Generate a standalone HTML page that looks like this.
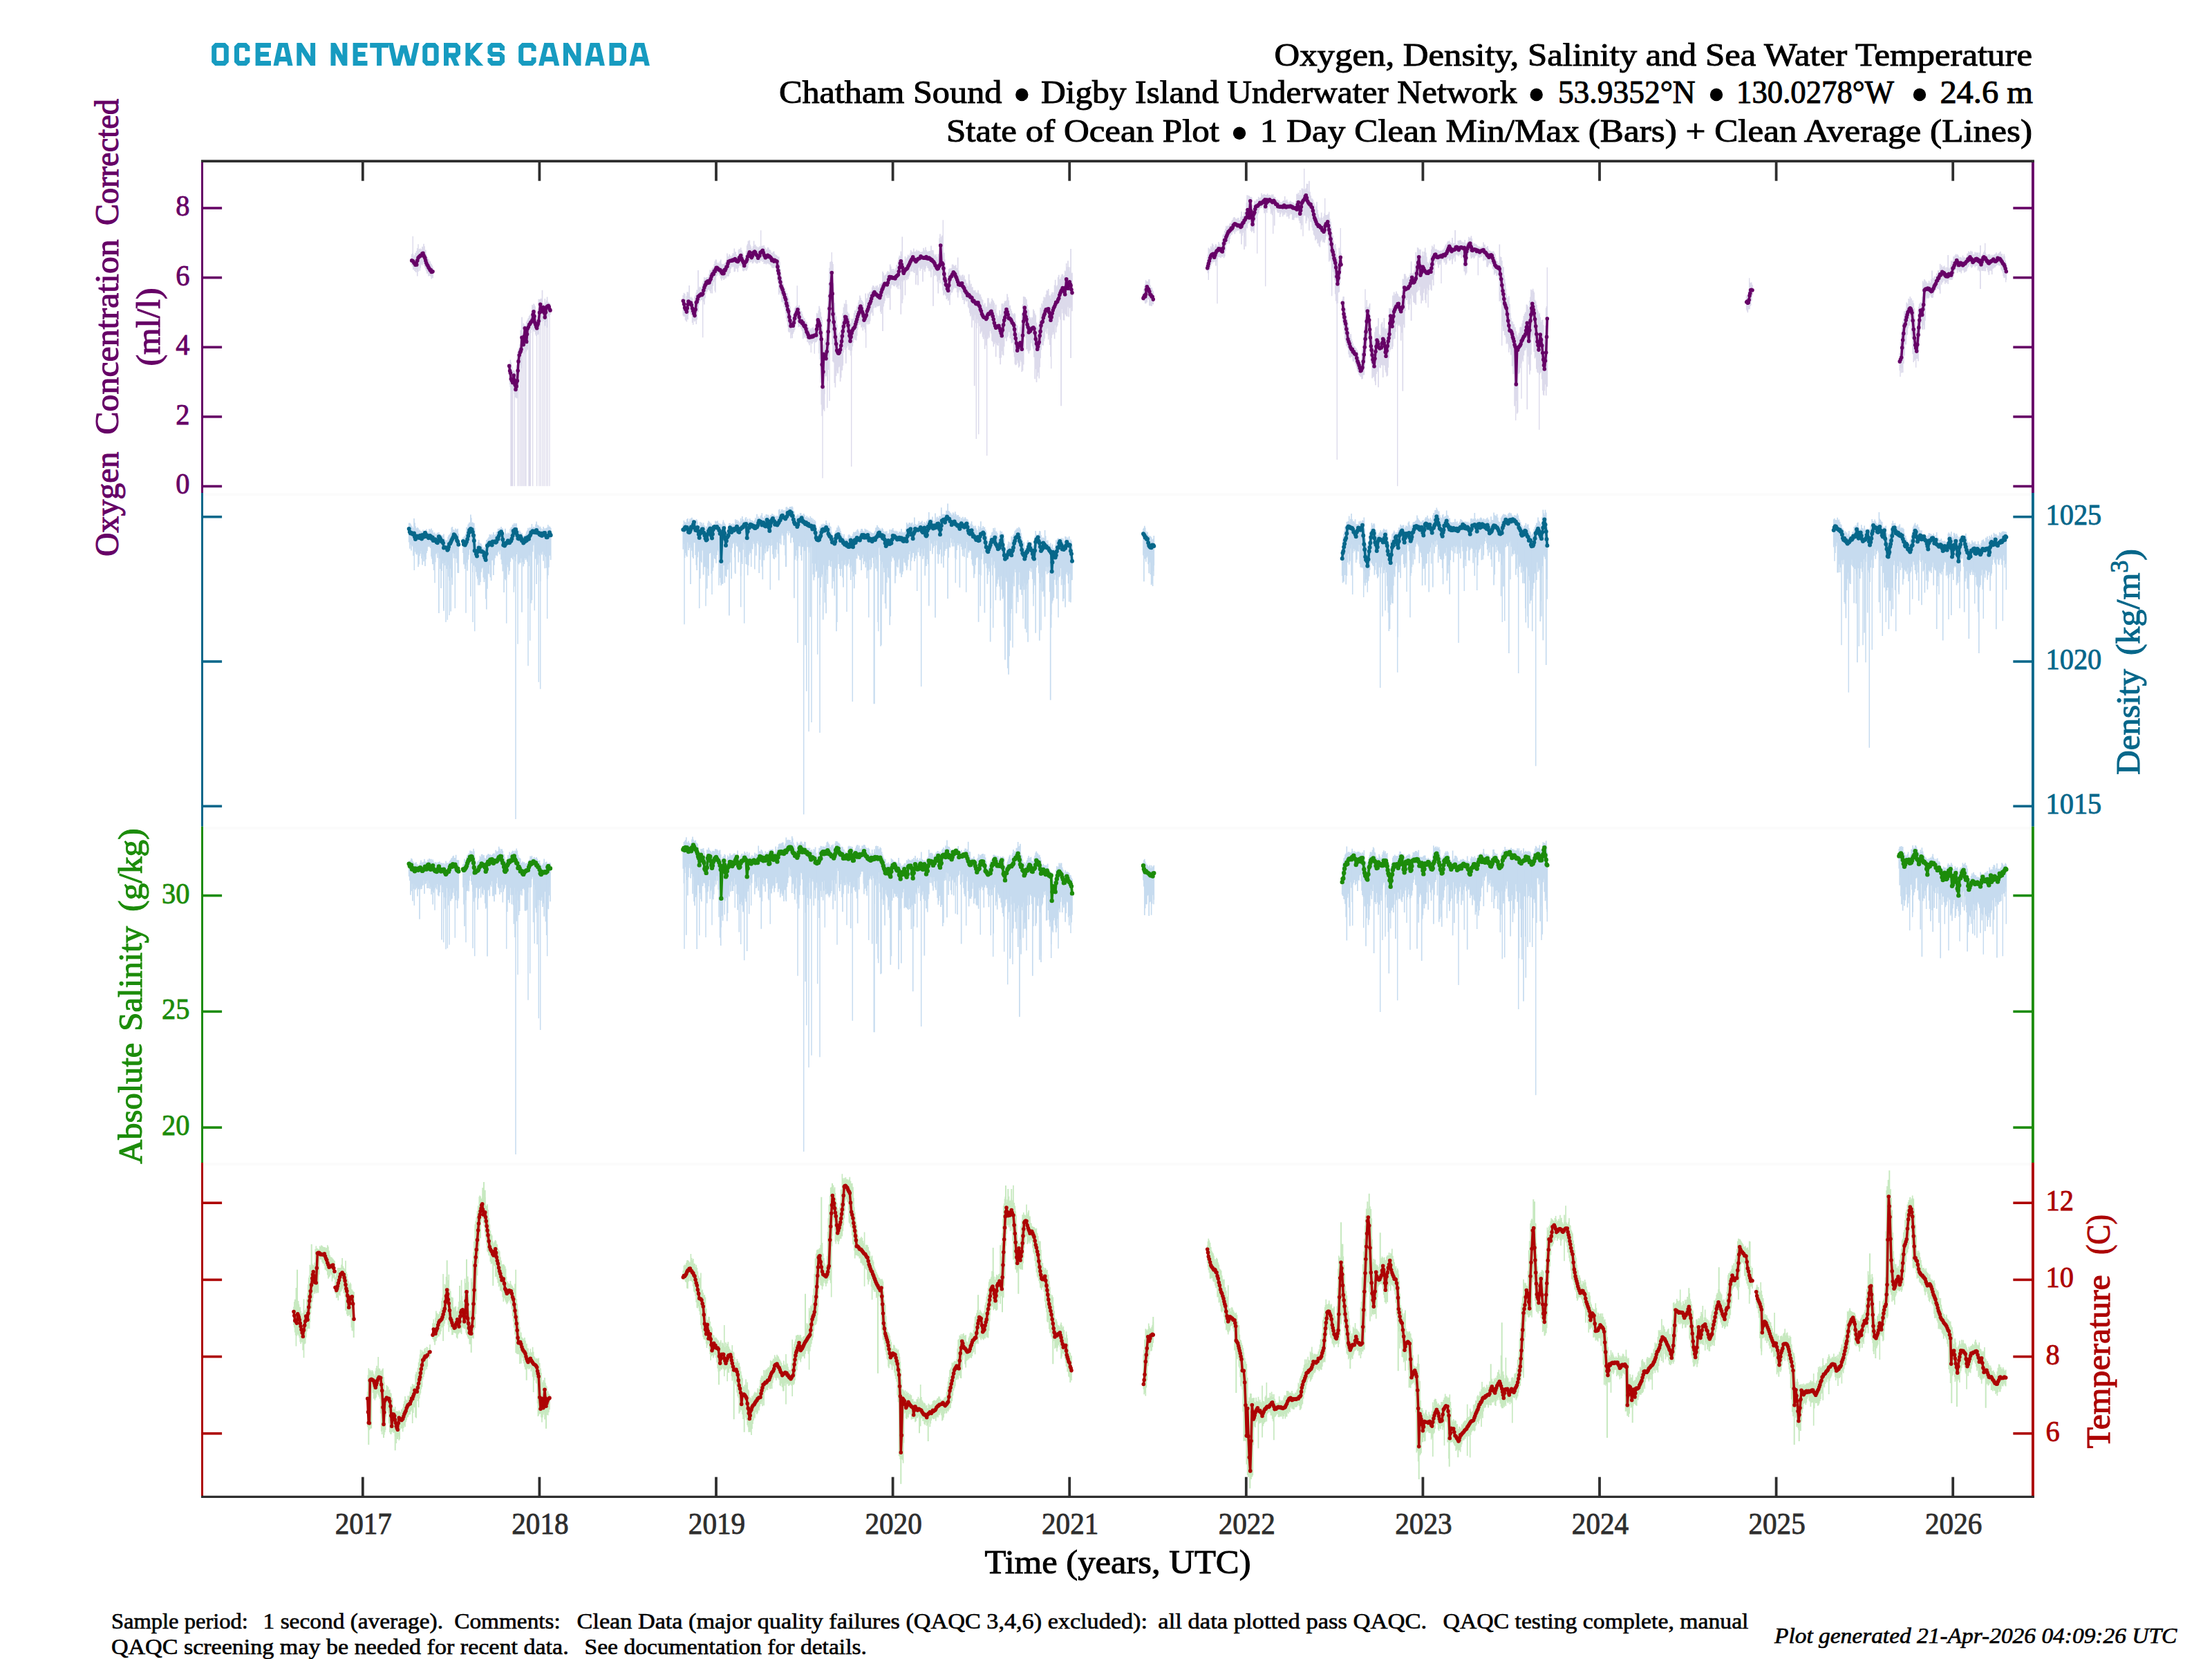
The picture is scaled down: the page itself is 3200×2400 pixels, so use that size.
<!DOCTYPE html><html><head><meta charset="utf-8"><title>plot</title><style>html,body{margin:0;padding:0;background:#fff}svg{display:block}text{font-family:"Liberation Serif",serif}</style></head><body>
<svg width="3200" height="2400" viewBox="0 0 3200 2400">
<rect width="3200" height="2400" fill="#fff"/>
<path d="M595.7 367.8v15.5m1.1-16.9v18.8m1-17.4v22.5m1.1-19.2v18.7m1.1-20.5v22.7m.9-26.2v26.6m.9-24.7v26.2m.9-31v27.6m1.1-31.5v40.4m1.2-36v29.5m1.2-32.8v24.5m1.1-24v31.2m.9-32.2v27.9m1-26.7v22m.9-21v19.3m.9-24.3v26.9m1-25.4v21.4m1-27v29.4m1-25.8v28.8m.9-22.6v24.7m.9-25.8v28m.9-21.5v24.4m1.1-20.5v23.9m1.1-21.9v21.7m1.1-20.4v24.3m1.1-21v20.5m1.1-21v21m1.1-17.6v18.6m.9-17.6v21.2m.9-19.5v16.4m.9-13.7v15.6" stroke="#dcdaeb" stroke-width="1.7" fill="none"/>
<path d="M736.7 527.0v18.9m.9-18.4v28.4m.8-35.3v39.3m.9-35.5v40.2m1.2-34.1v38m1.2-32.1v29.2m.8-29.2v26.3m.8-27.4v30.4m.9-28.6v32.9m.9-31.7v36.2m.9-30.5v31.1m1.2-46.9v48.1m1.1-61.8v61.6m.9-67.3v57.7m.8-61.4v51.9m1.2-54.6v38.2m1.1-42.5v30.2m.9-50.7v49.5m.8-49v44.4m1-63.8v74.1m1.2-51.5v29.6m1.1-43.4v37.8m1-35.9v34.9m1-33.3v41.4m1.2-41.8v38.7m1.2-43.3v42.2m.8-43.9v41.6m.8-43.7v43.6m1.1-45.8v34.5m1.2-37.3v25.5m1.1-27.4v26.9m1.1-25.5v25.2m1.1-31.2v26.3m1.1-36.1v32.6m1-30.5v33.2m1-36.7v40m1-39.1v37m1-34.5v37.2m.9-28.7v32.7m.9-24.4v26.6m.9-27.9v26.6m.9-28.6v27.7m.8-37.7v36.6m.9-50.2v51m1.2-50.9v43.8m1.2-43.7v38.7m.8-40v29.5m.8-28.8v33.4m1.2-46.1v42.2m1.2-22.9v24.9m.9-23.7v23.9m.8-23.8v21.9m.9-30.3v39.7m1.2-34v28.2m1.2-31.3v29.8m.9-34.7v44.5m.8-37.3v15.6m.9-15.1v18.8m.9-17.5v19.4m.9-19.8v17m.9-14.9v14.8" stroke="#dcdaeb" stroke-width="1.7" fill="none"/>
<path d="M988.3 426.9v29.5m1.2-32.6v34.3m1.2-33.2v32.9m.9-24.8v30.3m.8-25.6v26.1m.9-35.8v37.6m.9-43.3v39.2m.9-39.1v39.8m.9-37.6v30.3m1.1-41.8v38.9m1.1-22.6v22.9m1.1-20.5v23m1.1-25.4v26.8m1.2-24.8v35.6m1.1-30.7v29m1.1-26.2v23.9m1.2-34v36.2m1.2-38.5v37m1.1-40.5v45.7m.9-49.6v43.3m.9-42.2v26.5m.9-56v60.4m1.1-35.4v25.4m1.1-26.5v21.6m1.1-20.9v19.2m1.1-18.2v17.3m1.2-20.7v21.2m1.1-25.4v25.3m1.1-28v30.1m1.1-35.3v39.4m1.1-37.3v28.5m.9-29.3v22.9m.9-24.1v21.1m.9-20.2v20.2m1.1-20.9v18.3m1.1-19.1v18m1.1-22.2v23.2m1.1-29.1v30.9m1.1-29.5v32.5m1.1-33.6v27.5m1-29.9v36.2m1-37.6v26.8m1-26.5v21m1-26.2v24.4m1-28.5v42.9m1-45.4v29.8m1-29.7v24.1m1-19.7v18.6m1.1-16.5v13.7m1.1-16v15.4m1.1-13v16.3m1.1-21v21.4m1.1-23.3v27.6m1-21.6v24.3m1.1-23v20.3m1.1-21.2v20.1m1-19.7v22.7m1-23.9v22.7m1-23.2v19.2m1-21.6v24.5m1-27.3v24.5m1-33.4v28.3m1-24v29.1m1-28.2v27.8m1.1-31.8v28.2m1.1-26.1v25.1m1-23.8v18.2m1.1-18v13.6m1-16v17.8m1-20.5v18.5m1-17.8v19.4m1-26.7v33.7m1-28.7v28.2m1-28.5v23.2m1-19.4v20.7m1-19v18.8m1-18.3v23.3m1.1-32.1v26.1m1.1-27.5v24.5m1.1-23.6v22.9m1.1-25.6v26.5m1-22.9v23.6m1-20.9v23.2m1-21.8v25.7m1-22v22.7m1-20.2v19.3m1-19.4v18.4m1-21.6v21.1m1-27.1v29.2m1-36.9v34.8m.9-36.9v34.7m.9-39.2v34.5m.9-34.4v30.7m.9-31.8v30.2m1-23.7v25.6m1-23.5v22.7m1-18.5v17.7m1.1-18.7v21.8m1.1-24.9v24.6m1.1-32.5v30.6m1.1-24.2v22.3m1-23.3v25.9m1-23.7v24.4m1-23.7v24.7m1-19.8v19.9m1-23.9v22.5m1.1-21.5v20m1.1-22.3v23.9m1.1-23v19.3m1.1-20v21.3m1.1-21.9v20m1.1-20.6v23.8m1-22.7v21.2m1-22.9v27.3m1-24.5v22.2m1-20.6v22.4m1.1-19.8v20.8m1.1-22.2v20.2m1.1-22.7v23.6m1.1-23.1v22.6m1-20v21.6m1-21.3v21.1m1-19.7v21m1-18v19.2m1-19.2v21.6m1-21.1v21.5m1-23.7v24.2m1-24.5v23m1-19.3v20.3m1.1-19.2v18.2m1.1-17.9v24.2m1.1-22.8v27.9m.9-26.5v35.2m.9-34.7v37.6m.9-38.3v54.9m1.1-47.7v44.4m1.1-33.9v35.3m1.1-27.8v30.5m1.1-24.2v34.1m1.1-28.9v28.4m1.1-25.4v27.7m1.1-23.5v28.8m1.2-26.9v30.2m1.1-27v33.1m1-29v36.6m1-36.9v40.8m1-35.9v43.4m1-41v48.4m1.1-43.4v44.5m1.1-37.6v36.4m1.1-27.2v37m1.1-30v24.5m1.1-25.2v30.5m1.1-33.7v27.2m1.1-30.8v28.2m1.2-34.2v31.6m1.1-33.4v27.2m1.1-28.5v25.6m1.1-26.3v21.3m1.1-20.2v22.5m1.1-23.1v30.6m1.1-31.7v29.8m1.1-25.4v26.7m1.1-22.9v23.5m1.1-22.7v25.4m1.1-21.8v24.9m1.1-21.3v32.5m1.1-28.8v23.6m1-24.9v28.3m1.1-25v23.9m1.1-21v23.1m1-23.8v23.6m1-19v24.4m1-20.7v17.9m1-18.3v23.2m1-19.7v22.3m1-22.3v18m1-20.2v21.6m1-18.9v19.4m1.1-22.8v23.1m1.1-23.9v21.3m1-19v18.7m1.1-18.7v18.3m1.2-21.1v22.7m1.2-31.5v31m.9-42.4v41.2m.8-40.2v38.5m.9-35.4v31.6m.9-39.2v28.9m.9-35.4v68.6m.9-65.1v74.1m1.2-68.9v102.4m1.1-95.6v127.3m.9-122.6v138.8m.8-124.6v117.1m.8-94v83.7m.9-85.2v93.8m1.1-100.3v78m1.1-80.4v54.4m1.1-64.5v64.7m1.2-83v80.5m1.1-98.8v108m.9-123.4v107.4m.9-125.4v106.3m.9-128.5v108.8m1.1-117.4v98.2m1.1-98.8v93.7m1.1-94.4v103.6m.9-102.4v119.2m.8-116v141.1m1.2-113.7v115.2m1.1-86.6v115.9m1.1-102.7v109.3m1.2-103v86.5m1.1-74.5v66.8m.9-53.5v56.6m.8-47.9v48.7m.9-50.9v42m1.1-50.3v49.4m1.2-51.1v72.8m1.1-79.7v74.2m.9-79.7v69.1m.8-73.9v73.7m.9-82.5v75.8m1.1-84.6v65.6m1.2-71.2v63.9m1.1-62.6v65.9m1.1-72.1v91.8m1.1-85.8v63.5m1.1-52.4v46.8m1-44.5v47.7m1-47.7v52.8m1-46.4v45.5m1-38.2v40.4m1.1-40v46.9m1.1-53.4v46.2m1.1-45.6v39.6m1.1-40.4v35m1.2-42.9v38.4m1.1-42.4v39.8m1-38.4v41.7m1-44.5v44.9m1-49v42.3m1-43.8v34.9m1.1-39.4v32.6m1-35.8v32.5m1.1-39.1v42.2m1.1-39v34.7m1.1-31.6v39.9m1.1-38.9v37.4m1.1-35.6v41.6m.9-38.5v33.4m.8-27.7v27.4m1.1-24v27.7m1.1-52.2v57.2m1.1-49.2v36.5m1.1-37.8v35.1m1.2-41.6v44.8m1.1-43.6v40.3m1-43.4v46m1-46.7v42.5m1-42.8v32.7m1-33.6v31.6m1.1-37v36.3m1-38.7v43.7m1.1-43.2v32.6m1.1-30.5v26.5m1.1-25.4v28.2m1.1-31.4v31.6m1-30.4v27.5m1.1-29.5v30.8m1.1-27v26.5m1.2-27.8v27.5m1.1-31.9v31.3m1.1-30.6v39.5m1.1-41v43.9m1.1-45.2v40.1m1-56.1v86.3m1-84v48.6m1-44.8v40.2m1-40.4v37m1.1-38.4v29.3m1.1-29.6v30.7m1.1-33.7v37.3m1.1-39.2v33.6m1.2-32.4v37.8m1.1-36.8v32.9m1-44.7v65.8m1-62.7v32m1-27.1v22.1m1-23.5v23.2m1.1-20.2v20.3m1-23.2v24.7m1.1-20.8v21.3m1.1-24.1v22.3m1.1-24.4v22.9m1.1-27.9v32.6m1-32.4v30.6m1.1-36.5v40.9m1-45.8v40.4m1-43.1v36.9m1-35.6v47.3m1-54.9v91.3m1-87.2v39.3m1-64.5v96.4m1-63.2v32.2m1-29.7v27.3m1.1-25.4v25.3m1.1-34.3v56.2m1.1-52.4v27.7m1.1-29v31.8m1-33.7v29.1m1-32.2v35.3m1-33.8v30m1-30.2v28m1-31v26.5m1-31.5v27.8m1-26v29.1m1-27.7v27.8m1-28.4v22.3m1.1-27.3v34.3m1-29.7v30.9m1.1-30.7v27m1.1-27.6v48.2m1-50.3v36.7m1-33.4v33.2m1-35.4v49.9m1-49.7v24.4m1-23.9v20.9m1-19.1v26.6m1-27.2v23.2m1-23v24.2m1-24.9v22.3m1-22.5v43.7m1-48.7v26.8m1-24.2v29.1m1-27.2v29.9m1-35.6v31m1-26.8v23.3m1-21.3v19.2m1-19.3v23.7m1-23.6v24.5m1-25.1v29.1m1-29.4v26.8m1-26.9v30m1-37.2v45.6m1-39.3v28.2m1-28.4v26.9m1-26.3v80.5m1-75.6v26.3m1-24.1v29.9m1-29.7v27.2m1-29v30.3m1.1-26.7v28.3m1.1-24.5v32.3m1.1-40v56.9m.9-54.4v35.3m.9-60.7v56.9m.9-63v71.2m.7-62.8v52.1m1.3-56.6v52.6m1-54.5v71.1m1-44.8v53.5m.9-50.2v57.1m.9-61.7v57.7m.9-48v50.4m.9-40.6v42.3m.8-34.3v34.9m.9-29.6v34.7m1.2-30.4v28.9m1.2-37.6v41.3m1.1-46.2v45.1m1.2-45.8v53m.9-52.9v38.5m.9-38.7v32.1m.9-32.6v35.7m.9-40.8v40.5m.8-40.7v37.6m.9-36.6v34.5m1.1-33.2v30.8m1.2-31v32.5m1.1-33.8v32.8m1-28.6v29.6m1-29.1v35m1-50.5v58m1-39.1v32m1-25.8v22.6m1-22.5v22.3m1-20.7v22.8m1-21.2v24m1-26.7v32.9m1.1-33.8v36.9m1-33.2v33.1m1.1-35.6v41.6m1.1-36v30.4m.9-29.7v28.6m1-24v26.9m.9-26.2v25.3m.9-21.7v22.1m1-22.2v30.4m1-47.1v49.1m1.1-40.4v47.2m1.1-40.1v44.8m1-46.9v44.4m1.1-38.8v57.7m.9-58.5v43.8m1-39.3v43.8m.9-43.3v37.2m.9-37v137.7m1-138.5v35.9m1.1-32.3v44.2m1-44.4v51.8m1.1-50.8v37.8m1.1-42.2v47.8m1.1-43.3v39.6m1.1-37.4v45.7m1.1-46.4v57.1m1.1-53.2v51m1.1-48.2v46.3m1.1-44.6v53.5m1.1-46.8v49.8m1-46.3v39.7m1-45.5v66.5m1-59.4v43.7m1-45.9v56.3m1.1-55.9v45m1.1-57.6v59m1.1-59v54.4m1-48.2v51.2m1-48.9v39.2m1-39.7v33.3m1-36.3v46.2m1.1-50.6v61.4m1.1-59.1v60.5m1.1-59.2v66.1m1.1-63.2v59.8m1.2-51.2v48.5m1.1-54.6v75.5m1.1-63.4v43.7m1-40.7v43.4m1.1-38.9v39.9m1.1-43.4v39.2m1.1-47.4v69.4m1.1-61.6v70.8m1-72.7v62.8m1.1-78.1v68.6m1.1-69v74.3m1.2-72.5v73.6m1.1-76.1v63.3m1.1-66.3v54.3m1.1-53.4v52.3m1.1-53.8v58.9m1.1-68.2v62.7m1.1-58v56.5m1.1-51.9v45.8m1-37.5v37.5m1-38.6v47.6m1-42.4v38.2m1-35.8v47.2m1.1-43.9v43.3m1.2-41.8v40.3m1.1-39.6v55m.9-57v63.5m.8-62v72.3m.9-62.5v64m1.2-58.4v57.8m1.2-56.7v50.7m1.1-38.9v42.6m1-44.5v50.9m1.1-48.5v46.9m1.1-57.3v48.2m1.2-51.7v54.3m1.1-70.4v84.9m1.2-97.5v95.7m1.2-107.2v98.3m.8-98.5v78.7m.8-77.8v56.1m.9-56.2v49.8m.9-47.2v56.3m.9-55.4v72.3m1.1-64.8v64m1.1-57.2v60.8m1.1-59.9v63.2m1.1-53.2v49.4m1.1-48.5v47.5m1.1-44.8v34.6m1.1-37.6v33m1.1-32.4v41.6m1.1-53.7v56.9m1.1-54.6v67m1.2-63.2v94.6m1.1-92.1v77.9m1.2-67.3v86.3m1.2-79.4v71m.9-63.5v53m.8-63.7v68.6m.9-71.3v79.7m.9-84.9v68.8m.9-86.4v73.3m.9-70.5v58.5m1.1-67.3v60.2m1.1-58.1v58.6m1.1-64.7v64.8m1-70.2v63.9m1-61.6v57.9m1-59.8v49.9m1-53.8v49.7m1.1-55.5v62.5m1.2-62.3v54.5m1.1-56.8v73.1m1.1-63.9v57.7m1.1-57.6v71.5m1.1-67v84m1.1-90.5v63.7m1.1-66.4v61.9m1.1-57.9v54m1.1-57.8v60.8m1.2-71.3v77.9m1.1-85.5v65.8m1-57.4v67.8m1-66.1v58.3m1-60.7v58.4m1-70v65.3m1.1-68.5v60.9m1.1-54.3v53.6m1.1-54.6v59.1m1.1-62.2v187.1m1.1-190.4v50.1m1.1-50.5v56.7m1.1-53.5v63.5m1.2-64.8v65m1.1-71.9v61.8m1-60.1v61.9m1-74v76.1m1.1-71v71.5m1.2-80.5v67.1m1.2-58v72.3m1.1-66.4v53.5m.9-59.1v58.7m.9-85.3v158m.9-121.9v48m1-49.6v55.7" stroke="#dcdaeb" stroke-width="1.7" fill="none"/>
<path d="M1654.0 423.0v10.6m.9-15.6v17.6m.9-21.7v21.6m.9-24.6v28.1m.9-33.8v34.1m.8-32v27.2m.9-27.6v30.5m1.2-29.8v25.5m1.2-28.9v28.9m1.1-29v38m1.1-29.6v29.9m1.1-26.2v25.7m1.1-26v27.1m1.1-24.1v21.2m1.1-18.6v19.1" stroke="#dcdaeb" stroke-width="1.7" fill="none"/>
<path d="M1746.7 371.9v20.4m.8-23.7v26.6m.8-36.7v36.2m1.1-34.9v31.1m1.2-29.9v27.9m1.1-32.7v28.4m1.1-26.6v24.1m1.1-29.8v26.6m1.1-24.9v25.6m.8-21.5v20.9m.9-19.5v18.3m1.1-22.3v22.9m1.1-25.5v31.7m1.1-29.4v23.2m1-22.4v18.9m1-19.7v15.3m1-20.5v22.1m1-19.6v19.2m1-17.5v18m1.1-17.1v18.2m1.1-22.9v20.4m1.1-24.4v25.5m1.1-32.3v30.2m1.2-31.3v34.7m1.1-39.2v37m1.1-40.1v32.4m1-36.6v28m1.1-26.1v24.2m1.1-26.2v22.3m1-21.7v21.5m1-22.5v26.2m1-28.9v22.4m1-23.1v18.6m1.1-18.9v16.9m1.1-20.2v20.4m1-21.6v18.2m1.1-20.8v20.5m1-21.8v19.7m1-19.3v24m1-22.2v17m1-16.5v18.5m1.1-18.8v16.5m1.2-17.7v18.9m1.1-19.1v17.9m1.1-15.1v15.2m1-14.2v19.1m1.1-24.4v22.5m1.1-30v47.4m1-40.4v27.9m1-28.1v23.8m1-24.2v19.7m1-25.5v54.2m1.1-53.6v26.6m1.1-31v53.7m1.1-63.3v34.6m.9-45.7v48.1m.8-35.6v29m1.2-41v40.4m1.1-39.7v37.9m1.4-36.3v38.4m1-38.7v49.3m1-48.5v50.3m1.3-39.5v37.3m1-32.1v32.7m1-37.6v40.7m.9-46.7v37.6m.9-36.2v28.8m.9-30.2v25.6m1-28v21.6m1-21.6v23.4m1-23.2v21.3m1-25v23.3m1.1-21.5v17m1-17.3v15m1.1-15.6v15.4m1.1-21.5v21.1m1-18.8v16.8m1-16.4v15m1-15.9v21.8m1-22.4v27.9m1-26.8v26.2m.7-25.7v24.3m1-24.8v24.2m1-24v26m1-28.1v23.4m1-21v14.6m1-14.4v15m1-15.7v16.9m1-15.8v19m1-18.7v26.2m1-28.1v26.1m1-24.7v28.5m1-29.9v24.1m1-21.2v18.6m1-17.7v41.4m1-41.5v17.2m1-13.7v13.9m1-14v14.6m1-14.4v17.6m1-15.9v17.8m1-18.3v18.1m1-17.8v16.3m1-14v21.7m1-20.8v16.6m1-17.5v14.3m1-12.9v13.9m1-16.8v22.4m1-23.4v21.2m1-21.2v18.7m1-24.5v26.4m1-20.8v17.6m1-17v17.4m1-19.1v25m1-22.1v17.1m1-15.3v20m1-18.8v21.9m1-24.6v19.6m1-20.8v17.1m1-16.2v18.5m1-16.8v16.7m1-17.5v25.6m1-25.1v25m1-24.4v24.7m1.1-23.2v20m1-18.6v14.7m1.1-20.8v24.4m1.1-34.1v34.7m1.2-34.6v32.3m1.1-34.2v36.7m1.2-33.4v37.1m1.2-44.2v48m.9-40.5v39m.8-38.8v49.4m.9-59.6v53.4m1.1-53.3v40.2m1.2-39.1v30.7m1.1-29.2v36.8m.9-38.2v38.3m.8-36.6v31.7m.9-34.9v51m1.2-57.5v53.8m1.2-53.6v48m1.1-37.2v39.1m1.1-54.2v71.9m1.1-56.2v34.9m1.1-29.5v38.3m1.1-34.1v34.4m1.1-34.1v41.7m1.1-40.2v44.7m1.2-40.5v46.5m1.1-44v45.5m1.1-38.8v45.5m1.1-49.1v47.5m1.1-54.2v54.4m1.1-42.7v48.6m1.1-42v41.1m1.1-36.9v41.6m1.1-38.7v40.2m1.2-42.8v34.9m1.1-42.1v40m1.1-32.5v30.1m1.1-26.2v31.7m1.1-37.6v36.6m1.1-41.2v42.8m1.1-40.4v36m1.1-35.9v31m1.2-30.9v25.2m1.2-25.6v31.6m1-32.8v45.8m1-48.6v71.8m1.1-62v60.4m1.2-56.1v54.2m1.2-46.5v50m1.1-41.4v49.6m.9-45.6v46.4m.9-39.5v45.5m.9-38.8v47.2m.9-45.1v48.9m.9-52.5v72.4m.9-66.1v76.2m1.3-67v70.9m1-65.8v65.1m1.2-63.1v47.6m1.1-64.8v64m1-58.8v46.4m1-44.2v35.5m.7-34.8v26.2" stroke="#dcdaeb" stroke-width="1.7" fill="none"/>
<path d="M1942.3 432.7v32.5m.9-36.2v40.8m.8-40.7v45.6m.9-35.3v43.7m.9-34.6v42.3m.9-44.5v48.5m1.1-38.5v44.3m1.1-38.5v39.5m1.1-33.8v36.2m1.1-31.1v39.5m1.1-30.3v35m1.1-31.2v31.5m1-34.2v33.3m1-26v25.3m1-21.7v22.3m1-19.5v25.9m1.1-22.1v22.4m1.1-22.3v20m1.1-18.1v23.1m1.1-22v25.2m1.1-23v26.8m1.1-24.3v28.8m1.1-23.9v25.2m1.1-21.6v24.9m1.1-20.3v21.9m1.1-19v20.7m.9-22.2v21.1m.9-33.7v38.1m.9-43.6v43m1.2-54.1v48.9m1.1-62.4v62.1m.9-70v59.1m.9-72.4v62.5m.9-77.7v66m1.2-75.9v69.7m1.1-60v47.7m1.2-46.9v38.8m1.2-41.8v52.2m.9-54.8v69.1m.8-50.4v59.2m.9-47.2v54.3m.9-43.3v47.5m.9-38.3v57.5m.9-54v51.3m1-41.4v42.5m1-54.3v52.2m1-63.4v71.3m1-78.3v84m1-83.5v67.2m1-69.1v52.9m1-49.6v62.7m1-77.5v100m1-77.4v41.8m1.1-39.4v46.2m1.1-46.6v47.6m1.1-63.9v59.3m1.2-61.9v62.4m1.2-54.2v71.9m.9-72.9v54.3m.8-67.6v68.4m.9-53v53.8m.9-50v56.7m.8-60.6v63.6m1.2-59.9v65.7m1.1-69.5v68.5m.9-72.1v60.3m.9-76v62.7m.9-72.8v63.5m.8-63.5v60.9m.9-59v58m1.1-59.3v43.8m1.2-42.7v57.5m.9-77.3v74m.9-62.2v51.6m.9-68.5v60.4m1.1-55.5v62.6m1.1-65v55.3m1.1-58.9v48.1m1.1-45.1v42.2m1.1-41v42.8m1.1-39.9v42.8m1.1-42.1v40.5m1.2-39.7v42.5m1.1-42.8v63.1m.9-60.1v48.9m.8-61v48.8m.9-65.8v162.2m1.2-162v65.7m1.2-73.2v77.8m1.1-77.6v53.4m1.1-50.5v34.8m1.1-30.1v30m1.1-31.5v28.4m1.1-30.1v39m1-39v47.4m1.1-50.1v42.3m1.1-45.2v36.8m1.2-53.9v85.8m1.1-68.7v29.8m1.1-29.1v31.6m1.2-33v42.5m1.1-45.8v47.1m1.1-56.2v56.5m1.1-74v76.4m1.2-72v54.2m1.2-65.3v63.7m1-62.9v52.4m1-50.6v59.3m1.1-58.4v53.2m1.2-54v66.7m1.1-55.3v66.8m1.1-69.2v64.5m1.1-70.5v71.3m1.1-65.2v53.9m1.2-59.6v53.6m1.1-59.2v75.4m1.1-68.5v73.1m1-67v54.8m1.1-47.4v37.9m1.1-35.3v36.4m1-36.9v39m1-41.6v32.6m1-36.5v37.7m1-43.9v50.5m.9-58.1v59.9m.9-65.1v49.5m.9-47v46m1-46.8v55.7m1-59.5v44.3m1-37.9v24.1m1-22.9v18.5m1.1-19.3v18.2m1.1-17v16.2m1.1-15.5v20.1m1-20.5v25.9m1-23.9v17.7m1-18.6v20.2m1-20.6v18.7m1.1-17.8v14.4m1.1-15.5v13.4m1-14.3v13.2m1.1-13.8v15.9m1.1-17.7v20.8m1.1-23.5v20.7m1.1-23.3v29.4m1.1-28.7v26.9m1-30.4v23.8m1-25.9v25m1-23.6v19.6m1-21.4v29m1.1-26.8v26.2m1.1-25.3v23.7m1.1-23.4v19.2m1-27v38.4m1-29.1v22.1m1-23.5v20.9m1-20.7v18m1.1-36.9v45.3m1.1-25.4v15.4m1-14v13.1m1.1-13.4v15.4m1-21.5v20.9m1-20.4v22.3m1-23.1v19.8m1-20.2v21.5m1-21.3v19.4m1-17.5v23.9m1-21.6v17.4m1-19.3v18.1m1-15.9v33.7m1-34.9v42m.9-45.9v45.4m.8-40v42.1m.8-42.2v43.8m.9-44.7v43.2m1.1-44v33.4m1.2-36v22.2m.9-27.3v23m.9-21.3v20.2m.9-19.4v20.2m.9-22v27.7m.8-29.9v32.6m.9-28.6v27.9m1-22.7v21.2m1-19.3v19.6m1-18.7v20.8m1-22.3v20.8m1-18.8v16.5m1-17.2v16.6m1-15.4v15m1-13.9v13.4m1.1-11.7v13.5m1.1-14.3v15.9m1.1-15.1v16.2m1.1-15.3v12.7m1.1-13.4v14.7m1-15.3v13.5m1.1-13.1v11.7m1.1-18.2v26.9m1-23.3v17.9m1-18.4v22.9m1-19.2v19m1-17.1v16.9m1-19.2v28.9m1-29.8v30.3m1-26.7v24.1m1-20.9v18.2m1.1-18.9v18.1m1.1-17.4v19.4m1-18v17.3m1.1-17.8v19.2m1.1-18.9v24.7m1.2-25.6v26.7m1.1-24.4v31.9m1.1-30v28.2m1.1-22.5v21.9m1.1-17.7v21.9m1.1-21.2v20.5m1.1-17.7v15.9m1-14.6v21.7m1.1-50.4v82.7m1.2-64.8v63.4m1.2-62.6v66.1m1.1-61.2v95.1m1.2-84.6v78.3m.9-79.7v92.8m.9-80.7v77.7m.9-71.8v80.8m.9-75.4v68.7m.8-60.8v70.3m.9-62.6v72.3m1.2-67.1v65.4m1.2-61.3v63.6m1.1-69.8v81.6m1.2-70.1v62.9m.9-49.7v51.9m.9-44.8v53.4m.9-49.1v44.4m.9-42.3v63.4m.8-64.6v58.2m.9-53.2v71.1m.9-72.3v63.2m.9-56.7v112m.9-114.2v113.2m1.3-107.3v100.8m1.4-95.8v114.3m.9-110.7v109m.8-109.8v53.8m.9-59.3v59.2m.9-58.2v56.4m.9-65.4v59.1m.9-59.9v53.2m1.1-52.6v52.4m1.1-57.9v52.5m1.1-56.7v59.4m1.1-65.9v57.2m1.2-60.2v53.5m1.1-56.2v55.1m.9-54.4v51.1m.8-62.8v61.4m.9-60.7v151.1m1.2-149v72.5m1.2-68.7v80.4m1.1-92.5v106.9m1.2-112.2v106.7m.9-117.6v94.3m.9-89.1v65.6m.9-69.4v67.1m.9-69.4v61.7m.8-58.8v64.1m.9-61.9v86m1.2-75.2v84.9m1.2-82.5v80.5m1.1-75.6v92.8m1.2-86v90.7m1-88.2v89.2m1-84.6v76m1.2-77.9v88.9m1.1-83.1v80.7m1.2-73.9v73m1.2-75.5v85.4m1-85.9v102.4m1-95.1v101.2m.8-79.9v81.1m.8-81.3v74.2m1.2-94.2v85.3m1.2-110.7v126.7m.8-129.2v105.7m.8-105v115.6" stroke="#dcdaeb" stroke-width="1.7" fill="none"/>
<path d="M2526.7 426.9v21.3m.9-18.6v20.5m.8-20.9v21.6m.9-29.6v26.2m.9-29.3v28.5m.8-32.2v32.9m.8-38.6v34.3m.9-33.7v32.4m1.1-33.2v26.6m1.2-23v15.4" stroke="#dcdaeb" stroke-width="1.7" fill="none"/>
<path d="M2748.3 510.9v25.3m1.2-41.5v37.4m1.2-49.7v57m1-64.9v58.2m1-67.5v73.8m1.1-78.5v65.6m1.2-75.8v64.1m1.2-61.5v45.2m1.1-50.8v51.1m.9-61v47.6m.9-45.2v44.4m.9-45v36m1.1-43.2v38.6m1.1-37.3v38.3m1.1-42.6v36.5m.9-31.3v29.7m.9-32.3v52.6m.9-45.6v50.7m1.2-54.9v77.8m1.1-73.6v85.5m1.2-77.8v75.8m1.2-60.6v58.8m1-46.1v43.3m1-40.8v42.3m1.1-53.1v53m1.2-69.6v73.3m.8-78.8v64.2m.9-68.1v56.2m.8-57.3v47.6m.8-48.7v35.1m1.2-35.9v30.1m1.2-38v47.1m1-69.6v70.5m1-68.3v61.9m1.3-66.5v72.3m.9-71v58.5m.9-56.1v30.4m.9-31v24.7m1-22.7v20.6m1-18.6v20.3m1-22.3v22.5m1-25.7v24.5m1.1-21.6v18.3m1-18.4v18.3m1.1-23.1v25.9m1.1-38.3v39.5m1.1-29.2v28.5m1.1-27.4v23m1.1-26.3v23m1.1-22.5v20.4m1.1-21.2v20.6m1.1-24.3v21.9m1.1-22.3v21.6m1-25.6v26.7m1-26.7v20.9m1-20.4v27.6m1-37.7v43m1-36.1v17.6m1-22.6v28.2m1-26.1v23.1m1-21.6v21.4m1.1-23.1v20.3m1-21.4v21.5m1.1-19v23.8m1.1-20v17.4m1.1-21.5v22.7m1.1-22v19.1m1-37.3v41.8m1.1-22.4v15.9m1.1-17.1v17.1m1.2-21.1v21.4m1.1-27.5v27.6m1.1-27.2v27.3m1.2-27.7v25.4m1.1-31.7v27.7m1.1-27v24.1m1.1-26.4v21.8m1.2-23.6v23m1.2-21.3v17.9m.9-19.3v26.9m.8-25.8v21.7m.9-20.3v20.4m1-16.4v18.9m1-21.3v21.6m1-21.8v21.3m1-20.4v22.8m1.1-21.2v17.3m1.1-22v20.1m1.1-17.1v19m1.1-19.8v22.8m1.1-21.6v20.1m1-19.7v19.9m1.1-21.1v20m1.1-25.4v21.6m1-21.9v19.9m1-22.7v22.2m1-20.5v17.2m1-17.7v17.2m1-19.3v22.7m1-20.8v22.9m1-23.7v23m1-19.2v17.7m1.1-17.2v16.1m1.1-16.7v16.4m1-19.4v22.3m1.1-20.3v18.6m1.1-20.1v19.9m1.1-18.8v17.3m1.1-18.2v26m1.1-22.1v19.9m1.1-23.6v27.2m1.1-37.6v62.9m1.1-46.5v16.2m1-17.8v22m1-24.1v23.7m1-24.7v25.3m1-27.6v24.4m1.1-26.5v29.9m1.1-26.9v26.9m1.1-24.3v19.7m1-17v16.5m1-17.5v21.1m1-22.9v26m1-26v30m1.1-30.3v24.6m1.1-22.7v21.5m1.1-19.2v20.2m1.1-23.5v28.6m1.1-25.9v17.7m1-19.2v18.6m1.1-19.9v18.2m1.1-18.6v19.1m1-19.9v18.1m1-20v18.7m1-16.1v15.5m1-14.4v14.6m1-16.9v16m1-16.4v18.4m1-19.9v18.9m1-19.8v20.9m1.1-17.1v22.5m1.1-23.1v25.1m1.1-21.6v24m.9-21.3v26.3m.9-31.9v34.2m.9-31.3v31.5m1.2-25.2v23.7m1.1-20v24.3" stroke="#dcdaeb" stroke-width="1.7" fill="none"/>
<path d="M1016.7 426.7V488.3M1190.0 558.3V691.7M1192.7 516.7V595.0M1196.7 500.0V590.0M1200.0 500.0V580.0M1231.7 496.7V675.0M1203.3 365.0V400.0M1100.7 333.3V366.7M597.3 341.7V376.7M605.0 353.3V373.3M1002.7 453.3V470.0M1035.0 396.7V423.3M1153.3 413.3V453.3M1252.7 463.3V503.3M1173.3 486.7V510.0M1178.3 486.7V511.7M1412.3 440.0V635.0M1415.7 440.0V628.3M1427.7 463.3V659.3M1934.3 413.3V665.0M1761.0 366.7V439.3M1830.7 300.0V414.3M1818.7 300.0V366.7M1886.7 244.0V286.7M1364.3 318.3V380.0M1520.7 463.3V533.3M1252.7 463.3V503.3M1306.0 396.7V433.3M1748.3 388.3V405.0M1841.7 295.0V338.3M1885.0 295.0V341.7M1800.0 323.3V343.3M1926.7 360.0V428.3M1916.7 286.7V323.3M1934.3 413.3V665.0M2021.7 453.3V703.3M2192.7 556.0V608.3M2226.7 505.0V621.7M2238.3 386.7V460.0M2066.0 396.7V445.0M2085.0 373.3V410.0M1926.7 386.7V428.3M1939.3 330.0V373.3M2201.0 500.0V576.7M2172.7 406.7V500.0M1975.0 418.3V453.3M2120.0 383.3V398.3M2138.3 363.3V398.3M2528.3 440.0V452.3M2530.7 402.3V420.0M2749.0 521.7V545.0M2771.7 508.3V531.7M2871.7 351.7V373.3M2901.7 395.0V408.3" stroke="#dcdaeb" stroke-width="1.4" fill="none"/>
<path d="M739.0 544.8V703.3M740.3 550.2V703.3M741.7 555.0V703.3M744.3 550.8V703.3M749.0 538.0V703.3M751.0 515.7V703.3M753.3 507.0V703.3M755.3 488.6V703.3M757.3 500.0V703.3M759.3 476.7V703.3M761.0 489.8V703.3M765.0 470.8V703.3M766.3 468.8V703.3M767.3 467.3V703.3M770.7 458.7V703.3M776.7 475.0V703.3M780.0 458.0V703.3M782.3 445.7V703.3M785.0 447.4V703.3M787.3 452.3V703.3M790.0 448.3V703.3M792.3 444.0V703.3M795.0 446.0V703.3" stroke="#dcdaeb" stroke-width="1.3" fill="none"/>
<path d="M591.7 756.5v28.1m1.1-28.2v37.4m1.1-36.1v30.1m1.1-27.5v36.1m1-34.9v27.1m1-25v26.9m1-27v40.4m1-54v46.9m1-40.5v36.7m1-31.8v37.3m1-34.5v37.4m1-36.7v37.8m1-39.5v36.9m1-35.6v55.6m1-51.9v48.4m1-50.1v37.9m1-35.1v31.8m1-32.9v29.1m1-27.5v38.3m1-38.9v48.3m1-50.9v35.3m1-33v43.5m1-43.2v36.5m1-35.9v49.5m1-52v42.2m1-43.7v34.7m1-31.6v28.3m1-27.7v21.6m1-20.4v20.6m1-26.1v24.5m1-22.8v24.8m1-25.5v26.9m1-28.3v40.7m.9-35.6v38.7m.9-41.1v49m.9-45.7v45.4m1-43.9v53m1-54.8v34m1-31.7v40.6m1-40.4v28.7m1-29.3v28m1.1-29.7v36.8m1-36v28.3m1.1-29.5v117m1.1-114.6v35.5m1-35.2v50.2m1-48.9v76.8m1-75.9v51.1m1-51.6v40.7m1-40.3v36.4m1-38.8v111.2m1-104.4v34.8m1-33.1v36.9m1.1-36.8v29.7m1.1-28.3v40.6m1.1-41.8v36.3m.9-40.9v41m.9-43.3v59.9m.9-60.9v66.7m1.1-67.6v50.3m1.1-52.6v114.3m1.1-121.3v72.3m1.1-73.6v84m1.2-79.8v34.4m1.1-33.9v41m1.1-39.9v33.4m1.1-36.5v33.6m1.1-31.9v41.8m1.1-42.4v48.8m1.1-49.7v64m1.1-56.8v57" stroke="#c6dbef" stroke-width="1.7" fill="none"/>
<path d="M670.0 777.6v22.5m.9-22.5v39m.9-41.4v38.7m.9-36.7v45.7m1.1-50.9v46.4m1.2-55.6v51.2m1.2-51.3v63.1m1.1-67.1v50.8m.9-52v45.3m.9-47v39.3m.9-37.3v28m.9-41.2v118.1m.9-113.5v42.6m.9-35.9v58.9m1.1-59.2v72.4m1.2-71.3v61.7m.8-61.6v55.6m.9-48.7v53m1.1-43.7v47.2m1.1-34.1v41.3m1.1-37.4v44m.9-45v48.4m.9-53.4v62.6m.9-65.6v55.2m1.1-51.1v61.4m1.1-60.5v56.1m1.1-55.5v41.1m1.1-38.5v33.4m1.1-30.6v29m1.1-27.4v41.8m1.1-43.9v50.6m1.2-50.1v45.8m1.1-52.2v80.9m1.1-85.6v100.5m1.2-101v71.3m1.1-73v50.5m1.1-52.1v53.3m1.1-57.3v44.5m1.1-43.7v61.3m1.2-62.2v67m1.1-63.9v34.6m1.1-37.3v37.2m1.1-40.5v62m1.1-58.6v43.9m1.1-43.9v33.9m1.1-34.3v30.5m1.1-34v33.6m1.1-34.1v35.5m1.2-39.8v34.3m1.1-33.8v31.8m1.1-32.8v37.7m1.1-36.9v31.1m1.1-34.2v47.4m1.2-45.3v52.2m1.1-51.6v61.8m.9-54.9v45.2m.9-44.1v84.4m.9-77.9v39.4m.9-53.8v73.2m.9-66.8v68.4m.9-67.7v64.3m1.1-62.9v43.8m1.1-46.7v50.1m1.1-49.1v60.2m1.1-59.8v53.9m1.1-60.6v47.6m1.1-49.5v43.7m1.1-44.8v45.1m1.2-48.2v50.2m1.1-50.5v45.8m1.1-47.7v91.7m1.2-89.8v46.8m1.1-48.4v54.9m1.1-54.8v44.8m1.1-39v35.9m1.1-32.3v48.4m1.2-47v48.4m1.1-49v46.5m1.1-44.5v44.9m1.1-42.1v35.5m1.1-36.7v114.7m1.1-110.9v38.2m1.1-37.9v44.4m1.1-44.7v41.2m1.1-41.5v33.1m1.2-35.1v37.8m1.1-41.4v39.1m1.1-40.7v45.4m1.1-48.9v102m1.1-99.7v37.5m1.1-40.3v55.7m1.1-55.1v40.5m1.1-41.4v109.8m1.1-114.9v110.3m1.2-104.7v34.7m1.1-36.1v26.6m1.1-26.3v22.3m1.1-21.7v45.7m1.1-50.2v49.7m1.1-53.8v90.7m1.1-85.9v57.8m1.1-57.2v42.1m1.1-41.3v53.9m1.2-51.7v40.7m1.1-41.7v79.3m1.1-76.8v35.7m1.1-32v34.4m1.1-36.9v32.4m1.1-35.8v49.4m1.1-47.3v38.5m1.1-37.3v56.9m1.1-58.4v41.4m1.2-41.5v58m1.1-58.9v74.7m1.1-78.4v73m1.1-70.5v59m1.1-59.2v42.2m.8-41.2v36.5m.9-35.3v46.4" stroke="#c6dbef" stroke-width="1.7" fill="none"/>
<path d="M988.3 758.7v36m1.1-41.8v34m1.2-31.9v52m1.1-51.4v44.4m1.1-44v47.6m1-52.7v54.7m1.1-55.7v34.6m1.1-29.8v41.4m1-41.6v38.2m1-42.3v37.5m1-34.2v91.3m1-95.6v42.4m1-43.1v48m1-45.2v54.5m1-54.5v56.5m1-54.2v31.1m1.1-30.9v31.3m1.1-31v48.7m1.1-51.9v66.4m.9-65.6v73m.9-70.3v51.6m.9-46.4v38.8m.8-36.2v34.3m.9-35.7v33.7m1.1-39.7v81.9m1.2-76.3v51.1m.9-55.7v57.7m.9-55v37.7m.9-37.4v33.3m.9-36.1v75.2m.8-71.4v38.8m.9-38.2v59.7m1.2-54.9v54.4m1.2-58.2v59.5m1.1-59.1v89.6m1.2-95.2v66.1m1.1-69v79.4m1.1-78.2v46.3m1.1-43.3v42.3m.9-43.7v42.4m.9-40.6v71.9m.9-70.7v48.8m.9-48.5v66.3m.9-65.9v61m.9-62.5v44.8m1.1-44.9v49.5m1.1-54.3v55.4m1.1-54v59.7m1.1-60.8v49.2m1.1-49.8v42.7m1.1-39.4v41.2m1.1-40.6v56.2m1.2-55.9v78.6m1.1-78.1v84.8m.6-83.2v87.3m1.4-88.1v86.3m.9-89.6v89.1m.8-92.1v46.6m.9-43.7v62.7m.9-60.8v53.5m.9-52.1v74.6m.9-66.1v65.1m.9-62.7v65m.9-68.2v51.5m.9-54.3v60.4m1.1-62.9v55.1m1.1-59.3v133.6m1.1-133.7v56.9m1.1-55.2v40.9m1.1-41.3v79.2m1.1-77.7v33.1m1.1-35.7v29.7m1.2-28.3v26.9m1.1-27.1v48m1.1-55v78.8m1.1-75.8v31.3m1.1-33.6v38.2m1.1-34.6v35.6m1.1-37.9v60.2m1.1-56.3v39.8m1.1-42v44m1.2-49.1v83.6m1.1-80.2v59.5m1.1-65.7v69m1.1-64.9v44.1m1.1-41.6v30.9m1.1-31.5v33.6m1.1-36.8v56.1m1.1-58v68m1.4-63.2v64.4m1-66.5v81.7m1-77.9v63.5m1-63.6v48.1m1-52.1v46.9m1-44.9v47.8m1-45.8v46.4m1-48.3v40.8m1-39.6v40.9m1-40.3v29.2m1-28.4v31.7m1.1-34.2v71m1-74.5v41.4m1.1-39.1v52.4m1.1-59.9v42.3m1.1-36.2v33.2m1.1-35.8v40.7m1-38.9v79.9m1.1-79.1v59.9m1-63.5v44.8m1-45.8v39.7m1-42.7v77.4m1-71.8v90.4m1-88.9v53.9m1-52.2v59.3m1-64.1v47.3m1-44.1v50.9m1.1-56.3v45.4m1.2-45.3v53.9m1.1-52.3v51.7m.9-52.7v48.5m.8-46.3v41.9m.9-36.9v37m.9-40.7v37.8m.9-41v45m.9-44v33.4m1-36.6v46m1-44.1v56.9m1-57.3v63.3m1-62.3v63.7m1.1-62.5v48m1.1-46.6v58.6m1.1-60.7v49.2m1.1-48.4v37.8m1.2-38.3v55.1m1.1-63.8v102.1m1-103.2v49.6m1-46.6v40.2m1-37.9v46.1m1-50.7v37.6m1.1-37.9v34.9m1.1-32.8v36.1m1.1-36.9v50.7m1.1-46.4v38.1m1.1-42.4v65.3m1.1-69.8v86.3m1.1-86.6v38.1m1.2-36.3v32.8m1.1-32.1v38.7m1.1-40.1v33.9m1.1-35.3v38.3m1.1-38.4v52.6m.9-51v42.2m.9-44.3v45.7m.9-44.2v43.1m1.1-37.9v45.5m1.1-44.7v125.4m1.1-118.8v63.2m1.1-60.6v55.2m1.1-57.9v49.7m1.1-50.6v65.7m1.1-67.3v63.7m1.2-61v43.3m1.1-44.4v45m1-48.5v43m1-42.7v60.7m1-57.7v65.8m1-66.7v46.8m1.1-46.2v46.1m1-48v53.9m1.1-52v51.8m1.1-48.8v49m1.1-47.8v39.1m1.1-42v35.2m1-31.4v41.2m1.1-43.1v43.2m1-41.6v49.8m1-48.5v41.2m1-45.5v145.8m1-141.1v32m1-34.5v42m1-37.8v61.7m1-64.3v80.4m1-76v84.4m1.1-87.4v83m1.2-81.1v61.5m1.1-54.6v66.1m1.1-60v57.8m1.1-53.1v38.4m1.1-43.7v69.9m1.1-68.7v67.6m1.1-73.3v113.3m1.1-113.4v88.4m1.1-91.7v76.1m1.2-75.3v71.7m1.1-73.3v138.8m1.1-136.8v57.9m1.1-59.5v99.8m1.1-99.2v73.8m1.1-79.5v134.3m1.1-130.5v67.2m1.1-64.9v85.8m1.1-84.8v59m1.2-62.7v53.9m1.1-48.9v57.3m1.1-56.7v58.3m1.1-51v42.7m1.1-38.2v77.9m1.1-77.7v60.8m1.1-56.5v62.8m1.1-66.9v87.7m.9-91.9v52.7m.9-54.9v52.7m.9-53.4v146.3m.9-150v58.5m.9-56.1v50.8m.9-56.2v41.7m1.1-39.7v53.7m1.1-51.5v58.4m1.1-55.2v65.6m1-62v51.6m1-50.1v38.4m1-35.3v59.6m1-59.6v73.6m1-76.7v44.9m1-38.7v37.8m1-37.5v31m1-31.4v40.4m1.1-39.9v37.2m1.1-36.8v38.4m1.1-44v41.6m1.1-42.9v36.4m1.2-34.7v46.2m1.1-45.1v63.4m1.1-62.9v42.2m1.1-43.1v51.8m1.1-54.8v60.4m.9-63.3v64.7m.9-62.3v79.4m.9-81.1v58.6m1-59.6v62m1-61.8v38.6m1-41.1v41.5m1-42.7v35.3m1.1-33.1v35.6m1-33v34.1m1.1-33.3v38.5m1.1-41.9v42.4m1.1-45.2v60.1m1.1-60.2v42.5m1-39.8v35m1.1-33.9v47.6m1-47v43m1-47.6v47.6m1-46.4v55.2m1-55v47.8m1-43.5v66.3m1-69.9v58.6m1-56.9v53.6m1-52v54.1m1.1-55.7v41.3m1.1-39.8v54.1m1.1-53.8v50.3m1.1-49.6v36m1.1-35.6v35.6m1-35.4v43.3m1.1-44.7v31.8m1.1-34v37.8m1-42.4v59.1m1-59.5v46.4m1-49.7v66.7m1-64.4v39.4m1-38.4v29.8m1-27.8v25.9m1-26.4v38.4m1-37.2v45.4m1.1-44.9v49.9m1.1-52.4v49.4m1-47.8v94.7m1.1-91.8v53.2m1.1-51.2v57.9m1.2-59.6v104.5m1.1-103.6v111m1.1-112.1v74.6m1.1-71.1v50m1.1-49.6v62.8m1.1-63.9v65.3m1.1-70.4v138.2m1.1-132.2v49m1.1-54.8v46.3m1.2-46.6v38.8m1.1-40.6v43.3m1.1-39.9v38.5m1-38v42.8m1.1-41.1v74m1.1-76v65.6m1-64v50.4m1-51.2v45.2m1-42.8v50.1m1-50.1v38.6m1-40.6v38m1-37.9v60.6m1-59.2v56.5m1-61.9v70.1m1.1-64.3v60.3m1.1-61.6v57.3m1-55.2v36.5m1.1-37.8v43.3m1.1-44.3v45.3m1.2-49.9v53.5m1.1-62.2v66.8m1.1-64.5v61.1m1.2-60.3v50.7m1.1-53.5v45.6m1.1-45.9v41.4m1.1-39v67m1.1-68.7v55.1m1.2-56.1v50.8m1.1-45.8v39.2m1.1-41.1v41.1m1.1-51.3v63.5m1.1-54v50m1.1-48.8v44.5m1.1-44.6v29.8m1-29.3v34.1m1.1-36.4v41.6m1.1-45.2v38.7m1.2-35.8v47.9m1.1-48.9v48.8m1.1-49.5v45.6m1.1-47.1v40.8m1.1-36.6v51.1m1.2-50.6v46.1m1.1-49.3v38.3m.9-35.7v75.1m.9-75.3v57.9m.9-59.6v63.4m.9-65.6v55.6m.9-55.4v45.4m.9-48v65.1m1.1-75.1v135.3m1.1-125.8v30m1.1-29.2v45.7m1-46.4v34.8m1-33.9v35m1-39.1v54m1-48.5v39.5m1-37.9v35.4m1-36.3v28.9m1-40v150.8m1-141.7v37.4m1.1-40.7v33.8m1.1-34.8v54.2m1.1-51.4v65.3m.9-66.4v53.1m.9-55.9v55.5m.9-50.3v43.4m.9-48.2v46.9m.9-59.4v81m.9-71.2v61.2m1.1-61.3v40.6m1.1-41.1v77.9m1.1-77.2v59.7m1-60v53.2m1-53.3v50.2m1-55.1v45.3m1-45.1v54.9m1.1-65.4v137.4m1.1-127v67.8m1.1-66.9v51.3m1.1-49.5v50.7m1.2-49.7v35.9m1.1-33.9v40.7m1-39.7v44.8m1-49.1v38.7m1-37.3v47.9m1-44.7v39.3m1.1-44.9v67m1.1-63.5v65.4m1.1-62.7v49.4m1.1-50.6v40.7m1.1-41v44.1m1.1-41.7v39.3m1.1-39.1v102.4m1.2-97.4v34.1m1.1-37.8v42.2m1.1-39.7v43.9m1.1-47.6v56.9m1.1-53v43m1.1-44.7v55.8m1.1-57.6v45.1m1.1-43.1v38.2m1.1-36.7v32.3m1.2-32.7v55.8m1.1-53.5v43.1m.9-41.1v43.9m.8-39.9v31.8m.9-30.5v35.5m1.1-38.8v39.6m1.2-42.9v55.1m1.1-50.2v57.7m1.1-54.5v56.6m1.1-58.2v75.6m1.1-72.2v66.3m1.1-69.9v57.1m1.1-53.1v43.1m1.1-40.8v39.5m1.1-34.8v35m1.2-45.8v139.1m1.1-134.4v65.6m1.1-68.7v47.4m1.1-55.4v78.2m1.1-68v44.8m1.1-45.9v31.1m1.1-33.5v39.9m1.1-38.1v53.5m1.1-53.7v123.9m1.2-120.4v48.8m1.1-46.4v46.3m.9-39.7v46.6m.8-41.7v64.7m.9-61.6v48.8m1.1-48.9v39.5m1.2-43.2v47.7m1.1-51.9v153.5m1.1-154.5v44.1m1.1-47.9v36.2m1.1-37.1v63.1m1.1-68.5v53.3m1.1-50.1v45m1.1-48.8v58.4m1.1-53.3v99.8m1.2-99.5v79.9m1.1-77.6v73.4m1.1-67.9v61.9m1.1-58.5v54.8m1.1-61.9v75.5m1.1-80.6v101m1.1-98.2v62.9m1.1-64.7v83.9m1.2-80.9v94.5m1.2-94v91.2m1.1-85.3v87.2m1.2-75v164.1m1.1-156.7v38m1.1-40.8v46.6m1.1-51.3v40.5m.9-43.5v100m.9-103.9v192.4m.9-191.5v165m1.1-158.9v90.6m1.1-95.9v102.3m1.1-111.7v105.3m.9-99.4v76.6m.9-81.1v67.2m.9-70.6v60m1.1-61.3v75.8m1.1-79.9v55.1m1.1-56.6v61.3m1.1-62.6v121.8m1.2-123.6v100.5m1.1-99.1v105.8m1.1-108.4v83.5m1.1-82.5v64.6m1.1-62.3v87.1m1.1-81.6v81.7m1.1-75.7v83.4m1.1-79.3v66.9m1-63v52.7m1-53.7v68.9m1-61.3v51.8m.9-50.3v116.3m1-113.5v55.8m.9-62.7v56.7m.9-61.7v59.5m1.1-62.3v147.2m1.1-145.1v54.8m1.1-54.3v41.6m1.1-40.5v36.5m1.2-37.5v43.3m1.1-41.9v36.9m1.1-32.6v47.8m1.1-49v70.6m1.1-76v59.6m1.1-66.7v70.5m1.1-78.8v147.9m1.1-142.6v47.9m1.1-47.3v36.5m1.2-34.8v42.4m1.1-46v57.3m1.1-61.3v158.9m1.1-158.4v75.2m1.1-69.4v79.9m1.1-75.7v56.9m1.1-57.9v78.5m1.1-78.2v76.8m1.1-76.3v85.1m1.2-96.2v125.2m1.1-117.1v51.3m1-44.6v38.1m1-33.2v43.9m1-49.3v39.2m1-33.6v41.9m1-41.1v31.8m1-30.2v66.9m1-70.8v227.3m1-221.5v97.9m1-98.2v81.9m.8-85.3v82.5m.8-76.9v75.1m1.1-74v70.5m1.2-72v45.9m1.1-50.1v43.1m1.1-50.4v65m1.1-64v84m1.1-87.1v60.3m1.1-60.9v55.6m1.1-55.3v56.2m1.1-54.2v52.5m1.1-54.6v43.2m1.2-43.7v68.3m1.1-65.1v56.2m1.1-58.9v91.3m1.1-86.4v82.3m1.1-83.2v63.3m1.1-70.1v102.5m1.1-102.1v54m1.1-51v48.3m1.1-50.2v55m1.2-52.2v63.9m1.1-68.2v94.6m1.1-86.6v46.3m1.1-49.9v91.1m1.1-88.4v56.1m1-49.6v49.7" stroke="#c6dbef" stroke-width="1.7" fill="none"/>
<path d="M1654.0 764.8v38.7m.9-39.8v77.6m.9-80.5v40.1m.9-37.3v45m1.1-40.2v44.3m1.1-41.8v35.8m1.1-37.1v35.2m1.1-30.3v41.7m1.1-41v54.1m1.1-53.5v37.9m1.1-38.3v55.5m1.2-53.6v68.8m1.1-65.8v63.8m.9-63.8v67.6m.8-68.5v46.9m.9-51.3v42.9" stroke="#c6dbef" stroke-width="1.7" fill="none"/>
<path d="M1941.7 790.2v42.9m.8-51.9v62m.8-66.1v62.7m.9-67.9v69.5m.9-73.2v53m.9-59.5v70.2m1.2-72v85.7m1.1-90.7v78m1.1-78.3v59.2m1.2-59.7v46.8m1.1-54.3v70.2m1.1-61.1v56m1.1-60.9v42.8m1.1-50.5v89.5m1.1-81.4v36.5m1.1-33.3v45.7m1.1-46.4v40.2m1.1-38.1v42m1.2-46.6v44.4m1.1-37.7v56.1m1.1-55.3v50.9m1.1-51.6v38.9m1.1-38.5v39.6m1.1-43.7v33.6m1.1-31.5v59.4m1.1-62.3v67.3m.9-65.5v40.8m.9-40.9v66m.9-68.6v68.5m1.2-67.8v69.3m1.1-74v78.1m.9-62.3v78.8m.9-64.5v68.6m.9-60.6v51.6m1.2-49.8v54.5m1.1-54.1v46.4m1.2-52v57.3m1.2-65.5v58.6m.9-63.9v54.7m.8-56v44.7m.9-48.4v44.2m1.1-52.4v58.4m1.2-55v57.2m1.1-59v60.7m.9-61.9v61.6m.8-60v73.2m.9-65.9v58.6m1.2-57v46.5m1.2-40.6v57.4m1.1-55v60.8m1.2-62.5v60.1m1.1-63v49.7m1.1-51.2v47m1.1-49.6v62.3m1.1-60.2v51.3m1.2-50v43.7m1.1-47.4v40.9m1.1-42.9v64.4m1.1-63.2v58.4m1.1-58v39.5m.9-38.4v53.8m.9-55.3v61.9m.9-58.4v78.3m.9-71.6v93m.8-86.6v103.9m.9-101.2v127.7m1.2-120.6v117.5m1.2-129.3v83.4m1.1-82.9v79.5m1.2-88.1v99.8m.9-100.6v101.2m.9-102.6v77m.9-79.9v63.6m1.1-61.4v64.8m1.1-62v46.9m1.1-48.6v43.6m.9-44.3v39.6m.9-38.6v150.7m.9-154.6v56m1.1-60.2v65.2m1.2-63.9v53.4m1.1-58.8v77.4m1.1-75.8v43.2m1.1-42.7v40.5m1.1-42v42.5m1.2-42.4v56.6m1.1-49.7v55.2m1.1-58.7v57.6m1.2-60.2v54.7m1.1-54.1v38.6m1.1-37.6v26.2m1.1-32.1v33.1m1.1-34.8v43.2m1.2-38.1v51.2m1.1-45.2v67.9m.9-71.4v67.2m.8-68.6v59.8m.9-61.8v41.6m1.1-44.7v61.3m1.2-61.7v45.9m1.1-46.2v54.5m1.1-55.8v37.7m1.1-38.4v33.7m1.1-41v38.5m1.1-34.6v38.5m1.1-36.6v39.2m1.1-37.8v62.1m1.1-60.4v44m1.2-43.4v45.1m1.1-45.1v51.1m.9-52.9v93.8m.8-92.5v68.7m.9-70.6v66.7m1.2-64.6v68.1m1.2-72.6v96.3m1.1-98.4v67.4m1.1-66.2v65.7m1.1-69.1v55.5m1.1-51.4v51.1m1.1-50.3v105.8m1.1-102.2v44.2m1.1-49.4v43.2m1.2-40.9v64.1m1.1-61v31m1.1-40.3v104.3m1.1-107.4v45.6m1.1-45.4v58.2m1.1-62.4v44.9m1.1-45.1v53.1m1.1-56.4v47.1m1.1-44.5v50.7m1.2-48.4v74.4m1.1-74.5v55.9m1.1-50.1v59.5m1.1-56.2v60.6m1.1-56.9v55.2m.8-58.1v60.6m.9-64.6v76.7m.9-78.1v101.3m.8-97.3v60.9m.9-60.3v52.5m1.1-54.3v52.9m1.2-53.2v57.5m1.1-65.3v53.9m1.1-47.6v59.4m1.1-58.4v83.7m1.1-79v67.1m1.1-68.1v110.2m1.1-104.8v55.2m1.1-54.4v40.5m1.1-40.8v36m1.2-35.5v41.6m1.1-42.6v58.3m1.1-57.3v33.8m1.1-39v49.7m1.1-45.6v36.5m1-33.7v31.5m1-34.9v46.9m1-43.8v33.3m1-32.4v36.7m1-38.8v44.2m1-46v38m1-41.3v56.8m1-56.1v28.7m1.1-27.5v37.9m1.1-36.8v43.3m1-42.5v66.8m1.1-67.1v55.1m1.1-55.3v55.2m1.1-55v64.3m1.1-64v42.4m1.1-40.4v33.3m1-35.4v36.7m1-34.6v53.5m1-51.7v52.4m1-55.5v40m1.1-45.3v43.3m1.1-43.5v41.6m1.1-39.7v41.9m1.1-43.3v63.9m1.1-63.9v49.5m1.1-58v90.8m1.1-82.9v56.3m1.2-53.8v42.7m1.1-43.4v55m1.1-56.5v67.7m1.1-66.4v47.9m1.1-46.9v43m1.1-45.8v44m1.1-45.3v39.7m1.1-38.8v60.9m1-58.6v38m1-37.5v57.4m1-59.7v53.5m1-50v33.6m1.1-35.9v31.9m1.1-30v24.4m1.1-27.4v35.8m1.1-37v46.1m1.1-43.3v52.6m1-52.7v41.6m1.1-37.9v44.4m1.1-43.8v32.6m1-41.2v62.1m1-54.8v37.7m1-40.3v35.2m1-34.7v38.8m1.1-49.8v105m1.1-101.2v86m1.1-85.5v42m1.1-41.2v52.6m1.2-55.4v47.2m1.1-42.2v47m.9-42.2v43.7m.8-41.5v57m.9-57.6v44.7m1.1-41.1v42.6m1.2-52.4v113.7m1.1-115.5v70.5m1.1-72.3v58.6m1.2-60.3v104.9m1.1-103.6v62.5m1.1-63.3v47.7m1.1-46.5v46.1m1.1-45.3v40.7m1.2-39.2v42.7m1.1-46.8v46.2m1.1-47.5v202.8m1.2-203.6v43.4m1.1-42.3v40m1.1-39.9v48.5m1.1-45.8v59.4m1.1-57.9v54.4m1.2-53.6v54.7m1.1-57.2v51.4m1.1-49.5v54.3m1.1-55.9v86.4m1.1-85.2v76.1m1.1-80v59.8m1.1-56.9v89.4m1.1-84.7v66.6m1.1-64.4v67.6m1.2-64.8v59m1.1-55.3v69.4m1.1-68v59.1m1.1-56.3v80.6m1.1-79.7v62.5m1.1-66.1v83.4m1.1-83.8v79m1.1-82.4v143.8m1.1-138.9v58.4m1.2-61.3v63.4m1.1-63.6v150m1.1-144.4v69.4m1.1-65v71.3m1.1-70.3v99.5m.9-94.7v94.1m.9-91.6v68m.9-72.5v89.7m.9-86.6v76.6m.8-82.5v62.2m.9-66.2v77.7m1.2-80.6v67.1m1.2-69.7v60.3m1.1-63.9v82.5m1.1-82.5v57.1m1.1-64.9v78.6m1.2-73.9v69.2m1.1-67.7v70.1m.9-66.9v140.9m.9-138.2v109m.9-113.3v72.9m1.2-81.4v71.1m1.1-81.4v188.7m1-183.7v60.5m1-58.2v60.5m1.2-67.9v71.2m1.2-67.1v220.3m.8-207.3v69.5m.8-61.4v75.4" stroke="#c6dbef" stroke-width="1.7" fill="none"/>
<path d="M2652.7 751.3v40.2m1.1-41.5v38.5m1.1-36.4v47.9m1.1-47.7v38m1.1-38.1v32.8m1.1-36.3v79.7m1.1-76v75.9m1.1-76.9v65.2m1.2-61.9v73.4m1.1-69.8v62.8m1.1-62v51.7m1.1-47v46.4m1.1-45.5v51.8m1.1-49.5v42.7m1.1-39.6v101m1.1-102.9v105.3m1.1-103.2v123.9m1.2-124v83.7m1.1-79.2v62.8m1.1-65v56m1.1-60.6v71.5m1.1-63.9v68.3m1-69.4v70.6m1-68.9v41.1m1-42.2v34.5m1-40.4v49.8m1.1-48.8v50.8m1.1-58.8v110.5m1.1-110.4v60.9m.9-62.8v49.3m.9-48.3v64.3m.9-65.1v70.3m.9-74.2v201.6m.9-202.4v65.5m.9-59v59.6m1-57.4v69.9m1-69.1v71.6m1-70.4v55.9m1.1-63.2v53.8m1.1-49.2v63.8m1.1-63v56m1.1-53.7v42.2m1.1-48.6v155m1.1-148.8v39.9m1.1-41.3v47.5m1.2-46.6v34.5m1.1-36.1v121.9m1.1-120.2v58.9m1.1-60v63.4m1.1-59.6v73m1.2-82v61m1.1-61.6v49.3m.9-57.8v59.7m.9-56.6v43.2m.9-41.9v66.5m1.1-67.6v49.8m1.1-52.6v43m1.1-40.1v54.5m1.1-52v45m1.2-43.9v39.1m1.1-38.1v35.8m.9-38.5v43.2m.8-58.3v130.2m.9-120.7v60.6m1.1-59.3v56.4m1.2-54.1v64.9m1.1-64.1v52.8m1.1-45.2v57m1.1-57.4v66.5m1.1-66.3v87.5m1.2-88.5v81.2m1.1-82.1v94.9m1.2-84.8v83.5m1.2-75.1v71m.9-63.4v54.6m.8-68.1v137.1m.9-133.9v78.1m.9-82.4v97.3m.9-101.1v88m.9-93.2v128.6m1.2-134.7v93.5m1.1-96.8v127.7m1.2-124.4v60.7m1.2-59.9v53.5m.9-54.8v97.3m.8-92.6v54.2m.9-53.7v76.2m.9-75.7v66.8m.9-67.6v57.7m.9-57.3v51.3m1.2-53.1v99.8m1.1-101.5v54.3m1.1-47.9v60.2m1.2-61.9v51.3m1.1-49.9v57.2m1.1-58.1v82.3m1.2-80.4v72.5m.9-66.6v52.4m.9-46.5v47.5m.9-49.9v52.4m1.1-48.1v46.3m1.1-43.5v48.8m1.1-46.4v37.2m1.1-35.7v55.2m1.1-52.8v38.6m1.1-45.5v47.9m1.1-50.1v47.7m1.2-53.7v47m1.1-51.6v44.2m.9-49.9v49.9m.8-51.5v49.2m.9-51.6v58.5m1.2-60.8v68.7m1.2-65.2v70.6m1.1-69.8v78.8m1.2-81v57.9m.9-50.3v62.2m.9-65.8v106.4m.9-102.9v44.6m1.1-43.7v33.8m1.1-32v44.3m1.1-45.8v108.1m1.1-103v38.1m1.1-37.5v53.7m1.1-52.6v50.5m1.1-49.9v83m1.2-83v40.6m1.1-39.3v37.4m.9-37.7v55.4m.8-53.3v75.1m.9-78.8v67.5m1.2-70.4v54.2m1.2-53.9v55.7m1.1-54.9v52.8m1.1-52.3v56.2m1.1-54.6v46.2m1.1-46.6v39.9m1.1-42.1v75m1.1-71v46.3m1.1-47.7v50.2m1.2-46.2v47.2m1.1-55.5v139.9m1.1-132.1v70.1m1.1-69.8v56m1.1-53.7v42.7m1.1-41.8v47.1m1.1-47.3v48.1m1.1-50v52m1.2-48.6v44.3m1.2-44.2v143.8m.9-143.7v40.3m.8-39.1v33.2m.9-34.9v29.6m1.1-28.3v30.1m1.2-28.8v47.9m1.1-49v43.1m.9-47.8v53m.8-60v64.7m.9-66.6v64.7m1.2-62.8v58.6m1.2-57v54.2m1.1-58.9v121.1m1.2-114.5v54.5m.9-49.3v43m.9-46.3v61.4m.9-68.1v50.4m.9-49.7v47.5m.8-45.6v36.2m.9-33.4v44.4m1.2-48.5v74.5m1.2-71.9v65.6m.8-60v63.2m.8-60v50.8m.9-57.5v51.2m.8-50.5v64.6m1.1-65.8v50.1m1.1-51.2v33m1.1-32.6v32.4m1.1-32.7v27.2m1.2-26.5v43.7m1.1-44.8v110.6m1.1-111.2v66.9m1.1-69.5v65.1m1.1-59.2v48.6m1.1-42.9v68.2m1.1-66.6v67.3m1.1-64.4v136.1m1.1-139.4v45.1m1.2-42.3v44.6m1.1-44.8v40.3m1.1-45.7v42.7m1.1-39.8v47.2m1.1-47.3v42.9m1.1-41.4v46m1.1-48.7v45.1m1.1-41.2v47.5m1.1-47.5v59m1.2-58.8v61.2m1.1-65.5v102.3m1.1-98.3v157.8m1.1-156.4v61.3m1.1-60.3v56.9m1.1-60.8v47m1.1-50.9v42.8m1.1-43.5v71.8m1.1-72.6v61.7m1.2-58.9v47.6m1.1-46.2v51.3m1.1-57.9v46.7m1.1-45.9v47.1m1.1-49.7v62.7m1.2-58.8v52.3m1.1-51.7v47.3m.9-52.9v51.8m.9-49.7v77.7m.9-75.9v54.2m1.1-59.5v56.2m1.1-52.5v39.7m1.1-40.2v33.1m1.1-39.1v35.3m1.2-33.7v41.9m1.1-40.9v43.5m1.1-44.2v137.7m1.1-135.9v35.1m1.1-31.7v30.3m.9-33.3v41.5m.9-40.5v41.5m.9-47.3v40.3m1.1-39.4v36m1.1-35.7v37.5m1.1-39.2v47.7m1.1-48.4v44.4m1.1-44.7v34.7m1.1-33.5v41.4m1-42.3v52.4m1-51.4v46.1m1-46.4v44.3" stroke="#c6dbef" stroke-width="1.7" fill="none"/>
<path d="M746.0 769.2V1185.0M749.0 776.0V931.7M764.0 776.5V963.3M779.3 772.7V986.7M781.7 775.0V996.7M686.7 793.3V913.3M645.0 792.7V900.0M647.3 795.0V896.7M650.0 786.7V890.0M732.7 783.3V901.7M791.7 773.3V895.0M641.7 787.8V880.0M674.0 786.4V886.7M629.0 781.6V843.3M599.3 772.9V825.0M684.0 768.4V900.0M658.3 775.8V880.0M766.7 772.8V926.7M773.3 768.8V883.3M743.3 770.2V856.7M703.3 803.6V830.0M990.0 764.3V903.3M1076.7 761.3V901.7M1071.7 767.0V878.3M1011.7 778.3V880.0M1021.0 782.1V876.7M1114.3 762.3V853.3M1154.0 760.0V930.0M1162.7 754.5V1178.3M1170.0 759.2V1058.3M1174.0 763.6V1045.0M1186.0 777.7V1060.0M1233.3 788.3V1015.0M1265.0 778.1V1018.3M1275.0 774.5V933.3M1211.0 776.5V900.0M1225.0 791.0V885.0M1256.7 779.7V893.3M1193.3 768.0V871.7M1166.7 757.3V1000.0M1165.0 756.7V933.3M1182.7 779.7V946.7M1030.0 780.0V860.0M1040.0 766.3V846.7M1048.3 773.7V843.3M1063.3 764.7V828.3M1086.7 760.7V820.0M1136.7 750.3V820.0M1270.0 771.7V900.0M1264.3 777.9V1018.3M1256.7 779.7V893.3M1274.0 773.3V935.0M1270.7 771.9V913.3M1288.3 787.3V891.7M1332.7 765.8V993.3M1457.7 802.5V966.7M1465.0 792.7V936.7M1436.7 780.3V908.3M1418.3 775.0V876.7M1485.0 803.5V915.0M1506.0 795.0V911.7M1520.7 796.7V908.3M1531.0 790.2V893.3M1549.0 797.5V866.7M1397.7 759.0V856.7M1382.3 754.2V843.3M1452.7 802.4V906.7M1669.0 788.5V833.3M1311.7 783.3V825.0M1326.7 766.0V855.0M1480.0 799.3V895.0M1495.0 802.3V876.7M1433.3 787.0V880.0M1461.7 798.3V926.7M1956.7 763.7V860.0M1972.7 780.0V863.3M1942.7 801.3V833.3M1996.7 780.7V995.0M2021.7 785.2V972.7M2000.0 782.7V891.7M2040.0 777.7V893.3M2110.0 766.7V930.0M2196.7 760.7V974.0M2221.7 775.0V1108.3M2173.3 767.4V900.0M2176.7 755.0V898.3M2216.7 789.3V913.3M2230.0 778.3V891.7M2210.0 776.7V891.7M1956.7 763.7V860.0M1972.7 780.0V864.0M1978.3 814.0V856.7M2004.0 772.7V883.3M2011.7 815.0V875.0M2035.0 770.7V856.0M2093.3 756.7V840.0M2118.3 760.0V855.0M2136.7 770.0V854.0M2238.3 790.0V866.7M1942.3 803.7V833.3M2206.7 770.7V880.0M2213.3 783.7V873.3M2185.0 751.5V838.3M2158.3 764.4V820.0M2664.0 772.7V933.3M2674.3 785.0V1001.7M2689.3 778.1V935.0M2695.0 782.7V933.3M2699.0 777.0V958.3M2704.3 785.0V1081.7M2708.3 771.0V940.0M2723.3 775.7V920.0M2742.7 772.9V913.3M2728.3 786.7V900.0M2762.7 797.3V889.3M2819.0 786.5V896.0M2835.0 790.0V880.0M2869.3 792.7V895.0M2897.3 780.9V898.3M2856.7 795.8V873.3M2902.3 776.0V853.3M2654.0 765.3V811.7M2786.7 783.3V840.0M2805.0 788.3V860.0M2766.7 788.3V866.7M2746.7 771.2V856.7M2720.0 766.0V886.7M2685.0 772.1V873.3" stroke="#c6dbef" stroke-width="1.5" fill="none"/>
<path d="M591.7 1245.7v22.3m1.1-22.7v28.8m1.1-29.3v50m1.1-53.1v47.6m1-46.7v36.1m1-32.9v57.6m1-56.2v38.9m1-37.4v29.5m1-27.1v29.7m1-32.8v39m1-39.7v37.7m1-34.3v32m1-32.5v46.4m1-44.2v34.1m1-34.4v33.7m1-35.5v79.4m1-81.9v38.6m1-41.9v38.4m1-34.3v37.7m1-39.1v34m1-31.9v31.1m1-33.6v26.7m1-30.7v50.2m1-46.5v32.6m1-32.5v31.7m1-31.2v27.5m1-26.9v37.3m1-41.4v30m1-28.2v39.6m1-42.9v35.6m1-34.9v42.9m1-39v36.3m1-40.2v51.2m1.1-47.1v42.6m1.1-45.9v65m1.1-61.9v44.8m1.1-42.2v37.3m1.1-39.1v32.5m1.1-33.1v37.5m1.1-35.8v38.2m1.1-36.7v28.8m1-31.8v48.2m1.1-47.4v48.7m1.1-50.3v44.7m1-42.7v32.4m1-32.3v31.2m1-31.3v111.2m1-110.8v42.4m1-38.3v30.2m1-34.5v38.2m1-34.1v45.6m1-48.4v65m1-69.3v53.5m1-49.3v32.6m1-34.2v37m1-34.9v40.8m1-42.4v61.1m1-62.9v49.7m1-51.4v40.7m1-42.1v59.7m1-61.7v59.1m1-59.7v58.8m1.1-61.2v52.8m1.1-53.8v47.1m1.1-43.7v55m1.1-55.1v54.4m1.2-58.7v65.6m1.1-57.9v44.3m.9-44.6v70.2m.8-65.2v53.8m.9-58.7v55.6" stroke="#c6dbef" stroke-width="1.7" fill="none"/>
<path d="M670.0 1250.2v33.5m1-33.9v58.6m1-66v97.7m1-91.1v31.6m1-36.4v58m1.1-62.2v49.3m1.1-52v51.4m1.1-52.4v44.9m.9-46.7v55m.9-53.7v38.3m.9-43.6v34.1m.9-33.9v36.4m.9-35.5v43.4m.9-43.8v48.7m1.1-46.3v56.3m1.2-62.1v76.8m.8-73.4v57.9m.9-49.7v60m1.1-55.2v54.4m1.1-47.8v33.6m1.1-36.6v36.6m1.1-38.7v70.3m1.1-70.4v54.1m1.1-55.9v42.2m1.1-47.7v45.8m1.2-44.1v58.5m1.1-62.8v46.8m1.1-46.5v56.7m1.1-54.4v56.4m1.1-57.6v47.3m.9-43.5v46.6m.9-44.9v64.1m.9-64.7v72.7m1.1-76.9v75.2m1.2-76.1v146.7m1.1-148.4v52.9m1.1-52.6v51.1m1.1-49.6v59.3m1.1-60.2v44.1m1.2-42.6v45.2m1.1-45.9v37.9m1.1-39.3v60.9m1.1-61.9v61.5m1.1-61.4v69.6m1.1-68v57m1.1-63.5v64.5m1.1-62.6v46.3m1.1-45.9v37.7m1.2-38.8v52.6m1.1-58.7v60.4m1.1-57.8v66.7m1.1-63.1v54m1.1-56.8v62.7m1.2-62.7v51.9m1.1-49.3v74.7m.9-69.4v53.9m.9-54v50.4m.9-46.4v44.4m.9-38.3v32.6m.9-33.4v35m.9-36.8v34.9m1.1-34.6v75.3m1.1-82v64.9m1.1-61.8v61.2m1.1-68.9v73.8m1.1-69v47.2m1.1-50.5v60.7m1.1-62.5v76m1.2-77.7v64.2m1.1-63.8v78.3m1.1-75.8v50.9m1.2-53.7v125.4m1.1-124.6v62.9m1.1-66.7v105.1m1.1-102.2v59m1.1-52.8v66m1.2-62.3v83.6m1.1-83.1v77.1m1.1-76v52.5m1.1-45.7v40.1m1.1-41v47.6m1.1-49.2v39.8m1.1-38.1v37m1.1-38.1v40.3m1.1-38v68.3m1.2-68.7v69m1.1-69.2v68.3m1.1-68.7v67.4m1.1-68.6v44.3m1.1-46.2v38.9m1.1-40.4v36m1.1-41.2v45.5m1.1-44.1v43.6m1.1-45.3v33.7m1.2-29.7v26.7m1.1-27.6v93.1m1.1-94.5v40.1m1.1-38.6v45.7m1.1-45.1v71.5m1.1-73.5v80.4m1.1-78v124m1.1-121.1v56.5m1.1-56.5v64.7m1.2-65.2v57.2m1.1-52.6v46m1.1-43.8v51.4m1.1-50.7v45.6m1.1-47v61.1m1.1-63.3v58.3m1.1-64.5v83.3m1.1-76.3v40.7m1.2-43.1v86.3m1.2-86.7v106.4m.9-102v60.4m.8-61.9v65.1m.9-65.3v65.9m.9-64.1v44.4m.9-47.6v35.3m.9-34.9v56" stroke="#c6dbef" stroke-width="1.7" fill="none"/>
<path d="M988.3 1223.8v32.9m1.1-38.6v60m1.2-61.3v46.2m1.1-48v39.4m1.1-43.1v141.5m1-134.8v54.9m1.1-53.3v76m1.1-79v52.5m1-50.1v36.8m1-35.4v29.5m1-28.6v49.1m1-51.2v37.9m1-42.8v50m1-53.8v82.4m1-78.4v53.6m1-51.3v87.4m1.1-87.8v93.9m1.1-94.9v82.7m1.1-79.2v76.1m.9-75.2v153.1m.9-152.2v58.7m.9-53.9v55.2m.8-49.9v44.1m.9-42.3v59.6m1.1-58.9v58.8m1.2-64.2v72.8m.9-72.7v76.2m.9-73.6v39.2m.9-42.1v54.3m.9-55.1v48.4m.8-44.4v46.3m.9-43v43.5m1.2-38.8v45.6m1.2-47.5v54.3m1.1-62.2v77.7m1.2-77v60.1m1.1-63.6v56m1.1-53.1v43.8m1.1-41.1v68.6m.9-69.8v57.7m.9-55.3v52.8m.9-48.6v44.7m.9-51.3v69.2m.9-66.1v67.4m.9-70.4v62.9m1.1-61.7v50.6m1.1-54.7v45.9m1.1-45.1v51m1.1-51.1v38.7m1.1-37.3v44.3m1.1-40.3v53m1.1-56.5v56.2m1.2-57.3v127.2m1.1-120.7v132.2m.6-124.9v98.2m1.4-98v81.5m.9-85.4v92.6m.8-92.7v44.9m.9-45.5v63.4m.9-66.4v65.5m.9-64.5v66.7m.9-56.8v52.2m.9-52.9v46.9m.9-51.2v90.9m.9-95.2v83.6m1.1-81.3v54.7m1.1-55.4v58m1.1-62.6v46.4m1.1-43.1v52m1.1-52.8v38.3m1.1-37.9v51.6m1.1-53v53m1.2-54.4v47.5m1.1-47.5v36.1m1.1-35.2v43.5m1.1-41.9v42.8m1.1-41.6v55m1.1-62.7v85.9m1.1-78v55.9m1.1-55.1v109.2m1.1-107v66.6m1.2-70.6v57.8m1.1-59.9v69.4m1.1-70v75.1m1.1-71.6v81.2m1.1-84v82.7m1.1-86.4v65.6m1.1-63.6v66.4m1.1-63.3v67.6m1.4-72.2v143.7m1-139.7v53.5m1-48.9v45m1-52.3v88.8m1-82.5v41m1-40.8v31.6m1-32.4v37.2m1-39.3v40.3m1-38.8v26.6m1-26.8v26.2m1-25.9v25.5m1.1-30.7v60.3m1-56.9v38.5m1.1-40.6v50.1m1.1-49.1v46.6m1.1-47v34.4m1.1-46.2v65m1-56.7v37.2m1.1-38v67.3m1-65.6v65.2m1-69.1v114.9m1-113.6v73.7m1-71.6v47m1-43.4v34.1m1-35v47.2m1-45.3v36m1-41.6v58.6m1.1-55.7v36.8m1.2-38.2v38.2m1.1-37.8v45m.9-45.5v67.4m.8-69.8v71.9m.9-68.7v52.8m.9-57.3v53.6m.9-51.7v60.9m.9-62.8v63.6m1-64v56.9m1-56.8v52.7m1-49.9v49m1-47.8v57.7m1.1-57.3v51.8m1.1-60.5v44.7m1.1-37.7v46.5m1.1-49.1v48.2m1.2-52.1v65.7m1.1-69.4v64.7m1-65.5v64.6m1-64.7v77.9m1-77.3v71.9m1-73.1v69.8m1.1-70.8v77.2m1.1-77.5v74.9m1.1-70.4v81m1.1-78.9v62.4m1.1-67.2v65.2m1.1-74v92.7m1.1-88.4v67.2m1.2-68.1v62.8m1.1-62.9v55.1m1.1-54v38.6m1.1-39.5v52.6m1.1-49.8v39.9m.9-39.6v50.7m.9-59v82.3m.9-79.2v66.6m1.1-60.3v59.2m1.1-56.3v71.2m1.1-69.4v77.6m1.1-73.7v57.8m1.1-55.6v39.6m1.1-51.8v89.5m1.1-87.3v79.8m1.2-77.5v92.2m1.1-93.9v74.2m1-76v62.2m1-63.7v45.2m1-44.7v45.6m1-42.8v51.7m1.1-51.1v73.7m1-72.3v49.9m1.1-54.6v76.8m1.1-76.6v102.4m1.1-94.4v78.7m1.1-76.9v55.9m1-56.9v72.3m1.1-72.7v82.5m1-80.3v48.6m1-50.6v43.5m1-40.1v70.4m1-68.5v64.2m1-67v46.1m1-43v39.9m1-39.9v43.4m1-47.3v82m1.1-81v58.5m1.2-62.4v74.4m1.1-66v50.7m1.1-46.1v38.7m1.1-38.4v40.5m1.1-47.1v70.4m1.1-75.8v101.3m1.1-101.3v54.7m1.1-57.7v65.1m1.1-64.9v73.8m1.2-71.5v49.6m1.1-51.5v78.1m1.1-77v63m1.1-63.6v49.3m1.1-47.8v59.8m1.1-63.1v71.1m1.1-75.5v73.8m1.1-75v75.5m1.1-73.4v76.1m1.2-74.2v76.8m1.1-73.3v70.8m1.1-70v66.6m1.1-69.8v66.6m1.1-65.9v50.4m1.1-52.2v94.1m1.1-89.7v68.1m1.1-67.7v47m.9-53.1v83.2m.9-86.2v61.5m.9-60.8v48.9m.9-49.7v38.7m.9-37.1v37.4m.9-36.8v40.9m1.1-40.6v65.1m1.1-63.2v67.9m1.1-64.4v54.4m1-51.8v45.6m1-48.3v73.1m1-72.4v93.4m1-90.4v64.8m1-64.4v48.1m1-43.9v47.7m1-48.7v48.2m1-47.9v35.3m1.1-33.6v42.7m1.1-44.6v47.1m1.1-54.9v68.4m1.1-69.4v58.2m1.2-56.8v51.3m1.1-51.8v118.8m1.1-117.3v66.4m1.1-67.3v58.6m1.1-54.3v54.9m.9-52.4v51.3m.9-52.9v43.9m.9-44.5v58.6m1-61.1v63.3m1-65.9v62.1m1-64.1v77.3m1-77.4v113.4m1.1-109.4v43.8m1-46.8v63.5m1.1-58.3v39.9m1.1-40.8v37.4m1.1-37.6v33.5m1.1-37.3v37.1m1-36.6v37m1.1-38.6v56.1m.7-56.6v71.5m1.1-71v63.2m1.1-60.1v58.8m1.1-57.8v62.3m1-58.8v65.7m1-68.9v54m1-54.4v45m1-43.5v45m1.1-40v37.9m1.1-35.9v32.4m1.1-32.4v37.7m1.1-43.8v136.5m1.1-131v32.3m1-31.1v34.8m1.1-42v79.4m1.1-75.5v46.1m1-54.4v56.9m1-57.4v141.9m1-137.2v43.8m1-48.1v131.5m1.1-126.7v33.4m1.1-34.4v50.5m1.1-52.7v65.3m1.1-63.7v74.8m1.2-69.6v68.4m1.1-64.5v47.2m1.1-43.9v69.6m1.1-66.9v60.3m1.1-59.8v96m.8-96v50.5m.9-43.9v38.3m1.1-38.8v46.8m1.1-45.8v48.4m1.1-50.7v69m1.1-65.8v60.6m1.1-61.1v77.7m1.1-79.7v147.5m1.1-154v141.6m1.2-140.4v60.2m1.1-59v41.8m1.1-39.9v52.7m1-52.1v45.6m1.1-46.3v47.3m1.1-46v50.1m1-49.6v49.3m1-48.4v45m1-43v48.3m1-58v161.4m.9-153.5v84.2m.9-84.8v97.5m.9-96.3v65m1.1-61.9v141m1.2-140.8v46.9m1.1-47.4v38.7m1.1-39.6v34.7m1.1-36.7v64.5m1.1-65.4v63.4m1.2-60.6v61.9m1.1-68.9v67.2m1.1-66.1v69.5m1.2-72.4v73.7m1.1-72.4v55.8m1.1-55.2v71m1.1-70.2v67.1m1.1-67.7v99.6m1.2-101v66.3m1.1-65.8v190.7m1.1-193.4v99.3m1.1-95.5v62.1m1.1-68.8v69.7m1.1-64.7v48.6m1.1-47.5v49.6m1-52.8v40.6m1.1-37.3v40.5m1.1-39.5v47.1m1.2-50.7v39.9m1.1-37.6v59.3m1.1-70.6v64.2m1.1-53.9v51.9m1.1-50.8v45.6m1.2-44.1v55.3m1.1-56.2v138m.9-137.3v57.8m.9-57.3v44.4m.9-41.9v66m.9-71.9v62.4m.9-63.5v78.1m.9-79.9v60.9m1.1-71.1v64.5m1.1-59.1v42.6m1.1-43.6v35m1-34.9v43.8m1-43.9v35.6m1-34.3v46.4m1-42.9v49.9m1-48.6v29.3m1-32.9v38.8m1-37.9v47m1-50.5v53.9m1.1-54.3v41.3m1.1-43.4v67.8m1.1-67.6v77.4m.9-75v69.5m.9-67.7v60.5m.9-64v63m.9-59.6v76.7m.9-77.9v74.3m.9-79.2v79.6m1.1-80.9v112.1m1.1-114v108.8m1.1-105.1v44.4m1-46.3v42.7m1-47.4v50.3m1-48.5v36.9m1-46.4v111.7m1.1-103v39.2m1.1-38.4v69.8m1.1-69.7v49.7m1.1-47v40.3m1.2-39.4v59.1m1.1-56.9v63.2m1-64.1v43.4m1-44.3v42.2m1-41.9v66m1-65.9v47.2m1.1-48.8v48.4m1.1-47.6v52.8m1.1-52.6v40.4m1.1-42v95.8m1.1-99.1v42.9m1.1-37.2v35.7m1.1-32.3v26.7m1.2-28.4v48.3m1.1-49.9v135.6m1.1-130.9v42.1m1.1-42.3v30.6m1.1-32v51.8m1.1-54.6v63.4m1.1-66v69.3m1.1-69.3v63.3m1.1-61.1v45.1m1.2-46.1v39.8m1.1-50.8v71.4m.9-55.2v77.3m.8-79.1v60.8m.9-60.6v67.7m1.1-58.7v58.9m1.2-57.7v54.8m1.1-55.7v44.1m1.1-44.1v35.1m1.1-37.6v68.1m1.1-64.5v57.2m1.1-55.3v54.1m1.1-53.6v63.3m1.1-65.5v67.2m1.1-69.2v68.4m1.2-73.8v79.2m1.1-74.2v44.1m1.1-47.9v51.4m1.1-50.4v48m1.1-49.8v46.3m1.1-46.9v48.1m1.1-48.4v52.9m1.1-49v74.1m1.1-77.3v48.4m1.2-43.7v39.9m1.1-34.1v34.6m.9-29.6v33.2m.8-27.6v24.8m.9-26.1v38.5m1.1-40.8v59m1.2-63.2v47.3m1.1-50.6v41.4m1.1-43v41.5m1.1-42.2v51.5m1.1-53.8v45.6m1.1-50v113.8m1.1-114v47.4m1.1-46.6v42.8m1.1-42v71.9m1.2-72v66.5m1.1-64.8v76.1m1.1-77.6v53.6m1.1-49.3v52m1.1-52.2v57.2m1.1-60.3v59.4m1.1-58.6v65.7m1.1-65.4v72.5m1.2-73.9v82.1m1.2-81.3v86.3m1.1-83.9v70.7m1.2-59.9v57.9m1.1-57.2v47.8m1.1-50.7v49.8m1.1-53.6v60.1m.9-62.1v84.9m.9-87.4v63.3m.9-66.7v80.4m1.1-82.7v150.3m1.1-144.1v54.2m1.1-55.3v66.6m.9-71.7v112.7m.9-115.3v70.5m.9-75.6v114.2m1.1-109.3v72.5m1.1-75.2v87.9m1.1-87v101.6m1.1-107v116.8m1.2-117.1v87.8m1.1-96.2v152m1.1-145.6v85.3m1.1-85.9v247.2m1.1-250.2v138.5m1.1-122.9v144.2m1.1-143.1v74.5m1.1-68.5v73.6m1.2-68.7v57.3m1.2-58.5v96.6m1.1-92.5v83.6m1-86v94.6m1.1-96.9v99.2m1.1-101.9v66.1m1.1-69v54.3m1.1-57.2v91.9m1.1-88.8v67.8m1.1-68.4v53.4m1.2-54.2v56.1m1.1-50.7v62.5m1.1-62.3v166.3m1.1-165.1v70.6m1.1-76v55.7m1.1-59.1v60.4m1.1-64.6v105.9m1.1-108.1v104.4m1.1-102v75.9m1.2-74.7v75.7m1.1-73.2v61.9m1.1-62.6v151.8m1.1-148.6v80.2m1.1-75.9v147.6m1.1-140.4v58.4m1.1-59.2v56.7m1.1-57.6v48.6m1.1-46.3v37.8m1.2-38.3v43.2m1.1-42.3v36.5m1-37.4v80.2m1-77.1v76.3m1-81.4v47m1-40.6v61.1m1-57.7v71m1-71.2v81.3m1-79.1v72.4m1-70.9v103.3m1-102.7v81.6m.8-82.5v83.8m.8-73v75.4m1.1-74v56.6m1.2-61v57.6m1.1-62.6v73.4m1.1-80.2v90.2m1.1-95.7v89.7m1.1-87.7v74.2m1.1-75.9v63.3m1.1-68.2v65.7m1.1-63.3v68.9m1.1-71.3v56.3m1.2-56.2v49.4m1.1-43.2v65.3m1.1-62.2v51.9m1.1-48v51.1m1.1-47.7v43m1.1-49.5v75.1m1.1-72.1v59.6m1.1-60.3v43.2m1.1-43v44.2m1.2-43.4v64.8m1.1-63.6v75.6m1.1-72.9v59m1.1-58.6v62.3m1.1-58.9v64.9m1-63.1v51.9" stroke="#c6dbef" stroke-width="1.7" fill="none"/>
<path d="M1654.0 1247.2v26.4m.9-29.6v38.5m.9-39.7v81.3m.9-77.7v67.7m1.1-64.9v58.8m1.1-57.2v57.4m1.1-56.8v44.3m1.1-41.4v40.4m1.1-41.7v72.1m1.1-73.7v53.9m1.1-49.7v48.6m1.2-52.4v72m1.1-67.8v51.6m.9-54v41.2m.8-38.4v32.5m.9-37.1v49.9" stroke="#c6dbef" stroke-width="1.7" fill="none"/>
<path d="M1941.7 1259.6v34.4m.8-43.1v45.1m.8-48.7v48.8m.9-54.6v59.5m.9-60.6v56.3m.9-60.5v71.6m1.2-73.3v92.3m1.1-102.3v136m1.1-126.7v64.9m1.2-66.5v60.7m1.1-60.6v80.7m1.1-79.4v106.2m1.1-106.2v42.6m1.1-43.6v52m1.1-56.8v77.2m1.1-73.6v48m1.1-44.8v42.3m1.1-45.7v41.9m1.2-40.5v47.8m1.1-47.3v45.8m1.1-45.1v41.2m1.1-42.7v56.6m1.1-56.9v41.3m1.1-41v41.5m1.1-39.6v32m1.1-33v31.5m.9-29.7v40m.9-40.1v53.7m.9-55.7v62.2m1.2-60.3v62.5m1.1-67.3v67.6m.9-57.4v70.3m.9-61.2v62.1m.9-65.6v122.9m1.2-112v71.5m1.1-80.2v59.8m1.2-64.6v95.1m1.2-98.3v90.6m.9-94.2v74.3m.8-78v62.5m.9-63v54.3m1.1-53v67.3m1.2-71.3v59.4m1.1-63.3v54.1m.9-52.5v151.8m.8-146.2v54.2m.9-53.4v71.5m1.2-66.9v69.7m1.2-67.2v51.2m1.1-51.2v64.9m1.2-63.6v81.5m1.1-87.8v73.1m1.1-70.3v56.3m1.1-52.6v52.8m1.1-54.6v62.7m1.2-66.9v49.6m1.1-53.4v47.8m1.1-49.9v46.9m1.1-43.9v42.8m1.1-44.9v67.1m.9-62.9v58.9m.9-57.7v47.8m.9-50.5v79.3m.9-68.9v52.4m.8-50.1v101.7m.9-98.9v158.9m1.2-152v64.8m1.2-66.1v55.2m1.1-59.9v67.2m1.2-69.3v65.1m.9-72.5v72m.9-74.6v81.9m.9-81.5v70.1m1.1-72.3v56.9m1.1-55.3v120m1.1-119.3v63.6m.9-64.3v61.5m.9-59.1v43.3m.9-45.4v52.9m1.1-55.6v64.8m1.2-68.7v68.5m1.1-68.5v55m1.1-52v68m1.1-67.5v69.9m1.1-68.8v61.3m1.2-62.2v57.6m1.1-52.4v79.4m1.1-79.6v47.9m1.2-49.3v44.4m1.1-45.3v63.7m1.1-64.7v60.9m1.1-61.2v49.6m1.1-51.1v58.6m1.2-57.4v63.9m1.1-56.9v55.5m.9-58.2v54.9m.8-55.8v55.5m.9-57.9v51.1m1.1-55.7v44.2m1.2-43.7v39m1.1-40v34.2m1.1-35.6v48.9m1.1-48.8v49.6m1.1-48.5v140.2m1.1-138.9v74.2m1.1-78v105.1m1.1-95.9v58.9m1.1-58.1v52.8m1.2-53.1v55.4m1.1-54.9v150.2m.9-150.3v89.7m.8-87.2v81.4m.9-85.4v69.8m1.2-70.5v76.7m1.2-76.8v69.7m1.1-65.8v66.3m1.1-65.2v48.6m1.1-47.8v31.6m1.1-33.9v74.9m1.1-72v34.2m1.1-35.6v38m1.1-37.1v47.8m1.2-47.3v59.1m1.1-59v43.5m1.1-52.1v49.4m1.1-61.6v113.6m1.1-109.6v67.4m1.1-68.9v50.4m1.1-51.7v48.5m1.1-45.9v37.7m1.1-40v70.9m1.2-68.4v38.2m1.1-39.8v108.1m1.1-104.8v100.7m1.1-91v69.2m1.1-66.8v85.5m.8-85v99.3m.9-95.8v51.9m.9-57v62.5m.8-63.7v59.7m.9-61.5v51m1.1-54.1v48.8m1.2-51.1v40.3m1.1-38.1v48.1m1.1-50.5v43.6m1.1-41.8v46.8m1.1-42.3v70.4m1.1-69.1v78.8m1.1-74.1v60.5m1.1-57.8v41.4m1.1-42.7v54.7m1.2-69.3v122.9m1.1-109.7v32.6m1.1-34.3v93.4m1.1-97.5v55.6m1.1-55.5v44.5m1-43.7v46.5m1-44.4v66.5m1-62v49.5m1-49.1v56.2m1-55v42.8m1-44.5v38m1-39.8v33.8m1-33.8v65.9m1.1-65.5v50.2m1.1-51.5v60.4m1-60v44.7m1.1-43.4v31.5m1.1-30.9v37.6m1.1-37.2v33.9m1.1-33.2v43.4m1.1-50.9v135.3m1-127.2v38.5m1-38.9v41m1-39v36m1-36.8v52m1.1-57.5v52.4m1.1-55.2v56.8m1.1-53.4v67m1.1-69.5v54.5m1.1-52.3v59.4m1.1-63.1v64.8m1.1-62v82m1.2-82v77.7m1.1-77.1v62.4m1.1-67.2v73.5m1.1-72.7v86.9m1.1-88.9v81.2m1.1-80.5v67.2m1.1-69.4v63m1.1-60.9v48.2m1-47.9v45.1m1-48.3v35.7m1-41.2v83.1m1-76.7v39.7m1.1-38.2v32.7m1.1-31.7v30.6m1.1-32.2v27.9m1.1-25.5v53m1.1-54.4v39.5m1-38.6v43m1.1-41.2v38.7m1.1-38.2v33.5m1-31.5v40.9m1-41.2v31.9m1-35.8v40.5m1-48.8v53.7m1.1-54v85.2m1.1-80.9v67.8m1.1-66.4v54.4m1.1-53v60.4m1.2-61.1v52.8m1.1-49v75.8m.9-72.1v48.6m.8-47.3v46.7m.9-43.9v69.5m1.1-66.5v99m1.2-112.2v86.7m1.1-88.9v55.3m1.1-57.7v71.3m1.2-73.1v77m1.1-76.5v72.4m1.1-78.1v64.9m1.1-61.1v52.5m1.1-52.5v57.1m1.2-56.5v45.9m1.1-46.7v69m1.1-68.1v74.6m1.2-74v74.1m1.1-76.7v127.1m1.1-128v76.7m1.1-75v66.7m1.1-66.2v105.3m1.2-105.4v86.7m1.1-85.4v91.6m1.1-91.7v71m1.1-69.8v48.3m1.1-49.3v59.4m1.1-62.1v77.4m1.1-73.9v64.3m1.1-67.9v159.1m1.1-152.9v58.4m1.2-60.7v83.6m1.1-84.6v125.8m1.1-121v153.1m1.1-153.5v81.7m1.1-88.9v221.3m1.1-216v64.2m1.1-64.6v63.6m1.1-65v183.6m1.1-182.2v46.6m1.2-46.5v66.1m1.1-67.4v51.7m1.1-49.7v63.3m1.1-64.8v58.2m1.1-56.6v48.1m.9-44.5v61.6m.9-57.7v44.9m.9-43.9v39.7m.9-41.1v87.9m.8-94.1v67.3m.9-67.9v66.5m1.2-72.4v78.8m1.2-82.6v88.4m1.1-87.2v110.2m1.1-107.7v43.2m1.1-43.3v43.3m1.2-44.1v52.9m1.1-56.8v50.7m.9-44.9v104.4m.9-100.3v78.6m.9-82.5v59.1m1.2-64.3v128.3m1.1-133.4v58m1-56.8v51.9m1-52.1v70.9m1.2-69.5v82.6m1.2-87v82.5m.8-73.8v90.3m.8-82.4v86.1" stroke="#c6dbef" stroke-width="1.7" fill="none"/>
<path d="M2747.3 1228.1v28.5m.9-31.6v55.8m.9-56.4v45.1m.9-43.1v70m.9-72.3v84.1m.9-81.8v60.6m.9-62.1v92.7m1.1-84.5v68.6m1.2-68.8v77.7m1.1-73.8v65.8m1.1-63.5v44.2m1.1-46.1v56.8m1.1-58.6v77.3m1.2-80.3v74.3m1.1-66.8v58.5m1.1-59.2v55.9m1.1-58.9v43.9m1.1-51.3v50.7m1.1-50.9v58.5m1.1-64v96.5m1.1-92.9v68.6m1.2-69.1v64.6m1.2-67.7v62.6m.9-62.5v47.9m.8-46.1v41.8m.9-38.9v41.8m.9-40.9v59.5m.9-56.6v54.7m.9-52.5v67.1m1.1-67.5v69.6m1.1-73.8v115.2m1.1-112.8v46.8m1.1-52.3v157.8m1.2-152.6v72.2m1.1-67.9v63.4m1.1-60.8v61.8m1.1-60.2v48.6m1.1-48v55m1.2-53.1v41.6m1.1-41v37.7m1.2-37.5v34.9m1.2-36.6v61.2m1.1-59.4v71.4m1.1-74.1v92.1m1.1-90.4v38.7m1.1-42v78m1.1-81.4v112.5m1-107.7v49m1.1-46.6v70.8m1.1-68.2v46.5m1.2-49.5v42.1m1.1-38.5v68.8m1.1-73.2v50.8m1.1-44.3v34.8m1.1-37.1v48.1m1.1-46.7v53.9m1.1-49.2v134.4m1.1-131.9v37.8m1.2-36.1v53m1.2-52v39.8m.9-43.5v42.8m.8-40.4v49.4m.9-50.1v36.2m1.1-36.4v57.4m1.2-54.6v51.7m1.1-54.3v49.2m.9-53v47.3m.8-49.5v41m.9-38.9v47.3m1.2-47.5v50.4m1.2-49.7v72.8m1.1-76.3v73.5m1.2-71v81.6m.9-76v58m.9-57v50.8m.9-49.8v43.7m.9-44.9v44.9m.8-48.8v74.8m.9-71.9v68.9m1.2-69.2v59.1m1.2-60.4v56.8m.8-44.7v44.1m.8-47.3v54.6m.9-58.1v66.4m.8-68.9v64.1m1.1-66.5v68.4m1.1-67.3v49.2m1.1-51.2v36.8m1.1-42.6v63.6m1.2-61.2v38.7m1.1-39.4v67.2m1.1-69.2v48.8m1.1-45.2v57.7m1.1-57.1v67.9m1.1-63.6v120.1m1.1-110.3v82.1m1.1-78.4v68.3m1.1-67.2v53.3m1.2-54v56m1.1-59.4v69.6m1.1-73v54m1.1-51.3v84.4m1.1-88.7v46.2m1.1-43.2v65m1.1-63.4v42.8m1.1-43.3v50.8m1.1-47.9v42.2m1.2-42.9v37.9m1.1-36.8v35.6m1.1-36v39.3m1.1-37.8v43m1.1-52.1v88.3m1.1-85.6v57.4m1.1-54.4v64.5m1.1-63.6v55.2m1.1-55.4v45.4m1.2-49.2v48.5m1.1-50.1v84.7m1.1-85.2v61.1m1.1-61.1v63.5m1.1-65.5v80.7m1.2-77.5v67.9m1.1-67.3v57.3m.9-66.3v72.5m.9-67.2v80.7m.9-82.4v62.5m1.1-63.4v59.9m1.1-59.2v44.4m1.1-48.5v97.7m1.1-100.8v79.6m1.2-78.8v47.4m1.1-41v53.3m1.1-55.8v49.2m1.1-55.8v136.4m1.1-128.4v49.5m.9-50.1v52.3m.9-51v39.6m.9-40v47.8m1.1-49.2v47.9m1.1-49.6v49.4m1.1-55.4v45.9m1.1-44.6v40.1m1.1-37.9v41.1m1.1-40.3v39.6m1-41.7v46.8m1-48.8v34.8m1-32.7v39.6" stroke="#c6dbef" stroke-width="1.7" fill="none"/>
<path d="M746.0 1242.5V1670.0M749.0 1250.0V1410.0M764.0 1255.3V1446.7M779.3 1256.5V1473.3M781.7 1264.0V1490.0M686.7 1261.7V1383.3M645.0 1263.3V1373.3M647.3 1261.0V1371.7M650.0 1258.3V1366.7M732.7 1255.0V1372.7M791.7 1260.4V1383.3M641.7 1261.6V1363.3M674.0 1258.3V1363.3M629.0 1257.5V1316.7M599.3 1257.9V1310.0M684.0 1246.0V1371.7M658.3 1252.0V1356.7M766.7 1252.0V1408.3M773.3 1249.7V1365.0M743.3 1241.2V1336.7M703.3 1259.5V1283.3M990.0 1228.8V1372.7M1076.7 1244.7V1389.3M1071.7 1252.0V1366.0M1011.7 1250.0V1353.3M1021.0 1258.8V1356.0M1114.3 1246.0V1336.7M1154.0 1238.7V1411.7M1162.7 1231.5V1666.0M1170.0 1235.8V1544.3M1174.0 1240.3V1526.7M1186.0 1242.7V1529.3M1233.3 1243.7V1476.7M1265.0 1242.9V1493.3M1275.0 1243.8V1408.3M1211.0 1230.4V1366.7M1225.0 1240.2V1338.3M1256.7 1242.8V1360.0M1193.3 1233.2V1341.7M1166.7 1234.0V1483.3M1165.0 1233.3V1420.0M1182.7 1246.7V1423.3M1030.0 1260.0V1338.3M1040.0 1245.3V1326.7M1048.3 1254.4V1323.3M1063.3 1246.9V1313.3M1086.7 1246.7V1310.0M1136.7 1233.1V1301.7M1270.0 1240.0V1386.7M1264.3 1242.7V1493.3M1256.7 1242.8V1360.0M1274.0 1241.1V1409.3M1270.7 1239.9V1393.3M1288.3 1266.7V1374.0M1332.7 1253.7V1485.0M1457.7 1259.0V1424.3M1465.0 1249.8V1395.0M1436.7 1250.3V1384.0M1418.3 1250.0V1352.3M1485.0 1261.4V1375.0M1506.0 1261.7V1382.7M1520.7 1270.0V1386.0M1531.0 1263.7V1372.3M1549.0 1280.8V1350.0M1397.7 1239.0V1339.0M1382.3 1235.8V1321.7M1452.7 1264.1V1376.7M1669.0 1264.4V1308.3M1311.7 1271.7V1313.3M1326.7 1253.7V1341.7M1480.0 1261.7V1356.7M1495.0 1258.3V1340.0M1433.3 1258.3V1353.3M1461.7 1253.3V1385.0M1956.7 1241.7V1339.0M1972.7 1252.1V1342.3M1942.7 1270.4V1291.7M1996.7 1249.8V1464.0M2021.7 1254.2V1447.3M2000.0 1251.2V1360.0M2040.0 1258.1V1374.0M2110.0 1256.7V1425.0M2196.7 1242.8V1460.0M2221.7 1240.0V1584.3M2173.3 1251.2V1387.3M2176.7 1240.0V1385.0M2216.7 1250.0V1370.0M2230.0 1245.0V1360.0M2210.0 1241.3V1370.0M1956.7 1241.7V1339.0M1972.7 1252.1V1341.7M2004.0 1241.7V1355.0M2011.7 1280.7V1343.3M2035.0 1247.0V1335.0M2093.3 1242.5V1328.3M2118.3 1251.7V1345.0M2136.7 1256.7V1344.0M2238.3 1255.0V1333.3M1942.3 1272.3V1291.7M2206.7 1242.0V1355.0M2185.0 1236.5V1323.3M2213.3 1245.7V1363.3M2158.3 1248.8V1305.0M2762.7 1250.2V1346.0M2819.0 1262.7V1375.0M2835.0 1270.0V1361.7M2869.3 1274.5V1380.7M2897.3 1263.6V1383.3M2856.7 1276.7V1353.3M2902.3 1258.3V1336.7M2766.7 1241.7V1326.7M2786.7 1253.3V1315.0M2805.0 1260.0V1335.0M2813.3 1265.0V1336.7M2755.0 1251.7V1300.0M2860.0 1278.3V1356.7" stroke="#c6dbef" stroke-width="1.5" fill="none"/>
<path d="M425.0 1890.5v26.2m.8-33.5v37.4m.9-40.8v47.6m.9-41.1v45.4m.8-68.7v84.5m.9-57v42.3m1.4-49.6v47.5m.9-48.7v46.3m.8-41.5v46m.9-41v43.5m.9-44.5v50.5m.9-44.7v47.4m.9-43.7v40.9m1.2-35.6v36.5m1.1-43.1v41.9m1.2-61.6v84.9m1.2-68.9v49.3m1-47.3v46.2m1-50.7v42m1.1-55.2v46.6m1.2-55.4v51.5m.8-64.1v63.6m.9-73.3v73.4m.9-76.6v77m.8-92.6v82.9m.9-79.3v66.7m1.2-68.7v61.7m1.2-64.7v55.1m.8-53.5v48.1m.8-47.3v35.6m.9-35.8v38.5m.8-42.5v45.2m1.2-64.8v62.2m1.1-66.7v68.6m1-65.1v61.3m1-61.1v64.4m1.1-63.3v63.1m1.2-63.4v36.9m1.1-41.3v19.7m1.1-18.2v18m1.1-20.5v20.8m1.1-20v23.5m1.1-22.3v24.3m1.1-23.8v23.9m1.1-23.7v27m1.1-27v32.5m1.2-30.9v31.6m1.1-32.5v34.2m1.1-37.9v43.2m1.1-41v46.3m1.1-40.4v38.4m1.1-32v30.9m1.1-28.3v23.9m1.1-23.8v25.8m1.2-24.8v34.3m1.2-32.8v28.4m1.1-26.6v25.4m1.2-24.1v27.2" stroke="#c7e9c0" stroke-width="1.7" fill="none"/>
<path d="M485.0 1852.3v18.8m.8-23.6v24m.9-30.1v36.4m.9-37.7v37m.8-42.7v41.5m.9-41.8v47.2m1.2-47.2v39m1.2-39.2v40.6m1.1-40.4v34.8m1.2-39.5v38m1.1-47.3v44.3m1.1-32.8v30.7m1.1-28.2v37m.9-35.5v35.5m.9-34.6v39.7m.9-52.5v72.4m.9-55.9v51.2m.9-48.3v58.1m.9-51v53.5m1-50.5v50.5m1-46.1v44.8m1-43.4v42.7m1-46.2v49.8m.9-47.8v45m.8-37.3v55.2m.9-54.8v59.3m1.4-57.3v58m1.3-56.5v55.4" stroke="#c7e9c0" stroke-width="1.7" fill="none"/>
<path d="M531.7 2013.3v50.1m.8-74.2v75.8m.8-85.8v88.2m1-83.3v84.9m1-87.4v85.6m1-83.9v83.1m1-81.3v81.4m1-84.6v26m1.2-24.1v31.1m1.2-27.5v36.1m.9-33.4v29.9m.8-28.3v34m.9-42.2v39.4m.9-43.6v42.3m.9-45.9v40.8m.9-36v34.3m1.2-51.8v55m1.1-38.8v41.2m1.2-40.1v43.1m1.2-40.5v61.8m1-61.2v87.2m1-89.5v93.9m1.3-95.6v90.1m1-77.5v81m.8-73.6v76.3m.9-63.8v60.1m.9-60.9v57.5m.8-56.5v37.2m.9-45.6v37m1.1-35.9v32.8m1.2-31.3v38m1.1-33.5v48.3m1.1-49v61.8m1.2-56.9v59.4m.8-58.7v59.2m.9-52.6v49.8m.8-49.8v48.9m.8-36.4v36m1.2-32.7v34.9m1.2-35.2v34.1m.9-36.9v43m.8-36.4v36.7m.9-36.4v46.1m1-47.1v41.1m1-40.1v39.9m1-39.3v35.7m1-38.1v43.5m.9-41.6v39.8m.9-38.8v25.6m.9-25.4v18.4m.9-23v27.7m.9-27.2v27.1m.9-29.7v34.7m1.1-40.2v34.6m1.1-38.9v35.3m1.1-42.2v44.3m1.1-39.8v32.9m1.1-32.1v29.3m1.1-28.8v24.7m1-31.3v30.8m1-29.5v26.8m1-28.2v27.2m1-33.2v33.3m1.1-40.5v36.3m1.2-34.9v32.8m1.1-37.9v56.8m1.1-54.1v39.3m1.1-41v32.1m1.1-30.1v31.2m1.1-48v61.9m1.1-65.8v67.1m1.1-66.1v36.6m1.1-43.2v48.3m1.2-56.4v65.3m1.1-70.4v57.6m.9-63.6v58.2m.8-65.4v63m.9-57.5v51.8m1.2-56.4v53.2m1.2-51.1v40.3m1.1-40.2v36.4m1.1-40.2v36.6m1.1-38.2v32.7m1.1-28.4v22.9m1.1-28.9v32.7m1.1-32.2v28.2" stroke="#c7e9c0" stroke-width="1.7" fill="none"/>
<path d="M621.3 1950.0v15.4m.7-20.4v17.2" stroke="#c7e9c0" stroke-width="1.7" fill="none"/>
<path d="M626.0 1914.3v22.5m1.3-28.3v29.9m.9-24.2v27.3m.9-27.1v31.4m.9-39.5v34.3m.9-44.1v43.2m.9-39.9v36.2m.9-35.9v34.3m1.1-31.9v30.1m1.1-31.5v32.3m1.1-35.8v30.2m1-31.1v33.9m1-37.5v32.9m1-44.1v38.7m1-43.4v43.1m1.1-77.3v96.9m1.1-74.1v52.7m1.1-61.1v57.3m1.1-56v50.8m1.2-62.5v63m1.1-62.2v58.9m.9-54.8v55.5m.8-54.7v63.7m.9-72.7v83.1m1.2-62.4v55.4m1.2-52.1v53.9m1.1-45.4v48.1m1.1-47.5v54.4m1.1-53.9v53.8m1.1-39.9v36.5m1.1-35.8v36.4m1.1-38v38.2m1.1-38.8v39.4m1.2-31.9v37.9m1.1-38.8v40.1m1.1-45.7v39.9m1.2-47.5v45.7m.9-45.2v43.8m.9-46.1v45.4m.9-42.3v43.8m.9-76.4v78.2m.8-55.2v45.7m.9-38.2v36.4m1.2-32.8v35.3m1.2-52.5v53.9m.8-72.8v68.2m.8-62v66.5m.9-62.6v68.4m.8-70.5v72.8m.8-75v76.2m.9-85.2v88m.9-80v82.2m.8-63.7v62.4m.9-38.9v47.8m1.2-48.5v48.9m1.2-95.6v89.4m1.1-83.7v81m1.2-112.1v111m1-123.2v125m1-140.5v127.4m1.3-152.2v149.8m1-154.5v134.5m1-140v120.1m1.2-129.2v93.3m1.2-101.1v83.5m.8-83.1v70m.8-83.4v71.7m.9-73.3v57.6m.9-56.5v60.6m.9-57.4v33.6m.8-31.8v26.9m.9-30.2v29.8m.8-35v35m.8-35.5v42.4m1.2-43.4v48.4m1.2-42.1v51.2m.8-38.5v44.3m.8-44.7v49.3m.9-48.8v56.7m.9-59.3v68.4m.9-60.5v61.5m1.2-49.5v54.2m1.1-45v45.2m1.1-36.4v45.1m1.2-40v43.2m1.1-41.2v40.6m1.1-32.4v32.6m1.2-28.6v31.1m.9-33.1v28.1m.9-30v36.2m.9-37.8v53.2m.9-51.6v44.5m.8-40.2v47.1m.9-46.6v50.4m1.1-44.1v49.3m1.2-47.6v53.2m1.1-51.2v49.8m1.1-41.5v48.7m1.1-43.7v43.6m1.1-36.8v38.4m1.2-40v47.7m1.1-47.6v54.2m1.2-53.4v48.4m1.2-46.1v48.4m.9-45v47.3m.8-35.8v37.6m.9-28.4v30.6m1.1-33v31.2m1.2-28.6v26.5m1.1-25.3v21.4m.9-20.6v22.7m.8-28v31.7m.9-27.2v29.1m1.1-27.3v34.4m1.2-32.9v43.3m1.1-41.1v48.8m1.1-47.9v56.8m1.2-63.4v73.4m1.2-94v120.4m1.1-78.1v78.7m.9-71.8v73.1m.9-64.8v64.3m.9-55v55.7m.9-47.2v46.4m.9-38.5v53.1m.9-41.6v28.3m1.1-32.3v45.1m1.1-38.2v27.1m1.1-25.4v28m1-27.5v32.6m1-29.5v32.8m1-37.3v42.4m1-38v41.8m1-35.1v34.1m1-36.5v36.7m1-30.3v29.5m1-29.3v27.8m1.1-20.8v23.6m1.1-24.7v23.5m1.1-28.5v26.8m1.1-21.6v27.6m1.1-27.9v25m1.1-32.5v43.1m1.1-36.4v58.7m1-52.2v35.1m1-33.4v25.1m1-23.2v26.8m1-27v35.5m1-35.8v37.1m.9-36.4v64.5m.8-62.8v81.6m.9-84.6v83.3m1.4-76v73.9m1.3-66.1v65.7m1-59.3v64.7m1-34.3v41.2m1-58.1v51.2m1-54v49.8m1-46.6v43.8m1-50.6v60.4m1-52.9v47.3m1-43.4v45.8m.9-44.5v41.4m.9-29.5v25.5m.9-30.5v34.9m1.1-31.5v27.3m1.2-26v22" stroke="#c7e9c0" stroke-width="1.7" fill="none"/>
<path d="M988.3 1837.9v13.1m1.1-20.2v20.5m1.2-21.9v22.3m1.1-21.5v24.3m1.1-27.8v28.5m1.1-31.9v40.5m1.1-40.9v41.3m1.1-40.3v30.1m1.1-27.4v21.2m1.1-22.3v27.6m1.1-39.1v39.1m1.2-33.3v33.6m1.1-30.5v32.1m1.1-34.1v40.1m1.1-33.3v40.9m1.1-40.7v41.8m1.1-36.7v41.7m1.1-45v54.4m1.1-50v58m1.1-52.9v53.2m1.2-47v44.5m1.1-41.3v48.5m1.1-48.3v53.2m1.1-60.6v75.6m1.1-50.1v55.7m1.2-57.2v62.2m1.1-57.7v64.4m1-60.8v63.7m1-64v64.5m1.2-60.9v61.8m1.2-45.7v50.8m.8-35.2v41.4m.8-39.9v36.3m.9-36.1v33.8m.8-39.2v39.1m1.2-38.8v46.8m1.1-40.2v47.3m.9-40.3v49.3m.9-48.8v43.1m.9-40.8v39.6m.9-30.5v29.1m.9-26.8v31.5m.9-32.8v30.6m1.1-26.5v23.9m1.1-24.9v25.3m1.1-24.9v29.4m1.1-27.7v34.3m1.1-32.5v41m1.1-40.4v45.4m1.2-41.5v37.1m1.2-38.8v42.3m1.1-45v42.3m1.2-31.7v32.1m.9-39.1v37m.9-36v32.3m.9-29v34.3m1.1-63.9v73.9m1.1-42.1v33.8m1.1-40.7v39.2m1.1-34.1v32.5m1.1-35.6v54.4m1.1-57v44.2m1.1-37.4v37.8m1.2-35v28.9m1.1-26.5v26.8m.9-25.8v29.4m.8-28.8v35.9m.9-44.7v51.3m1.2-42.1v37m1.2-35.8v41.4m1.1-34.4v35.2m1.1-28.1v31m1.1-30.5v33.2m1.2-38.3v48.4m1.1-45.4v51.1m1-47.3v49.4m1-50.6v73.4m1.2-67.9v65.6m1.2-59v55.7m1-50v50.8m1.3-46.8v52.8m1.1-40.8v47.5m1.1-46.6v40.7m1.1-43.8v31.6m.9-27.1v32.7m.9-45.2v55.6m.9-46.8v50m1.2-54.4v62.1m1.1-51.6v54.4m1-53v51.3m1-41.5v38.6m.9-38.5v38.9m.8-35.3v42.8m1-45v53.1m1-56.3v47.4m1-44.7v37.6m1-41.6v36.7m1-39.2v34.1m1-36.3v38.2m1-36.8v28.2m1-28.6v28.6m1-28.3v31m1-37.7v35.9m1-32.8v26m1-28v31.2m1-35.8v30.1m1-38.7v34.9m1-38.2v38.4m1-41.1v37.7m1-37.6v44.1m1-41.8v32.8m1.1-43.4v51.4m1.1-44.3v26.1m1-32.6v30.6m1.1-31.8v28.9m1.1-29.5v30.6m1.1-32.1v31.8m1.1-33.3v29.9m1.1-29.2v26.1m1-28.9v33.8m1-41.3v40.8m1-39.9v36m1-34.9v38.9m1-41v32.8m1-35.4v30.4m1-29.9v26.9m1-32.5v29.2m1.1-26.8v31m1.1-29v32.3m1.1-37.3v33.8m1.1-32v31.2m1.1-30.1v31.5m1-28.6v30.5m1.1-29v37.1m1.1-34.8v35.9m1.2-33.6v29.9m1.1-26.4v32m1.1-31.2v36.5m1-43.8v43.8m1.1-38.3v30.6m1.1-29.7v25.8m1-41.7v72.3m1-56.1v24.3m1-27.1v29.9m1-24.8v23.4m1-19.7v23.8m1-22.6v21.7m1-21.9v20.7m1-21.5v19.7m1.1-29.2v32.6m1.1-66.9v82.4m1.1-64.5v47m.9-53.4v54.2m.9-59.3v57.6m.9-60.9v56.3m.9-59.5v52.8m.9-58.3v48.9m.9-49.2v50.7m1.1-51.6v42.9m1.1-42.9v36.7m1.1-34.7v31.9m1.2-33.9v37.1m1.1-36.8v39.2m1.1-35.4v30.5m1.2-28.3v25.1m1.1-28.3v28.4m1.1-29.7v29.2m1.1-29.2v32.5m1.1-37.7v31.3m1.1-36.8v32.5m1.1-40.3v36.3m1.1-33.5v37.4m1.1-39.6v44m1.2-66.6v89.4m1.1-84.9v58m1.1-65.9v60m1.1-58v53.1m1.1-57.1v52.3m1.1-65.6v61.3m1.1-70.9v61.3m1.1-82.5v74.7m1.2-97v96.6m1.2-103.4v101.9m1-107v102.9m1-103.7v94.8m.8-95.1v83.4m.8-81.7v62.7m.9-65.5v49.7m.8-50.5v46.2m1.2-50.6v58.2m1.1-53.4v54.2m1.2-62.2v67.5m1.2-51.9v47.3m1.1-40.7v35.7m1.1-28.3v25.8m1.1-20.1v23.9m.9-25.8v29.6m.9-31.4v27.1m.9-39.7v39.8m.9-74.7v70.9m.8-90.7v88m.9-107.8v106.3m1.4-119v122.3m1-134.1v138.4m1-139v159.3m.8-154.2v80.5m.8-78.7v63.8m1.2-73.5v50.6m1.2-45.3v47.9m.9-50.3v62.8m.8-54.2v70.3m.9-62.6v65.7m1.2-59.2v54.1m1.2-46.3v47.9m1.1-45v49.2m1.2-45.4v40.7m.9-48.9v45.7m.9-52.6v52m.9-70.9v71.3m.9-69.7v60.4m.8-84.5v90.2m.9-84v76.5m1-73.3v64.8m1-68.2v58.5m.9-55.3v44.3m.9-44.3v29.3m.9-30.6v21.3m.9-20.7v28m.9-29v33.6m.9-32.1v28.6m.9-26.3v40.7m.8-44v62.4m.9-65.8v67.1m1.2-61.3v65.8m1.2-62.5v64.4m1.1-64.6v75.6m1.2-70.1v83.1m.9-67.6v67.6m.9-54.1v63.1m.9-55.6v66.8m.9-58.9v54.2m.8-48.2v47.9m.9-44.2v45m1-36.6v36.6m1-28.1v29.3m1-20.1v19.9m1-24.2v27.5m1-29.8v29.1m1-26.8v34m1-37.8v37.5m1-35.7v37.3m1.1-33.4v35.7m1.1-32.2v32m1.1-48v78.6m1.1-56.4v30.9m1.1-34.9v35.1m1.1-35.1v36.5m1.1-35.9v49.6m1.1-47v54.3m1.1-49.3v45m1.1-43.3v39.9m1.1-33.3v33.6m1.1-31.2v41.8m1.1-45v63.8m1.1-57.4v40.1m1-37.7v40.7m1-33.7v36.6m1-33.9v33.7m1-31.3v31.8m1.1-29v37.6m1.1-35.1v33.1m1.1-30.9v35.3m1.1-31.9v27.3m1.1-27.2v26.8m1.1-25.2v32.5m.9-31.1v46.7m.8-41.9v55.5m.8-61.6v74.6m.9-72.5v77.8m.8-76v84.7m.8-70.4v70.2m1.2-57.8v64.2m1.2-57.3v65.6m.9-49.3v51.7m.8-42.1v46.8m.9-37.5v43m.9-39.1v41m.9-40v49.4m.9-48v50.3m1.2-47.1v41.2m1.1-35.6v35.1m1.1-31.4v33.2m1.2-24.1v31.2m1.1-30.9v23.5m1.1-29v31.1m1.1-30.2v39.4m1.1-36v40.7m1.1-37.7v42.2m1.1-44.1v48.2m1.1-45.6v65.2m1.2-66.4v76.3m1.2-70.7v148.5m.8-143.2v143.6m.8-136.8v141m1-129.8v130.6m1-116.3v115.5m1.4-101.2v102.5m.9-101.8v106.3m.8-104.1v74.9m.9-72.9v30.4m1.2-33.7v32.2m1.2-27.2v35.7m1.1-39.1v40.1m1.1-37.6v34.9m1.1-35.6v36m1.1-31.6v26.8m1.1-29.3v26.6m1.1-25.4v28.7m1.1-28v35.3m1.2-29.9v28.5m1.1-28.6v29.2m1-25.3v24.6m1.1-25v24.4m1.2-23.9v29.4m1.1-29v27.8m1.1-31.7v26.8m1.1-27.4v28.1m1.1-31.1v28.4m1.1-20.5v21.5m1.1-26.8v25.7m1.1-45.9v60.1m1.1-42.1v30.8m1.1-26.3v25.9m1.1-23.9v28.3m1.1-26v25.6m1.1-26.3v30.9m1.1-29.5v30.9m1.2-28v24.2m1.2-25v30m.9-25.8v24m.8-23.4v23.3m.9-30.4v27.9m1-26.4v22.9m1-20.2v29.6m1-31.9v27.1m1-26.6v22.1m1.1-24v21.3m1.1-25.3v24.9m1.1-25.8v26.9m1.1-27.5v27.4m1.1-26.8v24.6m1-24v29.1m1.1-30.4v25.2m1.1-27.4v25.3m1-25.9v28m1-30.3v26m1-25.9v26.9m1-23.7v21.1m1-20v17.1m1-16v21.7m1-22v30.2m1-30.6v29.1m1.1-29.8v26.5m1.1-29v23.5m1.1-24v19.9m1.1-20.8v24.4m1.1-31.4v31m1.1-38.4v34.7m1.1-42.3v43.6m1.1-50v47.4m1.2-57.5v55.4m1.1-57.1v57.1m1.1-59.1v51.9m1.1-58.8v55.7m1.1-55.3v47.4m1.2-48.4v41m1.1-43v39.6m1.1-39.5v36.6m1.1-35.8v26.5m1.1-30v30.2m1.1-45.6v42.7m1.1-55.3v57.4m1.1-58.6v53.2m1-58.3v58.1m1-56.9v60.4m1.2-63.5v64m1.2-60.1v47.5m1.1-51.3v37.2m1.1-38.4v31.9m1.1-28.8v28.7m1.1-28.3v41.1m1.1-42.4v47.6m1-38.2v28.4m1.1-27.5v26.8m1-24.2v20.9m1-29.3v31.3m1-33.6v31.8m1-36.2v33.7m1-35.2v36.9m1-36.1v36.7m1-36v33.3m1-32.1v27.4m1.1-33.3v31.9m1.1-41.3v36.4m1.1-46.2v54.3m1.1-55.8v41m1.1-44.9v44.1m1.2-48.4v46.7m.9-46.1v48.2m.9-46.3v37.8m.9-36.1v29.7m.9-34.4v39.5m.8-37.6v39.9m.9-39v41.1m1.2-39.3v36.3m1.2-35v36.7m1.1-37.5v38.6m1.2-41.7v39.9m1.1-48.4v48.3m1.1-52.4v47.6m1.1-55.9v58.9m1.1-63.9v64m1.2-71.5v72.3m1.1-81v70.6m.9-74.7v61m.8-58.4v49.4m.9-52.7v45.3m.9-48v39.9m.9-48.3v51.6m.9-46.7v42.7m1.2-46.2v55.1m1.1-48.4v46.8m.9-42.5v40m.8-37.9v40.8m.9-46.4v48.4m.9-52.1v51.5m.9-50.8v50m1.1-48.5v38.3m1.1-41.1v34.8m1.1-35.7v30.4m1.1-71.6v85.1m1.1-68.7v57.6m1.1-77v75.2m.9-89.7v87.8m.8-108.2v106.1m.8-125.1v133m.9-136.4v119m.8-125.7v111.9m.8-115.1v95.3m.9-91v67.2m.8-63.2v45.9m1.2-50v37.6m1.1-36.7v36.2m1.2-41.6v44.7m1.2-37.9v34.8m.9-35.7v44.3m.8-41.2v30.1m.9-36.1v35.3m.9-30.1v41.1m.9-43.8v58.8m.9-80.3v107.5m1.2-82.3v80.5m1.1-75.8v84.1m.9-76.4v84.1m.8-78.8v76.9m.8-63.1v70.2m.9-55.8v53.4m1.1-44.9v42.7m1.2-38.7v35.8m1-34.4v34.9m1-44v45.6m1.2-62.4v62.8m1.1-70.4v69.6m.9-78.5v79.6m.8-76.9v67.4m.8-73.3v65.3m.9-62.2v48.2m1.1-48v40.5m1.1-39.3v30.2m1.1-46.2v46.2m1.2-32.2v43.3m1.1-46.1v45m.9-47.9v45.4m.9-34.8v32.3m.9-34.4v39.7m.9-29.9v24.1m.9-23.9v24.4m.9-20.4v22.8m1.1-21.9v30.9m1.1-30v36.5m1.1-36.7v39.1m1.2-37.1v47.1m1.1-46.5v54.5m1.1-55.2v63.8m1.2-57v63m1.1-58.7v60.5m1.1-53.4v57.6m1.2-56.4v60.3m.9-61.2v67.4m.9-54.7v55.5m.9-42.7v45.1m.9-35.4v32.6m.8-36.2v35m.9-28.9v27.6m1.2-23.7v32.1m1.2-35.1v48.9m1.1-47.7v56.8m1.2-54.1v60.3m.9-61.3v74.9m.9-67.7v69m.9-69.3v65.3m1.1-55.9v69.6m1.1-61.1v66.7m1.1-56.1v54.8m1.1-50.1v56.8m1.1-60.3v62.9m1.1-60v66.2m.9-53.8v51.3m.9-43.5v42m.9-32.2v44.6m1-41.8v39.6m1-40.5v41.7m1-38.3v43.6m1-38.9v33.3m1.1-32.5v29m1.1-27.8v25.4m1.1-23v27.5m.9-32.4v36.9m.9-39.6v52.4m.9-48.5v45.7m1.2-42.2v37.4m1.1-39.3v39.5m1.1-34.1v35.7m1.2-24.7v30.5m1.1-29.8v35.5m.8-45.1v50.5m.8-45.7v46.3m.9-41.5v48.7m.9-40.3v40m.9-31.3v38.5m1.2-35.7v36.7m1.1-35.4v36.3m.9-32.1v32.5m.8-32.5v35.8" stroke="#c7e9c0" stroke-width="1.7" fill="none"/>
<path d="M1654.3 1959.2v50.3m.9-56.7v64.5m.8-79.5v77.4m1.3-92.9v97.3m1-96.4v84.3m1-82.7v72.3m1.4-74.4v53.5m1-61.7v51.6m1-47.7v41.5m1.1-38.4v27.7m1.2-27.1v32.6m1.1-35.2v34.5m1.1-37.3v32.1m1.1-36.2v30.2" stroke="#c7e9c0" stroke-width="1.7" fill="none"/>
<path d="M1746.7 1801.9v25.2m.8-31v36.3m.8-40.6v45.5m1.1-42.8v46.7m1.2-43.4v52m1.1-45.9v45.9m1.1-40.5v39.4m1.1-37.1v37.4m1.1-35.7v40.1m1-36.9v38.1m1-33.1v32.9m1-28.6v33.9m1-38.3v41.8m1-43.4v43.7m1.1-42.1v55.1m1.1-50.3v50.4m1.1-47v55m1.1-49.3v48.5m1.2-47.2v53m1.1-51.4v59m1.1-51.9v53.2m1.1-47.9v45.5m1.1-44.4v45.3m.9-46.2v54.4m.9-42.9v51.7m.9-51.8v53.5m1.1-48.4v57m1.2-48.5v46.8m.8-40v43.8m.9-67.2v71.4m.9-37.4v34m.8-33.6v31.6m.9-32.6v31.9m1.1-27.5v21.8m1.2-27.5v26.8m1.1-26.7v25.7m1.1-22.4v27.3m1.1-24.7v28.9m1.1-27v54.3m.8-53.6v53.7m.9-52.3v58.1m.6-60.7v58.8m1.2-55.3v63.9m1.2-54.8v50.9m.9-41.5v45.7m.8-49.5v60.3m.9-46.5v48.9m.9-41.6v54.2m.9-53.2v66.6m.9-63.1v57.8m1.3-54.6v64.5m1-60.1v92.1m1-85.8v128.3m1.4-120.3v119.8m1.3-114.8v115.5m1.3-112v145.5m1.4-125.3v141.1m1.3-107.1v109.8m1.3-115.3v112.8m1.4-118.7v122.2m1.3-122v124.2m1.3-117.1v113.7m1-114.4v112.2m1-111v67.1m.9-68.5v39.4m.9-33.3v35.6m.9-34.5v35.7m1.1-43.2v36m1.1-31.1v29.6m1.1-28.8v26m1.1-32.8v74.6m1.2-67.8v31.9m1.1-34.7v34m1.1-30.6v30.6m1.1-29.3v28.1m1.1-53.1v75.2m1.1-53.1v36.7m1.1-36.2v32.9m1.1-31.2v29.3m1-37.3v36.6m1-38.5v30.7m1-49.5v56.5m1-33.1v22.1m1-23.2v21.9m1-22.2v20.8m1-21.1v18.9m1-25.5v28.5m1.1-23.6v27.6m1.2-34.1v34.2m1.1-30.6v35.7m1.1-31.7v35.2m1.1-39.4v66.3m1.1-59.7v26.7m1.1-23.4v22.4m1.1-19.4v17.7m1-17.2v15.4m1.1-16.7v16.8m1.1-16.7v20.9m1.2-29.9v30.1m1.1-25.1v23.8m1.1-21.1v21.4m1-22.7v23m1.1-24.1v22.1m1.1-20v25.3m1.1-31.3v27.5m1.1-30.5v27.2m1.1-27.1v33.9m1.1-33.4v30.5m1.2-37.7v37.5m1.1-37.1v31.2m1.1-31.2v32.8m1.1-30.8v27.1m1.1-25.8v27.3m1-28.3v21.7m1-20.1v17.5m1-21.6v26.2m1-23v21.5m1-19.1v21.3m1-22.7v22.6m1-21.1v16m1-19.2v21.4m1.1-21.2v20.7m1.1-24.2v24m1-26.4v24m1.1-32.3v29.8m1.1-27.4v30.9m1.2-40v46.2m1.1-49.2v47.9m.8-48.8v47.3m.8-50.3v45.9m1.1-49v47.2m1.2-52.3v44.6m1.1-49.2v43.2m1.1-50.9v48.1m1.1-41.7v36.9m1.1-43.4v37.3m1.1-31.8v27.9m1.1-37.1v33.1m1.1-28.3v26.5m1.1-26.1v24.7m1.2-37.3v43.5m1.1-41.5v39.1m1.1-47.8v46.1m1.1-37.5v34.6m1.1-30.7v27.3m1-29.4v26.6m1-27.4v28m1-27.2v25.3m1-24.4v20.8m1.1-21.8v20.5m1.1-20.9v23.4m1.1-26.8v25.1m1.1-28.1v31.4m1.1-38.2v34.2m1.1-42.3v44m1.1-44v44.5m1.1-52.9v48.2m1.1-67.6v62m1.1-66.2v65m.8-70.5v68.9m.9-77.6v79.6m.8-82.7v74m.8-82.1v69m.9-62v50.4m.8-50.4v43.6m.9-40.8v32m.9-35.8v30.5m.9-34.8v43.1m1.1-38.2v44.5m1.2-42.3v46.6m1.2-48.7v50.1m1.1-43.7v50.6m.9-51v51.7m.9-45v47.4m.9-56.3v58.9m1.1-45.5v39.5m1.1-32.8v34.9m1.1-33.2v32.2m.9-54.9v54.2m.9-80.5v79.2m.9-106.8v113.5m.8-132.6v127.8m.9-125.3v120.3m1-119.7v112.6m1.3-115.9v99.2m.8-103.6v83.5m.9-95.8v103.3m.8-103.1v102.4m.8-84.5v89.9m.9-77.6v86.3m.9-73.2v82.9m.9-66v78.4m1.2-70.9v82m1.1-75.5v84.3m1.2-68.2v70.1m1.2-63.2v69.5m.9-59.3v57.8m.8-48.1v45.5m.9-36.7v38.5m1.1-31.1v34.2m1.2-38.3v35.2m1.1-31.8v33.7m.9-46.6v41.5m.8-39.5v37m.9-36v32.8m1.2-41.3v40.2m1.2-31.8v30.4m1.1-30.3v29.4m1.2-27.4v30m1.1-28.5v28m1.1-26.5v33.6m1.1-31.2v26m1.1-64.2v73.5m1.2-82v76.1m1.1-111.6v107.3m1-126v126.3m1-144.6v142m1.1-160.9v160.7m1.2-179.6v154.6m.8-168.9v146.1m.9-156.1v128.1m.8-127.1v113.3m.8-111.4v85.3m1-88.5v107.4m1.4-103.2v116.9m1.3-124v166.2m1.3-162.6v139.8m.9-126.3v142m.8-111.3v108.4m1.2-75.4v74.7m1.1-79.9v81m1-74v73.1m1-78.8v78.8m1.4-72v78.8m1-77v60.6m1-61.1v46.5m1.1-44.3v28.8m1.1-23.2v21m1.1-30.7v29.7m1.2-35.4v34.5m1.1-37.3v37m1.2-39.1v41.2m1.2-39.5v45.1m1-40.9v49.4m1-54.2v58.8m.8-55.2v61.5m.8-56.9v49.7m.9-53.9v63.3m.8-68.5v64.8m1.2-66.5v68.1m1.1-68.2v52.8m1.2-56.6v48.3m1.2-44.4v39.5m1-42.8v54.5m1-53.4v44m1.1-51.3v52.4m1.1-42.1v43.3m1.1-38.7v40.1m1.1-35.6v41.3m1.1-32.7v38.2m1.1-40.9v53m1.2-46.9v64.8m1.2-67.7v76.6m.8-74.2v81.5m.8-75.3v82.6m.9-72.9v69.9m.9-52v79.6m.9-63v45m1.2-41v51.5m1.1-49.3v69.1m1.2-62.9v63.6m1.2-58.2v65.2m1.3-71.3v69.2m1-73.2v87.4m1-60.8v44.5m.9-38.2v40m.9-42.7v31.8m.9-30.1v26.7m.9-23.7v51.6m.8-56v81.6m.9-81.4v80.7m1.4-77.9v79m1.3-72.8v68.1m1-65.9v64.4m1-41.3v40.7m.9-26.7v25.3m.9-23.2v21.4m.9-21.4v27m.9-25.8v41.6m.8-41.8v65.6m.9-66.3v124.5m1.4-129.1v127m1-139.8v154.7m1-141.3v131.4m1.3-106.5v107.7m1-79.4v77.8m1-66.8v65m1.2-65v49.3m1.1-46.5v46m1.2-41.5v35.4m1.2-33.5v39m1.1-42.1v41.6m1.1-45v32.6m1.1-27.1v21.6m1.1-18.9v23.1m1.1-21.8v21.7m1-28.6v30.5m1.1-26.4v26.8m1.1-25.1v25.1m1.2-27.5v36.6m1.1-41.2v38.9m1.1-51.5v78.7m1.1-73.3v40.4m1.1-49.5v47.8m1.1-49.3v43.6m1.1-42.9v35.6m1.1-32.2v27.3m1.2-23.6v29.6m1.2-30.7v37.8m.9-36v38.1m.8-37.8v34.4m.9-29.8v26m.9-29.6v34.4m.9-39.6v35m.9-34.5v34.2m1.2-34.6v40.3m1.1-43.3v39.9m1.2-43.3v69.5m1.2-74.6v39.9m1.1-36.4v35.6m1.1-35.8v37.5m1.1-34.9v64.1m1-65.1v64.3m1-63.7v88.2m1.3-93v70.1m1-59.5v57.8m1-48.6v49.7m1.1-32.4v31.5m1.2-29.2v28.9m1.1-32.6v34.9m1.1-31.1v33.8m1.2-35.8v37.1m1.2-36.5v43.5m1.1-37.7v36.2m.9-37.3v35.6m.9-27.8v25.7m.9-26.6v25.8m.9-29v34.4m.9-34.2v33.5m.9-31.4v34.5m1-33.7v26.3m1-33v29.2m1-27.4v22.4m1-26.1v24.6m1-26.1v26.9m1-28.4v26.4m1-26.7v26.7m1-26.7v23.6m1-26.9v26m1-46.3v74.6m1-56v24.8m1-24.9v28m1-28.9v23.8m1-35v70.7m1-66.4v33.6m1-33.1v29.5m1-28.7v26.7m1-29.2v28.6m1-37.6v37.3m1.1-36v37.4m1-39.6v38.6m1.1-43.5v36.9m1.1-37.1v35.1m1-41v37.1m1-38.9v38.4m1-36.1v39.1m1-40.2v35.8m1-42.3v39.7m1-37.6v33.7m1-39v54.2m1-65v47.5m1-39.7v44.9m1-43.5v33.8m1-36v30.6m1-26.8v27.1m1-29.4v28.5m1-25.3v21.7m1-29v28.8m1-24.4v24.4m1-25.8v30.1m1-33v29.2m1-34.2v30m1.1-30.2v34.9m1.1-33.9v33.8m1.1-38.6v33.6m1.1-29.3v30.5m1.1-30.7v29.8m1.1-34.1v32.1m1.1-30.4v36.8m1-39.7v41.1m1-39.7v32.8m1-37.1v33.4m1-38.6v40.7m.9-36.9v30.7m.8-37.9v39.9m.9-33.8v37.8m1.1-34.6v39.8m1.2-69.9v74.3m1.1-43.1v45.4m.9-52.3v51m.8-52.3v53.6m.9-48.5v44.3m1-35.1v37.5m1-41.8v38.3m1.1-68v70m1.2-44.3v36.2m1.1-33.5v36m.9-34.5v36.2m.8-31v27.7m.9-24.9v25.9m1.1-29.2v33m1.2-29.7v25.9m1.1-34.5v36.5m1.1-37.6v66.2m1.1-65.1v27.9m1.1-23.9v24.6m1.1-34.7v35.6m1.1-36v33.7m1.1-34.4v39.3m1.1-46.5v44.2m1.2-56.2v53.4m1.1-57.2v51.6m.9-60.3v54.3m.8-71.1v66.1m.9-76.9v77.9m.9-91.1v83.6m.8-106.8v99.4m.8-104.7v100.5m.9-110.2v98.5m1.3-123.2v142.5m1-137.6v95.6m1-93.9v77.4m1.2-78.9v56.1m1.1-52.3v41.7m1.2-40.4v40.9m1.2-63.2v66.7m1-96.6v97.3m1-110.8v109.5m1.3-135v133.2m1-137.4v134.5m1-136.9v142.6m1.3-141v90.2m1.4-88.2v83.9m1.3-84.4v98.2m.8-95.5v113.1m.9-111.9v119.5m.8-91.2v97.8m.8-81.6v83.5m.9-66.3v62.8m.9-45.3v50.9m.9-56.3v53m1-55.7v51.5m1-49v53.1m1.3-57.1v67.3m1.4-70.1v75.8m1-74.7v89m1-87.8v84.7m.8-60.7v62.2m.8-63.4v70.5m.9-82.4v81.2m.8-101.1v97.4m.8-116.9v118.1m.9-139.8v132.3m.8-145.6v128m.8-121v105.5m.9-108.6v90.8m.8-96.3v75.1m1.2-77.4v60.4m1.1-65.5v49m.9-53.5v40.9m.9-39.6v39.8m.9-39.1v37.7m1.2-36.2v33.7m1.1-32.2v24.5m1.1-29.7v32.5m1.2-35.6v32.2m1.1-26.9v25.3m1.1-21.4v27m1-29.1v26.5m1.1-29.2v28.1m1.1-25.1v21.4m1-29.9v36.1m1-30.4v38.6m1-40.3v33m1-26.7v22.2m1-20.3v22.9m1-21.1v18.4m1-32.6v66.7m1-56.8v22.4m1.1-45.7v51.5m1.1-27.1v29.4m1.1-27.3v33.1m.9-32.9v41.2m.9-44.4v42.2m.9-47.6v57.4m.9-47.7v52.9m.9-52v54.9m.9-48.9v59.3m1.1-56.6v69m1.2-66.4v66.7m1.2-56.4v59.6m1.1-54.2v59.2m.9-50.8v56.9m.9-49.1v50.2m.9-46.9v49.3m.9-39.1v48.4m.9-40.7v44.4m.9-44.2v42.2m1.1-34.8v32.1m1.1-32.3v31.9m1.1-28.1v28.7m1-24.7v23.2m1-17.9v21.3m1-19.9v21.7m1-28v32.1m.9-29.4v33.9m.9-33.6v34.6m.9-39.2v42.5m1.1-38.8v58.5m1.1-52.4v41.3m1.1-36.6v38.4m1.1-35.5v45.3m1.1-41.3v55m1.1-58.4v52.5m.9-47.3v48.7m.8-39.1v37.3m1.2-34.7v33.7m1.1-29.1v26.9m.9-25.3v30.7m.9-30v41.3m.9-40.5v39.1m1.2-39.5v40.8m1.1-49.6v54.4m1.1-47.4v45.5m1.2-34.5v36m1.1-40.5v42.1m1.1-40.6v35.7m1.1-31.9v31.2m1.1-34.8v36m1.1-36.3v47m1.1-42.4v30.1m1.1-34.9v55.1m1.2-50v69.3m1.2-64.4v93.4m1-94.7v84.6m1-80.2v91.4m1.3-86.6v84.2m1-67.8v67.3m1-52.9v50.8m1.2-34.8v35.5m1.1-39.5v39.4m1.1-36.7v35.8m1.1-45.8v61.5m1.1-55.2v26.2m1.1-29.2v25.1m1-22.3v28.6m1-25.8v23.6m1-21.8v17.6m1-17.3v17.6m1.1-19.7v18.6m1.1-16.5v26.8m1.1-27v25m1.1-32v31.4m1.1-28v30.5m1.1-27v31.4m1.1-33.9v28.3m1.2-26.1v30.2m1.1-32.3v28.9m1-32.2v27.5m1-26.6v27.3m1-24.6v26.1m1-21.6v22.2m.9-26.2v79.6m.8-89.4v88.8m.9-78.8v76.5m1-73.8v76.6m.9-75.8v81.8m.8-83.3v85.3m1.2-55.6v50.9m1.1-57.2v45.6m1.2-40.9v43.9m1.2-43.9v42.9m1-46.8v47.4m1-38.8v36.3m1.1-35.8v33.2m1.2-34.8v32.4m.8-29.4v32.2m.9-39.2v40.6m1-39.6v40.4m1-43.6v34.7m1-39.3v40m1-42.1v37.3m1.1-33.4v29.4m1-39.1v40.2m1.1-38v37.9m1.1-49.8v47.6m1.1-49.5v49.3m1.1-45.7v43.8m1.1-41.8v34.5m1-35.5v38.4m1-34.1v24.5m1-24.8v20.7m1-29.8v27.9m1-30.4v28.2m1-25.4v29.8m1-31.7v34.6m1-34v29.9m1-29.6v30.9m1-33.9v27.3m1-31.8v38.5m1-38.4v53.2m1-52.2v29.2m1-35.6v30.8m1-32.4v32.3m1-40.5v44m1-41.4v34.9m1-36v38.7m1-39.3v38.9m1.1-47.9v51.3m1.1-61.1v52m1.1-50.4v42.4m1.1-44.4v38.2m1.1-35.2v36.9m1.1-55.6v60.7m1.1-42.3v27.5m1.1-36.9v54m1.1-51.9v32.6m1.1-29.2v36m1.1-31.9v39.8m1.1-39.8v33.9m1.1-34.6v37.1m1.1-39.9v38.8m1.1-40.1v46.2m1.1-38.4v44m1.1-43.9v44m1.2-38.6v36.9m1.1-52.1v52.9m1.2-63.8v60.7m1.2-85.1v88m1-88.7v86m1-83.3v74.5m1.3-75.2v66.1m.9-67.5v55.5m.9-61.3v48.3m.9-45.7v26.4m1-25.8v30.8m1-28.9v31.5m1-34.3v28.9m1-44.6v50.3m1.1-31.7v29.3m1.1-23.7v25.1m1.1-26.8v33.8m.9-39.5v33.7m.9-29.4v29.7m.9-30.3v28.7m1.1-34.5v40.5m1.1-37.1v37m1.1-40.7v35.8m1.1-39.8v41.4m1.1-39v36.7m1.1-41.2v42.5m.9-45.2v65.5m.9-57.3v59.4m.9-56.3v66.3m1.2-61.6v73.9m1.1-66.3v69.8m.9-68v74.7m.8-61.2v67m.9-58.1v57.7m.9-48.1v46.9m.9-56.5v51.3m1.1-61.4v60.2m1.2-60.6v69.4m1.2-66.9v61.8m1.1-66v61m.9-56.2v47.6m.9-51.6v36m.9-39.6v40.6m1.1-46.4v45m1.1-41.8v43.2m1.1-55.5v56.1m1.1-35.1v36m1.2-40.3v31.1m1.1-42.2v59.2m1.1-47.7v35.9m1.1-33.5v36.3m1.1-36.3v43.7m1.1-39.2v35.6m1.1-38.7v44.7m1.1-40.1v40.4m1.1-41.8v34.9m1.2-46.3v45.7m1.1-50.5v47.5m1.1-49.4v51.2m1.1-57.9v53.7m1.1-60.8v65.9m1.1-65.9v57.5m1.1-60.1v48.5m1.1-54.1v49.4m.9-51.9v45m.9-40.2v32.9m.9-42.9v36.2m1.2-36.6v39m1.1-35.3v39.4m1.1-37.2v42.5m1.2-40.8v43.7m1.1-35.9v40.7m1.1-39v37m1.1-39.2v38.3m1.1-34.4v38.9m1.2-37.6v35m1.1-42.3v38.8m.9-47.6v49.5m.9-56.8v57.3m.9-74.3v69.3m1-72.2v65m1-65.1v66.1m1.3-68.5v63.3m.9-63v53m.9-56.4v49.2m.9-54.8v36.2m1.1-31.9v29.4m1.1-36.6v34.5m1.1-26.5v25.4m1.1-39.4v39.6m1.2-45.5v43.3m1.1-52.3v57.1m1.1-68.4v71.1m1.2-74.7v88.1m.8-86.9v69m.9-69.5v56m.9-55.3v45.8m.8-43.9v33.8m.9-32.5v31.3m1.1-29.6v27.8m1.2-25.8v26.6m1.1-23.1v25.1m1.1-25v42m1.1-43.2v43.5m1.1-39.7v45.9m1.2-46.9v51.7m1.1-52.6v55.7m1.2-52v56.6m1.2-69.2v90.5m1-89.9v76.6m1-41.1v29.8m1.1-24.5v24m1.2-26.8v30.1" stroke="#c7e9c0" stroke-width="1.7" fill="none"/>
<path d="M2540.7 1862.8v23.5m1-27.7v33.6m1-30.7v31.4m1.1-30.8v37.7m1.1-31.9v38.7m1.1-37.2v66.5m1.2-80.8v95.7m1.1-83.8v93.4m1-87.3v62.9m1.4-57.9v58.1m1-51v49.6m1-33.3v33.1m1.1-33.6v38.4m1.1-36.5v32.4m1.1-32.7v40.3m1.1-36.7v33.5m1.1-31.5v32.3m1.1-31.1v37m1.1-34.5v39.1m1.2-37.9v36.8m1.1-32v39.1m1.1-35.6v33.7m1.1-28.3v28.4m1.1-26.4v34.5m1.1-64.2v63.2m1.1-32.8v32.7m1.1-32.4v43m1.2-43.4v58.8m1.2-55.5v52.8m1.1-53.5v53.5m1.2-47.2v45.4m.9-39.4v38.8m.9-50v51.7m.9-52.2v49.9m1.1-50.2v43.1m1.1-41.2v33.7m1.1-38.3v36.2m1.1-37.8v32.8m1.1-38.6v46.5m1.1-36.9v27.8m1.1-31.1v33.4m1.2-34.4v40.5m1.1-36v38m.9-34.2v38.1m.8-34.6v41.5m.9-48.6v55.5m1.2-53.8v74.4m1.2-63.5v79.7m1.1-72v90.3m1.2-86.6v92.7m1.3-91.5v85.3m.7-80.9v84.5m1-75.6v72.9m1-44.9v52.4m1-48.9v62m1-69.5v67.2m1-63v66.5m1-56v59m1-65.2v60.2m1-60.3v66.6m1-67.2v67.4m1-64.6v51.2m1.1-54.2v41.6m1.1-39.2v33.7m1.1-36.9v29.4m1-26.5v24.7m1-26.4v27.2m1-26.7v29m1-30.9v28m1-27.3v22.1m1-23.3v20.7m1-19.5v17m1-18.7v25.8m1-26.9v28.2m1.1-30.6v38.2m1.1-35.3v29.8m1.1-31.5v31m1.1-29.3v29.3m1-42.1v75.7m1-62.6v37.4m1-33.1v23.4m1-26.8v29.2m1-32.1v31.7m1-33.2v33.2m1-44.5v48.6m1-56.2v55.3m1.1-51.7v49.2m1-53.9v50.4m1.1-48v45.1m1.1-45.8v38m1.1-40v39.3m1.1-50.7v60.9m1.1-50.7v30.4m1.1-29.8v31.6m1.1-33.3v28m1.1-30v25.3m1.1-24.8v27.4m1-33.8v29.6m1-32.3v30.5m1-34.6v57.7m1-55v35.8m1-32.4v28.9m1-28.3v26.7m1-28v25.6m1-27.4v23.8m1.1-22.8v19.4m1.1-24.9v26.5m1.1-21v22.8m.9-23.9v29.5m.9-29.4v34.1m.9-35.4v30.2m1.1-26.9v29.2m1.1-34.6v45.6m1.1-39.4v28.1m1.1-38.3v38.3m1.1-36.7v35.2m1.1-42.1v38.3m1.1-43.6v56.8m1.2-53.6v36.3m1.1-46.2v48.3m1.1-51.7v45.8m1.1-49.2v43.9m1.1-54.1v53.3m.9-58.3v52m.9-58.4v51.9m.9-64.6v63.6m1.1-62.6v60.1m1.2-62.3v56.9m1.1-60.1v49.2m1.1-45.8v35.3m1.1-34.2v27.5m1.2-26.8v25.3m1.2-24.9v26.9m.9-25.5v31.3m.8-32.2v38.7m.9-37.6v45.4m.9-42.8v44.1m.9-39.4v40.5m.9-39.6v37.8m1-34.8v35.5m1-36.6v35.7m1-34v37.3m1-32.8v39.1m.9-44.2v39.5m.9-42.4v35.5m.9-37.5v31.6m1.1-35.3v47.4m1.2-48v39.4m1.2-40.7v43.7m1.1-46.3v36.9m.9-40v32.7m.9-42.6v43.6m.9-53.8v45.2m.8-54.8v55.6m.9-61v60.2m.8-80.9v89.7m.8-84.5v68.5m.9-63.5v62.4m.8-64.1v52m.8-55.7v55.6m.9-49.2v65.3m.8-64.5v82.5m.8-90.4v95.2m.9-90.5v95.3m.8-82.2v94.1m.8-81.7v85.6m.9-68.7v58.9m1.1-41.4v46.7m1.2-39v33.8m.9-36.5v37.8m.9-46.8v43.7m.9-44v41.9m.9-44.7v39.2m.8-36.9v33.9m.9-54.9v85m1.2-66.9v32.3m1.2-37.1v35.3m1.1-40.8v43.9m1.2-51.1v57.8m.9-59.7v58.1m.9-60.5v47.2m.9-63v54.2m.8-68.8v65.1m.8-131.6v123.1m.9-182.3v181m.8-187v191m1-186.4v183.7m1.3-186.1v166m.9-162.6v144.1m.8-142.9v122.5m1-125.2v149.2m1-136.2v140m1.2-122.7v132.6m1.1-100.1v91.8m.9-64.9v71.1m.8-61.5v62.1m.9-49.2v55m.9-59v47.6m.9-47.2v45.2m1.1-40.3v37.3m1.1-36.3v31.7m1.1-34.9v34.7m1.2-29.7v31.7m1.1-45.7v45m1.2-54v52.5m1.2-59.6v62.7m1-74.9v72.5m1-74.5v69.3m1.1-78.7v77.3m1.2-81.1v69.3m1.1-83.5v75.6m1.1-86.7v71.9m1.1-75.7v64.5m1.2-71.8v69.3m1.2-73v67.8m.9-70.8v64.2m.8-62.6v51m.9-55.4v39.5m.9-35.9v32.2m.8-33.2v46.4m.8-48.3v66.5m.9-70.9v94.5m.8-90.5v100.9m.8-100v100.5m.9-86.5v83.6m.8-76v77.5m1.1-62v64.2m1.1-48.7v55.1m1.1-32.6v40.3m1.1-36.9v35.8m1.2-39.4v39.8m1.1-36.9v42.4m1.1-35.8v37.4m1.1-33v33.7m1.1-27v29.8m1-25.3v23.5m1-22.8v24.7m1-25.8v28.5m1-26.3v32.3m1.1-30.2v35.6m1.1-39.1v34.2m1-29.3v27.6m1.1-26.2v30.7m1.1-29.5v34.8m1.1-29.4v34.3m1.1-38.4v40.2m1.1-34.5v30.3m1.1-27.6v27m1.1-27.8v35m1.1-33v34.2m1-32.7v34.3m1-36.6v48.5m1-44.2v50.4m1-43.5v42.9m1.1-41.4v41.7m1.1-39.6v43.4m1.1-44v46.9m1-44.3v53.4m1-44.9v43.3m1-38.7v40.9m1-45.2v44.6m1.1-34.9v36.3m1.1-30.7v34.8m1.1-29v31m1.1-29.2v36m1.1-35.5v30.4m1-26.8v28.2m1.1-25.5v27.6m1.1-33.4v36.2m1.1-30.5v36.8m1.1-35.7v39.7m1.1-38.3v71.1m1.2-69.3v74.6m1.2-74.8v89.4m1-83.4v69m1.3-66.7v70.9m.9-64.5v62.9m.9-42.5v36.7m.9-39.5v40m.9-47.4v55.4m.8-55.6v62.7m.9-57.1v52.8m1.2-45.9v48.6m1.2-46.3v46.8m1.1-50.5v47.3m1.2-49.5v51.4m.9-57v60.3m.9-55.8v42.5m.9-40.6v37.5m1.1-45.3v41m1.1-35.9v30.5m1.1-35.2v36.2m1.1-31.5v30.9m1.1-30.8v34.8m1.1-34.5v41.9m.9-39.4v41.3m.9-38.5v60.7m.9-57.4v30.3m1.2-25.3v33.5m1.1-42.5v37.1m1.1-35.3v34.5m1.2-37v38.6m1.1-39.2v33.2m1.1-34.1v28.1m1-30.1v25.7m1.1-24.2v22.5m1.1-22.3v18.8m1-23.8v30.2m1-32.9v35m1-31v35.1m1-32.3v38m1.1-36.2v32.6m1.1-33.7v46.3m1.1-49.9v47.9m1.1-38.9v43m1.2-42.3v44.4m1.1-41.7v47.4m1.1-45.1v38.8m1.1-41.1v38.6m1.1-36.9v38.5m1-45.5v43.2m1-27.5v26.8m1-25.3v37.3m1-31.1v29.1m1.1-32.6v33.4m1.1-30.4v32.4m1.1-29.6v28.6m1.1-24.1v21.8m1.1-25.7v26.1m1.1-23.1v32.5m1.1-27.6v27.7m1.1-27.6v29m1-30v26.5m1.1-23.9v26.7m1.1-24.3v24.7m1.1-21.1v25.7m1.1-27.2v25.4m1.1-31v35.3m1.1-40.5v35.5m1.2-40.7v36.2m1.1-35.7v39.6m1-36v36m1-36.2v32m1-29.4v21.8m1-20.4v23.9m1-27.4v27.6m1-24.9v21.9m1-19.8v18.3m1-18.1v21.5m1-22.9v24" stroke="#c7e9c0" stroke-width="1.7" fill="none"/>
<path d="M700.0 1710.0V1743.3M698.3 1718.3V1743.3M701.7 1721.7V1756.7M450.7 1800.0V1846.7M646.7 1823.3V1866.7M675.0 1821.7V1868.3M438.3 1931.7V1953.3M511.7 1908.3V1935.0M533.3 2058.3V2090.0M571.7 2063.3V2098.3M681.7 1928.3V1956.7M790.0 2035.0V2066.7M761.7 1960.0V1996.7M1076.7 2018.3V2071.7M1083.3 2053.3V2071.7M1040.0 1953.3V2003.3M430.0 1836.7V1900.0M555.0 2060.0V2080.0M713.3 1816.7V1860.0M665.0 1860.0V1916.7M1188.3 1731.7V1833.3M1204.0 1711.7V1730.0M1223.3 1703.3V1716.7M1455.0 1715.0V1746.7M1458.3 1720.0V1760.0M1463.3 1720.0V1750.0M1436.7 1805.0V1860.0M1415.0 1873.3V1906.7M1165.0 1871.7V1941.7M1270.0 1866.7V1986.7M1303.3 2100.0V2146.7M1342.7 2045.0V2085.0M1330.0 2040.0V2073.3M1473.3 1806.7V1871.7M1450.0 1863.3V1898.3M1523.3 1915.0V1973.3M1548.3 1976.7V2000.0M1076.7 2016.7V2071.7M1085.0 2053.3V2071.7M1061.7 1981.7V2053.3M1655.0 2001.7V2010.0M1668.3 1905.0V1929.3M1940.0 1768.3V1825.0M1980.7 1726.7V1760.0M1978.3 1738.3V1766.7M2218.3 1735.0V1776.7M2220.0 1738.3V1806.7M2172.7 1913.3V2008.3M2156.7 1973.3V2006.7M1996.7 1783.3V1851.7M1788.3 1940.0V2015.0M1808.3 2126.7V2153.3M2052.7 2093.3V2140.0M2096.7 2080.0V2121.7M2109.3 2085.0V2108.3M2325.0 1990.0V2080.0M2361.7 2025.0V2058.3M2354.3 2031.7V2048.3M1953.3 1953.3V1980.0M2022.7 1893.3V1983.3M2235.0 1913.3V1931.7M2733.3 1693.3V1731.7M2731.7 1706.7V1731.7M2763.3 1731.7V1745.0M2705.0 1813.3V1860.0M2486.7 1833.3V1883.3M2516.7 1796.7V1803.3M2443.3 1863.3V1890.0M2595.7 2033.3V2090.0M2602.7 2055.0V2085.0M2713.3 1936.7V1965.0M2823.3 1973.3V2030.0M2831.0 1985.0V2035.0M2872.7 1981.7V2036.7M2548.3 1926.7V1955.0M2573.3 1975.0V1991.7M2452.7 1961.7V1973.3M2416.7 1953.3V1975.0" stroke="#c7e9c0" stroke-width="2" fill="none"/>
<path d="M595.7 376.9l1.1 .3l1 .9l1.1 2.2l1.1 .6l.9 2.3l.9-.5l.9 .2l1.1-6l1.2-3.8l1.2-1.6l1.1-.8l.9-1.1l1 .1l.9-.3l.9-2.7l1-.5l1 3.4l1 2l.9 1.8l.9 3.7l.9 3.2l1.1 2.4l1.1 1.9l1.1 2.3l1.1 1.7l1.1 2.2l1.1-.3l.9 3l.9-.3l.9-.5M736.7 529.4l.9 7.1l.8 3.1l.9 8.6l1.2 2.5l1.2 2.8l.8-4.1l.8-6.3l.9 7.1l.9 6.6l.9 6.6l1.2-4.5l1.1-8l.9-14.7l.8-13.3l1.2-9.2l1.1-3.7l.9-1.8l.8-2.8l1-17l1.2 6.5l1.1 3.7l1-11.8l1-12l1.2 10.9l1.2 8.7l.8-10.9l.8-8.3l1.1-2.1l1.2-3.3l1.1-1.3l1.1-2.1l1.1-1.2l1.1-1.8l1-8.2l1-4.3l1 6.6l1 9.7l.9 2.5l.9 3.1l.9 2l.9-4.3l.8-2.2l.9-3.7l1.2-12.4l1.2-11.9l.8 6.5l.8 3.8l1.2-2.6l1.2-3.5l.9 2.9l.8 5l.9 6.7l1.2-7.4l1.2-7.4l.9-1l.8-.4l.9-.5l.9 1.4l.9 3.5l.9 1.6M988.3 435.2l1.2 4.6l1.2 5.4l.9 2l.8 .3l.9 3.6l.9-5.1l.9-5.4l.9-4.5l1.1 1.5l1.1 1l1.1-.6l1.1 3.2l1.2 4.9l1.1 3.7l1.1 3.8l1.2 3l1.2-8.8l1.1-10.3l.9-1.1l.9-3.6l.9-3.7l1.1-.6l1.1-1.4l1.1-.5l1.1-1.4l1.2 1.4l1.1-1.5l1.1-5l1.1-4.2l1.1-3l.9-1.5l.9-3.2l.9-.1l1.1-1.2l1.1 2.3l1.1-.4l1.1-3.3l1.1-2.1l1.1-3.7l1-2.3l1-1.7l1 .7l1-4.2l1 .5l1-3.1l1-2.3l1-.1l1.1 1.2l1.1 1.7l1.1 .5l1.1-.2l1.1 1.5l1 2l1.1 1.6l1.1 .3l1-.3l1-4.9l1 .6l1-2.4l1-2.8l1-.5l1-4.3l1-2.8l1.1-.4l1.1-.8l1-.2l1.1 .3l1-.9l1 .4l1-1.1l1 .2l1-1.4l1 1.3l1 1.8l1 .5l1 .3l1.1-1.5l1.1-3.9l1.1-1.4l1.1-2.1l1 4.2l1 2.6l1 1.9l1 2.2l1 4.1l1-4.3l1-1.1l1-1l1-2.5l.9-4.3l.9-1l.9-3l.9-2.5l1 4.7l1 1.4l1 1.7l1.1-2.1l1.1-4.7l1.1-.8l1.1-.9l1 1.2l1 2.8l1 1l1 1l1 3.1l1.1-2.6l1.1-.5l1.1-4.7l1.1-.9l1.1-.7l1.1-1.6l1 3.4l1 3.1l1 1.9l1 2.2l1.1-2.1l1.1 0l1.1-1.4l1.1 2.2l1-1l1 1.1l1 .7l1 1.6l1 2.8l1-.3l1-.3l1 1.8l1-1.5l1.1 .8l1.1 .3l1.1 .7l.9 7.7l.9 5.6l.9 4.1l1.1 6.8l1.1 5.7l1.1 5.9l1.1 2.6l1.1 2.7l1.1 4l1.1 2.8l1.2 4.1l1.1 3l1 5.7l1 3.7l1 5.4l1 2.6l1.1 8l1.1 5.3l1.1 7.7l1.1-1.9l1.1 .2l1.1 1.3l1.1-4.2l1.2-6.4l1.1-4.6l1.1-1.9l1.1-2.7l1.1-3.6l1.1 4.9l1.1 6.1l1.1 6l1.1 .6l1.1-.8l1.1 3.1l1.1-.7l1.1 3.7l1 1.6l1.1-1.2l1.1 4.8l1 4.2l1 1.4l1 2.6l1 3.6l1 .4l1-.3l1-.9l1 .5l1.1-1.3l1.1 .9l1-1l1.1-.9l1.2-.3l1.2 .2l.9-8.7l.8-4.9l.9-8.5l.9 2.4l.9 2.7l.9 3.1l1.2 10.3l1.1 9.4l.9 36.6l.8 32.2l.8-21.7l.9-25.5l1.1 1.8l1.1 3.3l1.1 1.2l1.2-10.1l1.1-11.3l.9-17.5l.9-16.2l.9-17l1.1-18.3l1.1-17.6l1.1-16.2l.9 30.4l.8 29.5l1.2 11.5l1.1 9.8l1.1 11.8l1.2 10.1l1.1 9.5l.9 1.9l.8 1.7l.9 .6l1.1-1.6l1.2-3.8l1.1-5.9l.9-6.2l.8-7.6l.9-7l1.1-6.9l1.2-5.3l1.1-8.8l1.1 .5l1.1 3.9l1.1 3.4l1 4.8l1 8.3l1 6.7l1 7.6l1.1-6l1.1-5.6l1.1-4l1.1-2.2l1.2-1.2l1.1-1.6l1-3.8l1-3.4l1-3.6l1-3.9l1.1-3.4l1-2.7l1.1-5.9l1.1-3l1.1 3.1l1.1 4.6l1.1 2.7l.9 3.6l.8 6l1.1-2.3l1.1-2.8l1.1-2l1.1-6l1.2-2.7l1.1-3.4l1-4.1l1-1.2l1-2.9l1-3.7l1.1-3.9l1-.7l1.1-3.2l1.1-1.6l1.1 2l1.1 .6l1 1.6l1.1 .3l1.1 1.9l1.2 0l1.1 1.8l1.1-3.6l1.1-4.4l1.1-3.6l1-2l1-2.6l1-2.3l1-2.1l1.1 .6l1.1-.1l1.1 1.3l1.1-3l1.2-4.5l1.1-4l1 .1l1 1.3l1-1.2l1 1.3l1.1 .2l1-.4l1.1 .6l1.1 .6l1.1-2.7l1.1-.9l1-1l1.1-.8l1-4.8l1-5.6l1-6.2l1-3.3l1 5.1l1 3.8l1 5.8l1 2.9l1.1-2.8l1.1-1.8l1.1-1.6l1.1-.2l1-.9l1-2.5l1-1.8l1-2l1-2.5l1-1.8l1-1.9l1-1.1l1-2.5l1.1 3.2l1 .3l1.1 1.6l1.1 1.4l1-1.4l1-1l1-1.5l1-.4l1-.1l1-1l1-2.3l1 1.5l1 0l1 .6l1 .3l1-.3l1 .4l1-.9l1-.8l1 2.3l1-.7l1 1.1l1-1.2l1 .8l1 .8l1 1.7l1-.5l1 1.6l1 .9l1 .9l1 1.8l1 2.8l1 1.1l1.1 2.6l1.1 1.5l1.1-.7l.9-3.6l.9 .1l.9-2l.7-27.7l1.3 26.2l1-.8l1 1.7l.9 6.1l.9 8.1l.9 7l.9 2.8l.8 5.6l.9 1l1.2 5l1.2 2.7l1.1-7.8l1.2-8.8l.9-2.8l.9-.8l.9-.9l.9-2.1l.8-1l.9-2.4l1.1 1.4l1.2 1.5l1.1 3.2l1 1.9l1 2.8l1 3.1l1 3.6l1-.6l1 1.4l1-2l1 1.1l1-1.5l1.1 4.4l1 1.2l1.1 1.9l1.1 3.5l.9 .5l1 2.3l.9 .5l.9 3.4l1 .1l1-1l1.1 1.7l1.1 1.6l1 .2l1.1 .7l.9 4l1 1.1l.9-.8l.9 1.6l1 .5l1.1 2.3l1 .2l1.1-1.8l1.1-.2l1.1 3.9l1.1 1.6l1.1 4.3l1.1 2.6l1.1 4.2l1.1 2.2l1.1 2l1 .8l1-.1l1 .1l1 2.1l1.1-1.7l1.1-4.2l1.1-1.6l1 .4l1-1l1-1.9l1-1.2l1.1 3.6l1.1 3.8l1.1 4.4l1.1 5.3l1.2 4l1.1 3l1.1-1.3l1-1.3l1.1 .4l1.1-.8l1.1 3.4l1.1 3.7l1 3.7l1.1 3.7l1.1-8.2l1.2-7.5l1.1-6.7l1.1-4.1l1.1-7.3l1.1-4.5l1.1 3.8l1.1 3.9l1.1 5.4l1-.4l1 1l1 1.1l1 1.9l1.1 2.7l1.2 1.1l1.1 2.4l.9 6l.8 7.5l.9 5.7l1.2 6.9l1.2 10.6l1.1-4.1l1-2.4l1.1-.7l1.1-4l1.2 3.7l1.1 5.7l1.2-20l1.2-20.2l.8-10.6l.8-9.5l.9 6.2l.9 7.3l.9 3.5l1.1 7.6l1.1 3.7l1.1 7.4l1.1-1.7l1.1-.1l1.1-2.1l1.1-1.8l1.1-.4l1.1-.9l1.1 1.8l1.2 6l1.1 8.9l1.2 6.9l1.2 8l.9-3.9l.8-4.4l.9-2l.9-9.3l.9-6.3l.9-8.3l1.1-4.5l1.1-1.2l1.1-5.6l1-3.5l1-2.3l1-3.8l1-2.5l1.1 1.3l1.2-2l1.1-.3l1.1 5l1.1 6.3l1.1 5.2l1.1-4.3l1.1-5.6l1.1-4.5l1.1-3.2l1.2-2.3l1.1-2.8l1-3.2l1-.1l1-1l1-2.7l1.1-1.9l1.1-4.9l1.1-2.9l1.1-2.8l1.1-1.6l1.1-2.8l1.1 3.3l1.2 2.2l1.1 3.9l1-10.1l1-12l1.1 7.8l1.2 5.6l1.2-3.4l1.1-6.2l.9 3.3l.9 2l.9 6l1 4.6M1654.0 431.4l.9-1.9l.9-2l.9 1.4l.9-3.2l.8-6.7l.9-4.1l1.2 2.4l1.2 1.6l1.1 3l1.1 4.2l1.1 .8l1.1 2.1l1.1 .3l1.1 3.8M1746.7 387.7l.8-2.9l.8-3.4l1.1-3.9l1.2-4.3l1.1-2.9l1.1-1.8l1.1-.6l1.1-.6l.8 2.9l.9 2.1l1.1-3l1.1-3.5l1.1-2.5l1-1l1-.2l1-2.2l1 1.2l1-1.1l1.1 1.2l1.1 2l1.1 .7l1.1-4.6l1.2-7.1l1.1-4.9l1.1 .1l1-4.3l1.1-2.5l1.1-2.8l1-2.6l1-.3l1-1.7l1-.4l1.1-2.7l1.1 .7l1-1.7l1.1-3l1-1.4l1-.9l1 .3l1 .9l1.1 .4l1.2 1l1.1-.3l1.1-.1l1 1.2l1.1 1.2l1.1-.8l1-3.4l1-1.8l1-.7l1-2.6l1.1-1.1l1.1-2.9l1.1-.4l.9-6.2l.8-5l1.2 6.9l1.1 4.5l1.4-24.2l1 14.6l1 8.9l1.3 10.4l1-8.1l1-7.2l.9-2.1l.9-4.7l.9-3.4l1-1.1l1 .1l1-.4l1-1.4l1.1-.8l1-2.1l1.1 1.3l1.1-.8l1-1.1l1-.1l1-1.8l1 0l1-2.2l.7 10.1l1-4.7l1-5.1l1 3l1-1.7l1-.1l1-1.4l1 1.4l1 .8l1-.1l1 1.7l1-1l1-1.3l1 1.4l1 1.9l1 1.9l1-.2l1 .4l1 3l1 0l1 .2l1 .4l1-.4l1 .4l1-.4l1 .8l1-.4l1-2.2l1 2.1l1 .2l1 .4l1-1.3l1 .4l1-.3l1 .3l1-.5l1-.4l1 .3l1 1.1l1 0l1 1.6l1-.1l1.1 .3l1 .2l1.1-.8l1.1 2.3l1.2-6.8l1.1-3.6l1.2 8.2l1.2 8.6l.9-4.9l.8-5.2l.9-5.5l1.1-1.8l1.2-2.1l1.1-.7l.9-2l.8-3l.9-1.6l1.2 3.8l1.2 4.7l1.1 2.3l1.1 1.4l1.1 1.4l1.1-.5l1.1 3.7l1.1 .9l1.1 4.7l1.2 5.5l1.1 4.9l1.1 2.6l1.1 2.9l1.1 3.2l1.1 .9l1.1 2.4l1.1-1.1l1.1 1.7l1.2 1.6l1.1-.3l1.1 3.7l1.1 .6l1.1 1.8l1.1-2.6l1.1-6l1.1-2.8l1.2 .1l1.2-3.1l1 5.5l1 6l1.1 5l1.2 8.4l1.2 7.5l1.1 8.9l.9 2.3l.9 4.3l.9 5l.9 2.7l.9 3.7l.9 6.8l1.3 13.1l1 10.6l1.2-8.4l1.1-8.4l1-10.4l1-11.3l.7 10.6M1942.3 438.3l.9 9.2l.8 6.8l.9 4.6l.9 5.8l.9 3.6l1.1 7.8l1.1 5.6l1.1 9l1.1 3.5l1.1 3l1.1 4.3l1 2.3l1 1.6l1 0l1 3.6l1.1-.1l1.1 2.5l1.1 1.2l1.1-.2l1.1 5.7l1.1 4.5l1.1 2.6l1.1 3.2l1.1 4l1.1 4.3l.9-.6l.9-2.5l.9-1.9l1.2-8.6l1.1-10.1l.9-10.7l.9-11.9l.9-10.5l1.2-15l1.1-14.9l1.2 7.6l1.2 5.4l.9 13.7l.8 11.7l.9 12.3l.9 5.7l.9 7.1l.9 6.7l1 3.6l1 6.2l1-11.2l1-10.3l1-7.2l1-9.3l1 2.5l1 3.8l1 4.8l1.1 .9l1.1-1l1.1-.1l1.2-6.7l1.2-6l.9 1.9l.8 4.1l.9 4.4l.9 8.9l.8 5.8l1.2-7.8l1.1-6.9l.9-6.9l.9-4.4l.9-5.7l.8-15.7l.9-10.8l1.1 7l1.2 8.1l.9-6.9l.9-7.7l.9-6.8l1.1-2.8l1.1-2.7l1.1-2.3l1.1 0l1.1-3.5l1.1-.1l1.1 5.1l1.2 3.2l1.1 3l.9-4l.8-1.9l.9-.9l1.2-14.5l1.2-13.4l1.1 3l1.1-.7l1.1-.9l1.1-.3l1.1-.4l1-2.1l1.1-.8l1.1-3.6l1.2-4l1.1-4.9l1.1 5.2l1.2 2.5l1.1-1l1.1-2.9l1.1-2.3l1.2-7.2l1.2-9.1l1-6.6l1-8.2l1.1 13.1l1.2 13.3l1.1-3.3l1.1-2.6l1.1-6.1l1.1 2l1.2 2.6l1.1 2.1l1.1 1l1 1.1l1.1-1.6l1.1 1.9l1-1.8l1-1.3l1 .9l1 .3l.9-5.2l.9-5.9l.9-7.4l1-2.1l1-1.6l1-2.5l1-.5l1.1 2.4l1.1 1.6l1.1 .4l1-1.3l1 .2l1-.8l1-.3l1.1-.5l1.1 1.6l1-2.1l1.1-.8l1.1 .3l1.1 .8l1.1-2.4l1.1-.8l1-2.5l1-2.5l1-2.7l1-2.4l1.1 2.2l1.1 3.2l1.1 1.9l1-2.6l1 .3l1 .3l1-.3l1.1-.9l1.1-2.8l1-.2l1.1 .5l1 2l1 1.5l1-2.6l1-.1l1-.9l1 0l1 .7l1 .1l1 .9l1-1.3l.9 12.4l.8 11.5l.8-9.1l.9-9.3l1.1-3.8l1.2-2.9l.9-2.3l.9-2l.9-.7l.9 4.1l.8 1.6l.9 4.2l1 .6l1-1l1-.8l1 0l1 .3l1 .4l1 2l1-1.3l1.1 .8l1.1 .7l1.1 1.2l1.1-1.8l1.1 .1l1-.9l1.1 .2l1.1-.9l1 2.3l1 1.1l1 .5l1 1.2l1 1.8l1 1.3l1-.7l1 3.3l1.1-1.7l1.1-1.6l1-.1l1.1 .9l1.1 3.8l1.2 3.7l1.1 2.4l1.1 3.8l1.1 1.4l1.1 1.6l1.1-.3l1.1 1.5l1-.9l1.1 2.2l1.2 7.6l1.2 7.1l1.1 8.9l1.2 8.2l.9 4.7l.9 7.1l.9 6.3l.9 2.3l.8 3l.9 1.8l1.2 8.6l1.2 9.4l1.1 7l1.2 7.2l.9 0l.9 .6l.9 1.7l.9 2.9l.8 4.3l.9 2.6l.9 3.4l.9 5l.9 2.9l1.3 54.3l1.4-50.4l.9 .7l.8-2.7l.9-1.4l.9-1.4l.9-1l.9-2l1.1-4.3l1.1-1.5l1.1-2.7l1.1-2.3l1.2-1.1l1.1-2.3l.9-5.2l.8-5l.9-6.1l1.2 13.6l1.2 12.6l1.1-15.7l1.2-13.8l.9-8.5l.9-9.3l.9-6.8l.9 4.5l.8 4.6l.9 4.8l1.2 8.6l1.2 10.3l1.1 11.1l1.2 11.1l1 5.2l1 6.6l1.2-10.4l1.1-11.7l1.2 7.4l1.2 8.5l1 10.6l1 9.7l.8 8.4l.8 5.4l1.2-11.9l1.2-12.1l.8-22.6l.8-26.3M2526.7 437.0l.9-.9l.8 2.1l.9-.4l.9-3.8l.8-6.3l.8-3.2l.9-4.9l1.1-.2l1.2 .3M2748.3 522.9l1.2-2.8l1.2-2.9l1-14.1l1-11.1l1.1-9.6l1.2-10.8l1.2-2.6l1.1-5.9l.9-4.2l.9-3.6l.9-3.5l1.1-1.6l1.1-3.2l1.1-1.1l.9 1l.9 2.5l.9 3.1l1.2 11.2l1.1 12.8l1.2 12.5l1.2 10.2l1 4.2l1 4.7l1.1-9.7l1.2-14l.8-10.5l.9-10.6l.8-6.8l.8-7.4l1.2 3.3l1.2 3l1-7.9l1-6.7l1.3-20.7l.9-1.3l.9-.8l.9 .1l1-.2l1-.8l1 1.5l1-1l1.1 1.4l1 1.5l1.1 1.1l1.1-.5l1.1-2.4l1.1-1.8l1.1-3l1.1-1.9l1.1-1.7l1.1-3.7l1.1-.9l1-3.5l1 .3l1-3l1-2.8l1 1l1-1.1l1-3.2l1 .9l1.1 .2l1 1l1.1 2.8l1.1 1.3l1.1-1.8l1.1 2.1l1-.5l1.1-3.1l1.1 .8l1.2 .9l1.1 0l1.1-3.4l1.2-6.3l1.1-1.4l1.1-2.9l1.1-3.2l1.2-1l1.2-3.2l.9 2.1l.8 2.4l.9 2.3l1 0l1-2.7l1-.3l1 .5l1.1 1.2l1.1 1.7l1.1-1l1.1-1.7l1.1 .2l1-1.5l1.1-1.6l1.1-.6l1-2.9l1 1.2l1-2.5l1-1.5l1 3.4l1-.7l1 2.2l1 2.7l1.1-1.2l1.1-1.9l1 0l1.1-1.8l1.1-.3l1.1 .4l1.1 2.6l1.1-1.1l1.1 2.8l1.1 .6l1.1 3.2l1-3.8l1-3.3l1-2.6l1-1.2l1.1 1.7l1.1-.2l1.1 2.1l1 2.3l1-.2l1 2.6l1 .8l1.1-1.3l1.1-.7l1.1-1.5l1.1-.1l1.1-1.2l1-1.1l1.1 2.1l1.1 .7l1 .3l1-1l1-.7l1-3.2l1 1.1l1 0l1-.2l1 1.4l1.1 1.7l1.1 1.5l1.1 2.2l.9 .7l.9 1.2l.9 2.2l1.2 3.5l1.1 4.1" stroke="#660066" stroke-width="3.5" fill="none" stroke-linejoin="round" stroke-linecap="round"/>
<path d="M595.7 376.9h0m1.1 .3h0m1 .9h0m1.1 2.2h0m1.1 .6h0m.9 2.3h0m.9-.5h0m.9 .2h0m1.1-6h0m1.2-3.8h0m1.2-1.6h0m1.1-.8h0m.9-1.1h0m1 .1h0m.9-.3h0m.9-2.7h0m1-.5h0m1 3.4h0m1 2h0m.9 1.8h0m.9 3.7h0m.9 3.2h0m1.1 2.4h0m1.1 1.9h0m1.1 2.3h0m1.1 1.7h0m1.1 2.2h0m1.1-.3h0m.9 3h0m.9-.3h0m.9-.5h0M736.7 529.4h0m.9 7.1h0m.8 3.1h0m.9 8.6h0m1.2 2.5h0m1.2 2.8h0m.8-4.1h0m.8-6.3h0m.9 7.1h0m.9 6.6h0m.9 6.6h0m1.2-4.5h0m1.1-8h0m.9-14.7h0m.8-13.3h0m1.2-9.2h0m1.1-3.7h0m.9-1.8h0m.8-2.8h0m1-17h0m1.2 6.5h0m1.1 3.7h0m1-11.8h0m1-12h0m1.2 10.9h0m1.2 8.7h0m.8-10.9h0m.8-8.3h0m1.1-2.1h0m1.2-3.3h0m1.1-1.3h0m1.1-2.1h0m1.1-1.2h0m1.1-1.8h0m1-8.2h0m1-4.3h0m1 6.6h0m1 9.7h0m.9 2.5h0m.9 3.1h0m.9 2h0m.9-4.3h0m.8-2.2h0m.9-3.7h0m1.2-12.4h0m1.2-11.9h0m.8 6.5h0m.8 3.8h0m1.2-2.6h0m1.2-3.5h0m.9 2.9h0m.8 5h0m.9 6.7h0m1.2-7.4h0m1.2-7.4h0m.9-1h0m.8-.4h0m.9-.5h0m.9 1.4h0m.9 3.5h0m.9 1.6h0M988.3 435.2h0m1.2 4.6h0m1.2 5.4h0m.9 2h0m.8 .3h0m.9 3.6h0m.9-5.1h0m.9-5.4h0m.9-4.5h0m1.1 1.5h0m1.1 1h0m1.1-.6h0m1.1 3.2h0m1.2 4.9h0m1.1 3.7h0m1.1 3.8h0m1.2 3h0m1.2-8.8h0m1.1-10.3h0m.9-1.1h0m.9-3.6h0m.9-3.7h0m1.1-.6h0m1.1-1.4h0m1.1-.5h0m1.1-1.4h0m1.2 1.4h0m1.1-1.5h0m1.1-5h0m1.1-4.2h0m1.1-3h0m.9-1.5h0m.9-3.2h0m.9-.1h0m1.1-1.2h0m1.1 2.3h0m1.1-.4h0m1.1-3.3h0m1.1-2.1h0m1.1-3.7h0m1-2.3h0m1-1.7h0m1 .7h0m1-4.2h0m1 .5h0m1-3.1h0m1-2.3h0m1-.1h0m1.1 1.2h0m1.1 1.7h0m1.1 .5h0m1.1-.2h0m1.1 1.5h0m1 2h0m1.1 1.6h0m1.1 .3h0m1-.3h0m1-4.9h0m1 .6h0m1-2.4h0m1-2.8h0m1-.5h0m1-4.3h0m1-2.8h0m1.1-.4h0m1.1-.8h0m1-.2h0m1.1 .3h0m1-.9h0m1 .4h0m1-1.1h0m1 .2h0m1-1.4h0m1 1.3h0m1 1.8h0m1 .5h0m1 .3h0m1.1-1.5h0m1.1-3.9h0m1.1-1.4h0m1.1-2.1h0m1 4.2h0m1 2.6h0m1 1.9h0m1 2.2h0m1 4.1h0m1-4.3h0m1-1.1h0m1-1h0m1-2.5h0m.9-4.3h0m.9-1h0m.9-3h0m.9-2.5h0m1 4.7h0m1 1.4h0m1 1.7h0m1.1-2.1h0m1.1-4.7h0m1.1-.8h0m1.1-.9h0m1 1.2h0m1 2.8h0m1 1h0m1 1h0m1 3.1h0m1.1-2.6h0m1.1-.5h0m1.1-4.7h0m1.1-.9h0m1.1-.7h0m1.1-1.6h0m1 3.4h0m1 3.1h0m1 1.9h0m1 2.2h0m1.1-2.1h0m1.1 0h0m1.1-1.4h0m1.1 2.2h0m1-1h0m1 1.1h0m1 .7h0m1 1.6h0m1 2.8h0m1-.3h0m1-.3h0m1 1.8h0m1-1.5h0m1.1 .8h0m1.1 .3h0m1.1 .7h0m.9 7.7h0m.9 5.6h0m.9 4.1h0m1.1 6.8h0m1.1 5.7h0m1.1 5.9h0m1.1 2.6h0m1.1 2.7h0m1.1 4h0m1.1 2.8h0m1.2 4.1h0m1.1 3h0m1 5.7h0m1 3.7h0m1 5.4h0m1 2.6h0m1.1 8h0m1.1 5.3h0m1.1 7.7h0m1.1-1.9h0m1.1 .2h0m1.1 1.3h0m1.1-4.2h0m1.2-6.4h0m1.1-4.6h0m1.1-1.9h0m1.1-2.7h0m1.1-3.6h0m1.1 4.9h0m1.1 6.1h0m1.1 6h0m1.1 .6h0m1.1-.8h0m1.1 3.1h0m1.1-.7h0m1.1 3.7h0m1 1.6h0m1.1-1.2h0m1.1 4.8h0m1 4.2h0m1 1.4h0m1 2.6h0m1 3.6h0m1 .4h0m1-.3h0m1-.9h0m1 .5h0m1.1-1.3h0m1.1 .9h0m1-1h0m1.1-.9h0m1.2-.3h0m1.2 .2h0m.9-8.7h0m.8-4.9h0m.9-8.5h0m.9 2.4h0m.9 2.7h0m.9 3.1h0m1.2 10.3h0m1.1 9.4h0m.9 36.6h0m.8 32.2h0m.8-21.7h0m.9-25.5h0m1.1 1.8h0m1.1 3.3h0m1.1 1.2h0m1.2-10.1h0m1.1-11.3h0m.9-17.5h0m.9-16.2h0m.9-17h0m1.1-18.3h0m1.1-17.6h0m1.1-16.2h0m.9 30.4h0m.8 29.5h0m1.2 11.5h0m1.1 9.8h0m1.1 11.8h0m1.2 10.1h0m1.1 9.5h0m.9 1.9h0m.8 1.7h0m.9 .6h0m1.1-1.6h0m1.2-3.8h0m1.1-5.9h0m.9-6.2h0m.8-7.6h0m.9-7h0m1.1-6.9h0m1.2-5.3h0m1.1-8.8h0m1.1 .5h0m1.1 3.9h0m1.1 3.4h0m1 4.8h0m1 8.3h0m1 6.7h0m1 7.6h0m1.1-6h0m1.1-5.6h0m1.1-4h0m1.1-2.2h0m1.2-1.2h0m1.1-1.6h0m1-3.8h0m1-3.4h0m1-3.6h0m1-3.9h0m1.1-3.4h0m1-2.7h0m1.1-5.9h0m1.1-3h0m1.1 3.1h0m1.1 4.6h0m1.1 2.7h0m.9 3.6h0m.8 6h0m1.1-2.3h0m1.1-2.8h0m1.1-2h0m1.1-6h0m1.2-2.7h0m1.1-3.4h0m1-4.1h0m1-1.2h0m1-2.9h0m1-3.7h0m1.1-3.9h0m1-.7h0m1.1-3.2h0m1.1-1.6h0m1.1 2h0m1.1 .6h0m1 1.6h0m1.1 .3h0m1.1 1.9h0m1.2 0h0m1.1 1.8h0m1.1-3.6h0m1.1-4.4h0m1.1-3.6h0m1-2h0m1-2.6h0m1-2.3h0m1-2.1h0m1.1 .6h0m1.1-.1h0m1.1 1.3h0m1.1-3h0m1.2-4.5h0m1.1-4h0m1 .1h0m1 1.3h0m1-1.2h0m1 1.3h0m1.1 .2h0m1-.4h0m1.1 .6h0m1.1 .6h0m1.1-2.7h0m1.1-.9h0m1-1h0m1.1-.8h0m1-4.8h0m1-5.6h0m1-6.2h0m1-3.3h0m1 5.1h0m1 3.8h0m1 5.8h0m1 2.9h0m1.1-2.8h0m1.1-1.8h0m1.1-1.6h0m1.1-.2h0m1-.9h0m1-2.5h0m1-1.8h0m1-2h0m1-2.5h0m1-1.8h0m1-1.9h0m1-1.1h0m1-2.5h0m1.1 3.2h0m1 .3h0m1.1 1.6h0m1.1 1.4h0m1-1.4h0m1-1h0m1-1.5h0m1-.4h0m1-.1h0m1-1h0m1-2.3h0m1 1.5h0m1 0h0m1 .6h0m1 .3h0m1-.3h0m1 .4h0m1-.9h0m1-.8h0m1 2.3h0m1-.7h0m1 1.1h0m1-1.2h0m1 .8h0m1 .8h0m1 1.7h0m1-.5h0m1 1.6h0m1 .9h0m1 .9h0m1 1.8h0m1 2.8h0m1 1.1h0m1.1 2.6h0m1.1 1.5h0m1.1-.7h0m.9-3.6h0m.9 .1h0m.9-2h0m.7-27.7h0m1.3 26.2h0m1-.8h0m1 1.7h0m.9 6.1h0m.9 8.1h0m.9 7h0m.9 2.8h0m.8 5.6h0m.9 1h0m1.2 5h0m1.2 2.7h0m1.1-7.8h0m1.2-8.8h0m.9-2.8h0m.9-.8h0m.9-.9h0m.9-2.1h0m.8-1h0m.9-2.4h0m1.1 1.4h0m1.2 1.5h0m1.1 3.2h0m1 1.9h0m1 2.8h0m1 3.1h0m1 3.6h0m1-.6h0m1 1.4h0m1-2h0m1 1.1h0m1-1.5h0m1.1 4.4h0m1 1.2h0m1.1 1.9h0m1.1 3.5h0m.9 .5h0m1 2.3h0m.9 .5h0m.9 3.4h0m1 .1h0m1-1h0m1.1 1.7h0m1.1 1.6h0m1 .2h0m1.1 .7h0m.9 4h0m1 1.1h0m.9-.8h0m.9 1.6h0m1 .5h0m1.1 2.3h0m1 .2h0m1.1-1.8h0m1.1-.2h0m1.1 3.9h0m1.1 1.6h0m1.1 4.3h0m1.1 2.6h0m1.1 4.2h0m1.1 2.2h0m1.1 2h0m1 .8h0m1-.1h0m1 .1h0m1 2.1h0m1.1-1.7h0m1.1-4.2h0m1.1-1.6h0m1 .4h0m1-1h0m1-1.9h0m1-1.2h0m1.1 3.6h0m1.1 3.8h0m1.1 4.4h0m1.1 5.3h0m1.2 4h0m1.1 3h0m1.1-1.3h0m1-1.3h0m1.1 .4h0m1.1-.8h0m1.1 3.4h0m1.1 3.7h0m1 3.7h0m1.1 3.7h0m1.1-8.2h0m1.2-7.5h0m1.1-6.7h0m1.1-4.1h0m1.1-7.3h0m1.1-4.5h0m1.1 3.8h0m1.1 3.9h0m1.1 5.4h0m1-.4h0m1 1h0m1 1.1h0m1 1.9h0m1.1 2.7h0m1.2 1.1h0m1.1 2.4h0m.9 6h0m.8 7.5h0m.9 5.7h0m1.2 6.9h0m1.2 10.6h0m1.1-4.1h0m1-2.4h0m1.1-.7h0m1.1-4h0m1.2 3.7h0m1.1 5.7h0m1.2-20h0m1.2-20.2h0m.8-10.6h0m.8-9.5h0m.9 6.2h0m.9 7.3h0m.9 3.5h0m1.1 7.6h0m1.1 3.7h0m1.1 7.4h0m1.1-1.7h0m1.1-.1h0m1.1-2.1h0m1.1-1.8h0m1.1-.4h0m1.1-.9h0m1.1 1.8h0m1.2 6h0m1.1 8.9h0m1.2 6.9h0m1.2 8h0m.9-3.9h0m.8-4.4h0m.9-2h0m.9-9.3h0m.9-6.3h0m.9-8.3h0m1.1-4.5h0m1.1-1.2h0m1.1-5.6h0m1-3.5h0m1-2.3h0m1-3.8h0m1-2.5h0m1.1 1.3h0m1.2-2h0m1.1-.3h0m1.1 5h0m1.1 6.3h0m1.1 5.2h0m1.1-4.3h0m1.1-5.6h0m1.1-4.5h0m1.1-3.2h0m1.2-2.3h0m1.1-2.8h0m1-3.2h0m1-.1h0m1-1h0m1-2.7h0m1.1-1.9h0m1.1-4.9h0m1.1-2.9h0m1.1-2.8h0m1.1-1.6h0m1.1-2.8h0m1.1 3.3h0m1.2 2.2h0m1.1 3.9h0m1-10.1h0m1-12h0m1.1 7.8h0m1.2 5.6h0m1.2-3.4h0m1.1-6.2h0m.9 3.3h0m.9 2h0m.9 6h0m1 4.6h0M1654.0 431.4h0m.9-1.9h0m.9-2h0m.9 1.4h0m.9-3.2h0m.8-6.7h0m.9-4.1h0m1.2 2.4h0m1.2 1.6h0m1.1 3h0m1.1 4.2h0m1.1 .8h0m1.1 2.1h0m1.1 .3h0m1.1 3.8h0M1746.7 387.7h0m.8-2.9h0m.8-3.4h0m1.1-3.9h0m1.2-4.3h0m1.1-2.9h0m1.1-1.8h0m1.1-.6h0m1.1-.6h0m.8 2.9h0m.9 2.1h0m1.1-3h0m1.1-3.5h0m1.1-2.5h0m1-1h0m1-.2h0m1-2.2h0m1 1.2h0m1-1.1h0m1.1 1.2h0m1.1 2h0m1.1 .7h0m1.1-4.6h0m1.2-7.1h0m1.1-4.9h0m1.1 .1h0m1-4.3h0m1.1-2.5h0m1.1-2.8h0m1-2.6h0m1-.3h0m1-1.7h0m1-.4h0m1.1-2.7h0m1.1 .7h0m1-1.7h0m1.1-3h0m1-1.4h0m1-.9h0m1 .3h0m1 .9h0m1.1 .4h0m1.2 1h0m1.1-.3h0m1.1-.1h0m1 1.2h0m1.1 1.2h0m1.1-.8h0m1-3.4h0m1-1.8h0m1-.7h0m1-2.6h0m1.1-1.1h0m1.1-2.9h0m1.1-.4h0m.9-6.2h0m.8-5h0m1.2 6.9h0m1.1 4.5h0m1.4-24.2h0m1 14.6h0m1 8.9h0m1.3 10.4h0m1-8.1h0m1-7.2h0m.9-2.1h0m.9-4.7h0m.9-3.4h0m1-1.1h0m1 .1h0m1-.4h0m1-1.4h0m1.1-.8h0m1-2.1h0m1.1 1.3h0m1.1-.8h0m1-1.1h0m1-.1h0m1-1.8h0m1 0h0m1-2.2h0m.7 10.1h0m1-4.7h0m1-5.1h0m1 3h0m1-1.7h0m1-.1h0m1-1.4h0m1 1.4h0m1 .8h0m1-.1h0m1 1.7h0m1-1h0m1-1.3h0m1 1.4h0m1 1.9h0m1 1.9h0m1-.2h0m1 .4h0m1 3h0m1 0h0m1 .2h0m1 .4h0m1-.4h0m1 .4h0m1-.4h0m1 .8h0m1-.4h0m1-2.2h0m1 2.1h0m1 .2h0m1 .4h0m1-1.3h0m1 .4h0m1-.3h0m1 .3h0m1-.5h0m1-.4h0m1 .3h0m1 1.1h0m1 0h0m1 1.6h0m1-.1h0m1.1 .3h0m1 .2h0m1.1-.8h0m1.1 2.3h0m1.2-6.8h0m1.1-3.6h0m1.2 8.2h0m1.2 8.6h0m.9-4.9h0m.8-5.2h0m.9-5.5h0m1.1-1.8h0m1.2-2.1h0m1.1-.7h0m.9-2h0m.8-3h0m.9-1.6h0m1.2 3.8h0m1.2 4.7h0m1.1 2.3h0m1.1 1.4h0m1.1 1.4h0m1.1-.5h0m1.1 3.7h0m1.1 .9h0m1.1 4.7h0m1.2 5.5h0m1.1 4.9h0m1.1 2.6h0m1.1 2.9h0m1.1 3.2h0m1.1 .9h0m1.1 2.4h0m1.1-1.1h0m1.1 1.7h0m1.2 1.6h0m1.1-.3h0m1.1 3.7h0m1.1 .6h0m1.1 1.8h0m1.1-2.6h0m1.1-6h0m1.1-2.8h0m1.2 .1h0m1.2-3.1h0m1 5.5h0m1 6h0m1.1 5h0m1.2 8.4h0m1.2 7.5h0m1.1 8.9h0m.9 2.3h0m.9 4.3h0m.9 5h0m.9 2.7h0m.9 3.7h0m.9 6.8h0m1.3 13.1h0m1 10.6h0m1.2-8.4h0m1.1-8.4h0m1-10.4h0m1-11.3h0m.7 10.6h0M1942.3 438.3h0m.9 9.2h0m.8 6.8h0m.9 4.6h0m.9 5.8h0m.9 3.6h0m1.1 7.8h0m1.1 5.6h0m1.1 9h0m1.1 3.5h0m1.1 3h0m1.1 4.3h0m1 2.3h0m1 1.6h0m1 0h0m1 3.6h0m1.1-.1h0m1.1 2.5h0m1.1 1.2h0m1.1-.2h0m1.1 5.7h0m1.1 4.5h0m1.1 2.6h0m1.1 3.2h0m1.1 4h0m1.1 4.3h0m.9-.6h0m.9-2.5h0m.9-1.9h0m1.2-8.6h0m1.1-10.1h0m.9-10.7h0m.9-11.9h0m.9-10.5h0m1.2-15h0m1.1-14.9h0m1.2 7.6h0m1.2 5.4h0m.9 13.7h0m.8 11.7h0m.9 12.3h0m.9 5.7h0m.9 7.1h0m.9 6.7h0m1 3.6h0m1 6.2h0m1-11.2h0m1-10.3h0m1-7.2h0m1-9.3h0m1 2.5h0m1 3.8h0m1 4.8h0m1.1 .9h0m1.1-1h0m1.1-.1h0m1.2-6.7h0m1.2-6h0m.9 1.9h0m.8 4.1h0m.9 4.4h0m.9 8.9h0m.8 5.8h0m1.2-7.8h0m1.1-6.9h0m.9-6.9h0m.9-4.4h0m.9-5.7h0m.8-15.7h0m.9-10.8h0m1.1 7h0m1.2 8.1h0m.9-6.9h0m.9-7.7h0m.9-6.8h0m1.1-2.8h0m1.1-2.7h0m1.1-2.3h0m1.1 0h0m1.1-3.5h0m1.1-.1h0m1.1 5.1h0m1.2 3.2h0m1.1 3h0m.9-4h0m.8-1.9h0m.9-.9h0m1.2-14.5h0m1.2-13.4h0m1.1 3h0m1.1-.7h0m1.1-.9h0m1.1-.3h0m1.1-.4h0m1-2.1h0m1.1-.8h0m1.1-3.6h0m1.2-4h0m1.1-4.9h0m1.1 5.2h0m1.2 2.5h0m1.1-1h0m1.1-2.9h0m1.1-2.3h0m1.2-7.2h0m1.2-9.1h0m1-6.6h0m1-8.2h0m1.1 13.1h0m1.2 13.3h0m1.1-3.3h0m1.1-2.6h0m1.1-6.1h0m1.1 2h0m1.2 2.6h0m1.1 2.1h0m1.1 1h0m1 1.1h0m1.1-1.6h0m1.1 1.9h0m1-1.8h0m1-1.3h0m1 .9h0m1 .3h0m.9-5.2h0m.9-5.9h0m.9-7.4h0m1-2.1h0m1-1.6h0m1-2.5h0m1-.5h0m1.1 2.4h0m1.1 1.6h0m1.1 .4h0m1-1.3h0m1 .2h0m1-.8h0m1-.3h0m1.1-.5h0m1.1 1.6h0m1-2.1h0m1.1-.8h0m1.1 .3h0m1.1 .8h0m1.1-2.4h0m1.1-.8h0m1-2.5h0m1-2.5h0m1-2.7h0m1-2.4h0m1.1 2.2h0m1.1 3.2h0m1.1 1.9h0m1-2.6h0m1 .3h0m1 .3h0m1-.3h0m1.1-.9h0m1.1-2.8h0m1-.2h0m1.1 .5h0m1 2h0m1 1.5h0m1-2.6h0m1-.1h0m1-.9h0m1 0h0m1 .7h0m1 .1h0m1 .9h0m1-1.3h0m.9 12.4h0m.8 11.5h0m.8-9.1h0m.9-9.3h0m1.1-3.8h0m1.2-2.9h0m.9-2.3h0m.9-2h0m.9-.7h0m.9 4.1h0m.8 1.6h0m.9 4.2h0m1 .6h0m1-1h0m1-.8h0m1 0h0m1 .3h0m1 .4h0m1 2h0m1-1.3h0m1.1 .8h0m1.1 .7h0m1.1 1.2h0m1.1-1.8h0m1.1 .1h0m1-.9h0m1.1 .2h0m1.1-.9h0m1 2.3h0m1 1.1h0m1 .5h0m1 1.2h0m1 1.8h0m1 1.3h0m1-.7h0m1 3.3h0m1.1-1.7h0m1.1-1.6h0m1-.1h0m1.1 .9h0m1.1 3.8h0m1.2 3.7h0m1.1 2.4h0m1.1 3.8h0m1.1 1.4h0m1.1 1.6h0m1.1-.3h0m1.1 1.5h0m1-.9h0m1.1 2.2h0m1.2 7.6h0m1.2 7.1h0m1.1 8.9h0m1.2 8.2h0m.9 4.7h0m.9 7.1h0m.9 6.3h0m.9 2.3h0m.8 3h0m.9 1.8h0m1.2 8.6h0m1.2 9.4h0m1.1 7h0m1.2 7.2h0m.9 0h0m.9 .6h0m.9 1.7h0m.9 2.9h0m.8 4.3h0m.9 2.6h0m.9 3.4h0m.9 5h0m.9 2.9h0m1.3 54.3h0m1.4-50.4h0m.9 .7h0m.8-2.7h0m.9-1.4h0m.9-1.4h0m.9-1h0m.9-2h0m1.1-4.3h0m1.1-1.5h0m1.1-2.7h0m1.1-2.3h0m1.2-1.1h0m1.1-2.3h0m.9-5.2h0m.8-5h0m.9-6.1h0m1.2 13.6h0m1.2 12.6h0m1.1-15.7h0m1.2-13.8h0m.9-8.5h0m.9-9.3h0m.9-6.8h0m.9 4.5h0m.8 4.6h0m.9 4.8h0m1.2 8.6h0m1.2 10.3h0m1.1 11.1h0m1.2 11.1h0m1 5.2h0m1 6.6h0m1.2-10.4h0m1.1-11.7h0m1.2 7.4h0m1.2 8.5h0m1 10.6h0m1 9.7h0m.8 8.4h0m.8 5.4h0m1.2-11.9h0m1.2-12.1h0m.8-22.6h0m.8-26.3h0M2526.7 437.0h0m.9-.9h0m.8 2.1h0m.9-.4h0m.9-3.8h0m.8-6.3h0m.8-3.2h0m.9-4.9h0m1.1-.2h0m1.2 .3h0M2748.3 522.9h0m1.2-2.8h0m1.2-2.9h0m1-14.1h0m1-11.1h0m1.1-9.6h0m1.2-10.8h0m1.2-2.6h0m1.1-5.9h0m.9-4.2h0m.9-3.6h0m.9-3.5h0m1.1-1.6h0m1.1-3.2h0m1.1-1.1h0m.9 1h0m.9 2.5h0m.9 3.1h0m1.2 11.2h0m1.1 12.8h0m1.2 12.5h0m1.2 10.2h0m1 4.2h0m1 4.7h0m1.1-9.7h0m1.2-14h0m.8-10.5h0m.9-10.6h0m.8-6.8h0m.8-7.4h0m1.2 3.3h0m1.2 3h0m1-7.9h0m1-6.7h0m1.3-20.7h0m.9-1.3h0m.9-.8h0m.9 .1h0m1-.2h0m1-.8h0m1 1.5h0m1-1h0m1.1 1.4h0m1 1.5h0m1.1 1.1h0m1.1-.5h0m1.1-2.4h0m1.1-1.8h0m1.1-3h0m1.1-1.9h0m1.1-1.7h0m1.1-3.7h0m1.1-.9h0m1-3.5h0m1 .3h0m1-3h0m1-2.8h0m1 1h0m1-1.1h0m1-3.2h0m1 .9h0m1.1 .2h0m1 1h0m1.1 2.8h0m1.1 1.3h0m1.1-1.8h0m1.1 2.1h0m1-.5h0m1.1-3.1h0m1.1 .8h0m1.2 .9h0m1.1 0h0m1.1-3.4h0m1.2-6.3h0m1.1-1.4h0m1.1-2.9h0m1.1-3.2h0m1.2-1h0m1.2-3.2h0m.9 2.1h0m.8 2.4h0m.9 2.3h0m1 0h0m1-2.7h0m1-.3h0m1 .5h0m1.1 1.2h0m1.1 1.7h0m1.1-1h0m1.1-1.7h0m1.1 .2h0m1-1.5h0m1.1-1.6h0m1.1-.6h0m1-2.9h0m1 1.2h0m1-2.5h0m1-1.5h0m1 3.4h0m1-.7h0m1 2.2h0m1 2.7h0m1.1-1.2h0m1.1-1.9h0m1 0h0m1.1-1.8h0m1.1-.3h0m1.1 .4h0m1.1 2.6h0m1.1-1.1h0m1.1 2.8h0m1.1 .6h0m1.1 3.2h0m1-3.8h0m1-3.3h0m1-2.6h0m1-1.2h0m1.1 1.7h0m1.1-.2h0m1.1 2.1h0m1 2.3h0m1-.2h0m1 2.6h0m1 .8h0m1.1-1.3h0m1.1-.7h0m1.1-1.5h0m1.1-.1h0m1.1-1.2h0m1-1.1h0m1.1 2.1h0m1.1 .7h0m1 .3h0m1-1h0m1-.7h0m1-3.2h0m1 1.1h0m1 0h0m1-.2h0m1 1.4h0m1.1 1.7h0m1.1 1.5h0m1.1 2.2h0m.9 .7h0m.9 1.2h0m.9 2.2h0m1.2 3.5h0m1.1 4.1h0" stroke="#660066" stroke-width="5.6" fill="none" stroke-linecap="round"/>
<path d="M591.7 765.1l1.1 4.5l1.1 2l1.1-.8l1 1l1 1l1 .4l1-1.8l1 5.4l1 3.3l1-3.5l1-1l1 1.4l1 .5l1 .5l1-2.8l1-.4l1 .6l1 4.2l1-5.6l1 .6l1 2.1l1-2.6l1-3.4l1 5.2l1-1.8l1 1.7l1-.1l1 2.5l1-2.9l1-.3l1 1.1l1 1.9l.9 1.4l.9-1.9l.9 4.5l1-.1l1 .2l1-1.9l1 1.2l1 3.2l1.1 .6l1-3.1l1.1-5.9l1.1 1.4l1 1.9l1 3.2l1 .7l1-.9l1 2.9l1 7.2l1-.6l1 0l1.1 .4l1.1 .7l1.1 2.6l.9-1.3l.9-3.3l.9-4.2l1.1-.3l1.1-2.4l1.1-2.8l1.1-1.8l1.2-2.6l1.1-3.8l1.1 1l1.1 2l1.1 1.6l1.1 4l1.1 1.6l1.1 4.4M670.0 783.0l.9 4.6l.9-.2l.9 1l1.1-2.2l1.2-2.5l1.2-3.7l1.1-4.7l.9-4.5l.9-3.7l.9-.9l.9-1.2l.9 1.7l.9-.6l1.1 3.6l1.2 4.8l.8 7.8l.9 14.4l1.1 .6l1.1 4.3l1.1 2.8l.9-6.2l.9-1.9l.9-3.7l1.1 .3l1.1 4.7l1.1 .5l1.1-.7l1.1 1l1.1 .6l1.1 4.8l1.2 3.2l1.1 2.9l1.1-8.9l1.2-11.4l1.1-.9l1.1-1.8l1.1-1.6l1.1 0l1.2 1.5l1.1 1.8l1.1-5l1.1 .4l1.1-.5l1.1-.3l1.1 1.6l1.1-1.1l1.1-5.3l1.2 1.3l1.1-4.5l1.1-4.2l1.1 0l1.1-1.8l1.2 2.6l1.1 8.7l.9 7.9l.9 .4l.9 .8l.9-1.9l.9-2.3l.9 .5l1.1-.5l1.1-3.2l1.1 1.5l1.1 1.6l1.1-1.7l1.1-1l1.1-3.1l1.2-4.6l1.1-6.8l1.1 2.9l1.2-5l1.1-.1l1.1 4.1l1.1 4.6l1.1 4.5l1.2 .5l1.1-.6l1.1-3.3l1.1 2.8l1.1 3.8l1.1-1l1.1 4.2l1.1-1.9l1.1 0l1.2-5.2l1.1 3.5l1.1-3.7l1.1-1.2l1.1 2.7l1.1-4.1l1.1-1.5l1.1-3.8l1.1 .2l1.2-2.2l1.1 .2l1.1 .9l1.1 .8l1.1-2.2l1.1-1.1l1.1 3.8l1.1-.1l1.1 .5l1.2 2.2l1.1 .8l1.1-2.3l1.1 3.2l1.1-1.1l1.1-1.6l1.1-1.3l1.1 .1l1.1 3.4l1.2 2.7l1.1 .1l1.1-2.2l1.1-.5l1.1-4.3l.8 2.4l.9 1.6M988.3 766.3l1.1 .3l1.2-2.8l1.1-1.2l1.1 1.9l1-1.4l1.1 2.4l1.1 4.2l1 .5l1-1l1-2.7l1-4.3l1 1.1l1-1.8l1-2.7l1-3.5l1.1 8.4l1.1 3.3l1.1-.2l.9 .8l.9-4.6l.9 5.4l.8 4.7l.9 4.9l1.1-6l1.2-3.5l.9-.9l.9-2.2l.9 .2l.9 5.1l.8 0l.9 3.9l1.2 4.5l1.2 2.3l1.1-1l1.2-8l1.1-4.1l1.1-2.1l1.1-1.6l.9 4.6l.9 5.7l.9 3.7l.9-5.9l.9-6.8l.9-3.2l1.1-.6l1.1 1l1.1-.6l1.1-.4l1.1 1.9l1.1 .7l1.1 2.6l1.2 4.7l1.1-1l.6 40.9l1.4-35.3l.9-4.7l.8-4l.9-4l.9 7.5l.9 8.3l.9 9.2l.9-6.4l.9-5l.9-1.1l1.1-2l1.1-6l1.1-5.2l1.1 3.9l1.1 2.9l1.1-2.8l1.1-1.9l1.2 2.1l1.1-1.8l1.1-1.1l1.1 1.2l1.1-3.9l1.1 5l1.1 2.5l1.1 .6l1.1-4.9l1.2 .2l1.1-1.3l1.1-1.1l1.1 0l1.1-2.2l1.1-2l1.1 .3l1.1-.9l1.4 20.2l1-9.3l1-5.1l1-.1l1-3.5l1-1.4l1 .9l1-.1l1 2.1l1 .6l1-1.4l1.1 3.2l1-.1l1.1-2.1l1.1 .5l1.1-2.2l1.1-3.7l1-3l1.1 1.9l1-.7l1 1.7l1 3.2l1-1.5l1-2.2l1 1.8l1 2.8l1 .9l1.1-.4l1.2-8.9l1.1 1.7l.9 7.3l.8 2.1l.9 4.9l.9-7l.9-4.7l.9-2.8l1-1.8l1-1.8l1 3.4l1 .7l1.1 4.7l1.1-2.4l1.1 1.8l1.1 1.2l1.2-1.9l1.1-1.7l1-2.5l1-.9l1-3.1l1-2.7l1.1-.9l1.1 2.9l1.1-.1l1.1 .8l1.1 1.3l1.1-2.3l1.1-1.4l1.2-4.9l1.1-.5l1.1 1.9l1.1-3.3l1.1 1.4l.9 .2l.9 4.3l.9 .2l1.1 5.2l1.1 4.1l1.1 2.4l1.1 .3l1.1 0l1.1 3.8l1.1-3l1.2-6.6l1.1 1.4l1-2l1 1.1l1-3.6l1 3.3l1.1 2.5l1-.4l1.1 1.8l1.1 1.4l1.1-1.8l1.1 1.6l1 1.9l1.1-1.6l1 2.7l1 .3l1 0l1-.4l1 1.8l1 3.1l1-1.1l1-2.8l1.1 3.8l1.2 5.4l1.1 7.2l1.1 2.6l1.1 .6l1.1 .4l1.1-.9l1.1-3.7l1.1-1.9l1.1-5l1.2-3.5l1.1-.8l1.1 1.9l1.1-.3l1.1-.9l1.1-3.6l1.1 3.3l1.1 0l1.1 6.1l1.2 2.3l1.1 1.6l1.1 .5l1.1 3.2l1.1 4.6l1.1-.1l1.1 .7l1.1 1.4l.9-2.7l.9-5l.9-4l.9-.8l.9 .2l.9-1.3l1.1 3.4l1.1 1.7l1.1 3.9l1-.7l1 0l1 1.6l1 2.8l1 .3l1 1.8l1-.6l1-1.8l1.1 4.1l1.1-.8l1.1 2.4l1.1 .1l1.2-3.8l1.1-5.9l1.1 3.5l1.1 5.8l1.1 .6l.9-4.8l.9-4l.9-1.3l1 3.8l1-2.9l1-4.2l1 1.6l1.1-.2l1 1.6l1.1 .7l1.1-3.4l1.1-1.6l1.1-2.5l1 .7l1.1-.7l1 3.7l1-2.9l1 2l1 .5l1-.9l1-2.5l1 4l1 3.8l1.1-1l1.1-1l1.1 2.1l1.1 1.3l1.1-2.4l1-1.5l1.1 .1l1.1 1.5l1-2.9l1-1l1-1l1-2.1l1-2.6l1-.7l1 2.7l1 2.3l1.1-.5l1.1-.8l1 4.5l1.1-3.3l1.1 4.7l1.2 5.5l1.1 4.2l1.1-1.8l1.1-5.8l1.1-.3l1.1 2.2l1.1 2.7l1.1-.6l1.1-.6l1.2-5.3l1.1-5.4l1.1 .8l1-.3l1.1 1.9l1.1 0l1 1.3l1 1.9l1-.8l1-.1l1-1.9l1 2.5l1-1.5l1-.5l1.1 1.1l1.1 2.9l1 .8l1.1-3.5l1.1 2.7l1.2 0l1.1 .7l1.1-7.4l1.2-8l1.1 2.1l1.1-2.4l1.1-2.1l1.1 8.2l1.2-.9l1.1 6.7l1.1-7.2l1.1-2.5l1.1-4.4l1.1 1.1l1.1 .5l1-.5l1.1 .5l1.1-.8l1.2-.5l1.1-2.5l1.1 1.4l1.1 4.5l1.1 1.5l1.2-2.4l1.1-4.4l.9 5.8l.9 4.9l.9 1.4l.9-1.7l.9-6.7l.9-5.5l1.1 2.5l1.1-6.2l1.1-3l1 4.5l1 .5l1 2.6l1 1.9l1-2.8l1-1.4l1 3.1l1-.5l1.1-2.9l1.1-2.2l1.1-.2l.9 5.3l.9 2.4l.9 7.9l.9-7.4l.9-5.4l.9-7.1l1.1-.4l1.1-1.1l1.1 0l1 4l1-4l1-1.7l1-2.7l1.1 2l1.1 .9l1.1 .4l1.1 3.3l1.2 .7l1.1 4.5l1-2.9l1 1.5l1-1.7l1-1.5l1.1 2.3l1.1 1.9l1.1 .5l1.1 1.4l1.1-.9l1.1 2.5l1.1 2.6l1.2-5.4l1.1-2.3l1.1 1.9l1.1 2.1l1.1 .8l1.1 .7l1.1-2.8l1.1-1.2l1.1-1.3l1.2 5l1.1 5.2l.9 3.4l.8-1.5l.9 3l1.1-4.7l1.2-.6l1.1 5l1.1 4l1.1-.7l1.1 1.5l1.1 1.5l1.1 2.6l1.1-1.2l1.1-2.8l1.2 5.2l1.1-.5l1.1-5.9l1.1-3.4l1.1-.3l1.1 .3l1.1-1.9l1.1 1.7l1.1 6l1.2 6.4l1.1 6.8l.9 .6l.8 5l.9 1.2l1.1-3.6l1.2-3.3l1.1-2.9l1.1-4l1.1-3.6l1.1 0l1.1 2.6l1.1-3.3l1.1-2.6l1.1 9.1l1.2 1.8l1.1 2.3l1.1 3.4l1.1-1l1.1-1l1.1-6l1.1-4.4l1.1-5.8l1.2 12.2l1.2 6.2l1.1 8.8l1.2 5.6l1.1-1.9l1.1-.2l1.1-3.8l.9-1.5l.9-3l.9-.8l1.1-1.1l1.1 4.6l1.1 2.2l.9-5.6l.9-1.5l.9-4l1.1-6.2l1.1-3.6l1.1-4.3l1.1-1l1.2-.6l1.1-3.2l1.1 4.3l1.1 4.6l1.1 2.1l1.1 4l1.1 7.3l1.1 4.6l1 2.1l1 .9l1 5.3l.9-3.7l1-4.1l.9-2.5l.9 .5l1.1-3.6l1.1-4l1.1-3.7l1.1 5.5l1.2 3.2l1.1 .2l1.1 5l1.1 5.4l1.1 1.9l1.1-12.1l1.1-12.6l1.1-3.3l1.1-1.1l1.2-2.3l1.1 5.5l1.1 2.7l1.1 5.6l1.1 5.9l1.1-1.7l1.1-1.7l1.1-8.1l1.1 1.8l1.2 1.6l1.1 3l1-1.2l1 1.9l1 .3l1 .5l1 2.3l1 1.5l1 1l1 1.9l1 26.8l.8-13.4l.8-14.7l1.1 1.5l1.2 1.2l1.1 5.2l1.1-3.3l1.1-5.7l1.1-5.7l1.1 .6l1.1-6.7l1.1-2.7l1.1 3.3l1.2 2.3l1.1 5.7l1.1-3l1.1 3.5l1.1-1.3l1.1-.7l1.1-3.6l1.1-5.3l1.1 2.9l1.2 2.3l1.1-1.2l1.1 .6l1.1 8.5l1.1 4.1l1 10.6M1654.0 772.2l.9 1.2l.9 1.6l.9 2.7l1.1-.3l1.1 2.7l1.1-.4l1.1 5.5l1.1 4.1l1.1 1.6l1.1 1.1l1.2 .2l1.1-3.6l.9 1.7l.8-1.6l.9 1.3M1941.7 808.1l.8-8.1l.8-2.6l.9-6.2l.9-4.4l.9-5.5l1.2-2.7l1.1-6.8l1.1-8.2l1.2-2.1l1.1 .4l1.1 .6l1.1 1.6l1.1-.5l1.1 .3l1.1 2.2l1.1 3.7l1.1-.1l1.2 3.2l1.1 3.3l1.1-6.5l1.1-2.2l1.1-4l1.1 1.4l1.1-.3l1.1 2.2l.9-3l.9-.8l.9-3.2l1.2 14.9l1.1 12.6l.9 7.6l.9 10.5l.9 4.3l1.2 1.7l1.1 7.3l1.2-9.5l1.2-11.6l.9-5.7l.8-6.4l.9-8.3l1.1-5.2l1.2-1.7l1.1-2.6l.9 3.7l.8 7l.9 6.3l1.2 3.4l1.2 8.9l1.1-5.6l1.2-9.5l1.1-2.3l1.1 .7l1.1 .3l1.1 .7l1.2 .5l1.1 2.7l1.1-2.7l1.1-3.5l1.1-4.7l.9 5.6l.9 6.4l.9 3.8l.9 7.9l.8 4.9l.9 .2l1.2 6.9l1.2 5l1.1-11.9l1.2-10.7l.9-4.4l.9 2l.9-5.9l1.1 .9l1.1-6.7l1.1-1.5l.9 7.3l.9 4.6l.9 4.6l1.1-9.6l1.2-8.9l1.1-2.6l1.1-2.4l1.1-1.5l1.1 3.1l1.2 9.2l1.1 4.9l1.1-6.9l1.2-6l1.1 3l1.1-1.8l1.1-1.7l1.1-.3l1.2 6.9l1.1 4.7l.9-2.8l.8-3.2l.9-6l1.1-1l1.2-3.8l1.1-4.1l1.1 .4l1.1-1.1l1.1 .5l1.1 2.2l1.1-1.5l1.1 3.1l1.1 1l1.2-3.4l1.1-.2l.9 3.5l.8 4.4l.9 3.8l1.2-8.1l1.2-7.6l1.1-1.2l1.1 .6l1.1 2.8l1.1 2.8l1.1-2.9l1.1-2l1.1 4.9l1.2 2.5l1.1 4.5l1.1-6.2l1.1-.8l1.1-3.2l1.1-2.1l1.1-6.2l1.1-5.1l1.1 4.1l1.2 5.1l1.1 3.5l1.1 4.6l1.1 1.1l1.1 .9l.8 6.6l.9 2.7l.9-5.6l.8-3.4l.9-6.3l1.1-.1l1.2-3.6l1.1-3.3l1.1 5.2l1.1 1.7l1.1 2.6l1.1 2.9l1.1-2.6l1.1 3.8l1.1-1.6l1.2 1.4l1.1-2.8l1.1 2l1.1-.4l1.1 1.4l1-2.3l1 .4l1 3l1-1.7l1-2.2l1-.1l1-1.7l1 .9l1.1 .3l1.1-5l1 1.6l1.1 .3l1.1 3.7l1.1-1.5l1.1 2l1.1-2.4l1 1.1l1 2.6l1 1.9l1 4.8l1.1-5.7l1.1-2.1l1.1-4.8l1.1 .1l1.1-.2l1.1-1.2l1.1 1.4l1.2 2.9l1.1 5.6l1.1-5.9l1.1-4.6l1.1-.2l1.1 5.4l1.1-3.3l1.1 2l1-3.9l1 2.5l1-1.2l1 1.1l1.1 2.2l1.1-.5l1.1 2.5l1.1-5.5l1.1 3.4l1 4.2l1.1 4.5l1.1-2.2l1 .4l1-1.5l1-2.9l1-3l1.1-2.1l1.1 .2l1.1 .6l1.1 2.1l1.2-.1l1.1 1.7l.9 2.1l.8 1.7l.9 3.4l1.1 .5l1.2-1.2l1.1-.1l1.1-7.5l1.2-3.7l1.1-3.6l1.1-.7l1.1-3.8l1.1 1.9l1.2 2.8l1.1 1l1.1-2.2l1.2-3.1l1.1-.3l1.1 2.5l1.1-2.2l1.1-.9l1.2 1.6l1.1-.5l1.1 2.1l1.1 .2l1.1 2.8l1.1 .4l1.1 .9l1.1 4.5l1.1 1.8l1.2 2.3l1.1 5.3l1.1 2.1l1.1-2.6l1.1 1.2l1.1-4.1l1.1-1.6l1.1 1.1l1.1 4.2l1.2 2.7l1.1 1.3l1.1 5l1.1-1.1l1.1 .8l.9 6.5l.9 2.1l.9-.3l.9-.3l.8-1.6l.9-3.3l1.2-5.8l1.2-7.6l1.1-1.3l1.1-2.5l1.1-2.8l1.2 3l1.1 4.7l.9 1.5l.9 2.6l.9 2.7l1.2-9.3l1.1-6.4l1-6.9l1-5.3l1.2 7.6l1.2 10.1l.8 10.8l.8 9.3M2652.7 767.1l1.1-4l1.1-1.8l1.1 .5l1.1 2l1.1 1.4l1.1 .2l1.1 1.6l1.2-.5l1.1 2.6l1.1 0l1.1 4.1l1.1 5.3l1.1 2.6l1.1-2.3l1.1 3.8l1.1-1.1l1.2 3.3l1.1 1.8l1.1-1.3l1.1-.9l1.1-1.7l1-1.8l1-1.9l1 1.7l1-1.7l1.1-3.6l1.1 .3l1.1 .8l.9-1.4l.9-1.9l.9-7.5l.9 3.7l.9 2.7l.9 6.6l1-5.4l1-.1l1-2.8l1.1 4.5l1.1 5.4l1.1 2.6l1.1-1l1.1-.6l1.1-.5l1.1-2l1.2-4.8l1.1-4.9l1.1 8.5l1.1 5.8l1.1 5.1l1.2-4.2l1.1-5.2l.9-7l.9-3.6l.9-8.5l1.1 2.1l1.1 .4l1.1 1.6l1.1-.5l1.2 5.5l1.1 1l.9-4.9l.8-1.1l.9-2l1.1 5.2l1.2 2.2l1.1 4.9l1.1 2.1l1.1-4.9l1.1-4.4l1.2 12.1l1.1 8l1.2 7l1.2 10.5l.9 .7l.8-4l.9-2.8l.9-8l.9-3.7l.9-5l1.2-6.8l1.1-9.3l1.2-2.3l1.2-.4l.9 4.1l.8 3.9l.9-.9l.9-.2l.9 2.7l.9-2l1.2 3.5l1.1 .6l1.1-1.7l1.2 2.8l1.1-1.2l1.1 5l1.2 3.6l.9 .7l.9 5.1l.9 1.2l1.1-3.6l1.1 1.8l1.1 5.8l1.1-.6l1.1 2.9l1.1 1.8l1.1-3.4l1.2-5.1l1.1-1.3l.9-6l.8-6.2l.9-4.3l1.2-4.5l1.2 1.8l1.1 7.2l1.2 6.8l.9-2.6l.9-1.4l.9-2.6l1.1-2.5l1.1 1.1l1.1 4.7l1.1-1.5l1.1-1.5l1.1-1.3l1.1 4.5l1.2 1.5l1.1 .4l.9 4.1l.8 3.8l.9 4.3l1.2-9l1.2-3.8l1.1 .2l1.1-1.2l1.1-2.1l1.1-.3l1.1 2.8l1.1 5l1.1-2.6l1.2-2.6l1.1 6.7l1.1 .7l1.1 1l1.1 1.5l1.1-1.4l1.1-1.4l1.1 1.1l1.2 3.8l1.2 4l.9-.7l.8-1.6l.9-4.7l1.1 3.3l1.2 1.1l1.1 1.5l.9-3.9l.8-2.8l.9-3.2l1.2-6.4l1.2 3.7l1.1 9.9l1.2 12.4l.9-4.3l.9-6.3l.9-6.3l.9 .9l.8-1.8l.9-4.9l1.2 9.5l1.2 9.7l.8 1.7l.8 8.3l.9-11.7l.8-9.4l1.1-3.2l1.1-5.6l1.1-1.5l1.1-3.1l1.2 .2l1.1 4.1l1.1 5.4l1.1 4.1l1.1 4.4l1.1 3.5l1.1 .9l1.1 7.1l1.1-3.4l1.2 1.2l1.1-8.6l1.1 .7l1.1-1.6l1.1-1.6l1.1-.5l1.1 6.8l1.1 .8l1.1-4.1l1.2-3l1.1 1.4l1.1 4.8l1.1-2.6l1.1 4.8l1.1-2.5l1.1-3.6l1.1-2.1l1.1 1.9l1.2-1l1.1 .9l1.1-1.8l1.1 .5l1.1-1.2l1.2 .3l1.1 9l.9-3.7l.9-7.4l.9-5.8l1.1-1.9l1.1 2.4l1.1 1.9l1.1-2.1l1.2-1.2l1.1-4.5l1.1 7.4l1.1 0l1.1 1.5l.9-3l.9-.8l.9-.7l1.1 .2l1.1-2.4l1.1 1.7l1.1-1.8l1.1-1.5l1.1-3.6l1 3.7l1-5.1l1 1" stroke="#06678a" stroke-width="3.6" fill="none" stroke-linejoin="round" stroke-linecap="round"/>
<path d="M591.7 765.1h0m1.1 4.5h0m1.1 2h0m1.1-.8h0m1 1h0m1 1h0m1 .4h0m1-1.8h0m1 5.4h0m1 3.3h0m1-3.5h0m1-1h0m1 1.4h0m1 .5h0m1 .5h0m1-2.8h0m1-.4h0m1 .6h0m1 4.2h0m1-5.6h0m1 .6h0m1 2.1h0m1-2.6h0m1-3.4h0m1 5.2h0m1-1.8h0m1 1.7h0m1-.1h0m1 2.5h0m1-2.9h0m1-.3h0m1 1.1h0m1 1.9h0m.9 1.4h0m.9-1.9h0m.9 4.5h0m1-.1h0m1 .2h0m1-1.9h0m1 1.2h0m1 3.2h0m1.1 .6h0m1-3.1h0m1.1-5.9h0m1.1 1.4h0m1 1.9h0m1 3.2h0m1 .7h0m1-.9h0m1 2.9h0m1 7.2h0m1-.6h0m1 0h0m1.1 .4h0m1.1 .7h0m1.1 2.6h0m.9-1.3h0m.9-3.3h0m.9-4.2h0m1.1-.3h0m1.1-2.4h0m1.1-2.8h0m1.1-1.8h0m1.2-2.6h0m1.1-3.8h0m1.1 1h0m1.1 2h0m1.1 1.6h0m1.1 4h0m1.1 1.6h0m1.1 4.4h0M670.0 783.0h0m.9 4.6h0m.9-.2h0m.9 1h0m1.1-2.2h0m1.2-2.5h0m1.2-3.7h0m1.1-4.7h0m.9-4.5h0m.9-3.7h0m.9-.9h0m.9-1.2h0m.9 1.7h0m.9-.6h0m1.1 3.6h0m1.2 4.8h0m.8 7.8h0m.9 14.4h0m1.1 .6h0m1.1 4.3h0m1.1 2.8h0m.9-6.2h0m.9-1.9h0m.9-3.7h0m1.1 .3h0m1.1 4.7h0m1.1 .5h0m1.1-.7h0m1.1 1h0m1.1 .6h0m1.1 4.8h0m1.2 3.2h0m1.1 2.9h0m1.1-8.9h0m1.2-11.4h0m1.1-.9h0m1.1-1.8h0m1.1-1.6h0m1.1 0h0m1.2 1.5h0m1.1 1.8h0m1.1-5h0m1.1 .4h0m1.1-.5h0m1.1-.3h0m1.1 1.6h0m1.1-1.1h0m1.1-5.3h0m1.2 1.3h0m1.1-4.5h0m1.1-4.2h0m1.1 0h0m1.1-1.8h0m1.2 2.6h0m1.1 8.7h0m.9 7.9h0m.9 .4h0m.9 .8h0m.9-1.9h0m.9-2.3h0m.9 .5h0m1.1-.5h0m1.1-3.2h0m1.1 1.5h0m1.1 1.6h0m1.1-1.7h0m1.1-1h0m1.1-3.1h0m1.2-4.6h0m1.1-6.8h0m1.1 2.9h0m1.2-5h0m1.1-.1h0m1.1 4.1h0m1.1 4.6h0m1.1 4.5h0m1.2 .5h0m1.1-.6h0m1.1-3.3h0m1.1 2.8h0m1.1 3.8h0m1.1-1h0m1.1 4.2h0m1.1-1.9h0m1.1 0h0m1.2-5.2h0m1.1 3.5h0m1.1-3.7h0m1.1-1.2h0m1.1 2.7h0m1.1-4.1h0m1.1-1.5h0m1.1-3.8h0m1.1 .2h0m1.2-2.2h0m1.1 .2h0m1.1 .9h0m1.1 .8h0m1.1-2.2h0m1.1-1.1h0m1.1 3.8h0m1.1-.1h0m1.1 .5h0m1.2 2.2h0m1.1 .8h0m1.1-2.3h0m1.1 3.2h0m1.1-1.1h0m1.1-1.6h0m1.1-1.3h0m1.1 .1h0m1.1 3.4h0m1.2 2.7h0m1.1 .1h0m1.1-2.2h0m1.1-.5h0m1.1-4.3h0m.8 2.4h0m.9 1.6h0M988.3 766.3h0m1.1 .3h0m1.2-2.8h0m1.1-1.2h0m1.1 1.9h0m1-1.4h0m1.1 2.4h0m1.1 4.2h0m1 .5h0m1-1h0m1-2.7h0m1-4.3h0m1 1.1h0m1-1.8h0m1-2.7h0m1-3.5h0m1.1 8.4h0m1.1 3.3h0m1.1-.2h0m.9 .8h0m.9-4.6h0m.9 5.4h0m.8 4.7h0m.9 4.9h0m1.1-6h0m1.2-3.5h0m.9-.9h0m.9-2.2h0m.9 .2h0m.9 5.1h0m.8 0h0m.9 3.9h0m1.2 4.5h0m1.2 2.3h0m1.1-1h0m1.2-8h0m1.1-4.1h0m1.1-2.1h0m1.1-1.6h0m.9 4.6h0m.9 5.7h0m.9 3.7h0m.9-5.9h0m.9-6.8h0m.9-3.2h0m1.1-.6h0m1.1 1h0m1.1-.6h0m1.1-.4h0m1.1 1.9h0m1.1 .7h0m1.1 2.6h0m1.2 4.7h0m1.1-1h0m.6 40.9h0m1.4-35.3h0m.9-4.7h0m.8-4h0m.9-4h0m.9 7.5h0m.9 8.3h0m.9 9.2h0m.9-6.4h0m.9-5h0m.9-1.1h0m1.1-2h0m1.1-6h0m1.1-5.2h0m1.1 3.9h0m1.1 2.9h0m1.1-2.8h0m1.1-1.9h0m1.2 2.1h0m1.1-1.8h0m1.1-1.1h0m1.1 1.2h0m1.1-3.9h0m1.1 5h0m1.1 2.5h0m1.1 .6h0m1.1-4.9h0m1.2 .2h0m1.1-1.3h0m1.1-1.1h0m1.1 0h0m1.1-2.2h0m1.1-2h0m1.1 .3h0m1.1-.9h0m1.4 20.2h0m1-9.3h0m1-5.1h0m1-.1h0m1-3.5h0m1-1.4h0m1 .9h0m1-.1h0m1 2.1h0m1 .6h0m1-1.4h0m1.1 3.2h0m1-.1h0m1.1-2.1h0m1.1 .5h0m1.1-2.2h0m1.1-3.7h0m1-3h0m1.1 1.9h0m1-.7h0m1 1.7h0m1 3.2h0m1-1.5h0m1-2.2h0m1 1.8h0m1 2.8h0m1 .9h0m1.1-.4h0m1.2-8.9h0m1.1 1.7h0m.9 7.3h0m.8 2.1h0m.9 4.9h0m.9-7h0m.9-4.7h0m.9-2.8h0m1-1.8h0m1-1.8h0m1 3.4h0m1 .7h0m1.1 4.7h0m1.1-2.4h0m1.1 1.8h0m1.1 1.2h0m1.2-1.9h0m1.1-1.7h0m1-2.5h0m1-.9h0m1-3.1h0m1-2.7h0m1.1-.9h0m1.1 2.9h0m1.1-.1h0m1.1 .8h0m1.1 1.3h0m1.1-2.3h0m1.1-1.4h0m1.2-4.9h0m1.1-.5h0m1.1 1.9h0m1.1-3.3h0m1.1 1.4h0m.9 .2h0m.9 4.3h0m.9 .2h0m1.1 5.2h0m1.1 4.1h0m1.1 2.4h0m1.1 .3h0m1.1 0h0m1.1 3.8h0m1.1-3h0m1.2-6.6h0m1.1 1.4h0m1-2h0m1 1.1h0m1-3.6h0m1 3.3h0m1.1 2.5h0m1-.4h0m1.1 1.8h0m1.1 1.4h0m1.1-1.8h0m1.1 1.6h0m1 1.9h0m1.1-1.6h0m1 2.7h0m1 .3h0m1 0h0m1-.4h0m1 1.8h0m1 3.1h0m1-1.1h0m1-2.8h0m1.1 3.8h0m1.2 5.4h0m1.1 7.2h0m1.1 2.6h0m1.1 .6h0m1.1 .4h0m1.1-.9h0m1.1-3.7h0m1.1-1.9h0m1.1-5h0m1.2-3.5h0m1.1-.8h0m1.1 1.9h0m1.1-.3h0m1.1-.9h0m1.1-3.6h0m1.1 3.3h0m1.1 0h0m1.1 6.1h0m1.2 2.3h0m1.1 1.6h0m1.1 .5h0m1.1 3.2h0m1.1 4.6h0m1.1-.1h0m1.1 .7h0m1.1 1.4h0m.9-2.7h0m.9-5h0m.9-4h0m.9-.8h0m.9 .2h0m.9-1.3h0m1.1 3.4h0m1.1 1.7h0m1.1 3.9h0m1-.7h0m1 0h0m1 1.6h0m1 2.8h0m1 .3h0m1 1.8h0m1-.6h0m1-1.8h0m1.1 4.1h0m1.1-.8h0m1.1 2.4h0m1.1 .1h0m1.2-3.8h0m1.1-5.9h0m1.1 3.5h0m1.1 5.8h0m1.1 .6h0m.9-4.8h0m.9-4h0m.9-1.3h0m1 3.8h0m1-2.9h0m1-4.2h0m1 1.6h0m1.1-.2h0m1 1.6h0m1.1 .7h0m1.1-3.4h0m1.1-1.6h0m1.1-2.5h0m1 .7h0m1.1-.7h0m1 3.7h0m1-2.9h0m1 2h0m1 .5h0m1-.9h0m1-2.5h0m1 4h0m1 3.8h0m1.1-1h0m1.1-1h0m1.1 2.1h0m1.1 1.3h0m1.1-2.4h0m1-1.5h0m1.1 .1h0m1.1 1.5h0m1-2.9h0m1-1h0m1-1h0m1-2.1h0m1-2.6h0m1-.7h0m1 2.7h0m1 2.3h0m1.1-.5h0m1.1-.8h0m1 4.5h0m1.1-3.3h0m1.1 4.7h0m1.2 5.5h0m1.1 4.2h0m1.1-1.8h0m1.1-5.8h0m1.1-.3h0m1.1 2.2h0m1.1 2.7h0m1.1-.6h0m1.1-.6h0m1.2-5.3h0m1.1-5.4h0m1.1 .8h0m1-.3h0m1.1 1.9h0m1.1 0h0m1 1.3h0m1 1.9h0m1-.8h0m1-.1h0m1-1.9h0m1 2.5h0m1-1.5h0m1-.5h0m1.1 1.1h0m1.1 2.9h0m1 .8h0m1.1-3.5h0m1.1 2.7h0m1.2 0h0m1.1 .7h0m1.1-7.4h0m1.2-8h0m1.1 2.1h0m1.1-2.4h0m1.1-2.1h0m1.1 8.2h0m1.2-.9h0m1.1 6.7h0m1.1-7.2h0m1.1-2.5h0m1.1-4.4h0m1.1 1.1h0m1.1 .5h0m1-.5h0m1.1 .5h0m1.1-.8h0m1.2-.5h0m1.1-2.5h0m1.1 1.4h0m1.1 4.5h0m1.1 1.5h0m1.2-2.4h0m1.1-4.4h0m.9 5.8h0m.9 4.9h0m.9 1.4h0m.9-1.7h0m.9-6.7h0m.9-5.5h0m1.1 2.5h0m1.1-6.2h0m1.1-3h0m1 4.5h0m1 .5h0m1 2.6h0m1 1.9h0m1-2.8h0m1-1.4h0m1 3.1h0m1-.5h0m1.1-2.9h0m1.1-2.2h0m1.1-.2h0m.9 5.3h0m.9 2.4h0m.9 7.9h0m.9-7.4h0m.9-5.4h0m.9-7.1h0m1.1-.4h0m1.1-1.1h0m1.1 0h0m1 4h0m1-4h0m1-1.7h0m1-2.7h0m1.1 2h0m1.1 .9h0m1.1 .4h0m1.1 3.3h0m1.2 .7h0m1.1 4.5h0m1-2.9h0m1 1.5h0m1-1.7h0m1-1.5h0m1.1 2.3h0m1.1 1.9h0m1.1 .5h0m1.1 1.4h0m1.1-.9h0m1.1 2.5h0m1.1 2.6h0m1.2-5.4h0m1.1-2.3h0m1.1 1.9h0m1.1 2.1h0m1.1 .8h0m1.1 .7h0m1.1-2.8h0m1.1-1.2h0m1.1-1.3h0m1.2 5h0m1.1 5.2h0m.9 3.4h0m.8-1.5h0m.9 3h0m1.1-4.7h0m1.2-.6h0m1.1 5h0m1.1 4h0m1.1-.7h0m1.1 1.5h0m1.1 1.5h0m1.1 2.6h0m1.1-1.2h0m1.1-2.8h0m1.2 5.2h0m1.1-.5h0m1.1-5.9h0m1.1-3.4h0m1.1-.3h0m1.1 .3h0m1.1-1.9h0m1.1 1.7h0m1.1 6h0m1.2 6.4h0m1.1 6.8h0m.9 .6h0m.8 5h0m.9 1.2h0m1.1-3.6h0m1.2-3.3h0m1.1-2.9h0m1.1-4h0m1.1-3.6h0m1.1 0h0m1.1 2.6h0m1.1-3.3h0m1.1-2.6h0m1.1 9.1h0m1.2 1.8h0m1.1 2.3h0m1.1 3.4h0m1.1-1h0m1.1-1h0m1.1-6h0m1.1-4.4h0m1.1-5.8h0m1.2 12.2h0m1.2 6.2h0m1.1 8.8h0m1.2 5.6h0m1.1-1.9h0m1.1-.2h0m1.1-3.8h0m.9-1.5h0m.9-3h0m.9-.8h0m1.1-1.1h0m1.1 4.6h0m1.1 2.2h0m.9-5.6h0m.9-1.5h0m.9-4h0m1.1-6.2h0m1.1-3.6h0m1.1-4.3h0m1.1-1h0m1.2-.6h0m1.1-3.2h0m1.1 4.3h0m1.1 4.6h0m1.1 2.1h0m1.1 4h0m1.1 7.3h0m1.1 4.6h0m1 2.1h0m1 .9h0m1 5.3h0m.9-3.7h0m1-4.1h0m.9-2.5h0m.9 .5h0m1.1-3.6h0m1.1-4h0m1.1-3.7h0m1.1 5.5h0m1.2 3.2h0m1.1 .2h0m1.1 5h0m1.1 5.4h0m1.1 1.9h0m1.1-12.1h0m1.1-12.6h0m1.1-3.3h0m1.1-1.1h0m1.2-2.3h0m1.1 5.5h0m1.1 2.7h0m1.1 5.6h0m1.1 5.9h0m1.1-1.7h0m1.1-1.7h0m1.1-8.1h0m1.1 1.8h0m1.2 1.6h0m1.1 3h0m1-1.2h0m1 1.9h0m1 .3h0m1 .5h0m1 2.3h0m1 1.5h0m1 1h0m1 1.9h0m1 26.8h0m.8-13.4h0m.8-14.7h0m1.1 1.5h0m1.2 1.2h0m1.1 5.2h0m1.1-3.3h0m1.1-5.7h0m1.1-5.7h0m1.1 .6h0m1.1-6.7h0m1.1-2.7h0m1.1 3.3h0m1.2 2.3h0m1.1 5.7h0m1.1-3h0m1.1 3.5h0m1.1-1.3h0m1.1-.7h0m1.1-3.6h0m1.1-5.3h0m1.1 2.9h0m1.2 2.3h0m1.1-1.2h0m1.1 .6h0m1.1 8.5h0m1.1 4.1h0m1 10.6h0M1654.0 772.2h0m.9 1.2h0m.9 1.6h0m.9 2.7h0m1.1-.3h0m1.1 2.7h0m1.1-.4h0m1.1 5.5h0m1.1 4.1h0m1.1 1.6h0m1.1 1.1h0m1.2 .2h0m1.1-3.6h0m.9 1.7h0m.8-1.6h0m.9 1.3h0M1941.7 808.1h0m.8-8.1h0m.8-2.6h0m.9-6.2h0m.9-4.4h0m.9-5.5h0m1.2-2.7h0m1.1-6.8h0m1.1-8.2h0m1.2-2.1h0m1.1 .4h0m1.1 .6h0m1.1 1.6h0m1.1-.5h0m1.1 .3h0m1.1 2.2h0m1.1 3.7h0m1.1-.1h0m1.2 3.2h0m1.1 3.3h0m1.1-6.5h0m1.1-2.2h0m1.1-4h0m1.1 1.4h0m1.1-.3h0m1.1 2.2h0m.9-3h0m.9-.8h0m.9-3.2h0m1.2 14.9h0m1.1 12.6h0m.9 7.6h0m.9 10.5h0m.9 4.3h0m1.2 1.7h0m1.1 7.3h0m1.2-9.5h0m1.2-11.6h0m.9-5.7h0m.8-6.4h0m.9-8.3h0m1.1-5.2h0m1.2-1.7h0m1.1-2.6h0m.9 3.7h0m.8 7h0m.9 6.3h0m1.2 3.4h0m1.2 8.9h0m1.1-5.6h0m1.2-9.5h0m1.1-2.3h0m1.1 .7h0m1.1 .3h0m1.1 .7h0m1.2 .5h0m1.1 2.7h0m1.1-2.7h0m1.1-3.5h0m1.1-4.7h0m.9 5.6h0m.9 6.4h0m.9 3.8h0m.9 7.9h0m.8 4.9h0m.9 .2h0m1.2 6.9h0m1.2 5h0m1.1-11.9h0m1.2-10.7h0m.9-4.4h0m.9 2h0m.9-5.9h0m1.1 .9h0m1.1-6.7h0m1.1-1.5h0m.9 7.3h0m.9 4.6h0m.9 4.6h0m1.1-9.6h0m1.2-8.9h0m1.1-2.6h0m1.1-2.4h0m1.1-1.5h0m1.1 3.1h0m1.2 9.2h0m1.1 4.9h0m1.1-6.9h0m1.2-6h0m1.1 3h0m1.1-1.8h0m1.1-1.7h0m1.1-.3h0m1.2 6.9h0m1.1 4.7h0m.9-2.8h0m.8-3.2h0m.9-6h0m1.1-1h0m1.2-3.8h0m1.1-4.1h0m1.1 .4h0m1.1-1.1h0m1.1 .5h0m1.1 2.2h0m1.1-1.5h0m1.1 3.1h0m1.1 1h0m1.2-3.4h0m1.1-.2h0m.9 3.5h0m.8 4.4h0m.9 3.8h0m1.2-8.1h0m1.2-7.6h0m1.1-1.2h0m1.1 .6h0m1.1 2.8h0m1.1 2.8h0m1.1-2.9h0m1.1-2h0m1.1 4.9h0m1.2 2.5h0m1.1 4.5h0m1.1-6.2h0m1.1-.8h0m1.1-3.2h0m1.1-2.1h0m1.1-6.2h0m1.1-5.1h0m1.1 4.1h0m1.2 5.1h0m1.1 3.5h0m1.1 4.6h0m1.1 1.1h0m1.1 .9h0m.8 6.6h0m.9 2.7h0m.9-5.6h0m.8-3.4h0m.9-6.3h0m1.1-.1h0m1.2-3.6h0m1.1-3.3h0m1.1 5.2h0m1.1 1.7h0m1.1 2.6h0m1.1 2.9h0m1.1-2.6h0m1.1 3.8h0m1.1-1.6h0m1.2 1.4h0m1.1-2.8h0m1.1 2h0m1.1-.4h0m1.1 1.4h0m1-2.3h0m1 .4h0m1 3h0m1-1.7h0m1-2.2h0m1-.1h0m1-1.7h0m1 .9h0m1.1 .3h0m1.1-5h0m1 1.6h0m1.1 .3h0m1.1 3.7h0m1.1-1.5h0m1.1 2h0m1.1-2.4h0m1 1.1h0m1 2.6h0m1 1.9h0m1 4.8h0m1.1-5.7h0m1.1-2.1h0m1.1-4.8h0m1.1 .1h0m1.1-.2h0m1.1-1.2h0m1.1 1.4h0m1.2 2.9h0m1.1 5.6h0m1.1-5.9h0m1.1-4.6h0m1.1-.2h0m1.1 5.4h0m1.1-3.3h0m1.1 2h0m1-3.9h0m1 2.5h0m1-1.2h0m1 1.1h0m1.1 2.2h0m1.1-.5h0m1.1 2.5h0m1.1-5.5h0m1.1 3.4h0m1 4.2h0m1.1 4.5h0m1.1-2.2h0m1 .4h0m1-1.5h0m1-2.9h0m1-3h0m1.1-2.1h0m1.1 .2h0m1.1 .6h0m1.1 2.1h0m1.2-.1h0m1.1 1.7h0m.9 2.1h0m.8 1.7h0m.9 3.4h0m1.1 .5h0m1.2-1.2h0m1.1-.1h0m1.1-7.5h0m1.2-3.7h0m1.1-3.6h0m1.1-.7h0m1.1-3.8h0m1.1 1.9h0m1.2 2.8h0m1.1 1h0m1.1-2.2h0m1.2-3.1h0m1.1-.3h0m1.1 2.5h0m1.1-2.2h0m1.1-.9h0m1.2 1.6h0m1.1-.5h0m1.1 2.1h0m1.1 .2h0m1.1 2.8h0m1.1 .4h0m1.1 .9h0m1.1 4.5h0m1.1 1.8h0m1.2 2.3h0m1.1 5.3h0m1.1 2.1h0m1.1-2.6h0m1.1 1.2h0m1.1-4.1h0m1.1-1.6h0m1.1 1.1h0m1.1 4.2h0m1.2 2.7h0m1.1 1.3h0m1.1 5h0m1.1-1.1h0m1.1 .8h0m.9 6.5h0m.9 2.1h0m.9-.3h0m.9-.3h0m.8-1.6h0m.9-3.3h0m1.2-5.8h0m1.2-7.6h0m1.1-1.3h0m1.1-2.5h0m1.1-2.8h0m1.2 3h0m1.1 4.7h0m.9 1.5h0m.9 2.6h0m.9 2.7h0m1.2-9.3h0m1.1-6.4h0m1-6.9h0m1-5.3h0m1.2 7.6h0m1.2 10.1h0m.8 10.8h0m.8 9.3h0M2652.7 767.1h0m1.1-4h0m1.1-1.8h0m1.1 .5h0m1.1 2h0m1.1 1.4h0m1.1 .2h0m1.1 1.6h0m1.2-.5h0m1.1 2.6h0m1.1 0h0m1.1 4.1h0m1.1 5.3h0m1.1 2.6h0m1.1-2.3h0m1.1 3.8h0m1.1-1.1h0m1.2 3.3h0m1.1 1.8h0m1.1-1.3h0m1.1-.9h0m1.1-1.7h0m1-1.8h0m1-1.9h0m1 1.7h0m1-1.7h0m1.1-3.6h0m1.1 .3h0m1.1 .8h0m.9-1.4h0m.9-1.9h0m.9-7.5h0m.9 3.7h0m.9 2.7h0m.9 6.6h0m1-5.4h0m1-.1h0m1-2.8h0m1.1 4.5h0m1.1 5.4h0m1.1 2.6h0m1.1-1h0m1.1-.6h0m1.1-.5h0m1.1-2h0m1.2-4.8h0m1.1-4.9h0m1.1 8.5h0m1.1 5.8h0m1.1 5.1h0m1.2-4.2h0m1.1-5.2h0m.9-7h0m.9-3.6h0m.9-8.5h0m1.1 2.1h0m1.1 .4h0m1.1 1.6h0m1.1-.5h0m1.2 5.5h0m1.1 1h0m.9-4.9h0m.8-1.1h0m.9-2h0m1.1 5.2h0m1.2 2.2h0m1.1 4.9h0m1.1 2.1h0m1.1-4.9h0m1.1-4.4h0m1.2 12.1h0m1.1 8h0m1.2 7h0m1.2 10.5h0m.9 .7h0m.8-4h0m.9-2.8h0m.9-8h0m.9-3.7h0m.9-5h0m1.2-6.8h0m1.1-9.3h0m1.2-2.3h0m1.2-.4h0m.9 4.1h0m.8 3.9h0m.9-.9h0m.9-.2h0m.9 2.7h0m.9-2h0m1.2 3.5h0m1.1 .6h0m1.1-1.7h0m1.2 2.8h0m1.1-1.2h0m1.1 5h0m1.2 3.6h0m.9 .7h0m.9 5.1h0m.9 1.2h0m1.1-3.6h0m1.1 1.8h0m1.1 5.8h0m1.1-.6h0m1.1 2.9h0m1.1 1.8h0m1.1-3.4h0m1.2-5.1h0m1.1-1.3h0m.9-6h0m.8-6.2h0m.9-4.3h0m1.2-4.5h0m1.2 1.8h0m1.1 7.2h0m1.2 6.8h0m.9-2.6h0m.9-1.4h0m.9-2.6h0m1.1-2.5h0m1.1 1.1h0m1.1 4.7h0m1.1-1.5h0m1.1-1.5h0m1.1-1.3h0m1.1 4.5h0m1.2 1.5h0m1.1 .4h0m.9 4.1h0m.8 3.8h0m.9 4.3h0m1.2-9h0m1.2-3.8h0m1.1 .2h0m1.1-1.2h0m1.1-2.1h0m1.1-.3h0m1.1 2.8h0m1.1 5h0m1.1-2.6h0m1.2-2.6h0m1.1 6.7h0m1.1 .7h0m1.1 1h0m1.1 1.5h0m1.1-1.4h0m1.1-1.4h0m1.1 1.1h0m1.2 3.8h0m1.2 4h0m.9-.7h0m.8-1.6h0m.9-4.7h0m1.1 3.3h0m1.2 1.1h0m1.1 1.5h0m.9-3.9h0m.8-2.8h0m.9-3.2h0m1.2-6.4h0m1.2 3.7h0m1.1 9.9h0m1.2 12.4h0m.9-4.3h0m.9-6.3h0m.9-6.3h0m.9 .9h0m.8-1.8h0m.9-4.9h0m1.2 9.5h0m1.2 9.7h0m.8 1.7h0m.8 8.3h0m.9-11.7h0m.8-9.4h0m1.1-3.2h0m1.1-5.6h0m1.1-1.5h0m1.1-3.1h0m1.2 .2h0m1.1 4.1h0m1.1 5.4h0m1.1 4.1h0m1.1 4.4h0m1.1 3.5h0m1.1 .9h0m1.1 7.1h0m1.1-3.4h0m1.2 1.2h0m1.1-8.6h0m1.1 .7h0m1.1-1.6h0m1.1-1.6h0m1.1-.5h0m1.1 6.8h0m1.1 .8h0m1.1-4.1h0m1.2-3h0m1.1 1.4h0m1.1 4.8h0m1.1-2.6h0m1.1 4.8h0m1.1-2.5h0m1.1-3.6h0m1.1-2.1h0m1.1 1.9h0m1.2-1h0m1.1 .9h0m1.1-1.8h0m1.1 .5h0m1.1-1.2h0m1.2 .3h0m1.1 9h0m.9-3.7h0m.9-7.4h0m.9-5.8h0m1.1-1.9h0m1.1 2.4h0m1.1 1.9h0m1.1-2.1h0m1.2-1.2h0m1.1-4.5h0m1.1 7.4h0m1.1 0h0m1.1 1.5h0m.9-3h0m.9-.8h0m.9-.7h0m1.1 .2h0m1.1-2.4h0m1.1 1.7h0m1.1-1.8h0m1.1-1.5h0m1.1-3.6h0m1 3.7h0m1-5.1h0m1 1h0" stroke="#06678a" stroke-width="6.0" fill="none" stroke-linecap="round"/>
<path d="M591.7 1249.6l1.1 3.1l1.1 1l1.1-2.2l1 6.1l1 .2l1-1.6l1 2.4l1 1.6l1-3.7l1 1.4l1-.4l1 .6l1 .7l1-2.5l1 .7l1-1.7l1 1.4l1 1.3l1 1.9l1-1.2l1-.8l1-1.3l1-3l1 .7l1 3.3l1-1.7l1-4.5l1-.8l1 2.3l1 2.9l1 2l1-1.8l1.1-1.1l1.1-2.6l1.1 5l1.1 1.1l1.1 1.5l1.1 .6l1.1 .6l1.1-1.5l1-2.7l1.1-3.4l1.1 3.8l1 1.3l1 2l1-2.5l1 1.3l1-1.2l1-.5l1 3l1 2l1 2.1l1-1.6l1-2.5l1-.3l1 .5l1-3l1-3.7l1-1.9l1 .7l1 .7l1.1-3.4l1.1 1.9l1.1-1.2l1.1-.2l1.2 3.1l1.1 3.8l.9 1.6l.8-2.7l.9 4M670.0 1257.5l1 1.4l1-.9l1-1.6l1-1.4l1.1-2.3l1.1-4l1.1-2.9l.9-2.1l.9 .2l.9-4.1l.9 .2l.9-1.1l.9 .6l1.1 3.5l1.2 5.2l.8 6.7l.9 7.5l1.1-.4l1.1-1.4l1.1-.5l1.1-.7l1.1-1.5l1.1-3.1l1.1-1.3l1.2-1.1l1.1-3l1.1 1.1l1.1 .8l1.1-.2l.9 2.4l.9 1.5l.9 5.7l1.1-3.3l1.2-8l1.1-2.7l1.1 3.1l1.1-1.9l1.1-4.3l1.2 1.6l1.1-2.1l1.1 2.9l1.1 2.8l1.1-3.5l1.1-.2l1.1 .9l1.1 .2l1.1-1.2l1.2-2.3l1.1-2.6l1.1 .4l1.1-1.8l1.1 .2l1.2 5.7l1.1 3.8l.9 .6l.9 4.9l.9 5.8l.9 1.4l.9-2.2l.9-.5l1.1-6.4l1.1-2l1.1-4.2l1.1 1.5l1.1-1.3l1.1-1.6l1.1 .5l1.2-5.6l1.1-.2l1.1-.7l1.2 4.7l1.1 2.2l1.1 3.2l1.1 .5l1.1 6.8l1.2-1.9l1.1 2.3l1.1 4.3l1.1-.7l1.1 .7l1.1 3.3l1.1 1.1l1.1-2.5l1.1-2l1.2-.2l1.1-1.1l1.1 0l1.1-.4l1.1-4.2l1.1-2.5l1.1-3.8l1.1 1.7l1.1-1.8l1.2 .7l1.1-2.7l1.1 1l1.1 .8l1.1 .2l1.1 3.6l1.1 .1l1.1 2.5l1.1 .4l1.2 3.4l1.1 5.4l1.1 1.5l1.1-3.7l1.1 .6l1.1 .7l1.1-.4l1.1-.9l1.2 1.1l1.2-1.2l.9-.5l.8-6.2l.9-1.5l.9 3.6l.9-.1l.9-.3M988.3 1229.0l1.1-2.1l1.2 3.1l1.1-4.1l1.1 3.5l1-3.1l1.1 2.5l1.1 3.3l1-3.8l1 2.7l1-1.3l1 1.6l1-5.1l1 1.1l1-4.8l1 2.5l1.1 2.5l1.1 1.6l1.1-.5l.9 3.7l.9 2.4l.9 4.2l.8 2.3l.9 10.4l1.1-6.9l1.2-7.9l.9 6l.9-2.2l.9-.2l.9 5.5l.8 2.2l.9 8.8l1.2 2.1l1.2 3.9l1.1-7.8l1.2-13.7l1.1-3.3l1.1 .3l1.1 .8l.9 6.5l.9 5.7l.9 4.3l.9-3.4l.9-5.2l.9-2.1l1.1-2.2l1.1-1.7l1.1-1.2l1.1 2.4l1.1 1.6l1.1 1.2l1.1 2.6l1.2 4.2l1.1 6l.6 41.9l1.4-40.7l.9-4.6l.8-1.6l.9-7.8l.9 6.1l.9 10.5l.9 6.7l.9-1.7l.9-6.4l.9-5l1.1-1.3l1.1-2.6l1.1-4.5l1.1 2.7l1.1-2.1l1.1 5.5l1.1-2.3l1.2-1l1.1-.7l1.1-4.2l1.1-2.4l1.1-2.6l1.1 7.8l1.1 5.2l1.1 2.4l1.1-1l1.2-5.4l1.1-3.2l1.1 .1l1.1-1.1l1.1-1l1.1-3l1.1 2.2l1.1 1.4l1.4 24.1l1-12l1-9.6l1 .6l1-2l1 .7l1 3.6l1-2.1l1-1.8l1-.3l1-.9l1.1 2.5l1 1.2l1.1-.8l1.1-1.6l1.1 2.2l1.1-4.7l1-1.1l1.1-3.3l1 .6l1 4.3l1-1.9l1-1.3l1 4.6l1-2.7l1 1.3l1 .9l1.1-4.3l1.2-1.7l1.1 1.1l.9 4.9l.8 5l.9-.4l.9-6.7l.9-6.1l.9-2.8l1 4.3l1 3.8l1 2l1-4l1.1-1.4l1.1 1.6l1.1 4.1l1.1 2.4l1.2-6.3l1.1-4.8l1-2.9l1 1.6l1-2l1 0l1.1 2.3l1.1 0l1.1 .7l1.1-3.1l1.1-1.3l1.1 2l1.1-2.6l1.2-1.2l1.1-2.3l1.1-.8l1.1 0l1.1 0l.9 1.1l.9 2.4l.9 3.3l1.1 1.6l1.1 .2l1.1 3.6l1.1 .5l1.1-1.3l1.1 3.5l1.1-3l1.2-4.4l1.1-6.2l1-1.4l1 3.3l1-.6l1 4.4l1.1-2.1l1 1.4l1.1-2.5l1.1 3.4l1.1-.3l1.1 .1l1 2.8l1.1-.9l1 2l1-1.3l1 4.7l1 3.5l1-2l1-1.4l1 .8l1 .7l1.1 .4l1.2 5.6l1.1 0l1.1 1.3l1.1-2.2l1.1 1.1l1.1-2.7l1.1-3.4l1.1 .1l1.1-7.3l1.2-1.5l1.1-1l1.1 3.3l1.1-3.2l1.1 1.5l1.1 1.1l1.1-1.7l1.1-2.9l1.1 2.2l1.2 3.1l1.1 0l1.1 1.3l1.1 2l1.1-.5l1.1 1.1l1.1 2.2l1.1-3.2l.9-3l.9-5.4l.9-1.4l.9-2l.9 .8l.9 .2l1.1 5.2l1.1 1.6l1.1 1.8l1-.4l1-.1l1 1.9l1 4.1l1-2.9l1 1.8l1 .9l1-.8l1.1-3.6l1.1 1.8l1.1 3.7l1.1-3.5l1.2-7l1.1-1.2l1.1 6.5l1.1 4.7l1.1 2.9l.9-.2l.9-6.5l.9-2.8l1-1.2l1 1.2l1 4.1l1-2l1.1-1l1 3.1l1.1-3.8l1.1 1.1l1.1 .1l1.1-.9l1-1.1l1.1-1l.7-2.8l1.1 4.2l1.1 2.3l1.1 1.1l1 .3l1 2.7l1 .1l1 1.5l1.1 .6l1.1 .7l1.1-3.8l1.1 2.5l1.1-2l1 0l1.1 1.2l1.1-2.7l1 1.3l1-.5l1-.5l1 2.2l1.1-.4l1.1-1l1.1-.5l1.1 3l1.2 2.7l1.1 1.9l1.1 4.3l1.1 3.7l1.1 2.5l.8 4l.9 .7l1.1-2l1.1-1.5l1.1-2.6l1.1 2.7l1.1 5.6l1.1 2.7l1.1-7.6l1.2-5.8l1.1-3.3l1.1 2.2l1-3.5l1.1 2.4l1.1 3.1l1 2.4l1 1.4l1-2.8l1 2.4l.9 6.3l.9 1.3l.9 4.7l1.1-5.8l1.2-3.9l1.1 3l1.1-3.8l1.1-3.7l1.1 3.7l1.2 5.2l1.1 2.6l1.1-4.1l1.2-10.8l1.1-1.3l1.1 0l1.1-.2l1.1 3l1.2 8.3l1.1 6.8l1.1-7.7l1.1-6.1l1.1-6.5l1.1 5.1l1.1 1.1l1 1.2l1.1-.4l1.1-2.9l1.2-3l1.1-1.8l1.1 1.9l1.1 5.7l1.1 .7l1.2-2.4l1.1-5.2l.9 5.7l.9 1.4l.9 7.3l.9-3.9l.9-.8l.9-7.2l1.1-7.5l1.1 1.9l1.1 1.1l1-2.3l1 1.8l1-1.1l1 5.3l1-2.5l1-.6l1-3.1l1-3.5l1.1 2.8l1.1-2.6l1.1-4.5l.9 6.9l.9 7.3l.9 2.9l.9-5l.9-1.4l.9-8.8l1.1-2.3l1.1-.8l1.1 .4l1 1.3l1 1.6l1-4.7l1-3.6l1.1 4.9l1.1 0l1.1 3.6l1.1-2.6l1.2 2.3l1.1 3.3l1-3.1l1-7.5l1 3.2l1-1.3l1.1-1.4l1.1-2.4l1.1 3.1l1.1 .1l1.1-.2l1.1 6.4l1.1-2.1l1.2 .5l1.1-.4l1.1 .9l1.1-1.9l1.1-.8l1.1 .4l1.1 1.4l1.1-2.7l1.1 3.6l1.2 3.1l1.1 3.6l.9 1l.8 3.2l.9 1.3l1.1-.2l1.2-3.4l1.1-.9l1.1 1.4l1.1-1.3l1.1 1.5l1.1 4.6l1.1 3.9l1.1 4.9l1.1-3.3l1.2-.8l1.1-1.1l1.1-5.2l1.1-4.4l1.1-.6l1.1-.2l1.1 .4l1.1 4.6l1.1 1.4l1.2 7.4l1.1 1.1l.9 1.2l.8 1.6l.9 1.5l1.1-1.3l1.2-.3l1.1-.4l1.1-4.9l1.1-5.8l1.1-2.8l1.1 .4l1.1-6l1.1-1.4l1.1 3.5l1.2 3.8l1.1 2.5l1.1-.2l1.1 .1l1.1 .3l1.1-2.4l1.1-3.8l1.1-2.1l1.2 10.2l1.2 9.5l1.1 2l1.2 7.2l1.1-10.6l1.1 .3l1.1-4.8l.9-1.5l.9-1.2l.9-2.1l1.1-.3l1.1-.1l1.1 .1l.9-1.6l.9-.8l.9-1.6l1.1-5.6l1.1-.5l1.1-2.2l1.1 .1l1.2-3.2l1.1-3.2l1.1 5.2l1.1 4.1l1.1 6.7l1.1 3.3l1.1-1.8l1.1 6.7l1.2 1.2l1.2 6.4l1.1-2.4l1-3.5l1.1-2.2l1.1 1.3l1.1-1.8l1.1-3.6l1.1-3l1.1 1l1.2 3.3l1.1 4.9l1.1 .6l1.1-3.7l1.1-.2l1.1-1.5l1.1-4.5l1.1-6.3l1.1 1.6l1.2 1l1.1 .3l1.1 4l1.1 5.6l1.1 6.5l1.1-.6l1.1-2.4l1.1-2.8l1.1 3.3l1.2 .8l1.1 3l1-4.4l1-1.2l1 2.9l1 3.1l1 1.2l1-1.6l1 3l1-1.7l1 36.7l.8-12.9l.8-8l1.1 2.1l1.2 1.1l1.1 4.9l1.1-13l1.1-5.8l1.1-5.1l1.1-4.2l1.1-1.5l1.1 1.6l1.1 1.4l1.2 1.4l1.1 4l1.1 2.8l1.1 5.3l1.1-.3l1.1-3.4l1.1 .4l1.1-6.3l1.1 3.2l1.2 3.5l1.1 1.8l1.1 .4l1.1 2.7l1.1 2.9l1 10.3M1654.0 1252.3l.9 5l.9 2.1l.9 2.2l1.1-1.3l1.1 1.4l1.1 .9l1.1 .5l1.1 .9l1.1 1.3l1.1 1.1l1.2 .3l1.1-.6l.9 1.4l.8-4.1l.9-.3M1941.7 1276.1l.8-4.7l.8-.7l.9-7.7l.9-6.2l.9-5.7l1.2 0l1.1-3.3l1.1 1.9l1.2-5.6l1.1-1.7l1.1-.2l1.1 .5l1.1 .7l1.1-3.4l1.1-.3l1.1-2l1.1 4l1.2 1.1l1.1 8.2l1.1-3.1l1.1-1.6l1.1-.6l1.1-2.5l1.1 .1l1.1 2.9l.9-4.7l.9 .2l.9-.6l1.2 7.5l1.1 8.9l.9 5.3l.9 3.9l.9 1.3l1.2 2.9l1.1 1.7l1.2-7.8l1.2-10.2l.9-1.7l.8-4.6l.9-3.6l1.1-1.4l1.2 .9l1.1-2.8l.9 4.1l.8-.2l.9 1.1l1.2 6.1l1.2 3.5l1.1-.5l1.2-8l1.1 3l1.1 .3l1.1-.9l1.1 2l1.2 .4l1.1-.2l1.1-7.2l1.1 3l1.1-2.9l.9 .2l.9 4.3l.9 3.8l.9 5.5l.8 4.6l.9 2.6l1.2 7.5l1.2 9.2l1.1-8.6l1.2-9.1l.9-6.6l.9-3.1l.9-4.7l1.1 0l1.1 .9l1.1 .1l.9-1.4l.9 3.5l.9 2.1l1.1-4.1l1.2-4.9l1.1-3l1.1-4.6l1.1 1.1l1.1 9.9l1.2 7.6l1.1 4.5l1.1-4.7l1.2-10.8l1.1 2.1l1.1-2.5l1.1-1.3l1.1 2.4l1.2 8.8l1.1 3.4l.9-1.3l.8-5.4l.9-7.8l1.1-.2l1.2-1.4l1.1 1.7l1.1-1.9l1.1 0l1.1-.5l1.1 .6l1.1 3l1.1 6.1l1.1-1.3l1.2-2.6l1.1-.3l.9 5.6l.8 5.2l.9 5.2l1.2-7.2l1.2-8l1.1 1.7l1.1-1.7l1.1 1.3l1.1-3.5l1.1 1.1l1.1 2.3l1.1 3.7l1.2 3.1l1.1 .5l1.1-1.6l1.1-7.4l1.1-2.5l1.1-6l1.1-4.6l1.1-1l1.1 3.7l1.2 4.5l1.1 5l1.1 3.9l1.1 6l1.1 1.7l.8 4.1l.9-.8l.9-5.2l.8-6.3l.9-5.6l1.1-1.3l1.2 2.4l1.1-5l1.1-.4l1.1 4.9l1.1 4.9l1.1-1.5l1.1 4.4l1.1 3.7l1.1-2.3l1.2-2l1.1-1.2l1.1 0l1.1-1.4l1.1 3.7l1 .6l1 3.7l1-1.8l1 .2l1-3.6l1 .2l1-1.1l1 3.7l1.1-3.1l1.1-2.4l1-1.2l1.1 1.4l1.1 .2l1.1 2l1.1-1.7l1.1 .2l1 5.4l1 1.1l1 5.4l1 1.4l1.1-4.7l1.1-4.6l1.1-.6l1.1-1.9l1.1-3.1l1.1 0l1.1 3.9l1.2 .9l1.1 1.8l1.1-5.4l1.1-4.2l1.1-3.8l1.1 .9l1.1-5l1.1 2.2l1 5.4l1-1.5l1-1.8l1 1.4l1.1 2.8l1.1-4.7l1.1-.5l1.1-.8l1.1 4.1l1 2.8l1.1-1.1l1.1 5.2l1 .8l1-2.5l1-2.3l1-4.5l1.1 .8l1.1-3.5l1.1-.5l1.1 3l1.2 1.7l1.1 .9l.9 4.6l.8 2.6l.9 1.8l1.1-2.4l1.2 .5l1.1-2.5l1.1-6.9l1.2-4.2l1.1 .3l1.1-2l1.1-3.9l1.1-.3l1.2 1.4l1.1-.4l1.1-.2l1.2-2.4l1.1 3.6l1.1 .7l1.1 4.1l1.1-2.3l1.2 .4l1.1-1.8l1.1 1.7l1.1 1.6l1.1 1.4l1.1-1l1.1 .5l1.1 1.5l1.1 4.4l1.2-.7l1.1 2.3l1.1-3l1.1-.1l1.1-.7l1.1-1.2l1.1 .3l1.1-4.9l1.1 .3l1.2 2.6l1.1-2l1.1 4.1l1.1 2.8l1.1-.8l.9 .4l.9 3.9l.9-1.4l.9 .1l.8-2.4l.9-1.6l1.2-4l1.2-4l1.1 2.9l1.1-.9l1.1-4.1l1.2 2.2l1.1 4.6l.9 2.4l.9-.7l.9 .7l1.2-5.4l1.1-3.2l1-6.4l1-3.3l1.2 11l1.2 6.4l.8 6.9l.8 1M2747.3 1238.4l.9-2.3l.9-.1l.9-1.6l.9 1.8l.9 3.2l.9 4.5l1.1 5.7l1.2 4.1l1.1-3l1.1-4.8l1.1-1.6l1.1 2.6l1.2-1.9l1.1-1.3l1.1 5.1l1.1-.3l1.1-.8l1.1-2.6l1.1-4l1.1-2.5l1.2-1.8l1.2-5.5l.9 4l.8 .6l.9 7.1l.9 .2l.9 1.9l.9 4.9l1.1-4.4l1.1-3l1.1-3.4l1.1 1l1.2 4.8l1.1 2.4l1.1-.6l1.1 1.6l1.1 1.1l1.2 7.5l1.1 8.3l1.2-10.5l1.2-3.9l1.1 2.3l1.1-2.4l1.1-2.9l1.1 2.1l1.1-.4l1-.8l1.1 1.8l1.1 .5l1.2 4.1l1.1 .6l1.1 3.2l1.1-1.9l1.1-1.9l1.1 3.2l1.1 1l1.1 3.5l1.2 6.4l1.2 3.7l.9-5.2l.8-4.2l.9-.8l1.1 4.3l1.2 4.8l1.1-1l.9-2.8l.8-5.8l.9-2.8l1.2 .7l1.2-3l1.1 9.9l1.2 14.6l.9-1.8l.9-3.8l.9-5l.9-4.6l.8 2.2l.9-5.8l1.2 13l1.2 9.5l.8 2.5l.8 7.7l.9-14.9l.8-10l1.1-.2l1.1-3.4l1.1-4.4l1.1-2.4l1.2-1.5l1.1 4.5l1.1 6l1.1 3.5l1.1-3.6l1.1 3.3l1.1 9.1l1.1 5.5l1.1-3l1.2-3.6l1.1-3.3l1.1-.1l1.1-2.3l1.1 .9l1.1 1.8l1.1 1.5l1.1-.6l1.1-.3l1.2-1.6l1.1 2.3l1.1-1.2l1.1 1l1.1 4l1.1-5.3l1.1-4l1.1-4.8l1.1 3.5l1.2 .4l1.1 2.5l1.1-.5l1.1-1.3l1.1-1.2l1.2 5.5l1.1 3.2l.9-6.7l.9-2l.9-5.5l1.1 9.4l1.1-3.2l1.1 .4l1.1-4.3l1.2-1l1.1 2.1l1.1-.2l1.1 3.3l1.1 2.7l.9-3.4l.9-2.9l.9-5.6l1.1 3.6l1.1-2.2l1.1 1.2l1.1-4.7l1.1 1.5l1.1-2.9l1-1.4l1-2.2l1 1.2" stroke="#1c8c0a" stroke-width="3.8" fill="none" stroke-linejoin="round" stroke-linecap="round"/>
<path d="M591.7 1249.6h0m1.1 3.1h0m1.1 1h0m1.1-2.2h0m1 6.1h0m1 .2h0m1-1.6h0m1 2.4h0m1 1.6h0m1-3.7h0m1 1.4h0m1-.4h0m1 .6h0m1 .7h0m1-2.5h0m1 .7h0m1-1.7h0m1 1.4h0m1 1.3h0m1 1.9h0m1-1.2h0m1-.8h0m1-1.3h0m1-3h0m1 .7h0m1 3.3h0m1-1.7h0m1-4.5h0m1-.8h0m1 2.3h0m1 2.9h0m1 2h0m1-1.8h0m1.1-1.1h0m1.1-2.6h0m1.1 5h0m1.1 1.1h0m1.1 1.5h0m1.1 .6h0m1.1 .6h0m1.1-1.5h0m1-2.7h0m1.1-3.4h0m1.1 3.8h0m1 1.3h0m1 2h0m1-2.5h0m1 1.3h0m1-1.2h0m1-.5h0m1 3h0m1 2h0m1 2.1h0m1-1.6h0m1-2.5h0m1-.3h0m1 .5h0m1-3h0m1-3.7h0m1-1.9h0m1 .7h0m1 .7h0m1.1-3.4h0m1.1 1.9h0m1.1-1.2h0m1.1-.2h0m1.2 3.1h0m1.1 3.8h0m.9 1.6h0m.8-2.7h0m.9 4h0M670.0 1257.5h0m1 1.4h0m1-.9h0m1-1.6h0m1-1.4h0m1.1-2.3h0m1.1-4h0m1.1-2.9h0m.9-2.1h0m.9 .2h0m.9-4.1h0m.9 .2h0m.9-1.1h0m.9 .6h0m1.1 3.5h0m1.2 5.2h0m.8 6.7h0m.9 7.5h0m1.1-.4h0m1.1-1.4h0m1.1-.5h0m1.1-.7h0m1.1-1.5h0m1.1-3.1h0m1.1-1.3h0m1.2-1.1h0m1.1-3h0m1.1 1.1h0m1.1 .8h0m1.1-.2h0m.9 2.4h0m.9 1.5h0m.9 5.7h0m1.1-3.3h0m1.2-8h0m1.1-2.7h0m1.1 3.1h0m1.1-1.9h0m1.1-4.3h0m1.2 1.6h0m1.1-2.1h0m1.1 2.9h0m1.1 2.8h0m1.1-3.5h0m1.1-.2h0m1.1 .9h0m1.1 .2h0m1.1-1.2h0m1.2-2.3h0m1.1-2.6h0m1.1 .4h0m1.1-1.8h0m1.1 .2h0m1.2 5.7h0m1.1 3.8h0m.9 .6h0m.9 4.9h0m.9 5.8h0m.9 1.4h0m.9-2.2h0m.9-.5h0m1.1-6.4h0m1.1-2h0m1.1-4.2h0m1.1 1.5h0m1.1-1.3h0m1.1-1.6h0m1.1 .5h0m1.2-5.6h0m1.1-.2h0m1.1-.7h0m1.2 4.7h0m1.1 2.2h0m1.1 3.2h0m1.1 .5h0m1.1 6.8h0m1.2-1.9h0m1.1 2.3h0m1.1 4.3h0m1.1-.7h0m1.1 .7h0m1.1 3.3h0m1.1 1.1h0m1.1-2.5h0m1.1-2h0m1.2-.2h0m1.1-1.1h0m1.1 0h0m1.1-.4h0m1.1-4.2h0m1.1-2.5h0m1.1-3.8h0m1.1 1.7h0m1.1-1.8h0m1.2 .7h0m1.1-2.7h0m1.1 1h0m1.1 .8h0m1.1 .2h0m1.1 3.6h0m1.1 .1h0m1.1 2.5h0m1.1 .4h0m1.2 3.4h0m1.1 5.4h0m1.1 1.5h0m1.1-3.7h0m1.1 .6h0m1.1 .7h0m1.1-.4h0m1.1-.9h0m1.2 1.1h0m1.2-1.2h0m.9-.5h0m.8-6.2h0m.9-1.5h0m.9 3.6h0m.9-.1h0m.9-.3h0M988.3 1229.0h0m1.1-2.1h0m1.2 3.1h0m1.1-4.1h0m1.1 3.5h0m1-3.1h0m1.1 2.5h0m1.1 3.3h0m1-3.8h0m1 2.7h0m1-1.3h0m1 1.6h0m1-5.1h0m1 1.1h0m1-4.8h0m1 2.5h0m1.1 2.5h0m1.1 1.6h0m1.1-.5h0m.9 3.7h0m.9 2.4h0m.9 4.2h0m.8 2.3h0m.9 10.4h0m1.1-6.9h0m1.2-7.9h0m.9 6h0m.9-2.2h0m.9-.2h0m.9 5.5h0m.8 2.2h0m.9 8.8h0m1.2 2.1h0m1.2 3.9h0m1.1-7.8h0m1.2-13.7h0m1.1-3.3h0m1.1 .3h0m1.1 .8h0m.9 6.5h0m.9 5.7h0m.9 4.3h0m.9-3.4h0m.9-5.2h0m.9-2.1h0m1.1-2.2h0m1.1-1.7h0m1.1-1.2h0m1.1 2.4h0m1.1 1.6h0m1.1 1.2h0m1.1 2.6h0m1.2 4.2h0m1.1 6h0m.6 41.9h0m1.4-40.7h0m.9-4.6h0m.8-1.6h0m.9-7.8h0m.9 6.1h0m.9 10.5h0m.9 6.7h0m.9-1.7h0m.9-6.4h0m.9-5h0m1.1-1.3h0m1.1-2.6h0m1.1-4.5h0m1.1 2.7h0m1.1-2.1h0m1.1 5.5h0m1.1-2.3h0m1.2-1h0m1.1-.7h0m1.1-4.2h0m1.1-2.4h0m1.1-2.6h0m1.1 7.8h0m1.1 5.2h0m1.1 2.4h0m1.1-1h0m1.2-5.4h0m1.1-3.2h0m1.1 .1h0m1.1-1.1h0m1.1-1h0m1.1-3h0m1.1 2.2h0m1.1 1.4h0m1.4 24.1h0m1-12h0m1-9.6h0m1 .6h0m1-2h0m1 .7h0m1 3.6h0m1-2.1h0m1-1.8h0m1-.3h0m1-.9h0m1.1 2.5h0m1 1.2h0m1.1-.8h0m1.1-1.6h0m1.1 2.2h0m1.1-4.7h0m1-1.1h0m1.1-3.3h0m1 .6h0m1 4.3h0m1-1.9h0m1-1.3h0m1 4.6h0m1-2.7h0m1 1.3h0m1 .9h0m1.1-4.3h0m1.2-1.7h0m1.1 1.1h0m.9 4.9h0m.8 5h0m.9-.4h0m.9-6.7h0m.9-6.1h0m.9-2.8h0m1 4.3h0m1 3.8h0m1 2h0m1-4h0m1.1-1.4h0m1.1 1.6h0m1.1 4.1h0m1.1 2.4h0m1.2-6.3h0m1.1-4.8h0m1-2.9h0m1 1.6h0m1-2h0m1 0h0m1.1 2.3h0m1.1 0h0m1.1 .7h0m1.1-3.1h0m1.1-1.3h0m1.1 2h0m1.1-2.6h0m1.2-1.2h0m1.1-2.3h0m1.1-.8h0m1.1 0h0m1.1 0h0m.9 1.1h0m.9 2.4h0m.9 3.3h0m1.1 1.6h0m1.1 .2h0m1.1 3.6h0m1.1 .5h0m1.1-1.3h0m1.1 3.5h0m1.1-3h0m1.2-4.4h0m1.1-6.2h0m1-1.4h0m1 3.3h0m1-.6h0m1 4.4h0m1.1-2.1h0m1 1.4h0m1.1-2.5h0m1.1 3.4h0m1.1-.3h0m1.1 .1h0m1 2.8h0m1.1-.9h0m1 2h0m1-1.3h0m1 4.7h0m1 3.5h0m1-2h0m1-1.4h0m1 .8h0m1 .7h0m1.1 .4h0m1.2 5.6h0m1.1 0h0m1.1 1.3h0m1.1-2.2h0m1.1 1.1h0m1.1-2.7h0m1.1-3.4h0m1.1 .1h0m1.1-7.3h0m1.2-1.5h0m1.1-1h0m1.1 3.3h0m1.1-3.2h0m1.1 1.5h0m1.1 1.1h0m1.1-1.7h0m1.1-2.9h0m1.1 2.2h0m1.2 3.1h0m1.1 0h0m1.1 1.3h0m1.1 2h0m1.1-.5h0m1.1 1.1h0m1.1 2.2h0m1.1-3.2h0m.9-3h0m.9-5.4h0m.9-1.4h0m.9-2h0m.9 .8h0m.9 .2h0m1.1 5.2h0m1.1 1.6h0m1.1 1.8h0m1-.4h0m1-.1h0m1 1.9h0m1 4.1h0m1-2.9h0m1 1.8h0m1 .9h0m1-.8h0m1.1-3.6h0m1.1 1.8h0m1.1 3.7h0m1.1-3.5h0m1.2-7h0m1.1-1.2h0m1.1 6.5h0m1.1 4.7h0m1.1 2.9h0m.9-.2h0m.9-6.5h0m.9-2.8h0m1-1.2h0m1 1.2h0m1 4.1h0m1-2h0m1.1-1h0m1 3.1h0m1.1-3.8h0m1.1 1.1h0m1.1 .1h0m1.1-.9h0m1-1.1h0m1.1-1h0m.7-2.8h0m1.1 4.2h0m1.1 2.3h0m1.1 1.1h0m1 .3h0m1 2.7h0m1 .1h0m1 1.5h0m1.1 .6h0m1.1 .7h0m1.1-3.8h0m1.1 2.5h0m1.1-2h0m1 0h0m1.1 1.2h0m1.1-2.7h0m1 1.3h0m1-.5h0m1-.5h0m1 2.2h0m1.1-.4h0m1.1-1h0m1.1-.5h0m1.1 3h0m1.2 2.7h0m1.1 1.9h0m1.1 4.3h0m1.1 3.7h0m1.1 2.5h0m.8 4h0m.9 .7h0m1.1-2h0m1.1-1.5h0m1.1-2.6h0m1.1 2.7h0m1.1 5.6h0m1.1 2.7h0m1.1-7.6h0m1.2-5.8h0m1.1-3.3h0m1.1 2.2h0m1-3.5h0m1.1 2.4h0m1.1 3.1h0m1 2.4h0m1 1.4h0m1-2.8h0m1 2.4h0m.9 6.3h0m.9 1.3h0m.9 4.7h0m1.1-5.8h0m1.2-3.9h0m1.1 3h0m1.1-3.8h0m1.1-3.7h0m1.1 3.7h0m1.2 5.2h0m1.1 2.6h0m1.1-4.1h0m1.2-10.8h0m1.1-1.3h0m1.1 0h0m1.1-.2h0m1.1 3h0m1.2 8.3h0m1.1 6.8h0m1.1-7.7h0m1.1-6.1h0m1.1-6.5h0m1.1 5.1h0m1.1 1.1h0m1 1.2h0m1.1-.4h0m1.1-2.9h0m1.2-3h0m1.1-1.8h0m1.1 1.9h0m1.1 5.7h0m1.1 .7h0m1.2-2.4h0m1.1-5.2h0m.9 5.7h0m.9 1.4h0m.9 7.3h0m.9-3.9h0m.9-.8h0m.9-7.2h0m1.1-7.5h0m1.1 1.9h0m1.1 1.1h0m1-2.3h0m1 1.8h0m1-1.1h0m1 5.3h0m1-2.5h0m1-.6h0m1-3.1h0m1-3.5h0m1.1 2.8h0m1.1-2.6h0m1.1-4.5h0m.9 6.9h0m.9 7.3h0m.9 2.9h0m.9-5h0m.9-1.4h0m.9-8.8h0m1.1-2.3h0m1.1-.8h0m1.1 .4h0m1 1.3h0m1 1.6h0m1-4.7h0m1-3.6h0m1.1 4.9h0m1.1 0h0m1.1 3.6h0m1.1-2.6h0m1.2 2.3h0m1.1 3.3h0m1-3.1h0m1-7.5h0m1 3.2h0m1-1.3h0m1.1-1.4h0m1.1-2.4h0m1.1 3.1h0m1.1 .1h0m1.1-.2h0m1.1 6.4h0m1.1-2.1h0m1.2 .5h0m1.1-.4h0m1.1 .9h0m1.1-1.9h0m1.1-.8h0m1.1 .4h0m1.1 1.4h0m1.1-2.7h0m1.1 3.6h0m1.2 3.1h0m1.1 3.6h0m.9 1h0m.8 3.2h0m.9 1.3h0m1.1-.2h0m1.2-3.4h0m1.1-.9h0m1.1 1.4h0m1.1-1.3h0m1.1 1.5h0m1.1 4.6h0m1.1 3.9h0m1.1 4.9h0m1.1-3.3h0m1.2-.8h0m1.1-1.1h0m1.1-5.2h0m1.1-4.4h0m1.1-.6h0m1.1-.2h0m1.1 .4h0m1.1 4.6h0m1.1 1.4h0m1.2 7.4h0m1.1 1.1h0m.9 1.2h0m.8 1.6h0m.9 1.5h0m1.1-1.3h0m1.2-.3h0m1.1-.4h0m1.1-4.9h0m1.1-5.8h0m1.1-2.8h0m1.1 .4h0m1.1-6h0m1.1-1.4h0m1.1 3.5h0m1.2 3.8h0m1.1 2.5h0m1.1-.2h0m1.1 .1h0m1.1 .3h0m1.1-2.4h0m1.1-3.8h0m1.1-2.1h0m1.2 10.2h0m1.2 9.5h0m1.1 2h0m1.2 7.2h0m1.1-10.6h0m1.1 .3h0m1.1-4.8h0m.9-1.5h0m.9-1.2h0m.9-2.1h0m1.1-.3h0m1.1-.1h0m1.1 .1h0m.9-1.6h0m.9-.8h0m.9-1.6h0m1.1-5.6h0m1.1-.5h0m1.1-2.2h0m1.1 .1h0m1.2-3.2h0m1.1-3.2h0m1.1 5.2h0m1.1 4.1h0m1.1 6.7h0m1.1 3.3h0m1.1-1.8h0m1.1 6.7h0m1.2 1.2h0m1.2 6.4h0m1.1-2.4h0m1-3.5h0m1.1-2.2h0m1.1 1.3h0m1.1-1.8h0m1.1-3.6h0m1.1-3h0m1.1 1h0m1.2 3.3h0m1.1 4.9h0m1.1 .6h0m1.1-3.7h0m1.1-.2h0m1.1-1.5h0m1.1-4.5h0m1.1-6.3h0m1.1 1.6h0m1.2 1h0m1.1 .3h0m1.1 4h0m1.1 5.6h0m1.1 6.5h0m1.1-.6h0m1.1-2.4h0m1.1-2.8h0m1.1 3.3h0m1.2 .8h0m1.1 3h0m1-4.4h0m1-1.2h0m1 2.9h0m1 3.1h0m1 1.2h0m1-1.6h0m1 3h0m1-1.7h0m1 36.7h0m.8-12.9h0m.8-8h0m1.1 2.1h0m1.2 1.1h0m1.1 4.9h0m1.1-13h0m1.1-5.8h0m1.1-5.1h0m1.1-4.2h0m1.1-1.5h0m1.1 1.6h0m1.1 1.4h0m1.2 1.4h0m1.1 4h0m1.1 2.8h0m1.1 5.3h0m1.1-.3h0m1.1-3.4h0m1.1 .4h0m1.1-6.3h0m1.1 3.2h0m1.2 3.5h0m1.1 1.8h0m1.1 .4h0m1.1 2.7h0m1.1 2.9h0m1 10.3h0M1654.0 1252.3h0m.9 5h0m.9 2.1h0m.9 2.2h0m1.1-1.3h0m1.1 1.4h0m1.1 .9h0m1.1 .5h0m1.1 .9h0m1.1 1.3h0m1.1 1.1h0m1.2 .3h0m1.1-.6h0m.9 1.4h0m.8-4.1h0m.9-.3h0M1941.7 1276.1h0m.8-4.7h0m.8-.7h0m.9-7.7h0m.9-6.2h0m.9-5.7h0m1.2 0h0m1.1-3.3h0m1.1 1.9h0m1.2-5.6h0m1.1-1.7h0m1.1-.2h0m1.1 .5h0m1.1 .7h0m1.1-3.4h0m1.1-.3h0m1.1-2h0m1.1 4h0m1.2 1.1h0m1.1 8.2h0m1.1-3.1h0m1.1-1.6h0m1.1-.6h0m1.1-2.5h0m1.1 .1h0m1.1 2.9h0m.9-4.7h0m.9 .2h0m.9-.6h0m1.2 7.5h0m1.1 8.9h0m.9 5.3h0m.9 3.9h0m.9 1.3h0m1.2 2.9h0m1.1 1.7h0m1.2-7.8h0m1.2-10.2h0m.9-1.7h0m.8-4.6h0m.9-3.6h0m1.1-1.4h0m1.2 .9h0m1.1-2.8h0m.9 4.1h0m.8-.2h0m.9 1.1h0m1.2 6.1h0m1.2 3.5h0m1.1-.5h0m1.2-8h0m1.1 3h0m1.1 .3h0m1.1-.9h0m1.1 2h0m1.2 .4h0m1.1-.2h0m1.1-7.2h0m1.1 3h0m1.1-2.9h0m.9 .2h0m.9 4.3h0m.9 3.8h0m.9 5.5h0m.8 4.6h0m.9 2.6h0m1.2 7.5h0m1.2 9.2h0m1.1-8.6h0m1.2-9.1h0m.9-6.6h0m.9-3.1h0m.9-4.7h0m1.1 0h0m1.1 .9h0m1.1 .1h0m.9-1.4h0m.9 3.5h0m.9 2.1h0m1.1-4.1h0m1.2-4.9h0m1.1-3h0m1.1-4.6h0m1.1 1.1h0m1.1 9.9h0m1.2 7.6h0m1.1 4.5h0m1.1-4.7h0m1.2-10.8h0m1.1 2.1h0m1.1-2.5h0m1.1-1.3h0m1.1 2.4h0m1.2 8.8h0m1.1 3.4h0m.9-1.3h0m.8-5.4h0m.9-7.8h0m1.1-.2h0m1.2-1.4h0m1.1 1.7h0m1.1-1.9h0m1.1 0h0m1.1-.5h0m1.1 .6h0m1.1 3h0m1.1 6.1h0m1.1-1.3h0m1.2-2.6h0m1.1-.3h0m.9 5.6h0m.8 5.2h0m.9 5.2h0m1.2-7.2h0m1.2-8h0m1.1 1.7h0m1.1-1.7h0m1.1 1.3h0m1.1-3.5h0m1.1 1.1h0m1.1 2.3h0m1.1 3.7h0m1.2 3.1h0m1.1 .5h0m1.1-1.6h0m1.1-7.4h0m1.1-2.5h0m1.1-6h0m1.1-4.6h0m1.1-1h0m1.1 3.7h0m1.2 4.5h0m1.1 5h0m1.1 3.9h0m1.1 6h0m1.1 1.7h0m.8 4.1h0m.9-.8h0m.9-5.2h0m.8-6.3h0m.9-5.6h0m1.1-1.3h0m1.2 2.4h0m1.1-5h0m1.1-.4h0m1.1 4.9h0m1.1 4.9h0m1.1-1.5h0m1.1 4.4h0m1.1 3.7h0m1.1-2.3h0m1.2-2h0m1.1-1.2h0m1.1 0h0m1.1-1.4h0m1.1 3.7h0m1 .6h0m1 3.7h0m1-1.8h0m1 .2h0m1-3.6h0m1 .2h0m1-1.1h0m1 3.7h0m1.1-3.1h0m1.1-2.4h0m1-1.2h0m1.1 1.4h0m1.1 .2h0m1.1 2h0m1.1-1.7h0m1.1 .2h0m1 5.4h0m1 1.1h0m1 5.4h0m1 1.4h0m1.1-4.7h0m1.1-4.6h0m1.1-.6h0m1.1-1.9h0m1.1-3.1h0m1.1 0h0m1.1 3.9h0m1.2 .9h0m1.1 1.8h0m1.1-5.4h0m1.1-4.2h0m1.1-3.8h0m1.1 .9h0m1.1-5h0m1.1 2.2h0m1 5.4h0m1-1.5h0m1-1.8h0m1 1.4h0m1.1 2.8h0m1.1-4.7h0m1.1-.5h0m1.1-.8h0m1.1 4.1h0m1 2.8h0m1.1-1.1h0m1.1 5.2h0m1 .8h0m1-2.5h0m1-2.3h0m1-4.5h0m1.1 .8h0m1.1-3.5h0m1.1-.5h0m1.1 3h0m1.2 1.7h0m1.1 .9h0m.9 4.6h0m.8 2.6h0m.9 1.8h0m1.1-2.4h0m1.2 .5h0m1.1-2.5h0m1.1-6.9h0m1.2-4.2h0m1.1 .3h0m1.1-2h0m1.1-3.9h0m1.1-.3h0m1.2 1.4h0m1.1-.4h0m1.1-.2h0m1.2-2.4h0m1.1 3.6h0m1.1 .7h0m1.1 4.1h0m1.1-2.3h0m1.2 .4h0m1.1-1.8h0m1.1 1.7h0m1.1 1.6h0m1.1 1.4h0m1.1-1h0m1.1 .5h0m1.1 1.5h0m1.1 4.4h0m1.2-.7h0m1.1 2.3h0m1.1-3h0m1.1-.1h0m1.1-.7h0m1.1-1.2h0m1.1 .3h0m1.1-4.9h0m1.1 .3h0m1.2 2.6h0m1.1-2h0m1.1 4.1h0m1.1 2.8h0m1.1-.8h0m.9 .4h0m.9 3.9h0m.9-1.4h0m.9 .1h0m.8-2.4h0m.9-1.6h0m1.2-4h0m1.2-4h0m1.1 2.9h0m1.1-.9h0m1.1-4.1h0m1.2 2.2h0m1.1 4.6h0m.9 2.4h0m.9-.7h0m.9 .7h0m1.2-5.4h0m1.1-3.2h0m1-6.4h0m1-3.3h0m1.2 11h0m1.2 6.4h0m.8 6.9h0m.8 1h0M2747.3 1238.4h0m.9-2.3h0m.9-.1h0m.9-1.6h0m.9 1.8h0m.9 3.2h0m.9 4.5h0m1.1 5.7h0m1.2 4.1h0m1.1-3h0m1.1-4.8h0m1.1-1.6h0m1.1 2.6h0m1.2-1.9h0m1.1-1.3h0m1.1 5.1h0m1.1-.3h0m1.1-.8h0m1.1-2.6h0m1.1-4h0m1.1-2.5h0m1.2-1.8h0m1.2-5.5h0m.9 4h0m.8 .6h0m.9 7.1h0m.9 .2h0m.9 1.9h0m.9 4.9h0m1.1-4.4h0m1.1-3h0m1.1-3.4h0m1.1 1h0m1.2 4.8h0m1.1 2.4h0m1.1-.6h0m1.1 1.6h0m1.1 1.1h0m1.2 7.5h0m1.1 8.3h0m1.2-10.5h0m1.2-3.9h0m1.1 2.3h0m1.1-2.4h0m1.1-2.9h0m1.1 2.1h0m1.1-.4h0m1-.8h0m1.1 1.8h0m1.1 .5h0m1.2 4.1h0m1.1 .6h0m1.1 3.2h0m1.1-1.9h0m1.1-1.9h0m1.1 3.2h0m1.1 1h0m1.1 3.5h0m1.2 6.4h0m1.2 3.7h0m.9-5.2h0m.8-4.2h0m.9-.8h0m1.1 4.3h0m1.2 4.8h0m1.1-1h0m.9-2.8h0m.8-5.8h0m.9-2.8h0m1.2 .7h0m1.2-3h0m1.1 9.9h0m1.2 14.6h0m.9-1.8h0m.9-3.8h0m.9-5h0m.9-4.6h0m.8 2.2h0m.9-5.8h0m1.2 13h0m1.2 9.5h0m.8 2.5h0m.8 7.7h0m.9-14.9h0m.8-10h0m1.1-.2h0m1.1-3.4h0m1.1-4.4h0m1.1-2.4h0m1.2-1.5h0m1.1 4.5h0m1.1 6h0m1.1 3.5h0m1.1-3.6h0m1.1 3.3h0m1.1 9.1h0m1.1 5.5h0m1.1-3h0m1.2-3.6h0m1.1-3.3h0m1.1-.1h0m1.1-2.3h0m1.1 .9h0m1.1 1.8h0m1.1 1.5h0m1.1-.6h0m1.1-.3h0m1.2-1.6h0m1.1 2.3h0m1.1-1.2h0m1.1 1h0m1.1 4h0m1.1-5.3h0m1.1-4h0m1.1-4.8h0m1.1 3.5h0m1.2 .4h0m1.1 2.5h0m1.1-.5h0m1.1-1.3h0m1.1-1.2h0m1.2 5.5h0m1.1 3.2h0m.9-6.7h0m.9-2h0m.9-5.5h0m1.1 9.4h0m1.1-3.2h0m1.1 .4h0m1.1-4.3h0m1.2-1h0m1.1 2.1h0m1.1-.2h0m1.1 3.3h0m1.1 2.7h0m.9-3.4h0m.9-2.9h0m.9-5.6h0m1.1 3.6h0m1.1-2.2h0m1.1 1.2h0m1.1-4.7h0m1.1 1.5h0m1.1-2.9h0m1-1.4h0m1-2.2h0m1 1.2h0" stroke="#1c8c0a" stroke-width="6.4" fill="none" stroke-linecap="round"/>
<path d="M425.0 1897.5l.8 5.8l.9 7.2l.9 .8l.8 .9l.9 1.9l1.4-13.2l.9 2.4l.8 2.6l.9 3.3l.9 5l.9 4.6l.9 4.8l1.2 4.5l1.1 5.4l1.2-9.3l1.2-7l1-5.7l1-7.4l1.1 3.2l1.2 1.9l.8-9.1l.9-9l.9-9.1l.8-6.1l.9-8.2l1.2-8.8l1.2-9.6l.8-5.4l.8-4.2l.9 6.1l.8 8.9l1.2 .6l1.1 .4l1-21.3l1-21.4l1.1-.8l1.2 .1l1.1 1.6l1.1 .8l1.1-.4l1.1 .7l1.1 0l1.1-.1l1.1-1l1.1 3.4l1.2 3.3l1.1 2.1l1.1 4l1.1 3l1.1 3.4l1.1-.4l1.1-.6l1.1-.1l1.2-1.4l1.2-.5l1.1 4.4l1.2 4.8M485.0 1862.6l.8 1l.9 3l.9-2.6l.8-3.5l.9-4.2l1.2-4.2l1.2-4.9l1.1-4l1.2-.7l1.1-1.4l1.1 2.5l1.1 .3l.9 4.5l.9 4.4l.9 5.8l.9 5.6l.9 3.5l.9 6.5l1 8.2l1 9.1l1-6.1l1-8.3l.9-.3l.8-.4l.9-.5l1.4 10.3l1.3 22M531.7 2023.2l.8 19.5l.8 15.6l1 .5l1-61.7l1-1.3l1-.6l1 .5l1.2 .9l1.2 1.3l.9 3.1l.8 3.5l.9 2.8l.9-3.8l.9-2.8l.9-3.7l1.2-2.7l1.1-1.9l1.2 .4l1.2 .4l1 9.8l1 8.8l1.3 24.1l1 24.5l.8-17.1l.9-17.1l.9-1.7l.8-.6l.9-1.9l1.1 .7l1.2 1l1.1-.4l1.1 3.8l1.2 7.1l.8 13.9l.9 15.2l.8-8.8l.8-8.7l1.2 .3l1.2 2.2l.9 5.7l.8 4.6l.9 4.7l1 3l1 1.9l1-9.4l1-7.8l.9 1.6l.9 0l.9 1.2l.9 .6l.9-.8l.9-1l1.1-3.4l1.1-3.4l1.1-2.5l1.1-2.3l1.1-4l1.1-2.5l1-2l1-.5l1-1.1l1-.2l1.1-3.6l1.2-4.1l1.1 .4l1.1-3.5l1.1-3.1l1.1-5.5l1.1 .7l1.1 .7l1.1 .6l1.1-5.9l1.2-5.9l1.1-5.7l.9-3.5l.8-5.9l.9-5.9l1.2-5.7l1.2-7.2l1.1-.7l1.1-2.3l1.1-2.6l1.1 .8l1.1-1.1l1.1-1.5M621.3 1956.0l.7-.3M626.0 1931.2l1.3-8.2l.9 .4l.9 3.4l.9 2.5l.9-3.7l.9-2.5l.9-1.6l1.1-4.7l1.1-3.8l1.1-2.2l1-.4l1-1.2l1-1l1-2.6l1.1-4l1.1-4.5l1.1-3.7l1.1-10.1l1.2-8.4l1.1-8.8l.9 6l.8 8l.9 5.4l1.2 10.3l1.2 11.7l1.1 2.3l1.1 3.8l1.1 3.9l1.1 .8l1.1 2.8l1.1-.5l1.1-4.6l1.2-2.8l1.1-4.3l1.1 4.7l1.2 5.3l.9-7.2l.9-7.3l.9-5.9l.9-2.4l.8-.5l.9-.8l1.2 8.5l1.2 8.4l.8-7.1l.8-7.8l.9-14.7l.8-13.2l.8 18.4l.9 20.1l.9 7l.8 6.8l.9 6.9l1.2 .8l1.2 .4l1.1-10.8l1.2-11.5l1-20.7l1-20.1l1.3-35.5l1-11.9l1-11l1.2-14.1l1.2-14l.8-9.6l.8-9.2l.9-3.9l.9-4.7l.9-4.1l.8-4.6l.9-1.7l.8 8l.8 7.4l1.2-2l1.2-1.4l.8 6.8l.8 5.9l.9 7.2l.9 6.2l.9 6.9l1.2 8.7l1.1 8.2l1.1 3.5l1.2 2l1.1 1.6l1.1 3.4l1.2 1.6l.9-2.3l.9-3.5l.9-3.3l.9 5.4l.8 6.6l.9 4.9l1.1 4.3l1.2 6l1.1 5l1.1 3.6l1.1 4.4l1.1 5l1.2-1.2l1.1-.8l1.2 6.9l1.2 7.6l.9 1.4l.8 2.6l.9 2.7l1.1-1.1l1.2-2.3l1.1-1.1l.9 1.4l.8 .3l.9-.7l1.1 3.9l1.2 5l1.1 2.9l1.1 7.5l1.2 9l1.2 9.3l1.1 9.4l.9 9.8l.9 10.7l.9 7.4l.9-.3l.9-.7l.9 0l1.1 3l1.1 3.9l1.1 3.5l1 1.8l1 1.2l1 1.3l1 2l1 4.1l1 3.4l1 2.8l1 1.9l1.1-2.2l1.1-1.4l1.1-1.7l1.1 2.5l1.1 1.8l1.1 1.8l1.1 1.7l1 .8l1 .5l1 .7l1 1.3l1 1.8l.9 5.4l.8 3.7l.9 4.1l1.4 30.2l1.3 16.8l1-7.2l1-7.7l1 6.8l1 6.4l1-13l1-13.4l1 12.5l1 11.6l.9-4.4l.9-2.6l.9-2.8l1.1-1l1.2-1.1M988.3 1847.7l1.1-2.1l1.2 .7l1.1-1.6l1.1-1.8l1.1-3l1.1-2l1.1-.5l1.1-2l1.1-.4l1.1 2.8l1.2 .9l1.1 2.2l1.1 .8l1.1 3.1l1.1 1.5l1.1 4.9l1.1 4.9l1.1 3.4l1.1 6.3l1.2 5.6l1.1 6.8l1.1 .6l1.1 .4l1.1 1.5l1.2 5.2l1.1 4.2l1 11.8l1 13.2l1.2 8.2l1.2 6.5l.8-7.4l.8-6.1l.9 9.4l.8 10.8l1.2-3.5l1.1-3.3l.9 7.5l.9 8.3l.9 8.3l.9-3.1l.9-3.1l.9-4.3l1.1 2.8l1.1 .3l1.1 3.4l1.1 .4l1.1-.2l1.1 1.8l1.2 10.3l1.2 10l1.1-6.7l1.2-6l.9 .2l.9-.4l.9 .2l1.1 5.3l1.1 3.7l1.1 3.9l1.1-3.8l1.1-3l1.1-3.4l1.1-1.5l1.2-.2l1.1-.5l.9 3.4l.8 4.7l.9 4.3l1.2 4.8l1.2 4.9l1.1 0l1.1-.8l1.1 .2l1.2 3.1l1.1 4.2l1 8.2l1 7.4l1.2 4.6l1.2 6.1l1 16.4l1.3-12.9l1.1-.2l1.1-1.2l1.1 .9l.9 1.5l.9 1.2l.9 2.1l1.2 7.7l1.1 6.9l1 7.1l1 8l.9-4.8l.8-6.6l1-1.8l1-3.5l1-2l1-1.3l1-.5l1-2.1l1-1.7l1-1.4l1-1l1-2.3l1-.7l1-1.1l1-.1l1-.4l1-5.1l1-4.6l1-3.9l1-4.5l1.1-.3l1.1-1.6l1-1.3l1.1 .4l1.1-1.3l1.1-2l1.1-.4l1.1-.6l1-3.1l1-2.4l1-2.9l1-2.1l1-1l1-1.3l1-2.8l1-4.6l1.1-1.4l1.1-.6l1.1-.8l1.1 2.8l1.1 1.9l1 .9l1.1 2.9l1.1 3.2l1.2 1.5l1.1 3.4l1.1-1.6l1-.6l1.1-.8l1.1-1.1l1 .8l1 0l1 2.9l1 .2l1 2l1 1.3l1 .4l1 1.7l1.1-1.7l1.1-2.1l1.1-1.3l.9-7.5l.9-8.2l.9-7l.9-6.1l.9-4.3l.9-2.5l1.1-4l1.1-3.1l1.1-4.4l1.2 5.1l1.1 5.7l1.1-1.5l1.2-1.5l1.1-2.2l1.1-2.4l1.1-2.6l1.1-1.9l1.1-1.6l1.1-1.6l1.1-2.1l1.1-1.8l1.2-1.5l1.1-1.7l1.1-6.8l1.1-8.2l1.1-7.5l1.1-3.6l1.1-2.7l1.1-4.1l1.2-11.4l1.2-10.6l1-14.7l1-15.8l.8-12.3l.8-14l.9-2l.8-.6l1.2 8.8l1.1 7.5l1.2 6.6l1.2 4l1.1 .6l1.1 .7l1.1 1.1l.9 .8l.9-1.7l.9-1.7l.9-3.5l.8-5.5l.9-2.8l1.4-37.8l1-19.5l1-19.1l.8-11.8l.8-13.9l1.2 5.3l1.2 5.9l.9 7.3l.8 6.2l.9 5.2l1.2 13.1l1.2 11.2l1.1-3.4l1.2-4.1l.9-4.4l.9-3.5l.9-5.6l.9-6.4l.8-6.5l.9-7.3l1-13l1-12.7l.9-1.2l.9-.3l.9 1l.9 1.3l.9 .8l.9 2.5l.9 2.1l.8 .9l.9 2l1.2 14l1.2 13.4l1.1 4.1l1.2 4.9l.9 7.1l.9 5.4l.9 5.7l.9 7.4l.8 6.4l.9 8.6l1-.2l1 .8l1 1.2l1 2.1l1 .4l1 .1l1 1.1l1 1.3l1.1 1.5l1.1 1.6l1.1 1.2l1.1 .3l1.1 2.2l1.1 2.1l1.1 .8l1.1 4.9l1.1 4.9l1.1 3l1.1 3.6l1.1 2.7l1.1 1.2l1.1 3.5l1 2.3l1 3.1l1 2.3l1 2.8l1.1 2.6l1.1 2.2l1.1 1.9l1.1 2.3l1.1 1.6l1.1 2.5l.9-1.2l.8-2.6l.8 12.4l.9 11.3l.8 13.3l.8 14.3l1.2 7.7l1.2 7.3l.9 3.2l.8 2.8l.9 3l.9 3.2l.9 4.9l.9 5.3l1.2 6.2l1.1 5.8l1.1-2.4l1.2-.4l1.1-3.2l1.1 .8l1.1 .6l1.1 .6l1.1 4.6l1.1 4.6l1.1 4.2l1.2 8.5l1.2 7.5l.8 16.4l.8 14.3l1 81.5l1-24.9l1.4-53.4l.9 1l.8 1.6l.9 1l1.2 5.5l1.2 4.3l1.1-2.2l1.1-3.7l1.1-2.2l1.1 1.9l1.1 1.9l1.1 1.2l1.1 1.4l1.2 .4l1.1 1.5l1 10.4l1.1-7.1l1.2-5.1l1.1 2.2l1.1 1.5l1.1 1.6l1.1-1.7l1.1 0l1.1 1.1l1.1 .1l1.1 .7l1.1 2.2l1.1 1.7l1.1 1.7l1.1 .9l1.1-.4l1.2 1.5l1.2 2.5l.9-3.7l.8-.5l.9-1.5l1-.3l1-1.5l1 .5l1 1l1.1-1.7l1.1-2.5l1.1 1.2l1.1-1.2l1.1-.3l1-1.4l1.1-2.4l1.1-1.4l1-.8l1-.3l1-1.5l1-.2l1-.3l1-.6l1 .3l1-2l1.1 1.5l1.1 1.5l1.1 1.3l1.1-1.4l1.1-1.1l1.1-1.7l1.1-1.4l1.1-7.2l1.2-8.8l1.1-4.6l1.1-5.4l1.1-4.8l1.1-5l1.2-5.3l1.1-5l1.1-2l1.1-1.9l1.1-1.9l1.1 1.6l1.1 1.8l1.1 .2l1-11.2l1-10.8l1.2-8l1.2-9.5l1.1 3.3l1.1 4.5l1.1 2.2l1.1 .4l1.1 1.6l1 1.7l1.1 1.9l1-.3l1-1l1-.3l1-2.7l1-4.1l1-2l1-3.5l1-2.8l1.1-.6l1.1-1.5l1.1-1.6l1.1-.2l1.1-6.8l1.2-8.1l.9-5.7l.9-4.3l.9-4.7l.9 .6l.8 .7l.9 .6l1.2 9.7l1.2 9.5l1.1-1.5l1.2-1.6l1.1-6l1.1-4.8l1.1-3.9l1.1-8.6l1.2-6.6l1.1-6.1l.9-7l.8-5.5l.9-8.7l.9-1.8l.9-2.1l.9-1.4l1.2 4.3l1.1 6.3l.9 5.6l.8 4.5l.9-7.4l.9-7.2l.9-7.4l1.1-2.8l1.1-.8l1.1-2.8l1.1 2.7l1.1 4.2l1.1 4.5l.9-17l.8-17.7l.8-18.5l.9-18.6l.8-16.9l.8-16.2l.9-6.5l.8-6.3l1.2 6.2l1.1 5.3l1.2-.5l1.2 0l.9-2.1l.8-2.8l.9-2.7l.9 3.7l.9 2.9l.9 1l1.2 14.1l1.1 12.4l.9 12.6l.8 12.8l.8 8.9l.9 8.6l1.1-10.5l1.2-11.2l1 9.4l1 8l1.2-6l1.1-6.8l.9-11.8l.8-10.7l.8-9.8l.9-9.3l1.1-2.1l1.1-.6l1.1 .4l1.2 6.2l1.1 3.8l.9 2.5l.9 2.2l.9 3.1l.9-1.3l.9-1.7l.9 0l1.1 2.6l1.1 2.6l1.1 2.9l1.2 5.7l1.1 5.9l1.1 3.8l1.2 5.8l1.1 4.7l1.1 9.2l1.2 8.4l.9 6.1l.9 5.4l.9 5l.9 1l.8 .3l.9 .1l1.2-2.4l1.2-2.2l1.1 6.3l1.2 7.4l.9 6.6l.9 6.5l.9 7l1.1 6.4l1.1 5l1.1 5.1l1.1 5.2l1.1 6.8l1.1 6.2l.9 7.1l.9 5.6l.9 6.5l1-1.7l1 .1l1-.4l1-1.8l1.1-.6l1.1-.3l1.1-1.3l.9 3.8l.9 3.3l.9 4.8l1.2 4.6l1.1 4.7l1.1-1.1l1.2-.8l1.1-1l.8 7.9l.8 6.2l.9 3.1l.9 2.8l.9 3.6l1.2 1.8l1.1 5.4l.9 2.2l.8 3.4M1654.3 2002.5l.9-6.3l.8-7.6l1.3-18.8l1-9.8l1-9.5l1.4-16.8l1 3.8l1 2.5l1.1-3.7l1.2-4.5l1.1-.1l1.1-1.3l1.1 .7M1746.7 1807.3l.8 4.6l.8 5.9l1.1 3.7l1.2 4.5l1.1 4.4l1.1 2.2l1.1 1.2l1.1 1.7l1 1.4l1-.7l1 1l1 3.1l1 .4l1.1 5.2l1.1 3.7l1.1 5.6l1.1 4.4l1.2 6l1.1 3.6l1.1 2.1l1.1 3.7l1.1 3.6l.9 4.2l.9 3.8l.9 2.8l1.1 7.8l1.2 6.7l.8 3.3l.9 4.6l.9-2.4l.8-2.5l.9-2.2l1.1 .8l1.2 1.1l1.1 .7l1.1 2l1.1 0l1.1 .4l.8 4.2l.9 4.7l.6 20.8l1.2 1.9l1.2 1.9l.9 3.9l.8 3.3l.9 3.7l.9 3.7l.9 4.4l.9 4.2l1.3 16.4l1 0l1 .3l1.4 16.8l1.3 32.9l1.3 44.3l1.4-39.6l1.3 40.4l1.3 30.4l1.4 19.6l1.3-43.4l1.3-52l1 10.2l1 10.2l.9-2.2l.9-3.1l.9-3.8l1.1-2.9l1.1-2.2l1.1-1.9l1.1 3.6l1.2 1l1.1-.8l1.1 2.3l1.1 1.4l1.1 4.1l1.1-3.6l1.1-2.5l1.1-2.7l1-1.5l1 0l1-2.2l1-1l1 .1l1 .4l1-.6l1-2.2l1.1-.8l1.2-2.3l1.1-.6l1.1 3.3l1.1 2.5l1.1 3.9l1.1-.5l1.1 0l1-1.3l1.1-1.1l1.1-.3l1.2 .9l1.1-.1l1.1-.7l1 1.5l1.1-.1l1.1 .6l1.1-1.3l1.1 .3l1.1-1l1.1-2.5l1.2-2.3l1.1-3.2l1.1-1.7l1.1-2.2l1.1-.9l1-.5l1 1.2l1 2l1-.5l1-1l1-.1l1 .5l1-.5l1.1 .4l1.1-.8l1-.3l1.1 .1l1.1-2.3l1.2-.5l1.1-1.7l.8-5.3l.8-5.9l1.1-4.3l1.2-4.5l1.1-1.6l1.1-3.3l1.1-3l1.1-4.3l1.1-1l1.1-.3l1.1-2.3l1.1-.3l1.2-1.5l1.1-.8l1.1-2.6l1.1-3.4l1.1-4.5l1 .2l1 .8l1-.2l1 .8l1.1-1.9l1.1-.2l1.1-3.9l1.1-.4l1.1 .2l1.1-1.1l1.1-2.2l1.1-4.5l1.1-3.3l1.1-3.8l.8-11.1l.9-9l.8-8.5l.8-8.1l.9-6.4l.8-8.4l.9-1.2l.9-.5l.9 .1l1.1 3.3l1.2 3.1l1.2 4.8l1.1 8.3l.9 4.3l.9 4.1l.9 4.9l1.1 1.6l1.1 3.6l1.1 1.2l.9-2.9l.9-4.6l.9-4.3l.8-23.4l.9-24.6l1-27.9l1.3-22.4l.8 8.5l.9 8.8l.8 16l.8 13.7l.9 7.7l.9 8.8l.9 11.3l1.2 9.5l1.1 8.5l1.2 10.7l1.2 13.1l.9 2.9l.8 3.7l.9 3.4l1.1-2.6l1.2-2.8l1.1-2.3l.9 .4l.8 0l.9 .1l1.2-6.2l1.2-5.9l1.1 4l1.2 4.4l1.1 .7l1.1 .2l1.1 2.2l1.1 .2l1.2-1.1l1.1-1.1l1-23.6l1-24.5l1.1-26.5l1.2-26.7l.8-20.2l.9-18.3l.8-18.7l.8-18.3l1-5.2l1.4 12l1.3 32.2l1.3 35.6l.9 15l.8 15.1l1.2 9.8l1.1 9.3l1-11.9l1-10l1.4-27.8l1 5.9l1 3.9l1.1-.5l1.1 1.7l1.1-.6l1.2-3.1l1.1-2.4l1.2-7.3l1.2-6.7l1 5.7l1 7.3l.8 11.7l.8 10.3l.9-10.3l.8-9.3l1.2-5.8l1.1-6.8l1.2-4.9l1.2-5.7l1 6.8l1 6.9l1.1 4.1l1.1 3l1.1 2.5l1.1 3.5l1.1-.3l1.1 1.1l1.2 5.1l1.2 7.2l.8 14l.8 16.3l.9 5.1l.9 5.8l.9 5.7l1.2 2.4l1.1 1.6l1.2 9.8l1.2 9.3l1.3 19.8l1-5.1l1-4.6l.9-1l.9-.7l.9-.7l.9 .9l.8 1.2l.9 .5l1.4 22.7l1.3 26.4l1-3l1-1.7l.9-1.8l.9-2.3l.9-1.5l.9 2.7l.8 2.6l.9 3.5l1.4 19.9l1 26.3l1 55.1l1.3-47.2l1 3.6l1 4.1l1.2 7.7l1.1 9l1.2-5.6l1.2-8l1.1 .8l1.1 .3l1.1 0l1.1 .3l1.1 .8l1-1.6l1.1-.5l1.1 1.7l1.2 3.7l1.1 1.4l1.1-5.8l1.1-5.3l1.1-4.2l1.1-3.5l1.1-2.2l1.1-2.9l1.2 2.8l1.2 2.5l.9 4.3l.8 3.9l.9 3.4l.9-1.1l.9 .7l.9-.8l1.2-8.7l1.1-7.1l1.2-1.7l1.2-2.2l1.1-1.4l1.1 .5l1.1 .2l1 7.1l1 6.2l1.3 32.9l1-7.3l1-7l1.1 .4l1.2 .2l1.1-.1l1.1 4.9l1.2 5.2l1.2 .7l1.1 2.7l.9 .9l.9 1.8l.9 1.8l.9-1.4l.9-4l.9-3.7l1 .2l1-1.4l1-1.2l1-1.1l1-1.1l1-1.6l1-1l1-.8l1-.9l1-2.3l1-1.2l1-1.6l1-1.7l1-1.7l1-1.6l1-1l1-.1l1-.4l1-.8l1.1-3.3l1-2.6l1.1-3.3l1.1-2.2l1-2.5l1-1.9l1-3.3l1-3.4l1-.6l1-2.8l1-.3l1-2.5l1-3.1l1-.8l1 .2l1 0l1-2.6l1 .4l1-1.4l1-.7l1-.1l1 .2l1-1.9l1.1-4.2l1.1-3.2l1.1-2.7l1.1 3l1.1 2.9l1.1 1.4l1.1 1.7l1-3.9l1-2.9l1-3.3l1-1.5l.9-1.9l.8-.9l.9-1.9l1.1 2.9l1.2 3.7l1.1 3.9l.9 4.3l.8 4.7l.9 4.4l1-6.9l1-5.5l1.1-.6l1.2 .9l1.1-1l.9 2.2l.8 4l.9 2.4l1.1-4l1.2-1.6l1.1-3.1l1.1 3.4l1.1 .3l1.1 1.3l1.1-2.2l1.1-3.8l1.1-1.8l1.1-2.4l1.2-4.3l1.1-5.2l.9-5.4l.8-6.5l.9-5.8l.9-11.3l.8-11.8l.8-16l.9-13.9l1.3-24.3l1-6.1l1-5.7l1.2-11.3l1.1-10l1.2 4l1.2 3.2l1 9.7l1 9.7l1.3-46.8l1-20.1l1-19.7l1.3-26.4l1.4-3.5l1.3 28.5l.8 17.9l.9 18l.8 16.1l.8 15.4l.9 4l.9 2.5l.9 5.8l1-13.2l1-11.4l1.3-10.3l1.4 23.5l1 13.7l1 13.3l.8 6.1l.8 6.1l.9-13.6l.8-11.5l.8-14.5l.9-16.4l.8-16.8l.8-16.3l.9-15.4l.8-15.2l1.2 .3l1.1 1.8l.9-6.6l.9-5.9l.9-7.8l1.2-.8l1.1-1.6l1.1 2.6l1.2 3.1l1.1 4.6l1.1-1.8l1-.1l1.1-1.8l1.1-1.1l1 0l1 .8l1 .4l1 2.6l1 .6l1-1.1l1-1.8l1-1.2l1.1-1.1l1.1 .1l1.1-.1l.9 5.2l.9 4.4l.9 3.6l.9 5.3l.9 4.5l.9 5.6l1.1 4.7l1.2 4.3l1.2 11.7l1.1 10.1l.9 4.4l.9 5.6l.9 3.8l.9 3.4l.9 3.2l.9 4.1l1.1 3.3l1.1 3l1.1 3.3l1-1.3l1 .3l1-2.2l1 .2l.9 2.9l.9 .6l.9 1.5l1.1 6l1.1 5.1l1.1 2.9l1.1 3.5l1.1 2.7l1.1 3.9l.9 7.2l.8 5.9l1.2-4.6l1.1-5.4l.9 1.4l.9 1.3l.9 .8l1.2 11.7l1.1 10.6l1.1-.2l1.2-.4l1.1-.3l1.1-3l1.1-1.6l1.1-3.3l1.1 1.5l1.1 1.4l1.1 .9l1.2 2l1.2 4.1l1 15.4l1 13.9l1.3 20.2l1 7.2l1 6.3l1.2-7.3l1.1-8.9l1.1 1.7l1.1-2l1.1-1.4l1.1-.4l1 .2l1 .8l1-1.3l1 .1l1.1 .6l1.1-.7l1.1 .1l1.1 3l1.1 2l1.1 3.2l1.1-1.2l1.2-2l1.1-1.8l1-.1l1 1.2l1-.6l1-1.1l.9 1.6l.8 1.9l.9 .1l1 55.4l.9-14.2l.8-13.4l1.2 .8l1.1 1l1.2 9.3l1.2 9.3l1-8l1-7.5l1.1 5l1.2 5.9l.8-5.4l.9-6.9l1-.6l1 1.1l1-.9l1-1l1.1-3.2l1-2l1.1-2.4l1.1-2.2l1.1-4.7l1.1-4l1.1-4.6l1-.6l1 .3l1 1.5l1 0l1-1.3l1-1.6l1-2.6l1-1.1l1-.9l1-1.5l1-.9l1-.7l1-1.4l1-2.4l1-1.5l1-2.9l1-2.8l1-4.5l1-3.7l1.1-.7l1.1-2.6l1.1-2.4l1.1-4.3l1.1-5.1l1.1-2.4l1.1-3.8l1.1 1.1l1.1 1l1.1 .8l1.1 2.4l1.1 2.1l1.1 3l1.1 1.9l1.1 2.3l1.1 3.2l1.1 1.9l1.2 4.6l1.1 6l1.2-9.1l1.2-8.8l1-14.5l1-14.8l1.3-22.3l.9 .7l.9 .5l.9 1.2l1 .7l1 1l1-1.1l1 1l1.1 0l1.1-.4l1.1 .3l.9 1.6l.9 3.3l.9 2.6l1.1-2.6l1.1-1l1.1-2.2l1.1-2.3l1.1-4.2l1.1-3.7l.9 4.4l.9 7.4l.9 4.6l1.2 12l1.1 10.5l.9 11.1l.8 8.5l.9 3.8l.9 6.1l.9 4.7l1.1-7.6l1.2-6.6l1.2-15.1l1.1-14.5l.9 6.2l.9 4.9l.9 4.8l1.1-4.9l1.1-6.2l1.1-5.7l1.1-1.1l1.2-.6l1.1-1.3l1.1 3.9l1.1 4.4l1.1 1.5l1.1 4.6l1.1 4.6l1.1 2.2l1.1-2.4l1.2-2.9l1.1-1.8l1.1-7.8l1.1-5.7l1.1-5l1.1-6l1.1-5.8l1.1-6.4l.9-3.4l.9-2.1l.9-4l1.2 3.8l1.1 2.3l1.1 4l1.2 3l1.1 3.9l1.1 2.5l1.1 1.9l1.1 3.4l1.2-7.8l1.1-5.7l.9-2.6l.9-.7l.9-.4l1-9.4l1-8.7l1.3-15.5l.9-4.3l.9-2.9l.9-5.4l1.1 3l1.1 2.2l1.1 1.9l1.1-2.7l1.2-.4l1.1-.2l1.1-11.1l1.2-10.6l.8-12.3l.9-11l.9 3.1l.8 1.9l.9 1.9l1.1 .4l1.2 1.7l1.1 1.2l1.1 2.3l1.1 .2l1.1 .6l1.2 8.4l1.1 9.3l1.2 4.3l1.2 5.8l1 3.8l1 4.3l1.1-1.1l1.2 .7M2540.7 1868.7l1 6.1l1 4l1.1 2.4l1.1 2.5l1.1 2.7l1.2 4.2l1.1 4l1 33.2l1.4-9.6l1-3.5l1-2.8l1.1 .9l1.1 1.2l1.1 3.3l1.1 2.9l1.1 2.8l1.1 2.9l1.1 3.7l1.2 3.7l1.1 2.6l1.1 3.2l1.1 2.7l1.1 4.6l1.1-.9l1.1-2.4l1.1 .2l1.2 5.5l1.2 4.8l1.1 10.4l1.2 10.6l.9-6.9l.9-5.1l.9-5.5l1.1-3.2l1.1-3.2l1.1-5.8l1.1-.8l1.1-.1l1.1-.1l1.1 .5l1.2 1.5l1.1 2.7l.9 3.4l.8 3.3l.9 5l1.2 5.1l1.2 4.7l1.1 6.1l1.2 6.5l1.3 26l.7 24.1l1-10.6l1-11.5l1 8.6l1 7.8l1 14.4l1 14.2l1-8.9l1-10l1-12.2l1-13.4l1.1 1.5l1.1 3.4l1.1 1.5l1-1.7l1-1.2l1-1.6l1-.9l1 2l1-.7l1-1.1l1 1.2l1-.7l1.1-.2l1.1-1.1l1.1-.5l1.1-.1l1 2.6l1 1.4l1 1.6l1 1.6l1-2.2l1-2.2l1-2.3l1-1.7l1.1-3.2l1-3l1.1-4.4l1.1-2l1.1-5l1.1-1.1l1.1-3.1l1.1-.3l1.1-.9l1.1-2l1.1-1.6l1-.5l1-1.8l1-2.7l1-.7l1-.2l1-1.7l1-1.5l1-.8l1.1 0l1.1 1l1.1-.3l.9 2.5l.9 2.8l.9 3.6l1.1-.7l1.1-1.8l1.1 .2l1.1-3.4l1.1 0l1.1-2l1.1-4.8l1.2-3.2l1.1-3l1.1-5l1.1-5l1.1-4.8l.9-5.5l.9-3.7l.9-6.9l1.1-7.4l1.2-8.8l1.1-2.1l1.1-2.6l1.1-3.1l1.2-1.4l1.2-1.9l.9 3.4l.8 3.2l.9 2.9l.9 8.4l.9 6.7l.9 6.4l1 1.8l1 2.7l1-6.7l1-7.6l.9 1.4l.9 3.1l.9-.1l1.1-7.4l1.2-6.2l1.2-2.8l1.1-4.4l.9 1.4l.9 1.5l.9 0l.8-6l.9-6.4l.8-11.9l.8-9.5l.9-9l.8-8.9l.8-.9l.9-.8l.8 12.4l.8 13.9l.9 15.4l.8 16.2l.8 7.5l.9 7.9l1.1 .8l1.2 1.6l.9-3.1l.9-2.2l.9-2.5l.9-3.9l.8-5.4l.9-4.9l1.2 5.7l1.2 3.7l1.1-7.7l1.2-9.3l.9-6.4l.9-5l.9-4.8l.8-.5l.8-2.6l.9-14.3l.8-14.3l1-64.9l1.3-62.6l.9 14l.8 15.5l1 31.8l1 30.7l1.2 15.9l1.1 14.9l.9 4.8l.8 5.7l.9-1.8l.9-2.7l.9-3.6l1.1-4.3l1.1-1.3l1.1-3.7l1.2 6.7l1.1 4.8l1.2-3.8l1.2-4.4l1-11.6l1-11.3l1.1-12.7l1.2-12.3l1.1-2.6l1.1-3.5l1.1-3.5l1.2-15.2l1.2-13.5l.9-6.6l.8-6l.9-5.3l.9 2.5l.8 .4l.8 4.5l.9 6.5l.8 14.9l.8 13.4l.9 14.7l.8 16.8l1.1 .1l1.1 3.3l1.1 1.1l1.1 5.3l1.2 6.4l1.1 4.2l1.1 1.7l1.1 1.8l1.1 1.1l1 .2l1 1.9l1 .7l1 1.6l1.1 1.2l1.1 4l1 2.7l1.1 2.7l1.1-.5l1.1-1.4l1.1-.3l1.1 1.5l1.1 2.5l1.1 3.3l1.1 4l1 3.8l1 2l1 2.8l1 2.4l1.1 5.2l1.1 2.6l1.1 4.6l1 3.9l1 2.5l1 2.7l1 4.3l1.1 2.4l1.1 1.2l1.1 1.2l1.1 2.6l1.1 1.5l1 1l1.1 1.3l1.1 1.8l1.1 2.8l1.1 2.9l1.1 1.4l1.2 5.2l1.2 5l1 37.1l1.3-17l.9-1.5l.9 .7l.9-1.2l.9 6l.8 5.2l.9 7.4l1.2 5.3l1.2 7.9l1.1-9l1.2-9.2l.9-4.7l.9-4.8l.9-4.3l1.1 .4l1.1-.2l1.1 .2l1.1 1.8l1.1 1.1l1.1 1.6l.9 7.1l.9 6.9l.9 3.9l1.2-3l1.1-4.3l1.1-3.7l1.2-4.3l1.1-3.7l1.1-.3l1 .4l1.1-1.4l1.1-.3l1-.2l1-1.2l1-.2l1 .8l1.1 4.8l1.1 3.9l1.1 6.2l1.1-.7l1.2-1.8l1.1-3l1.1 7l1.1 7.1l1.1 6.4l1-1.7l1-.8l1-.5l1 .1l1.1 3.4l1.1 3.4l1.1 3.1l1.1 .4l1.1 .2l1.1-1.1l1.1 1.9l1.1 2.5l1 .6l1.1 2.2l1.1 2.1l1.1 .2l1.1 1.1l1.1-.2l1.1-3.2l1.2-2.3l1.1-3.8l1-.7l1 1.2l1 .3l1-.1l1 0l1-.6l1-.9l1 .6l1 .4" stroke="#ad0303" stroke-width="3.5" fill="none" stroke-linejoin="round" stroke-linecap="round"/>
<path d="M425.0 1897.5h0m.8 5.8h0m.9 7.2h0m.9 .8h0m.8 .9h0m.9 1.9h0m1.4-13.2h0m.9 2.4h0m.8 2.6h0m.9 3.3h0m.9 5h0m.9 4.6h0m.9 4.8h0m1.2 4.5h0m1.1 5.4h0m1.2-9.3h0m1.2-7h0m1-5.7h0m1-7.4h0m1.1 3.2h0m1.2 1.9h0m.8-9.1h0m.9-9h0m.9-9.1h0m.8-6.1h0m.9-8.2h0m1.2-8.8h0m1.2-9.6h0m.8-5.4h0m.8-4.2h0m.9 6.1h0m.8 8.9h0m1.2 .6h0m1.1 .4h0m1-21.3h0m1-21.4h0m1.1-.8h0m1.2 .1h0m1.1 1.6h0m1.1 .8h0m1.1-.4h0m1.1 .7h0m1.1 0h0m1.1-.1h0m1.1-1h0m1.1 3.4h0m1.2 3.3h0m1.1 2.1h0m1.1 4h0m1.1 3h0m1.1 3.4h0m1.1-.4h0m1.1-.6h0m1.1-.1h0m1.2-1.4h0m1.2-.5h0m1.1 4.4h0m1.2 4.8h0M485.0 1862.6h0m.8 1h0m.9 3h0m.9-2.6h0m.8-3.5h0m.9-4.2h0m1.2-4.2h0m1.2-4.9h0m1.1-4h0m1.2-.7h0m1.1-1.4h0m1.1 2.5h0m1.1 .3h0m.9 4.5h0m.9 4.4h0m.9 5.8h0m.9 5.6h0m.9 3.5h0m.9 6.5h0m1 8.2h0m1 9.1h0m1-6.1h0m1-8.3h0m.9-.3h0m.8-.4h0m.9-.5h0m1.4 10.3h0m1.3 22h0M531.7 2023.2h0m.8 19.5h0m.8 15.6h0m1 .5h0m1-61.7h0m1-1.3h0m1-.6h0m1 .5h0m1.2 .9h0m1.2 1.3h0m.9 3.1h0m.8 3.5h0m.9 2.8h0m.9-3.8h0m.9-2.8h0m.9-3.7h0m1.2-2.7h0m1.1-1.9h0m1.2 .4h0m1.2 .4h0m1 9.8h0m1 8.8h0m1.3 24.1h0m1 24.5h0m.8-17.1h0m.9-17.1h0m.9-1.7h0m.8-.6h0m.9-1.9h0m1.1 .7h0m1.2 1h0m1.1-.4h0m1.1 3.8h0m1.2 7.1h0m.8 13.9h0m.9 15.2h0m.8-8.8h0m.8-8.7h0m1.2 .3h0m1.2 2.2h0m.9 5.7h0m.8 4.6h0m.9 4.7h0m1 3h0m1 1.9h0m1-9.4h0m1-7.8h0m.9 1.6h0m.9 0h0m.9 1.2h0m.9 .6h0m.9-.8h0m.9-1h0m1.1-3.4h0m1.1-3.4h0m1.1-2.5h0m1.1-2.3h0m1.1-4h0m1.1-2.5h0m1-2h0m1-.5h0m1-1.1h0m1-.2h0m1.1-3.6h0m1.2-4.1h0m1.1 .4h0m1.1-3.5h0m1.1-3.1h0m1.1-5.5h0m1.1 .7h0m1.1 .7h0m1.1 .6h0m1.1-5.9h0m1.2-5.9h0m1.1-5.7h0m.9-3.5h0m.8-5.9h0m.9-5.9h0m1.2-5.7h0m1.2-7.2h0m1.1-.7h0m1.1-2.3h0m1.1-2.6h0m1.1 .8h0m1.1-1.1h0m1.1-1.5h0M621.3 1956.0h0m.7-.3h0M626.0 1931.2h0m1.3-8.2h0m.9 .4h0m.9 3.4h0m.9 2.5h0m.9-3.7h0m.9-2.5h0m.9-1.6h0m1.1-4.7h0m1.1-3.8h0m1.1-2.2h0m1-.4h0m1-1.2h0m1-1h0m1-2.6h0m1.1-4h0m1.1-4.5h0m1.1-3.7h0m1.1-10.1h0m1.2-8.4h0m1.1-8.8h0m.9 6h0m.8 8h0m.9 5.4h0m1.2 10.3h0m1.2 11.7h0m1.1 2.3h0m1.1 3.8h0m1.1 3.9h0m1.1 .8h0m1.1 2.8h0m1.1-.5h0m1.1-4.6h0m1.2-2.8h0m1.1-4.3h0m1.1 4.7h0m1.2 5.3h0m.9-7.2h0m.9-7.3h0m.9-5.9h0m.9-2.4h0m.8-.5h0m.9-.8h0m1.2 8.5h0m1.2 8.4h0m.8-7.1h0m.8-7.8h0m.9-14.7h0m.8-13.2h0m.8 18.4h0m.9 20.1h0m.9 7h0m.8 6.8h0m.9 6.9h0m1.2 .8h0m1.2 .4h0m1.1-10.8h0m1.2-11.5h0m1-20.7h0m1-20.1h0m1.3-35.5h0m1-11.9h0m1-11h0m1.2-14.1h0m1.2-14h0m.8-9.6h0m.8-9.2h0m.9-3.9h0m.9-4.7h0m.9-4.1h0m.8-4.6h0m.9-1.7h0m.8 8h0m.8 7.4h0m1.2-2h0m1.2-1.4h0m.8 6.8h0m.8 5.9h0m.9 7.2h0m.9 6.2h0m.9 6.9h0m1.2 8.7h0m1.1 8.2h0m1.1 3.5h0m1.2 2h0m1.1 1.6h0m1.1 3.4h0m1.2 1.6h0m.9-2.3h0m.9-3.5h0m.9-3.3h0m.9 5.4h0m.8 6.6h0m.9 4.9h0m1.1 4.3h0m1.2 6h0m1.1 5h0m1.1 3.6h0m1.1 4.4h0m1.1 5h0m1.2-1.2h0m1.1-.8h0m1.2 6.9h0m1.2 7.6h0m.9 1.4h0m.8 2.6h0m.9 2.7h0m1.1-1.1h0m1.2-2.3h0m1.1-1.1h0m.9 1.4h0m.8 .3h0m.9-.7h0m1.1 3.9h0m1.2 5h0m1.1 2.9h0m1.1 7.5h0m1.2 9h0m1.2 9.3h0m1.1 9.4h0m.9 9.8h0m.9 10.7h0m.9 7.4h0m.9-.3h0m.9-.7h0m.9 0h0m1.1 3h0m1.1 3.9h0m1.1 3.5h0m1 1.8h0m1 1.2h0m1 1.3h0m1 2h0m1 4.1h0m1 3.4h0m1 2.8h0m1 1.9h0m1.1-2.2h0m1.1-1.4h0m1.1-1.7h0m1.1 2.5h0m1.1 1.8h0m1.1 1.8h0m1.1 1.7h0m1 .8h0m1 .5h0m1 .7h0m1 1.3h0m1 1.8h0m.9 5.4h0m.8 3.7h0m.9 4.1h0m1.4 30.2h0m1.3 16.8h0m1-7.2h0m1-7.7h0m1 6.8h0m1 6.4h0m1-13h0m1-13.4h0m1 12.5h0m1 11.6h0m.9-4.4h0m.9-2.6h0m.9-2.8h0m1.1-1h0m1.2-1.1h0M988.3 1847.7h0m1.1-2.1h0m1.2 .7h0m1.1-1.6h0m1.1-1.8h0m1.1-3h0m1.1-2h0m1.1-.5h0m1.1-2h0m1.1-.4h0m1.1 2.8h0m1.2 .9h0m1.1 2.2h0m1.1 .8h0m1.1 3.1h0m1.1 1.5h0m1.1 4.9h0m1.1 4.9h0m1.1 3.4h0m1.1 6.3h0m1.2 5.6h0m1.1 6.8h0m1.1 .6h0m1.1 .4h0m1.1 1.5h0m1.2 5.2h0m1.1 4.2h0m1 11.8h0m1 13.2h0m1.2 8.2h0m1.2 6.5h0m.8-7.4h0m.8-6.1h0m.9 9.4h0m.8 10.8h0m1.2-3.5h0m1.1-3.3h0m.9 7.5h0m.9 8.3h0m.9 8.3h0m.9-3.1h0m.9-3.1h0m.9-4.3h0m1.1 2.8h0m1.1 .3h0m1.1 3.4h0m1.1 .4h0m1.1-.2h0m1.1 1.8h0m1.2 10.3h0m1.2 10h0m1.1-6.7h0m1.2-6h0m.9 .2h0m.9-.4h0m.9 .2h0m1.1 5.3h0m1.1 3.7h0m1.1 3.9h0m1.1-3.8h0m1.1-3h0m1.1-3.4h0m1.1-1.5h0m1.2-.2h0m1.1-.5h0m.9 3.4h0m.8 4.7h0m.9 4.3h0m1.2 4.8h0m1.2 4.9h0m1.1 0h0m1.1-.8h0m1.1 .2h0m1.2 3.1h0m1.1 4.2h0m1 8.2h0m1 7.4h0m1.2 4.6h0m1.2 6.1h0m1 16.4h0m1.3-12.9h0m1.1-.2h0m1.1-1.2h0m1.1 .9h0m.9 1.5h0m.9 1.2h0m.9 2.1h0m1.2 7.7h0m1.1 6.9h0m1 7.1h0m1 8h0m.9-4.8h0m.8-6.6h0m1-1.8h0m1-3.5h0m1-2h0m1-1.3h0m1-.5h0m1-2.1h0m1-1.7h0m1-1.4h0m1-1h0m1-2.3h0m1-.7h0m1-1.1h0m1-.1h0m1-.4h0m1-5.1h0m1-4.6h0m1-3.9h0m1-4.5h0m1.1-.3h0m1.1-1.6h0m1-1.3h0m1.1 .4h0m1.1-1.3h0m1.1-2h0m1.1-.4h0m1.1-.6h0m1-3.1h0m1-2.4h0m1-2.9h0m1-2.1h0m1-1h0m1-1.3h0m1-2.8h0m1-4.6h0m1.1-1.4h0m1.1-.6h0m1.1-.8h0m1.1 2.8h0m1.1 1.9h0m1 .9h0m1.1 2.9h0m1.1 3.2h0m1.2 1.5h0m1.1 3.4h0m1.1-1.6h0m1-.6h0m1.1-.8h0m1.1-1.1h0m1 .8h0m1 0h0m1 2.9h0m1 .2h0m1 2h0m1 1.3h0m1 .4h0m1 1.7h0m1.1-1.7h0m1.1-2.1h0m1.1-1.3h0m.9-7.5h0m.9-8.2h0m.9-7h0m.9-6.1h0m.9-4.3h0m.9-2.5h0m1.1-4h0m1.1-3.1h0m1.1-4.4h0m1.2 5.1h0m1.1 5.7h0m1.1-1.5h0m1.2-1.5h0m1.1-2.2h0m1.1-2.4h0m1.1-2.6h0m1.1-1.9h0m1.1-1.6h0m1.1-1.6h0m1.1-2.1h0m1.1-1.8h0m1.2-1.5h0m1.1-1.7h0m1.1-6.8h0m1.1-8.2h0m1.1-7.5h0m1.1-3.6h0m1.1-2.7h0m1.1-4.1h0m1.2-11.4h0m1.2-10.6h0m1-14.7h0m1-15.8h0m.8-12.3h0m.8-14h0m.9-2h0m.8-.6h0m1.2 8.8h0m1.1 7.5h0m1.2 6.6h0m1.2 4h0m1.1 .6h0m1.1 .7h0m1.1 1.1h0m.9 .8h0m.9-1.7h0m.9-1.7h0m.9-3.5h0m.8-5.5h0m.9-2.8h0m1.4-37.8h0m1-19.5h0m1-19.1h0m.8-11.8h0m.8-13.9h0m1.2 5.3h0m1.2 5.9h0m.9 7.3h0m.8 6.2h0m.9 5.2h0m1.2 13.1h0m1.2 11.2h0m1.1-3.4h0m1.2-4.1h0m.9-4.4h0m.9-3.5h0m.9-5.6h0m.9-6.4h0m.8-6.5h0m.9-7.3h0m1-13h0m1-12.7h0m.9-1.2h0m.9-.3h0m.9 1h0m.9 1.3h0m.9 .8h0m.9 2.5h0m.9 2.1h0m.8 .9h0m.9 2h0m1.2 14h0m1.2 13.4h0m1.1 4.1h0m1.2 4.9h0m.9 7.1h0m.9 5.4h0m.9 5.7h0m.9 7.4h0m.8 6.4h0m.9 8.6h0m1-.2h0m1 .8h0m1 1.2h0m1 2.1h0m1 .4h0m1 .1h0m1 1.1h0m1 1.3h0m1.1 1.5h0m1.1 1.6h0m1.1 1.2h0m1.1 .3h0m1.1 2.2h0m1.1 2.1h0m1.1 .8h0m1.1 4.9h0m1.1 4.9h0m1.1 3h0m1.1 3.6h0m1.1 2.7h0m1.1 1.2h0m1.1 3.5h0m1 2.3h0m1 3.1h0m1 2.3h0m1 2.8h0m1.1 2.6h0m1.1 2.2h0m1.1 1.9h0m1.1 2.3h0m1.1 1.6h0m1.1 2.5h0m.9-1.2h0m.8-2.6h0m.8 12.4h0m.9 11.3h0m.8 13.3h0m.8 14.3h0m1.2 7.7h0m1.2 7.3h0m.9 3.2h0m.8 2.8h0m.9 3h0m.9 3.2h0m.9 4.9h0m.9 5.3h0m1.2 6.2h0m1.1 5.8h0m1.1-2.4h0m1.2-.4h0m1.1-3.2h0m1.1 .8h0m1.1 .6h0m1.1 .6h0m1.1 4.6h0m1.1 4.6h0m1.1 4.2h0m1.2 8.5h0m1.2 7.5h0m.8 16.4h0m.8 14.3h0m1 81.5h0m1-24.9h0m1.4-53.4h0m.9 1h0m.8 1.6h0m.9 1h0m1.2 5.5h0m1.2 4.3h0m1.1-2.2h0m1.1-3.7h0m1.1-2.2h0m1.1 1.9h0m1.1 1.9h0m1.1 1.2h0m1.1 1.4h0m1.2 .4h0m1.1 1.5h0m1 10.4h0m1.1-7.1h0m1.2-5.1h0m1.1 2.2h0m1.1 1.5h0m1.1 1.6h0m1.1-1.7h0m1.1 0h0m1.1 1.1h0m1.1 .1h0m1.1 .7h0m1.1 2.2h0m1.1 1.7h0m1.1 1.7h0m1.1 .9h0m1.1-.4h0m1.2 1.5h0m1.2 2.5h0m.9-3.7h0m.8-.5h0m.9-1.5h0m1-.3h0m1-1.5h0m1 .5h0m1 1h0m1.1-1.7h0m1.1-2.5h0m1.1 1.2h0m1.1-1.2h0m1.1-.3h0m1-1.4h0m1.1-2.4h0m1.1-1.4h0m1-.8h0m1-.3h0m1-1.5h0m1-.2h0m1-.3h0m1-.6h0m1 .3h0m1-2h0m1.1 1.5h0m1.1 1.5h0m1.1 1.3h0m1.1-1.4h0m1.1-1.1h0m1.1-1.7h0m1.1-1.4h0m1.1-7.2h0m1.2-8.8h0m1.1-4.6h0m1.1-5.4h0m1.1-4.8h0m1.1-5h0m1.2-5.3h0m1.1-5h0m1.1-2h0m1.1-1.9h0m1.1-1.9h0m1.1 1.6h0m1.1 1.8h0m1.1 .2h0m1-11.2h0m1-10.8h0m1.2-8h0m1.2-9.5h0m1.1 3.3h0m1.1 4.5h0m1.1 2.2h0m1.1 .4h0m1.1 1.6h0m1 1.7h0m1.1 1.9h0m1-.3h0m1-1h0m1-.3h0m1-2.7h0m1-4.1h0m1-2h0m1-3.5h0m1-2.8h0m1.1-.6h0m1.1-1.5h0m1.1-1.6h0m1.1-.2h0m1.1-6.8h0m1.2-8.1h0m.9-5.7h0m.9-4.3h0m.9-4.7h0m.9 .6h0m.8 .7h0m.9 .6h0m1.2 9.7h0m1.2 9.5h0m1.1-1.5h0m1.2-1.6h0m1.1-6h0m1.1-4.8h0m1.1-3.9h0m1.1-8.6h0m1.2-6.6h0m1.1-6.1h0m.9-7h0m.8-5.5h0m.9-8.7h0m.9-1.8h0m.9-2.1h0m.9-1.4h0m1.2 4.3h0m1.1 6.3h0m.9 5.6h0m.8 4.5h0m.9-7.4h0m.9-7.2h0m.9-7.4h0m1.1-2.8h0m1.1-.8h0m1.1-2.8h0m1.1 2.7h0m1.1 4.2h0m1.1 4.5h0m.9-17h0m.8-17.7h0m.8-18.5h0m.9-18.6h0m.8-16.9h0m.8-16.2h0m.9-6.5h0m.8-6.3h0m1.2 6.2h0m1.1 5.3h0m1.2-.5h0m1.2 0h0m.9-2.1h0m.8-2.8h0m.9-2.7h0m.9 3.7h0m.9 2.9h0m.9 1h0m1.2 14.1h0m1.1 12.4h0m.9 12.6h0m.8 12.8h0m.8 8.9h0m.9 8.6h0m1.1-10.5h0m1.2-11.2h0m1 9.4h0m1 8h0m1.2-6h0m1.1-6.8h0m.9-11.8h0m.8-10.7h0m.8-9.8h0m.9-9.3h0m1.1-2.1h0m1.1-.6h0m1.1 .4h0m1.2 6.2h0m1.1 3.8h0m.9 2.5h0m.9 2.2h0m.9 3.1h0m.9-1.3h0m.9-1.7h0m.9 0h0m1.1 2.6h0m1.1 2.6h0m1.1 2.9h0m1.2 5.7h0m1.1 5.9h0m1.1 3.8h0m1.2 5.8h0m1.1 4.7h0m1.1 9.2h0m1.2 8.4h0m.9 6.1h0m.9 5.4h0m.9 5h0m.9 1h0m.8 .3h0m.9 .1h0m1.2-2.4h0m1.2-2.2h0m1.1 6.3h0m1.2 7.4h0m.9 6.6h0m.9 6.5h0m.9 7h0m1.1 6.4h0m1.1 5h0m1.1 5.1h0m1.1 5.2h0m1.1 6.8h0m1.1 6.2h0m.9 7.1h0m.9 5.6h0m.9 6.5h0m1-1.7h0m1 .1h0m1-.4h0m1-1.8h0m1.1-.6h0m1.1-.3h0m1.1-1.3h0m.9 3.8h0m.9 3.3h0m.9 4.8h0m1.2 4.6h0m1.1 4.7h0m1.1-1.1h0m1.2-.8h0m1.1-1h0m.8 7.9h0m.8 6.2h0m.9 3.1h0m.9 2.8h0m.9 3.6h0m1.2 1.8h0m1.1 5.4h0m.9 2.2h0m.8 3.4h0M1654.3 2002.5h0m.9-6.3h0m.8-7.6h0m1.3-18.8h0m1-9.8h0m1-9.5h0m1.4-16.8h0m1 3.8h0m1 2.5h0m1.1-3.7h0m1.2-4.5h0m1.1-.1h0m1.1-1.3h0m1.1 .7h0M1746.7 1807.3h0m.8 4.6h0m.8 5.9h0m1.1 3.7h0m1.2 4.5h0m1.1 4.4h0m1.1 2.2h0m1.1 1.2h0m1.1 1.7h0m1 1.4h0m1-.7h0m1 1h0m1 3.1h0m1 .4h0m1.1 5.2h0m1.1 3.7h0m1.1 5.6h0m1.1 4.4h0m1.2 6h0m1.1 3.6h0m1.1 2.1h0m1.1 3.7h0m1.1 3.6h0m.9 4.2h0m.9 3.8h0m.9 2.8h0m1.1 7.8h0m1.2 6.7h0m.8 3.3h0m.9 4.6h0m.9-2.4h0m.8-2.5h0m.9-2.2h0m1.1 .8h0m1.2 1.1h0m1.1 .7h0m1.1 2h0m1.1 0h0m1.1 .4h0m.8 4.2h0m.9 4.7h0m.6 20.8h0m1.2 1.9h0m1.2 1.9h0m.9 3.9h0m.8 3.3h0m.9 3.7h0m.9 3.7h0m.9 4.4h0m.9 4.2h0m1.3 16.4h0m1 0h0m1 .3h0m1.4 16.8h0m1.3 32.9h0m1.3 44.3h0m1.4-39.6h0m1.3 40.4h0m1.3 30.4h0m1.4 19.6h0m1.3-43.4h0m1.3-52h0m1 10.2h0m1 10.2h0m.9-2.2h0m.9-3.1h0m.9-3.8h0m1.1-2.9h0m1.1-2.2h0m1.1-1.9h0m1.1 3.6h0m1.2 1h0m1.1-.8h0m1.1 2.3h0m1.1 1.4h0m1.1 4.1h0m1.1-3.6h0m1.1-2.5h0m1.1-2.7h0m1-1.5h0m1 0h0m1-2.2h0m1-1h0m1 .1h0m1 .4h0m1-.6h0m1-2.2h0m1.1-.8h0m1.2-2.3h0m1.1-.6h0m1.1 3.3h0m1.1 2.5h0m1.1 3.9h0m1.1-.5h0m1.1 0h0m1-1.3h0m1.1-1.1h0m1.1-.3h0m1.2 .9h0m1.1-.1h0m1.1-.7h0m1 1.5h0m1.1-.1h0m1.1 .6h0m1.1-1.3h0m1.1 .3h0m1.1-1h0m1.1-2.5h0m1.2-2.3h0m1.1-3.2h0m1.1-1.7h0m1.1-2.2h0m1.1-.9h0m1-.5h0m1 1.2h0m1 2h0m1-.5h0m1-1h0m1-.1h0m1 .5h0m1-.5h0m1.1 .4h0m1.1-.8h0m1-.3h0m1.1 .1h0m1.1-2.3h0m1.2-.5h0m1.1-1.7h0m.8-5.3h0m.8-5.9h0m1.1-4.3h0m1.2-4.5h0m1.1-1.6h0m1.1-3.3h0m1.1-3h0m1.1-4.3h0m1.1-1h0m1.1-.3h0m1.1-2.3h0m1.1-.3h0m1.2-1.5h0m1.1-.8h0m1.1-2.6h0m1.1-3.4h0m1.1-4.5h0m1 .2h0m1 .8h0m1-.2h0m1 .8h0m1.1-1.9h0m1.1-.2h0m1.1-3.9h0m1.1-.4h0m1.1 .2h0m1.1-1.1h0m1.1-2.2h0m1.1-4.5h0m1.1-3.3h0m1.1-3.8h0m.8-11.1h0m.9-9h0m.8-8.5h0m.8-8.1h0m.9-6.4h0m.8-8.4h0m.9-1.2h0m.9-.5h0m.9 .1h0m1.1 3.3h0m1.2 3.1h0m1.2 4.8h0m1.1 8.3h0m.9 4.3h0m.9 4.1h0m.9 4.9h0m1.1 1.6h0m1.1 3.6h0m1.1 1.2h0m.9-2.9h0m.9-4.6h0m.9-4.3h0m.8-23.4h0m.9-24.6h0m1-27.9h0m1.3-22.4h0m.8 8.5h0m.9 8.8h0m.8 16h0m.8 13.7h0m.9 7.7h0m.9 8.8h0m.9 11.3h0m1.2 9.5h0m1.1 8.5h0m1.2 10.7h0m1.2 13.1h0m.9 2.9h0m.8 3.7h0m.9 3.4h0m1.1-2.6h0m1.2-2.8h0m1.1-2.3h0m.9 .4h0m.8 0h0m.9 .1h0m1.2-6.2h0m1.2-5.9h0m1.1 4h0m1.2 4.4h0m1.1 .7h0m1.1 .2h0m1.1 2.2h0m1.1 .2h0m1.2-1.1h0m1.1-1.1h0m1-23.6h0m1-24.5h0m1.1-26.5h0m1.2-26.7h0m.8-20.2h0m.9-18.3h0m.8-18.7h0m.8-18.3h0m1-5.2h0m1.4 12h0m1.3 32.2h0m1.3 35.6h0m.9 15h0m.8 15.1h0m1.2 9.8h0m1.1 9.3h0m1-11.9h0m1-10h0m1.4-27.8h0m1 5.9h0m1 3.9h0m1.1-.5h0m1.1 1.7h0m1.1-.6h0m1.2-3.1h0m1.1-2.4h0m1.2-7.3h0m1.2-6.7h0m1 5.7h0m1 7.3h0m.8 11.7h0m.8 10.3h0m.9-10.3h0m.8-9.3h0m1.2-5.8h0m1.1-6.8h0m1.2-4.9h0m1.2-5.7h0m1 6.8h0m1 6.9h0m1.1 4.1h0m1.1 3h0m1.1 2.5h0m1.1 3.5h0m1.1-.3h0m1.1 1.1h0m1.2 5.1h0m1.2 7.2h0m.8 14h0m.8 16.3h0m.9 5.1h0m.9 5.8h0m.9 5.7h0m1.2 2.4h0m1.1 1.6h0m1.2 9.8h0m1.2 9.3h0m1.3 19.8h0m1-5.1h0m1-4.6h0m.9-1h0m.9-.7h0m.9-.7h0m.9 .9h0m.8 1.2h0m.9 .5h0m1.4 22.7h0m1.3 26.4h0m1-3h0m1-1.7h0m.9-1.8h0m.9-2.3h0m.9-1.5h0m.9 2.7h0m.8 2.6h0m.9 3.5h0m1.4 19.9h0m1 26.3h0m1 55.1h0m1.3-47.2h0m1 3.6h0m1 4.1h0m1.2 7.7h0m1.1 9h0m1.2-5.6h0m1.2-8h0m1.1 .8h0m1.1 .3h0m1.1 0h0m1.1 .3h0m1.1 .8h0m1-1.6h0m1.1-.5h0m1.1 1.7h0m1.2 3.7h0m1.1 1.4h0m1.1-5.8h0m1.1-5.3h0m1.1-4.2h0m1.1-3.5h0m1.1-2.2h0m1.1-2.9h0m1.2 2.8h0m1.2 2.5h0m.9 4.3h0m.8 3.9h0m.9 3.4h0m.9-1.1h0m.9 .7h0m.9-.8h0m1.2-8.7h0m1.1-7.1h0m1.2-1.7h0m1.2-2.2h0m1.1-1.4h0m1.1 .5h0m1.1 .2h0m1 7.1h0m1 6.2h0m1.3 32.9h0m1-7.3h0m1-7h0m1.1 .4h0m1.2 .2h0m1.1-.1h0m1.1 4.9h0m1.2 5.2h0m1.2 .7h0m1.1 2.7h0m.9 .9h0m.9 1.8h0m.9 1.8h0m.9-1.4h0m.9-4h0m.9-3.7h0m1 .2h0m1-1.4h0m1-1.2h0m1-1.1h0m1-1.1h0m1-1.6h0m1-1h0m1-.8h0m1-.9h0m1-2.3h0m1-1.2h0m1-1.6h0m1-1.7h0m1-1.7h0m1-1.6h0m1-1h0m1-.1h0m1-.4h0m1-.8h0m1.1-3.3h0m1-2.6h0m1.1-3.3h0m1.1-2.2h0m1-2.5h0m1-1.9h0m1-3.3h0m1-3.4h0m1-.6h0m1-2.8h0m1-.3h0m1-2.5h0m1-3.1h0m1-.8h0m1 .2h0m1 0h0m1-2.6h0m1 .4h0m1-1.4h0m1-.7h0m1-.1h0m1 .2h0m1-1.9h0m1.1-4.2h0m1.1-3.2h0m1.1-2.7h0m1.1 3h0m1.1 2.9h0m1.1 1.4h0m1.1 1.7h0m1-3.9h0m1-2.9h0m1-3.3h0m1-1.5h0m.9-1.9h0m.8-.9h0m.9-1.9h0m1.1 2.9h0m1.2 3.7h0m1.1 3.9h0m.9 4.3h0m.8 4.7h0m.9 4.4h0m1-6.9h0m1-5.5h0m1.1-.6h0m1.2 .9h0m1.1-1h0m.9 2.2h0m.8 4h0m.9 2.4h0m1.1-4h0m1.2-1.6h0m1.1-3.1h0m1.1 3.4h0m1.1 .3h0m1.1 1.3h0m1.1-2.2h0m1.1-3.8h0m1.1-1.8h0m1.1-2.4h0m1.2-4.3h0m1.1-5.2h0m.9-5.4h0m.8-6.5h0m.9-5.8h0m.9-11.3h0m.8-11.8h0m.8-16h0m.9-13.9h0m1.3-24.3h0m1-6.1h0m1-5.7h0m1.2-11.3h0m1.1-10h0m1.2 4h0m1.2 3.2h0m1 9.7h0m1 9.7h0m1.3-46.8h0m1-20.1h0m1-19.7h0m1.3-26.4h0m1.4-3.5h0m1.3 28.5h0m.8 17.9h0m.9 18h0m.8 16.1h0m.8 15.4h0m.9 4h0m.9 2.5h0m.9 5.8h0m1-13.2h0m1-11.4h0m1.3-10.3h0m1.4 23.5h0m1 13.7h0m1 13.3h0m.8 6.1h0m.8 6.1h0m.9-13.6h0m.8-11.5h0m.8-14.5h0m.9-16.4h0m.8-16.8h0m.8-16.3h0m.9-15.4h0m.8-15.2h0m1.2 .3h0m1.1 1.8h0m.9-6.6h0m.9-5.9h0m.9-7.8h0m1.2-.8h0m1.1-1.6h0m1.1 2.6h0m1.2 3.1h0m1.1 4.6h0m1.1-1.8h0m1-.1h0m1.1-1.8h0m1.1-1.1h0m1 0h0m1 .8h0m1 .4h0m1 2.6h0m1 .6h0m1-1.1h0m1-1.8h0m1-1.2h0m1.1-1.1h0m1.1 .1h0m1.1-.1h0m.9 5.2h0m.9 4.4h0m.9 3.6h0m.9 5.3h0m.9 4.5h0m.9 5.6h0m1.1 4.7h0m1.2 4.3h0m1.2 11.7h0m1.1 10.1h0m.9 4.4h0m.9 5.6h0m.9 3.8h0m.9 3.4h0m.9 3.2h0m.9 4.1h0m1.1 3.3h0m1.1 3h0m1.1 3.3h0m1-1.3h0m1 .3h0m1-2.2h0m1 .2h0m.9 2.9h0m.9 .6h0m.9 1.5h0m1.1 6h0m1.1 5.1h0m1.1 2.9h0m1.1 3.5h0m1.1 2.7h0m1.1 3.9h0m.9 7.2h0m.8 5.9h0m1.2-4.6h0m1.1-5.4h0m.9 1.4h0m.9 1.3h0m.9 .8h0m1.2 11.7h0m1.1 10.6h0m1.1-.2h0m1.2-.4h0m1.1-.3h0m1.1-3h0m1.1-1.6h0m1.1-3.3h0m1.1 1.5h0m1.1 1.4h0m1.1 .9h0m1.2 2h0m1.2 4.1h0m1 15.4h0m1 13.9h0m1.3 20.2h0m1 7.2h0m1 6.3h0m1.2-7.3h0m1.1-8.9h0m1.1 1.7h0m1.1-2h0m1.1-1.4h0m1.1-.4h0m1 .2h0m1 .8h0m1-1.3h0m1 .1h0m1.1 .6h0m1.1-.7h0m1.1 .1h0m1.1 3h0m1.1 2h0m1.1 3.2h0m1.1-1.2h0m1.2-2h0m1.1-1.8h0m1-.1h0m1 1.2h0m1-.6h0m1-1.1h0m.9 1.6h0m.8 1.9h0m.9 .1h0m1 55.4h0m.9-14.2h0m.8-13.4h0m1.2 .8h0m1.1 1h0m1.2 9.3h0m1.2 9.3h0m1-8h0m1-7.5h0m1.1 5h0m1.2 5.9h0m.8-5.4h0m.9-6.9h0m1-.6h0m1 1.1h0m1-.9h0m1-1h0m1.1-3.2h0m1-2h0m1.1-2.4h0m1.1-2.2h0m1.1-4.7h0m1.1-4h0m1.1-4.6h0m1-.6h0m1 .3h0m1 1.5h0m1 0h0m1-1.3h0m1-1.6h0m1-2.6h0m1-1.1h0m1-.9h0m1-1.5h0m1-.9h0m1-.7h0m1-1.4h0m1-2.4h0m1-1.5h0m1-2.9h0m1-2.8h0m1-4.5h0m1-3.7h0m1.1-.7h0m1.1-2.6h0m1.1-2.4h0m1.1-4.3h0m1.1-5.1h0m1.1-2.4h0m1.1-3.8h0m1.1 1.1h0m1.1 1h0m1.1 .8h0m1.1 2.4h0m1.1 2.1h0m1.1 3h0m1.1 1.9h0m1.1 2.3h0m1.1 3.2h0m1.1 1.9h0m1.2 4.6h0m1.1 6h0m1.2-9.1h0m1.2-8.8h0m1-14.5h0m1-14.8h0m1.3-22.3h0m.9 .7h0m.9 .5h0m.9 1.2h0m1 .7h0m1 1h0m1-1.1h0m1 1h0m1.1 0h0m1.1-.4h0m1.1 .3h0m.9 1.6h0m.9 3.3h0m.9 2.6h0m1.1-2.6h0m1.1-1h0m1.1-2.2h0m1.1-2.3h0m1.1-4.2h0m1.1-3.7h0m.9 4.4h0m.9 7.4h0m.9 4.6h0m1.2 12h0m1.1 10.5h0m.9 11.1h0m.8 8.5h0m.9 3.8h0m.9 6.1h0m.9 4.7h0m1.1-7.6h0m1.2-6.6h0m1.2-15.1h0m1.1-14.5h0m.9 6.2h0m.9 4.9h0m.9 4.8h0m1.1-4.9h0m1.1-6.2h0m1.1-5.7h0m1.1-1.1h0m1.2-.6h0m1.1-1.3h0m1.1 3.9h0m1.1 4.4h0m1.1 1.5h0m1.1 4.6h0m1.1 4.6h0m1.1 2.2h0m1.1-2.4h0m1.2-2.9h0m1.1-1.8h0m1.1-7.8h0m1.1-5.7h0m1.1-5h0m1.1-6h0m1.1-5.8h0m1.1-6.4h0m.9-3.4h0m.9-2.1h0m.9-4h0m1.2 3.8h0m1.1 2.3h0m1.1 4h0m1.2 3h0m1.1 3.9h0m1.1 2.5h0m1.1 1.9h0m1.1 3.4h0m1.2-7.8h0m1.1-5.7h0m.9-2.6h0m.9-.7h0m.9-.4h0m1-9.4h0m1-8.7h0m1.3-15.5h0m.9-4.3h0m.9-2.9h0m.9-5.4h0m1.1 3h0m1.1 2.2h0m1.1 1.9h0m1.1-2.7h0m1.2-.4h0m1.1-.2h0m1.1-11.1h0m1.2-10.6h0m.8-12.3h0m.9-11h0m.9 3.1h0m.8 1.9h0m.9 1.9h0m1.1 .4h0m1.2 1.7h0m1.1 1.2h0m1.1 2.3h0m1.1 .2h0m1.1 .6h0m1.2 8.4h0m1.1 9.3h0m1.2 4.3h0m1.2 5.8h0m1 3.8h0m1 4.3h0m1.1-1.1h0m1.2 .7h0M2540.7 1868.7h0m1 6.1h0m1 4h0m1.1 2.4h0m1.1 2.5h0m1.1 2.7h0m1.2 4.2h0m1.1 4h0m1 33.2h0m1.4-9.6h0m1-3.5h0m1-2.8h0m1.1 .9h0m1.1 1.2h0m1.1 3.3h0m1.1 2.9h0m1.1 2.8h0m1.1 2.9h0m1.1 3.7h0m1.2 3.7h0m1.1 2.6h0m1.1 3.2h0m1.1 2.7h0m1.1 4.6h0m1.1-.9h0m1.1-2.4h0m1.1 .2h0m1.2 5.5h0m1.2 4.8h0m1.1 10.4h0m1.2 10.6h0m.9-6.9h0m.9-5.1h0m.9-5.5h0m1.1-3.2h0m1.1-3.2h0m1.1-5.8h0m1.1-.8h0m1.1-.1h0m1.1-.1h0m1.1 .5h0m1.2 1.5h0m1.1 2.7h0m.9 3.4h0m.8 3.3h0m.9 5h0m1.2 5.1h0m1.2 4.7h0m1.1 6.1h0m1.2 6.5h0m1.3 26h0m.7 24.1h0m1-10.6h0m1-11.5h0m1 8.6h0m1 7.8h0m1 14.4h0m1 14.2h0m1-8.9h0m1-10h0m1-12.2h0m1-13.4h0m1.1 1.5h0m1.1 3.4h0m1.1 1.5h0m1-1.7h0m1-1.2h0m1-1.6h0m1-.9h0m1 2h0m1-.7h0m1-1.1h0m1 1.2h0m1-.7h0m1.1-.2h0m1.1-1.1h0m1.1-.5h0m1.1-.1h0m1 2.6h0m1 1.4h0m1 1.6h0m1 1.6h0m1-2.2h0m1-2.2h0m1-2.3h0m1-1.7h0m1.1-3.2h0m1-3h0m1.1-4.4h0m1.1-2h0m1.1-5h0m1.1-1.1h0m1.1-3.1h0m1.1-.3h0m1.1-.9h0m1.1-2h0m1.1-1.6h0m1-.5h0m1-1.8h0m1-2.7h0m1-.7h0m1-.2h0m1-1.7h0m1-1.5h0m1-.8h0m1.1 0h0m1.1 1h0m1.1-.3h0m.9 2.5h0m.9 2.8h0m.9 3.6h0m1.1-.7h0m1.1-1.8h0m1.1 .2h0m1.1-3.4h0m1.1 0h0m1.1-2h0m1.1-4.8h0m1.2-3.2h0m1.1-3h0m1.1-5h0m1.1-5h0m1.1-4.8h0m.9-5.5h0m.9-3.7h0m.9-6.9h0m1.1-7.4h0m1.2-8.8h0m1.1-2.1h0m1.1-2.6h0m1.1-3.1h0m1.2-1.4h0m1.2-1.9h0m.9 3.4h0m.8 3.2h0m.9 2.9h0m.9 8.4h0m.9 6.7h0m.9 6.4h0m1 1.8h0m1 2.7h0m1-6.7h0m1-7.6h0m.9 1.4h0m.9 3.1h0m.9-.1h0m1.1-7.4h0m1.2-6.2h0m1.2-2.8h0m1.1-4.4h0m.9 1.4h0m.9 1.5h0m.9 0h0m.8-6h0m.9-6.4h0m.8-11.9h0m.8-9.5h0m.9-9h0m.8-8.9h0m.8-.9h0m.9-.8h0m.8 12.4h0m.8 13.9h0m.9 15.4h0m.8 16.2h0m.8 7.5h0m.9 7.9h0m1.1 .8h0m1.2 1.6h0m.9-3.1h0m.9-2.2h0m.9-2.5h0m.9-3.9h0m.8-5.4h0m.9-4.9h0m1.2 5.7h0m1.2 3.7h0m1.1-7.7h0m1.2-9.3h0m.9-6.4h0m.9-5h0m.9-4.8h0m.8-.5h0m.8-2.6h0m.9-14.3h0m.8-14.3h0m1-64.9h0m1.3-62.6h0m.9 14h0m.8 15.5h0m1 31.8h0m1 30.7h0m1.2 15.9h0m1.1 14.9h0m.9 4.8h0m.8 5.7h0m.9-1.8h0m.9-2.7h0m.9-3.6h0m1.1-4.3h0m1.1-1.3h0m1.1-3.7h0m1.2 6.7h0m1.1 4.8h0m1.2-3.8h0m1.2-4.4h0m1-11.6h0m1-11.3h0m1.1-12.7h0m1.2-12.3h0m1.1-2.6h0m1.1-3.5h0m1.1-3.5h0m1.2-15.2h0m1.2-13.5h0m.9-6.6h0m.8-6h0m.9-5.3h0m.9 2.5h0m.8 .4h0m.8 4.5h0m.9 6.5h0m.8 14.9h0m.8 13.4h0m.9 14.7h0m.8 16.8h0m1.1 .1h0m1.1 3.3h0m1.1 1.1h0m1.1 5.3h0m1.2 6.4h0m1.1 4.2h0m1.1 1.7h0m1.1 1.8h0m1.1 1.1h0m1 .2h0m1 1.9h0m1 .7h0m1 1.6h0m1.1 1.2h0m1.1 4h0m1 2.7h0m1.1 2.7h0m1.1-.5h0m1.1-1.4h0m1.1-.3h0m1.1 1.5h0m1.1 2.5h0m1.1 3.3h0m1.1 4h0m1 3.8h0m1 2h0m1 2.8h0m1 2.4h0m1.1 5.2h0m1.1 2.6h0m1.1 4.6h0m1 3.9h0m1 2.5h0m1 2.7h0m1 4.3h0m1.1 2.4h0m1.1 1.2h0m1.1 1.2h0m1.1 2.6h0m1.1 1.5h0m1 1h0m1.1 1.3h0m1.1 1.8h0m1.1 2.8h0m1.1 2.9h0m1.1 1.4h0m1.2 5.2h0m1.2 5h0m1 37.1h0m1.3-17h0m.9-1.5h0m.9 .7h0m.9-1.2h0m.9 6h0m.8 5.2h0m.9 7.4h0m1.2 5.3h0m1.2 7.9h0m1.1-9h0m1.2-9.2h0m.9-4.7h0m.9-4.8h0m.9-4.3h0m1.1 .4h0m1.1-.2h0m1.1 .2h0m1.1 1.8h0m1.1 1.1h0m1.1 1.6h0m.9 7.1h0m.9 6.9h0m.9 3.9h0m1.2-3h0m1.1-4.3h0m1.1-3.7h0m1.2-4.3h0m1.1-3.7h0m1.1-.3h0m1 .4h0m1.1-1.4h0m1.1-.3h0m1-.2h0m1-1.2h0m1-.2h0m1 .8h0m1.1 4.8h0m1.1 3.9h0m1.1 6.2h0m1.1-.7h0m1.2-1.8h0m1.1-3h0m1.1 7h0m1.1 7.1h0m1.1 6.4h0m1-1.7h0m1-.8h0m1-.5h0m1 .1h0m1.1 3.4h0m1.1 3.4h0m1.1 3.1h0m1.1 .4h0m1.1 .2h0m1.1-1.1h0m1.1 1.9h0m1.1 2.5h0m1 .6h0m1.1 2.2h0m1.1 2.1h0m1.1 .2h0m1.1 1.1h0m1.1-.2h0m1.1-3.2h0m1.2-2.3h0m1.1-3.8h0m1-.7h0m1 1.2h0m1 .3h0m1-.1h0m1 0h0m1-.6h0m1-.9h0m1 .6h0m1 .4h0" stroke="#ad0303" stroke-width="5.6" fill="none" stroke-linecap="round"/>
<rect x="292.5" y="713.3" width="2648.4" height="4" fill="#fbfbfb"/>
<rect x="292.5" y="1196.0" width="2648.4" height="4" fill="#fbfbfb"/>
<rect x="292.5" y="1682.3" width="2648.4" height="4" fill="#fbfbfb"/>
<line x1="524.8" x2="524.8" y1="233.1" y2="261.7" stroke="#2e2e2e" stroke-width="3.8"/>
<line x1="524.8" x2="524.8" y1="2136.7000000000003" y2="2165.3" stroke="#2e2e2e" stroke-width="3.8"/>
<text x="525.8" y="2218.6" font-size="44" text-anchor="middle" fill="#2e2e2e" stroke="#2e2e2e" stroke-width="0.9" textLength="82.3" lengthAdjust="spacingAndGlyphs">2017</text>
<line x1="780.4" x2="780.4" y1="233.1" y2="261.7" stroke="#2e2e2e" stroke-width="3.8"/>
<line x1="780.4" x2="780.4" y1="2136.7000000000003" y2="2165.3" stroke="#2e2e2e" stroke-width="3.8"/>
<text x="781.4" y="2218.6" font-size="44" text-anchor="middle" fill="#2e2e2e" stroke="#2e2e2e" stroke-width="0.9" textLength="82.3" lengthAdjust="spacingAndGlyphs">2018</text>
<line x1="1036.0" x2="1036.0" y1="233.1" y2="261.7" stroke="#2e2e2e" stroke-width="3.8"/>
<line x1="1036.0" x2="1036.0" y1="2136.7000000000003" y2="2165.3" stroke="#2e2e2e" stroke-width="3.8"/>
<text x="1037.0" y="2218.6" font-size="44" text-anchor="middle" fill="#2e2e2e" stroke="#2e2e2e" stroke-width="0.9" textLength="82.3" lengthAdjust="spacingAndGlyphs">2019</text>
<line x1="1291.6" x2="1291.6" y1="233.1" y2="261.7" stroke="#2e2e2e" stroke-width="3.8"/>
<line x1="1291.6" x2="1291.6" y1="2136.7000000000003" y2="2165.3" stroke="#2e2e2e" stroke-width="3.8"/>
<text x="1292.6" y="2218.6" font-size="44" text-anchor="middle" fill="#2e2e2e" stroke="#2e2e2e" stroke-width="0.9" textLength="82.3" lengthAdjust="spacingAndGlyphs">2020</text>
<line x1="1547.1999999999998" x2="1547.1999999999998" y1="233.1" y2="261.7" stroke="#2e2e2e" stroke-width="3.8"/>
<line x1="1547.1999999999998" x2="1547.1999999999998" y1="2136.7000000000003" y2="2165.3" stroke="#2e2e2e" stroke-width="3.8"/>
<text x="1548.2" y="2218.6" font-size="44" text-anchor="middle" fill="#2e2e2e" stroke="#2e2e2e" stroke-width="0.9" textLength="82.3" lengthAdjust="spacingAndGlyphs">2021</text>
<line x1="1802.8" x2="1802.8" y1="233.1" y2="261.7" stroke="#2e2e2e" stroke-width="3.8"/>
<line x1="1802.8" x2="1802.8" y1="2136.7000000000003" y2="2165.3" stroke="#2e2e2e" stroke-width="3.8"/>
<text x="1803.8" y="2218.6" font-size="44" text-anchor="middle" fill="#2e2e2e" stroke="#2e2e2e" stroke-width="0.9" textLength="82.3" lengthAdjust="spacingAndGlyphs">2022</text>
<line x1="2058.3999999999996" x2="2058.3999999999996" y1="233.1" y2="261.7" stroke="#2e2e2e" stroke-width="3.8"/>
<line x1="2058.3999999999996" x2="2058.3999999999996" y1="2136.7000000000003" y2="2165.3" stroke="#2e2e2e" stroke-width="3.8"/>
<text x="2059.4" y="2218.6" font-size="44" text-anchor="middle" fill="#2e2e2e" stroke="#2e2e2e" stroke-width="0.9" textLength="82.3" lengthAdjust="spacingAndGlyphs">2023</text>
<line x1="2314.0" x2="2314.0" y1="233.1" y2="261.7" stroke="#2e2e2e" stroke-width="3.8"/>
<line x1="2314.0" x2="2314.0" y1="2136.7000000000003" y2="2165.3" stroke="#2e2e2e" stroke-width="3.8"/>
<text x="2315.0" y="2218.6" font-size="44" text-anchor="middle" fill="#2e2e2e" stroke="#2e2e2e" stroke-width="0.9" textLength="82.3" lengthAdjust="spacingAndGlyphs">2024</text>
<line x1="2569.6" x2="2569.6" y1="233.1" y2="261.7" stroke="#2e2e2e" stroke-width="3.8"/>
<line x1="2569.6" x2="2569.6" y1="2136.7000000000003" y2="2165.3" stroke="#2e2e2e" stroke-width="3.8"/>
<text x="2570.6" y="2218.6" font-size="44" text-anchor="middle" fill="#2e2e2e" stroke="#2e2e2e" stroke-width="0.9" textLength="82.3" lengthAdjust="spacingAndGlyphs">2025</text>
<line x1="2825.2" x2="2825.2" y1="233.1" y2="261.7" stroke="#2e2e2e" stroke-width="3.8"/>
<line x1="2825.2" x2="2825.2" y1="2136.7000000000003" y2="2165.3" stroke="#2e2e2e" stroke-width="3.8"/>
<text x="2826.2" y="2218.6" font-size="44" text-anchor="middle" fill="#2e2e2e" stroke="#2e2e2e" stroke-width="0.9" textLength="82.3" lengthAdjust="spacingAndGlyphs">2026</text>
<line x1="292.5" x2="292.5" y1="233.1" y2="713.0" stroke="#660066" stroke-width="3.0"/>
<line x1="2940.9" x2="2940.9" y1="233.1" y2="713.0" stroke="#660066" stroke-width="3.9"/>
<line x1="292.5" x2="292.5" y1="713.0" y2="1195.7" stroke="#06678a" stroke-width="3.0"/>
<line x1="2940.9" x2="2940.9" y1="713.0" y2="1195.7" stroke="#06678a" stroke-width="3.9"/>
<line x1="292.5" x2="292.5" y1="1195.7" y2="1682.0" stroke="#1c8c0a" stroke-width="3.0"/>
<line x1="2940.9" x2="2940.9" y1="1195.7" y2="1682.0" stroke="#1c8c0a" stroke-width="3.9"/>
<line x1="292.5" x2="292.5" y1="1682.0" y2="2165.3" stroke="#ad0303" stroke-width="3.0"/>
<line x1="2940.9" x2="2940.9" y1="1682.0" y2="2165.3" stroke="#ad0303" stroke-width="3.9"/>
<line x1="291.0" x2="2942.9" y1="233.1" y2="233.1" stroke="#2e2e2e" stroke-width="3.9"/>
<line x1="291.0" x2="2942.9" y1="2165.3" y2="2165.3" stroke="#2e2e2e" stroke-width="3.2"/>
<line x1="292.5" x2="321.1" y1="703.5" y2="703.5" stroke="#660066" stroke-width="3.6"/>
<line x1="2912.3" x2="2940.9" y1="703.5" y2="703.5" stroke="#660066" stroke-width="3.6"/>
<text x="274.5" y="714.4" font-size="43" text-anchor="end" fill="#660066" stroke="#660066" stroke-width="0.9" textLength="20.2" lengthAdjust="spacingAndGlyphs">0</text>
<line x1="292.5" x2="321.1" y1="602.88" y2="602.88" stroke="#660066" stroke-width="3.6"/>
<line x1="2912.3" x2="2940.9" y1="602.88" y2="602.88" stroke="#660066" stroke-width="3.6"/>
<text x="274.5" y="613.8" font-size="43" text-anchor="end" fill="#660066" stroke="#660066" stroke-width="0.9" textLength="20.2" lengthAdjust="spacingAndGlyphs">2</text>
<line x1="292.5" x2="321.1" y1="502.26" y2="502.26" stroke="#660066" stroke-width="3.6"/>
<line x1="2912.3" x2="2940.9" y1="502.26" y2="502.26" stroke="#660066" stroke-width="3.6"/>
<text x="274.5" y="513.2" font-size="43" text-anchor="end" fill="#660066" stroke="#660066" stroke-width="0.9" textLength="20.2" lengthAdjust="spacingAndGlyphs">4</text>
<line x1="292.5" x2="321.1" y1="401.64" y2="401.64" stroke="#660066" stroke-width="3.6"/>
<line x1="2912.3" x2="2940.9" y1="401.64" y2="401.64" stroke="#660066" stroke-width="3.6"/>
<text x="274.5" y="412.5" font-size="43" text-anchor="end" fill="#660066" stroke="#660066" stroke-width="0.9" textLength="20.2" lengthAdjust="spacingAndGlyphs">6</text>
<line x1="292.5" x2="321.1" y1="301.02" y2="301.02" stroke="#660066" stroke-width="3.6"/>
<line x1="2912.3" x2="2940.9" y1="301.02" y2="301.02" stroke="#660066" stroke-width="3.6"/>
<text x="274.5" y="311.9" font-size="43" text-anchor="end" fill="#660066" stroke="#660066" stroke-width="0.9" textLength="20.2" lengthAdjust="spacingAndGlyphs">8</text>
<line x1="292.5" x2="321.1" y1="1166.3000000000002" y2="1166.3000000000002" stroke="#06678a" stroke-width="3.6"/>
<line x1="2912.3" x2="2940.9" y1="1166.3000000000002" y2="1166.3000000000002" stroke="#06678a" stroke-width="3.6"/>
<text x="2959.5" y="1177.2" font-size="43" text-anchor="start" fill="#06678a" stroke="#06678a" stroke-width="0.9" textLength="80.8" lengthAdjust="spacingAndGlyphs">1015</text>
<line x1="292.5" x2="321.1" y1="957.0" y2="957.0" stroke="#06678a" stroke-width="3.6"/>
<line x1="2912.3" x2="2940.9" y1="957.0" y2="957.0" stroke="#06678a" stroke-width="3.6"/>
<text x="2959.5" y="967.9" font-size="43" text-anchor="start" fill="#06678a" stroke="#06678a" stroke-width="0.9" textLength="80.8" lengthAdjust="spacingAndGlyphs">1020</text>
<line x1="292.5" x2="321.1" y1="747.7" y2="747.7" stroke="#06678a" stroke-width="3.6"/>
<line x1="2912.3" x2="2940.9" y1="747.7" y2="747.7" stroke="#06678a" stroke-width="3.6"/>
<text x="2959.5" y="758.6" font-size="43" text-anchor="start" fill="#06678a" stroke="#06678a" stroke-width="0.9" textLength="80.8" lengthAdjust="spacingAndGlyphs">1025</text>
<line x1="292.5" x2="321.1" y1="1631.1" y2="1631.1" stroke="#1c8c0a" stroke-width="3.6"/>
<line x1="2912.3" x2="2940.9" y1="1631.1" y2="1631.1" stroke="#1c8c0a" stroke-width="3.6"/>
<text x="274.5" y="1642.0" font-size="43" text-anchor="end" fill="#1c8c0a" stroke="#1c8c0a" stroke-width="0.9" textLength="40.4" lengthAdjust="spacingAndGlyphs">20</text>
<line x1="292.5" x2="321.1" y1="1463.35" y2="1463.35" stroke="#1c8c0a" stroke-width="3.6"/>
<line x1="2912.3" x2="2940.9" y1="1463.35" y2="1463.35" stroke="#1c8c0a" stroke-width="3.6"/>
<text x="274.5" y="1474.2" font-size="43" text-anchor="end" fill="#1c8c0a" stroke="#1c8c0a" stroke-width="0.9" textLength="40.4" lengthAdjust="spacingAndGlyphs">25</text>
<line x1="292.5" x2="321.1" y1="1295.6" y2="1295.6" stroke="#1c8c0a" stroke-width="3.6"/>
<line x1="2912.3" x2="2940.9" y1="1295.6" y2="1295.6" stroke="#1c8c0a" stroke-width="3.6"/>
<text x="274.5" y="1306.5" font-size="43" text-anchor="end" fill="#1c8c0a" stroke="#1c8c0a" stroke-width="0.9" textLength="40.4" lengthAdjust="spacingAndGlyphs">30</text>
<line x1="292.5" x2="321.1" y1="2073.8" y2="2073.8" stroke="#ad0303" stroke-width="3.6"/>
<line x1="2912.3" x2="2940.9" y1="2073.8" y2="2073.8" stroke="#ad0303" stroke-width="3.6"/>
<text x="2959.5" y="2084.7" font-size="43" text-anchor="start" fill="#ad0303" stroke="#ad0303" stroke-width="0.9" textLength="20.2" lengthAdjust="spacingAndGlyphs">6</text>
<line x1="292.5" x2="321.1" y1="1962.6000000000001" y2="1962.6000000000001" stroke="#ad0303" stroke-width="3.6"/>
<line x1="2912.3" x2="2940.9" y1="1962.6000000000001" y2="1962.6000000000001" stroke="#ad0303" stroke-width="3.6"/>
<text x="2959.5" y="1973.5" font-size="43" text-anchor="start" fill="#ad0303" stroke="#ad0303" stroke-width="0.9" textLength="20.2" lengthAdjust="spacingAndGlyphs">8</text>
<line x1="292.5" x2="321.1" y1="1851.4" y2="1851.4" stroke="#ad0303" stroke-width="3.6"/>
<line x1="2912.3" x2="2940.9" y1="1851.4" y2="1851.4" stroke="#ad0303" stroke-width="3.6"/>
<text x="2959.5" y="1862.3" font-size="43" text-anchor="start" fill="#ad0303" stroke="#ad0303" stroke-width="0.9" textLength="40.4" lengthAdjust="spacingAndGlyphs">10</text>
<line x1="292.5" x2="321.1" y1="1740.2" y2="1740.2" stroke="#ad0303" stroke-width="3.6"/>
<line x1="2912.3" x2="2940.9" y1="1740.2" y2="1740.2" stroke="#ad0303" stroke-width="3.6"/>
<text x="2959.5" y="1751.1" font-size="43" text-anchor="start" fill="#ad0303" stroke="#ad0303" stroke-width="0.9" textLength="40.4" lengthAdjust="spacingAndGlyphs">12</text>
<text transform="translate(171.4,729.3) rotate(-90)" font-size="48" text-anchor="middle" fill="#660066" stroke="#660066" stroke-width="1.1" textLength="151.3" lengthAdjust="spacingAndGlyphs">Oxygen</text>
<text transform="translate(171.4,487.5) rotate(-90)" font-size="48" text-anchor="middle" fill="#660066" stroke="#660066" stroke-width="1.1" textLength="282.5" lengthAdjust="spacingAndGlyphs">Concentration</text>
<text transform="translate(171.4,234.5) rotate(-90)" font-size="48" text-anchor="middle" fill="#660066" stroke="#660066" stroke-width="1.1" textLength="183" lengthAdjust="spacingAndGlyphs">Corrected</text>
<text transform="translate(231,473) rotate(-90)" font-size="48" text-anchor="middle" fill="#660066" stroke="#660066" stroke-width="1.1" textLength="113" lengthAdjust="spacingAndGlyphs">(ml/l)</text>
<text transform="translate(205,1596.2) rotate(-90)" font-size="48" text-anchor="middle" fill="#1c8c0a" stroke="#1c8c0a" stroke-width="1.1" textLength="175.2" lengthAdjust="spacingAndGlyphs">Absolute</text>
<text transform="translate(205,1415.8) rotate(-90)" font-size="48" text-anchor="middle" fill="#1c8c0a" stroke="#1c8c0a" stroke-width="1.1" textLength="151.9" lengthAdjust="spacingAndGlyphs">Salinity</text>
<text transform="translate(205,1258.6) rotate(-90)" font-size="48" text-anchor="middle" fill="#1c8c0a" stroke="#1c8c0a" stroke-width="1.1" textLength="120.3" lengthAdjust="spacingAndGlyphs">(g/kg)</text>
<text transform="translate(3094.5,1044.4) rotate(-90)" font-size="48" text-anchor="middle" fill="#06678a" stroke="#06678a" stroke-width="1.1" textLength="152.8" lengthAdjust="spacingAndGlyphs">Density</text>
<text transform="translate(3094.5,871) rotate(-90)" font-size="48" text-anchor="middle" fill="#06678a" stroke="#06678a" stroke-width="1.1" textLength="154" lengthAdjust="spacingAndGlyphs">(kg/m<tspan dy="-17" font-size="35">3</tspan><tspan dy="17">)</tspan></text>
<text transform="translate(3052.2,1969.8) rotate(-90)" font-size="48" text-anchor="middle" fill="#ad0303" stroke="#ad0303" stroke-width="1.1" textLength="250.8" lengthAdjust="spacingAndGlyphs">Temperature</text>
<text transform="translate(3052.2,1786) rotate(-90)" font-size="48" text-anchor="middle" fill="#ad0303" stroke="#ad0303" stroke-width="1.1" textLength="57.9" lengthAdjust="spacingAndGlyphs">(C)</text>
<text x="1843.5" y="95" font-size="47" fill="#000" stroke="#000" stroke-width="1.0" paint-order="stroke" textLength="1096.5" lengthAdjust="spacingAndGlyphs" >Oxygen, Density, Salinity and Sea Water Temperature</text>
<text x="1126.9" y="148.8" font-size="47" fill="#000" stroke="#000" stroke-width="1.0" paint-order="stroke" textLength="322.5" lengthAdjust="spacingAndGlyphs" >Chatham Sound</text>
<circle cx="1478.3" cy="137.0" r="9.2" fill="#000"/>
<text x="1505.9" y="148.8" font-size="47" fill="#000" stroke="#000" stroke-width="1.0" paint-order="stroke" textLength="688.5" lengthAdjust="spacingAndGlyphs" >Digby Island Underwater Network</text>
<circle cx="2222.7" cy="137.0" r="9.2" fill="#000"/>
<text x="2253.9" y="148.8" font-size="47" fill="#000" stroke="#000" stroke-width="1.0" paint-order="stroke" textLength="198.8" lengthAdjust="spacingAndGlyphs" >53.9352°N</text>
<circle cx="2483" cy="137.0" r="9.2" fill="#000"/>
<text x="2512" y="148.8" font-size="47" fill="#000" stroke="#000" stroke-width="1.0" paint-order="stroke" textLength="228.0" lengthAdjust="spacingAndGlyphs" >130.0278°W</text>
<circle cx="2777" cy="137.0" r="9.2" fill="#000"/>
<text x="2806.4" y="148.8" font-size="47" fill="#000" stroke="#000" stroke-width="1.0" paint-order="stroke" textLength="134.6" lengthAdjust="spacingAndGlyphs" >24.6 m</text>
<text x="1369" y="204.5" font-size="47" fill="#000" stroke="#000" stroke-width="1.0" paint-order="stroke" textLength="395.0" lengthAdjust="spacingAndGlyphs" >State of Ocean Plot</text>
<circle cx="1793" cy="192.7" r="9.2" fill="#000"/>
<text x="1822.7" y="204.5" font-size="47" fill="#000" stroke="#000" stroke-width="1.0" paint-order="stroke" textLength="1117.3" lengthAdjust="spacingAndGlyphs" >1 Day Clean Min/Max (Bars) + Clean Average (Lines)</text>
<text x="1617" y="2276" font-size="48" text-anchor="middle" fill="#000" stroke="#000" stroke-width="1.0" paint-order="stroke" textLength="385" lengthAdjust="spacingAndGlyphs">Time (years, UTC)</text>
<clipPath id="lg"><rect x="300" y="62" width="650" height="33"/></clipPath>
<g clip-path="url(#lg)" fill="none" stroke="#179bc0" stroke-width="7.0" stroke-linejoin="miter" stroke-miterlimit="3">
<path transform="translate(306.2 62.0)" d="M6.5 3.5H18.1L21.1 6.5V26.5L18.1 29.5H6.5L3.5 26.5V6.5Z"/>
<path transform="translate(339 62.0)" d="M18.9 12.0V6.5L15.899999999999999 3.5H6.5L3.5 6.5V26.5L6.5 29.5H15.899999999999999L18.9 26.5V21.0"/>
<path transform="translate(369.6 62.0)" d="M22.4 3.5H3.5V29.5H22.4M3.5 16.5H19.4"/>
<path transform="translate(396.4 62.0)" d="M2.0 36.0L10.5 -3M15.7 -3L24.2 36.0M10.1 3.2H16.1M6.5 23.5H19.7"/>
<path transform="translate(429.3 62.0)" d="M3.5 33.0V0M23.3 33.0V0M4.5 2.5L22.3 30.5"/>
<path transform="translate(478.5 62.0)" d="M3.5 33.0V0M20.4 33.0V0M4.5 2.5L19.4 30.5"/>
<path transform="translate(510.6 62.0)" d="M20.9 3.5H3.5V29.5H20.9M3.5 16.5H17.9"/>
<path transform="translate(535.2 62.0)" d="M0 3.5H26.8M13.4 3.5V33.0"/>
<path transform="translate(562 62.0)" d="M2.4 -3L11.0 36.0M12.76 36.0L21.0 4M23.0 4L31.24 36.0M33.0 36.0L41.6 -3M9.0 30.1H14.76M29.24 30.1H35.0M19.5 7H24.5"/>
<path transform="translate(611.3 62.0)" d="M6.5 3.5H16.8L19.8 6.5V26.5L16.8 29.5H6.5L3.5 26.5V6.5Z"/>
<path transform="translate(642 62.0)" d="M3.5 33.0V3.5H17.5L20.5 6.5V15.0L17.5 18.0H3.5M12.0 18.0L20.2 36.0"/>
<path transform="translate(673.4 62.0)" d="M3.5 0V33.0M23.5 -3L6.5 16.5L23.900000000000002 36.0"/>
<path transform="translate(705.5 62.0)" d="M21.0 11.0V6.5L18.0 3.5H6.5L3.5 6.5V13.5L6.5 16.5H18.0L21.0 19.5V26.5L18.0 29.5H6.5L3.5 26.5V22.0"/>
<path transform="translate(750.2 62.0)" d="M21.9 12.0V6.5L18.9 3.5H6.5L3.5 6.5V26.5L6.5 29.5H18.9L21.9 26.5V21.0"/>
<path transform="translate(780 62.0)" d="M2.0 36.0L11.6 -3M16.8 -3L26.4 36.0M11.2 3.2H17.2M6.5 23.5H21.9"/>
<path transform="translate(815 62.0)" d="M3.5 33.0V0M22.0 33.0V0M4.5 2.5L21.0 30.5"/>
<path transform="translate(847.2 62.0)" d="M2.0 36.0L10.8 -3M16.0 -3L24.8 36.0M10.4 3.2H16.4M6.5 23.5H20.3"/>
<path transform="translate(881.5 62.0)" d="M3.5 3.5H17.0L21.0 7.5V25.5L17.0 29.5H3.5Z"/>
<path transform="translate(911.4 62.0)" d="M2.0 36.0L11.200000000000001 -3M16.400000000000002 -3L25.6 36.0M10.8 3.2H16.8M6.5 23.5H21.1"/>
</g>
<text x="160.9" y="2355.5" font-size="32.5" fill="#000" stroke="#000" stroke-width="0.65" textLength="198.0" lengthAdjust="spacingAndGlyphs">Sample period:</text>
<text x="380.6" y="2355.5" font-size="32.5" fill="#000" stroke="#000" stroke-width="0.65" textLength="260.4" lengthAdjust="spacingAndGlyphs">1 second (average).</text>
<text x="657.2" y="2355.5" font-size="32.5" fill="#000" stroke="#000" stroke-width="0.65" textLength="153.6" lengthAdjust="spacingAndGlyphs">Comments:</text>
<text x="834.6" y="2355.5" font-size="32.5" fill="#000" stroke="#000" stroke-width="0.65" textLength="825.4" lengthAdjust="spacingAndGlyphs">Clean Data (major quality failures (QAQC 3,4,6) excluded):</text>
<text x="1675.3" y="2355.5" font-size="32.5" fill="#000" stroke="#000" stroke-width="0.65" textLength="388.9" lengthAdjust="spacingAndGlyphs">all data plotted pass QAQC.</text>
<text x="2087.6" y="2355.5" font-size="32.5" fill="#000" stroke="#000" stroke-width="0.65" textLength="441.9" lengthAdjust="spacingAndGlyphs">QAQC testing complete, manual</text>
<text x="160.9" y="2393" font-size="32.5" fill="#000" stroke="#000" stroke-width="0.65" textLength="661.8" lengthAdjust="spacingAndGlyphs">QAQC screening may be needed for recent data.</text>
<text x="845.5" y="2393" font-size="32.5" fill="#000" stroke="#000" stroke-width="0.65" textLength="408.5" lengthAdjust="spacingAndGlyphs">See documentation for details.</text>
<text x="2567" y="2377" font-size="32.5" font-style="italic" fill="#000" stroke="#000" stroke-width="0.65" textLength="582.3" lengthAdjust="spacingAndGlyphs">Plot generated 21-Apr-2026 04:09:26 UTC</text>
</svg></body></html>
